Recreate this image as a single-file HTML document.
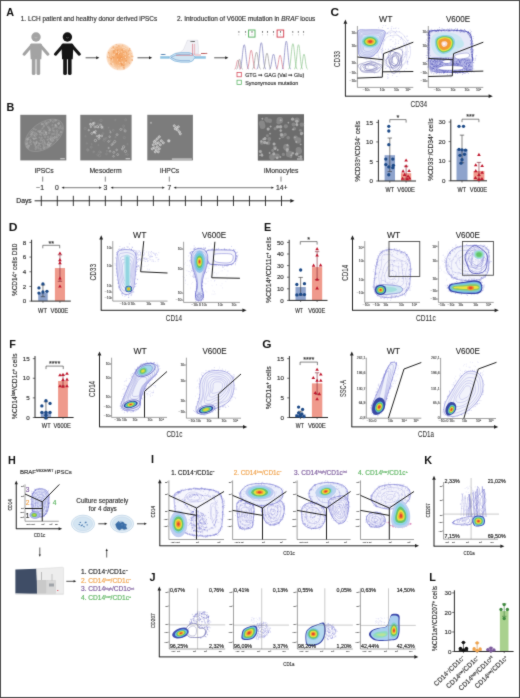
<!DOCTYPE html>
<html><head><meta charset="utf-8"><title>Figure</title>
<style>
html,body{margin:0;padding:0;background:#fff;}
body{width:520px;height:698px;overflow:hidden;font-family:"Liberation Sans", sans-serif;}
svg{display:block;}
text{font-family:"Liberation Sans", sans-serif;}
</style></head><body>
<svg width="520" height="698" viewBox="0 0 520 698">
<defs>
<radialGradient id="og" cx="0.5" cy="0.5" r="0.5"><stop offset="0" stop-color="#f4a25e"/><stop offset="0.55" stop-color="#f6b57e"/><stop offset="0.85" stop-color="#f9d0ac"/><stop offset="1" stop-color="#fdeadb"/></radialGradient>
<filter id="soft" x="0" y="0" width="520" height="698" filterUnits="userSpaceOnUse" color-interpolation-filters="sRGB"><feConvolveMatrix order="3" kernelMatrix="0.02 0.08 0.02 0.08 0.6 0.08 0.02 0.08 0.02" edgeMode="duplicate"/></filter>
</defs>
<rect x="0" y="0" width="520" height="698" fill="#fff"/>
<g filter="url(#soft)"><rect x="0" y="0" width="520" height="698" fill="#fff"/>
<rect x="0.5" y="0.5" width="519" height="697" fill="none" stroke="#4a4a4a" stroke-width="1" />
<text x="0" y="0" font-size="10.8" font-weight="bold" fill="#111" transform="translate(6.3 15.8) scale(1 1)">A</text>
<text x="0" y="0" font-size="10.8" font-weight="bold" fill="#111" transform="translate(6.5 110.6) scale(1 1)">B</text>
<text x="0" y="0" font-size="10.8" font-weight="bold" fill="#111" transform="translate(330.4 15.5) scale(1.1 1)">C</text>
<text x="0" y="0" font-size="10.8" font-weight="bold" fill="#111" transform="translate(8.8 231) scale(1.12 1)">D</text>
<text x="0" y="0" font-size="10.8" font-weight="bold" fill="#111" transform="translate(264 231.2) scale(1 1)">E</text>
<text x="0" y="0" font-size="10.8" font-weight="bold" fill="#111" transform="translate(9.2 347.8) scale(1 1)">F</text>
<text x="0" y="0" font-size="10.8" font-weight="bold" fill="#111" transform="translate(262.2 347.6) scale(1.1 1)">G</text>
<text x="0" y="0" font-size="10.8" font-weight="bold" fill="#111" transform="translate(8 463.9) scale(1 1)">H</text>
<text x="0" y="0" font-size="10.8" font-weight="bold" fill="#111" transform="translate(151 463.3) scale(1 1)">I</text>
<text x="0" y="0" font-size="10.8" font-weight="bold" fill="#111" transform="translate(149.4 581.4) scale(1 1)">J</text>
<text x="0" y="0" font-size="10.8" font-weight="bold" fill="#111" transform="translate(424.2 464) scale(1 1)">K</text>
<text x="0" y="0" font-size="10.8" font-weight="bold" fill="#111" transform="translate(429.2 580.9) scale(1 1)">L</text>
<text x="20.8" y="21.2" font-size="6.4" fill="#333" textLength="136.3" lengthAdjust="spacingAndGlyphs" stroke="#333" stroke-width="0.16">1. LCH patient and healthy donor derived iPSCs</text>
<text x="177" y="21.2" font-size="6.4" fill="#333" textLength="138.2" lengthAdjust="spacingAndGlyphs" stroke="#333" stroke-width="0.16">2. Introduction of V600E mutation in <tspan font-style="italic">BRAF</tspan> locus</text>
<g fill="#a3a3a3" stroke="none">
<circle cx="36" cy="37.0" r="4.7"/>
<path d="M31.7,43.6 h8.6 q1.6,0 1.7,1.8 l-0.7,13.8 h-10.6 l-0.7,-13.8 q0.1,-1.8 1.7,-1.8 z"/>
</g>
<g stroke="#a3a3a3" stroke-width="3.1" stroke-linecap="round" fill="none">
<path d="M31.7,45.4 L24.1,54.2"/>
<path d="M40.3,45.4 L47.9,54.2"/>
</g>
<g stroke="#a3a3a3" stroke-width="3.7" stroke-linecap="round" fill="none">
<path d="M33.65,57.5 V73.2"/>
<path d="M38.35,57.5 V73.2"/>
</g>
<path d="M34.6,37.4 q1.4,1.2 2.8,0" stroke="#fff" stroke-width="0.5" fill="none" opacity="0.5"/>
<g fill="#151515" stroke="none">
<circle cx="67.4" cy="37.0" r="4.7"/>
<path d="M63.1,43.6 h8.6 q1.6,0 1.7,1.8 l-0.7,13.8 h-10.6 l-0.7,-13.8 q0.1,-1.8 1.7,-1.8 z"/>
</g>
<g stroke="#151515" stroke-width="3.1" stroke-linecap="round" fill="none">
<path d="M63.1,45.4 L55.5,54.2"/>
<path d="M71.7,45.4 L79.3,54.2"/>
</g>
<g stroke="#151515" stroke-width="3.7" stroke-linecap="round" fill="none">
<path d="M65.05,57.5 V73.2"/>
<path d="M69.75,57.5 V73.2"/>
</g>
<path d="M66,37.4 q1.4,1.2 2.8,0" stroke="#fff" stroke-width="0.5" fill="none" opacity="0.5"/>
<line x1="85.6" y1="57.8" x2="96.7" y2="57.8" stroke="#222" stroke-width="0.75" />
<polygon points="99.4,57.8 96.2,59.3 96.2,56.3" fill="#222"/>
<line x1="137.5" y1="57.8" x2="149.5" y2="57.8" stroke="#222" stroke-width="0.75" />
<polygon points="152.2,57.8 149,59.3 149,56.3" fill="#222"/>
<line x1="214.2" y1="57.8" x2="225.7" y2="57.8" stroke="#222" stroke-width="0.75" />
<polygon points="228.4,57.8 225.2,59.3 225.2,56.3" fill="#222"/>
<circle cx="119.8" cy="56.8" r="13.6" fill="url(#og)"/>
<g fill="#e9853a" opacity="0.55"><circle cx="110.51" cy="59.67" r="0.77"/><circle cx="110.75" cy="58.78" r="0.61"/><circle cx="123.51" cy="65.33" r="0.63"/><circle cx="120.86" cy="52.96" r="0.49"/><circle cx="129.65" cy="63.11" r="0.66"/><circle cx="132.24" cy="60.15" r="0.78"/><circle cx="114.01" cy="48.4" r="0.42"/><circle cx="129.21" cy="57.69" r="0.38"/><circle cx="122.15" cy="62.75" r="0.36"/><circle cx="111.39" cy="58.74" r="0.73"/><circle cx="109.47" cy="55.55" r="0.57"/><circle cx="115.2" cy="49.31" r="0.48"/><circle cx="132.77" cy="56.61" r="0.73"/><circle cx="117.89" cy="49.76" r="0.45"/><circle cx="118.96" cy="60.14" r="0.69"/><circle cx="110.11" cy="63.81" r="0.52"/><circle cx="131.35" cy="53.68" r="0.35"/><circle cx="122.91" cy="68.81" r="0.56"/><circle cx="127.93" cy="55.79" r="0.38"/><circle cx="111.92" cy="48.47" r="0.47"/><circle cx="126.2" cy="60.7" r="0.78"/><circle cx="120.03" cy="52.34" r="0.46"/><circle cx="122.36" cy="58.69" r="0.71"/><circle cx="124.07" cy="65.54" r="0.55"/><circle cx="123.85" cy="67.16" r="0.41"/><circle cx="117.05" cy="53.32" r="0.54"/><circle cx="121.36" cy="63.37" r="0.79"/><circle cx="122.16" cy="50.03" r="0.75"/><circle cx="121.79" cy="64.72" r="0.73"/><circle cx="117.21" cy="53.6" r="0.8"/><circle cx="121.31" cy="63.23" r="0.7"/><circle cx="116.43" cy="63.02" r="0.38"/><circle cx="128.18" cy="62.12" r="0.46"/><circle cx="113.43" cy="52.09" r="0.55"/><circle cx="128.55" cy="54.5" r="0.61"/><circle cx="123.52" cy="52.67" r="0.42"/><circle cx="129.66" cy="50.4" r="0.46"/><circle cx="123.93" cy="67.19" r="0.77"/><circle cx="123.97" cy="68.76" r="0.75"/><circle cx="113.08" cy="51.69" r="0.4"/><circle cx="132.18" cy="59.87" r="0.46"/><circle cx="117.94" cy="50.48" r="0.72"/><circle cx="114.01" cy="52.79" r="0.43"/><circle cx="119.17" cy="53.45" r="0.45"/><circle cx="108.62" cy="52.43" r="0.63"/><circle cx="117.45" cy="69.03" r="0.44"/><circle cx="126.51" cy="57.5" r="0.55"/><circle cx="124.87" cy="58.82" r="0.52"/><circle cx="115.56" cy="54.73" r="0.51"/><circle cx="129.77" cy="48.65" r="0.65"/><circle cx="116.21" cy="47.53" r="0.41"/><circle cx="121.5" cy="57.18" r="0.76"/><circle cx="115.93" cy="44.64" r="0.36"/><circle cx="113.88" cy="49.98" r="0.68"/><circle cx="114.35" cy="68.6" r="0.38"/><circle cx="109.1" cy="53.61" r="0.76"/><circle cx="118.92" cy="45.93" r="0.71"/><circle cx="126.44" cy="52.87" r="0.66"/><circle cx="129.65" cy="49.72" r="0.54"/><circle cx="122.84" cy="45.11" r="0.61"/><circle cx="114.11" cy="51.12" r="0.61"/><circle cx="116.95" cy="54.47" r="0.64"/><circle cx="131.98" cy="56.29" r="0.68"/><circle cx="111.28" cy="63.99" r="0.61"/><circle cx="108.72" cy="61.15" r="0.39"/><circle cx="119.8" cy="54.56" r="0.62"/><circle cx="113.61" cy="57.54" r="0.66"/><circle cx="109.61" cy="56.98" r="0.76"/><circle cx="119.75" cy="58.18" r="0.49"/><circle cx="117.25" cy="51.54" r="0.43"/><circle cx="128.56" cy="50.9" r="0.55"/><circle cx="125.58" cy="52.12" r="0.65"/><circle cx="122.51" cy="64.89" r="0.71"/><circle cx="130.27" cy="50.54" r="0.52"/><circle cx="113.46" cy="53.15" r="0.41"/><circle cx="107.91" cy="57.06" r="0.73"/><circle cx="116.74" cy="44.5" r="0.47"/><circle cx="124.05" cy="64.42" r="0.47"/><circle cx="121.67" cy="64.95" r="0.63"/><circle cx="112.5" cy="57.08" r="0.73"/><circle cx="128.49" cy="55.82" r="0.38"/><circle cx="131.71" cy="59.19" r="0.37"/><circle cx="117.28" cy="47.31" r="0.49"/><circle cx="120.26" cy="55.06" r="0.41"/><circle cx="117.84" cy="57.37" r="0.72"/><circle cx="120.19" cy="61.66" r="0.37"/><circle cx="113.82" cy="50.5" r="0.63"/><circle cx="113.24" cy="47.14" r="0.78"/><circle cx="117.48" cy="51.48" r="0.56"/><circle cx="120.38" cy="58.02" r="0.56"/></g>
<g fill="#fde3cc" opacity="0.8"><circle cx="118.57" cy="51.44" r="0.47"/><circle cx="113.66" cy="65.75" r="0.58"/><circle cx="111.29" cy="49.35" r="0.53"/><circle cx="123.02" cy="44.85" r="0.39"/><circle cx="129.87" cy="52.26" r="0.41"/><circle cx="109.95" cy="59.76" r="0.76"/><circle cx="112.79" cy="63.65" r="0.75"/><circle cx="123.46" cy="44.71" r="0.56"/><circle cx="116.38" cy="52.01" r="0.67"/><circle cx="124.14" cy="47.33" r="0.67"/><circle cx="122.62" cy="68.81" r="0.79"/><circle cx="129.23" cy="55.45" r="0.71"/><circle cx="114.49" cy="68.01" r="0.74"/><circle cx="117.63" cy="59.85" r="0.55"/><circle cx="108.97" cy="53.26" r="0.57"/><circle cx="131.31" cy="58.88" r="0.38"/><circle cx="121.47" cy="51.66" r="0.5"/><circle cx="120.95" cy="52.06" r="0.42"/><circle cx="108.8" cy="55.65" r="0.73"/><circle cx="115.1" cy="45.06" r="0.57"/><circle cx="123.42" cy="55.6" r="0.45"/><circle cx="112.9" cy="55.63" r="0.68"/><circle cx="113.76" cy="49.6" r="0.73"/><circle cx="113.05" cy="54.13" r="0.52"/><circle cx="126.75" cy="46.61" r="0.44"/><circle cx="127.37" cy="46.49" r="0.59"/><circle cx="114.57" cy="54.22" r="0.59"/><circle cx="109.69" cy="56.6" r="0.36"/><circle cx="128.97" cy="55.02" r="0.53"/><circle cx="122.88" cy="47.54" r="0.57"/><circle cx="118.59" cy="53.69" r="0.59"/><circle cx="108.9" cy="63.36" r="0.77"/><circle cx="118.72" cy="65.68" r="0.41"/><circle cx="109.06" cy="61.55" r="0.76"/><circle cx="112.56" cy="57.88" r="0.44"/><circle cx="110.57" cy="48.36" r="0.41"/><circle cx="120.16" cy="54.87" r="0.44"/><circle cx="121.33" cy="67.47" r="0.49"/><circle cx="113.51" cy="64.87" r="0.4"/><circle cx="119.25" cy="52.28" r="0.58"/><circle cx="119.78" cy="62.58" r="0.59"/><circle cx="112.45" cy="59.88" r="0.54"/><circle cx="114.69" cy="55.85" r="0.44"/><circle cx="112.75" cy="49.17" r="0.59"/><circle cx="125.84" cy="48.62" r="0.74"/><circle cx="121.02" cy="67.92" r="0.71"/><circle cx="125.78" cy="52.61" r="0.49"/><circle cx="125.17" cy="53.97" r="0.8"/><circle cx="123.42" cy="53.71" r="0.46"/><circle cx="118.83" cy="50.25" r="0.39"/><circle cx="123.97" cy="49.46" r="0.71"/><circle cx="125.6" cy="62.67" r="0.66"/><circle cx="125.59" cy="57.45" r="0.66"/><circle cx="130.66" cy="50.04" r="0.4"/><circle cx="108.49" cy="56.4" r="0.58"/><circle cx="117.58" cy="51.6" r="0.38"/><circle cx="121.78" cy="58.36" r="0.6"/><circle cx="110.04" cy="55.89" r="0.42"/><circle cx="122.15" cy="62.18" r="0.73"/><circle cx="132.29" cy="56.04" r="0.39"/></g>
<g>
<path d="M187.4,40.2 q-1.5,4 -4,9.5 q-2,3 -8,3.5 l23,0.5 q0.5,-6 -0.7,-13.5 z" fill="#f1f1f6" stroke="#c9c9d6" stroke-width="0.4"/>
<rect x="160.2" y="56.2" width="9" height="2.5" fill="#8fc4e3" stroke="none" stroke-width="0.8" />
<rect x="194" y="56.2" width="11.8" height="2.5" fill="#8fc4e3" stroke="none" stroke-width="0.8" />
<path d="M168.6,57.4 Q174,52.6 181,52.6 L189,52.6 Q193,52.6 195,57.4 Q193,62.2 189,62.2 L181,62.2 Q174,62.2 168.6,57.4 z" fill="#cfe4f2" stroke="#6fa9d6" stroke-width="0.6"/>
<path d="M171,57.4 Q176,54.3 181,54.3 L190,54.3" stroke="#5b8fc6" stroke-width="0.5" fill="none"/>
<path d="M171,57.4 Q176,60.6 181,60.6 L190,60.6" stroke="#5b8fc6" stroke-width="0.5" fill="none"/>
<line x1="176" y1="55.3" x2="193" y2="55.3" stroke="#d05a6a" stroke-width="0.55" />
<line x1="192.6" y1="43.8" x2="192.6" y2="55" stroke="#d05a6a" stroke-width="0.6" />
<line x1="194.6" y1="43.8" x2="194.6" y2="55" stroke="#e0909a" stroke-width="0.6" />
<line x1="194.6" y1="55" x2="201" y2="55" stroke="#d05a6a" stroke-width="0.55" />
<text x="190.5" y="41.9" font-size="1.9" fill="#555" stroke="#555" stroke-width="0.16">Cas9</text>
<text x="201.2" y="54.3" font-size="1.9" fill="#a33" stroke="#a33" stroke-width="0.16">sgRNA</text>
<text x="160.8" y="55.3" font-size="1.9" fill="#3a6ea5" stroke="#3a6ea5" stroke-width="0.16">Xdna</text>
</g>
<circle cx="238.9" cy="31.9" r="0.55" fill="#222"/>
<rect x="238.65" y="34.2" width="0.5" height="1.2" fill="#999"/>
<circle cx="245.6" cy="31.9" r="0.55" fill="#222"/>
<rect x="245.35" y="34.2" width="0.5" height="1.2" fill="#999"/>
<circle cx="252" cy="31.9" r="0.55" fill="#222"/>
<rect x="251.75" y="34.2" width="0.5" height="1.2" fill="#999"/>
<circle cx="262.5" cy="31.9" r="0.55" fill="#222"/>
<rect x="262.25" y="34.2" width="0.5" height="1.2" fill="#999"/>
<circle cx="267.5" cy="31.9" r="0.55" fill="#222"/>
<rect x="267.25" y="34.2" width="0.5" height="1.2" fill="#999"/>
<circle cx="273.5" cy="31.9" r="0.55" fill="#222"/>
<rect x="273.25" y="34.2" width="0.5" height="1.2" fill="#999"/>
<circle cx="280.5" cy="31.9" r="0.55" fill="#222"/>
<rect x="280.25" y="34.2" width="0.5" height="1.2" fill="#999"/>
<circle cx="292.8" cy="31.9" r="0.55" fill="#222"/>
<rect x="292.55" y="34.2" width="0.5" height="1.2" fill="#999"/>
<circle cx="298.3" cy="31.9" r="0.55" fill="#222"/>
<rect x="298.05" y="34.2" width="0.5" height="1.2" fill="#999"/>
<circle cx="303.6" cy="31.9" r="0.55" fill="#222"/>
<rect x="303.35" y="34.2" width="0.5" height="1.2" fill="#999"/>
<rect x="248.6" y="30" width="6.4" height="7.1" fill="none" stroke="#4fae5a" stroke-width="0.9" />
<rect x="277.1" y="30" width="6.6" height="7.1" fill="none" stroke="#d1394a" stroke-width="0.9" />
<path d="M239.6,69.2 C242.13,69.2 242.59,44.7 244.2,44.7 C245.81,44.7 246.27,69.2 248.8,69.2 M256.7,69.2 C259.23,69.2 259.69,42.7 261.3,42.7 C262.91,42.7 263.37,69.2 265.9,69.2 M269.3,69.2 C271.61,69.2 272.03,54.2 273.5,54.2 C274.97,54.2 275.39,69.2 277.7,69.2 M281.9,69.2 C284.32,69.2 284.76,41.2 286.3,41.2 C287.84,41.2 288.28,69.2 290.7,69.2 " fill="none" stroke="#8484c0" stroke-width="0.75"/>
<path d="M246.9,69.2 C249.26,69.2 249.69,50.2 251.2,50.2 C252.7,50.2 253.13,69.2 255.5,69.2 M276.1,69.2 C278.3,69.2 278.7,55.2 280.1,55.2 C281.5,55.2 281.9,69.2 284.1,69.2 M234.6,69.2 C236.36,69.2 236.68,60.2 237.8,60.2 C238.92,60.2 239.24,69.2 241,69.2 " fill="none" stroke="#d9808f" stroke-width="0.75"/>
<path d="M252.3,69.2 C254.61,69.2 255.03,52.2 256.5,52.2 C257.97,52.2 258.39,69.2 260.7,69.2 M263,69.2 C265.2,69.2 265.6,53.2 267,53.2 C268.4,53.2 268.8,69.2 271,69.2 M236.5,69.2 C238.15,69.2 238.45,59.2 239.5,59.2 C240.55,59.2 240.85,69.2 242.5,69.2 " fill="none" stroke="#9e9e9e" stroke-width="0.75"/>
<path d="M288.5,69.2 C290.92,69.2 291.36,43.7 292.9,43.7 C294.44,43.7 294.88,69.2 297.3,69.2 M294.3,69.2 C296.61,69.2 297.03,44.7 298.5,44.7 C299.97,44.7 300.39,69.2 302.7,69.2 M300.4,69.2 C302.38,69.2 302.74,54.2 304,54.2 C305.26,54.2 305.62,69.2 307.6,69.2 " fill="none" stroke="#95c995" stroke-width="0.75"/>
<rect x="237" y="72.4" width="4.3" height="4.4" fill="none" stroke="#d1394a" stroke-width="0.7" />
<rect x="237" y="80.2" width="4.3" height="4.4" fill="none" stroke="#4fae5a" stroke-width="0.7" />
<text x="245.2" y="76.8" font-size="6" fill="#333" textLength="59" lengthAdjust="spacingAndGlyphs" stroke="#333" stroke-width="0.16">GTG ➞ GAG (Val ➞ Glu)</text>
<text x="245.2" y="84.6" font-size="6" fill="#333" textLength="53" lengthAdjust="spacingAndGlyphs" stroke="#333" stroke-width="0.16">Synonymous mutation</text>
<rect x="20.3" y="114.8" width="46" height="45.6" fill="#7c7c7c" stroke="none" stroke-width="0.8" />
<ellipse cx="44.22" cy="135.32" rx="21.62" ry="12.77" transform="rotate(-35 44.22 135.32)" fill="#838383" stroke="#a0a0a0" stroke-width="0.5"/>
<g fill="none" stroke="#b8b8b8" stroke-width="0.35"><circle cx="59.27" cy="134.74" r="0.81"/><circle cx="48.62" cy="142.42" r="0.68"/><circle cx="30.57" cy="134.4" r="0.54"/><circle cx="60.58" cy="126.21" r="0.67"/><circle cx="43.97" cy="134.83" r="0.68"/><circle cx="39.58" cy="131.76" r="0.88"/><circle cx="45.94" cy="132.64" r="0.51"/><circle cx="26.65" cy="144.02" r="0.65"/><circle cx="50.84" cy="139.88" r="0.51"/><circle cx="50.63" cy="140.26" r="0.7"/><circle cx="48.33" cy="139.35" r="0.59"/><circle cx="36.3" cy="142.82" r="0.51"/><circle cx="46.51" cy="124.51" r="0.76"/><circle cx="57.07" cy="139.59" r="0.84"/><circle cx="54.01" cy="134.21" r="0.79"/><circle cx="33.87" cy="128.97" r="0.67"/><circle cx="46.03" cy="123.67" r="0.62"/><circle cx="27.3" cy="140.06" r="0.84"/><circle cx="31.04" cy="144.18" r="0.51"/><circle cx="50.98" cy="143.5" r="0.67"/><circle cx="54.52" cy="137.6" r="0.78"/><circle cx="35.78" cy="133.35" r="0.68"/><circle cx="28.96" cy="145.33" r="0.71"/><circle cx="37.88" cy="146.05" r="0.51"/><circle cx="59.45" cy="127.93" r="0.89"/><circle cx="33" cy="138.16" r="0.57"/><circle cx="27.32" cy="146.95" r="0.81"/><circle cx="27.42" cy="143.77" r="0.59"/><circle cx="27.16" cy="146.04" r="0.73"/><circle cx="36.61" cy="142.56" r="0.72"/><circle cx="45.32" cy="134.26" r="0.81"/><circle cx="45.28" cy="122.27" r="0.8"/><circle cx="44.09" cy="125.7" r="0.72"/><circle cx="41.35" cy="138.87" r="0.85"/><circle cx="36.07" cy="138.27" r="0.7"/><circle cx="34.52" cy="142.93" r="0.64"/><circle cx="29.93" cy="142.59" r="0.74"/><circle cx="41.78" cy="137.66" r="0.59"/><circle cx="54.61" cy="137.97" r="0.84"/><circle cx="42.96" cy="123.87" r="0.83"/><circle cx="49.94" cy="144.59" r="0.77"/><circle cx="46.56" cy="134.62" r="0.51"/><circle cx="41.12" cy="130.26" r="0.54"/><circle cx="34.36" cy="136.23" r="0.53"/><circle cx="55.01" cy="136.63" r="0.57"/><circle cx="47.84" cy="144.86" r="0.68"/><circle cx="43.33" cy="144.9" r="0.51"/><circle cx="38.78" cy="145.27" r="0.58"/><circle cx="60.77" cy="132.4" r="0.7"/><circle cx="52.69" cy="140.28" r="0.83"/><circle cx="46.59" cy="133.92" r="0.56"/><circle cx="40.23" cy="132.43" r="0.78"/><circle cx="34.25" cy="132.69" r="0.59"/><circle cx="58.26" cy="123.51" r="0.71"/><circle cx="51.91" cy="141.43" r="0.66"/><circle cx="33.91" cy="138.77" r="0.75"/><circle cx="54.2" cy="131.19" r="0.89"/><circle cx="48.23" cy="126.87" r="0.84"/><circle cx="44.26" cy="148.32" r="0.8"/><circle cx="38.57" cy="142.93" r="0.5"/><circle cx="45.69" cy="132.34" r="0.83"/><circle cx="55.46" cy="124.88" r="0.57"/><circle cx="50.55" cy="120.34" r="0.78"/><circle cx="33.58" cy="142.28" r="0.64"/><circle cx="53.41" cy="140.31" r="0.67"/><circle cx="48.17" cy="136.95" r="0.77"/><circle cx="45.41" cy="144.3" r="0.63"/><circle cx="50.69" cy="120.88" r="0.51"/><circle cx="50.88" cy="138.55" r="0.89"/><circle cx="42.36" cy="128.37" r="0.59"/><circle cx="31.59" cy="132.38" r="0.87"/><circle cx="40.67" cy="149.1" r="0.77"/><circle cx="28.12" cy="147.99" r="0.59"/><circle cx="41.51" cy="133.06" r="0.57"/><circle cx="49.19" cy="128.3" r="0.8"/><circle cx="27.98" cy="138.88" r="0.65"/><circle cx="42.4" cy="143.18" r="0.85"/><circle cx="27.03" cy="138.76" r="0.85"/><circle cx="56.32" cy="134.92" r="0.54"/><circle cx="49.12" cy="132.84" r="0.85"/><circle cx="41.87" cy="124.17" r="0.64"/><circle cx="29" cy="137.5" r="0.65"/><circle cx="35.6" cy="138.41" r="0.53"/><circle cx="48.92" cy="145.61" r="0.73"/><circle cx="52.36" cy="125.18" r="0.61"/><circle cx="41.76" cy="124.23" r="0.5"/><circle cx="39.95" cy="134.46" r="0.55"/><circle cx="45.87" cy="132.25" r="0.6"/><circle cx="54.86" cy="127.17" r="0.55"/><circle cx="51.25" cy="136.57" r="0.8"/><circle cx="61.05" cy="131.85" r="0.65"/><circle cx="58.9" cy="122.48" r="0.62"/><circle cx="48.66" cy="142.2" r="0.54"/><circle cx="41.17" cy="135.11" r="0.5"/><circle cx="52.98" cy="128.33" r="0.74"/><circle cx="36.38" cy="143.32" r="0.53"/><circle cx="55.04" cy="120.36" r="0.89"/><circle cx="52.27" cy="134.01" r="0.75"/><circle cx="55.99" cy="125.74" r="0.78"/><circle cx="36.74" cy="134.3" r="0.72"/><circle cx="44.41" cy="141.91" r="0.53"/><circle cx="47.61" cy="147.03" r="0.68"/><circle cx="31.91" cy="134.46" r="0.88"/><circle cx="39.36" cy="143.82" r="0.63"/><circle cx="43.58" cy="147.93" r="0.86"/><circle cx="44.74" cy="142.87" r="0.72"/><circle cx="30.21" cy="139.81" r="0.6"/><circle cx="52.95" cy="130.12" r="0.53"/><circle cx="39.36" cy="137.5" r="0.53"/><circle cx="35.43" cy="135.61" r="0.82"/><circle cx="28.75" cy="146.72" r="0.56"/><circle cx="29.05" cy="145.83" r="0.53"/><circle cx="50.03" cy="129.36" r="0.81"/><circle cx="58.94" cy="123.77" r="0.63"/><circle cx="56.77" cy="132.99" r="0.87"/><circle cx="46.08" cy="147.19" r="0.56"/><circle cx="46.13" cy="132.61" r="0.63"/><circle cx="53.2" cy="121.61" r="0.86"/><circle cx="47.18" cy="122.72" r="0.78"/><circle cx="53.11" cy="137.66" r="0.56"/><circle cx="35.76" cy="129.7" r="0.6"/><circle cx="62.15" cy="128.36" r="0.82"/><circle cx="30.81" cy="141.46" r="0.84"/><circle cx="35.25" cy="144.24" r="0.64"/><circle cx="45.15" cy="136.93" r="0.76"/><circle cx="35.69" cy="146.75" r="0.52"/><circle cx="42.36" cy="140.88" r="0.55"/><circle cx="49.52" cy="144.77" r="0.66"/><circle cx="36.53" cy="147.3" r="0.59"/><circle cx="56.77" cy="127.03" r="0.7"/><circle cx="33.93" cy="134.81" r="0.77"/><circle cx="39.96" cy="131.29" r="0.7"/><circle cx="36.67" cy="141.51" r="0.66"/><circle cx="26.82" cy="142.4" r="0.87"/><circle cx="47.47" cy="144.54" r="0.52"/><circle cx="57.26" cy="130.69" r="0.85"/><circle cx="57.23" cy="136.88" r="0.85"/><circle cx="44.12" cy="146.54" r="0.84"/><circle cx="38.51" cy="148.07" r="0.79"/><circle cx="27.7" cy="139.39" r="0.86"/><circle cx="55.36" cy="124.81" r="0.57"/><circle cx="47.36" cy="139.87" r="0.73"/><circle cx="42.86" cy="132.97" r="0.77"/><circle cx="38.24" cy="131.15" r="0.71"/><circle cx="56.61" cy="137.28" r="0.52"/><circle cx="58.64" cy="123.69" r="0.75"/><circle cx="48.9" cy="145.79" r="0.88"/><circle cx="58.4" cy="135.17" r="0.84"/><circle cx="31.8" cy="133.8" r="0.68"/><circle cx="56.01" cy="120.54" r="0.65"/><circle cx="43.62" cy="126.74" r="0.57"/><circle cx="43.62" cy="140.32" r="0.86"/><circle cx="49.29" cy="130.51" r="0.74"/><circle cx="40.61" cy="140.56" r="0.62"/><circle cx="50.27" cy="143.61" r="0.5"/><circle cx="52.55" cy="138.4" r="0.51"/><circle cx="31.24" cy="136.32" r="0.83"/><circle cx="50.15" cy="138.61" r="0.72"/><circle cx="47.48" cy="144" r="0.6"/><circle cx="32.57" cy="131.71" r="0.82"/><circle cx="55.74" cy="125.49" r="0.7"/><circle cx="48.69" cy="122.2" r="0.73"/><circle cx="39.93" cy="143.49" r="0.54"/><circle cx="44.1" cy="130.76" r="0.8"/><circle cx="26.36" cy="143.84" r="0.8"/><circle cx="49.98" cy="130.4" r="0.7"/><circle cx="34.06" cy="138.88" r="0.7"/><circle cx="40.43" cy="146.22" r="0.5"/><circle cx="35.21" cy="145.07" r="0.62"/><circle cx="35.67" cy="148.87" r="0.77"/></g>
<rect x="60.3" y="158.4" width="4.5" height="0.8" fill="#eee" stroke="none" stroke-width="0.8" />
<rect x="80.3" y="114.8" width="51.3" height="45.6" fill="#7c7c7c" stroke="none" stroke-width="0.8" />
<g fill="none" stroke="#9a9a9a" stroke-width="0.4"><circle cx="125.7" cy="154.44" r="0.45"/><circle cx="87.97" cy="150.21" r="0.99"/><circle cx="113.3" cy="130.39" r="0.88"/><circle cx="110.57" cy="140.65" r="0.53"/><circle cx="102.95" cy="133.6" r="0.98"/><circle cx="127.38" cy="154.5" r="0.84"/><circle cx="103.56" cy="128.89" r="0.43"/><circle cx="85.49" cy="136.28" r="0.65"/><circle cx="100.75" cy="152.33" r="0.82"/><circle cx="108.57" cy="127.68" r="0.42"/><circle cx="98.38" cy="123.94" r="0.81"/><circle cx="127.54" cy="144.16" r="0.55"/><circle cx="122.99" cy="148.76" r="0.99"/><circle cx="123.56" cy="147.48" r="1.03"/><circle cx="99.62" cy="155.68" r="1.17"/><circle cx="91.28" cy="147.15" r="0.97"/><circle cx="104.28" cy="138.74" r="0.79"/><circle cx="124.35" cy="137.63" r="1.07"/><circle cx="99.62" cy="152" r="1.12"/><circle cx="104.26" cy="140.15" r="1.14"/><circle cx="115.64" cy="137.1" r="0.58"/><circle cx="98.36" cy="145.1" r="0.53"/><circle cx="123.61" cy="128.88" r="1.13"/><circle cx="97.7" cy="154.8" r="0.96"/><circle cx="106.13" cy="138.27" r="0.92"/><circle cx="109.76" cy="130.53" r="0.57"/><circle cx="106.46" cy="153.92" r="0.9"/><circle cx="87.56" cy="149.65" r="0.98"/><circle cx="123.6" cy="126" r="1"/><circle cx="86.84" cy="143.35" r="0.62"/><circle cx="94.11" cy="151.72" r="0.49"/><circle cx="106.92" cy="150.91" r="0.6"/><circle cx="93.41" cy="151.91" r="0.74"/><circle cx="115.34" cy="120" r="0.69"/><circle cx="91.74" cy="144.1" r="0.47"/><circle cx="125.63" cy="119.75" r="0.98"/><circle cx="85.22" cy="128.41" r="1.05"/><circle cx="91.1" cy="125.71" r="0.95"/><circle cx="101" cy="120.42" r="1.19"/><circle cx="90.86" cy="120.16" r="0.68"/></g>
<g fill="none" stroke="#dcdcdc" stroke-width="0.5"><circle cx="96.91" cy="136.16" r="0.67"/><circle cx="93.02" cy="123.35" r="0.87"/><circle cx="99.02" cy="136.12" r="1.14"/><circle cx="98.88" cy="138.32" r="1.02"/><circle cx="94.92" cy="126.86" r="1"/><circle cx="92.73" cy="124.64" r="0.87"/><circle cx="100.55" cy="125.1" r="0.95"/><circle cx="93.8" cy="132.07" r="0.69"/><circle cx="101.74" cy="127.46" r="0.96"/><circle cx="94.18" cy="123.12" r="0.93"/><circle cx="90.27" cy="123.82" r="0.62"/><circle cx="90.56" cy="124.53" r="0.98"/><circle cx="95.42" cy="140.5" r="1.16"/><circle cx="102.22" cy="126.98" r="0.87"/><circle cx="91.81" cy="133.44" r="0.97"/><circle cx="99.5" cy="135.57" r="0.75"/><circle cx="94.22" cy="132.27" r="0.6"/><circle cx="88.8" cy="130.16" r="0.67"/><circle cx="98.43" cy="127.14" r="0.66"/><circle cx="90.84" cy="126.97" r="0.73"/><circle cx="95.59" cy="131.16" r="0.79"/><circle cx="97.28" cy="126.62" r="1.14"/><circle cx="101.78" cy="135.92" r="0.86"/><circle cx="95.46" cy="133.26" r="0.63"/><circle cx="94.15" cy="132.25" r="0.71"/></g>
<g fill="none" stroke="#c8c8c8" stroke-width="0.5"><circle cx="109.99" cy="151.27" r="0.82"/><circle cx="117.65" cy="154.6" r="0.97"/><circle cx="113.51" cy="156.34" r="0.82"/><circle cx="108.64" cy="147.99" r="0.66"/><circle cx="113.81" cy="152.34" r="1"/><circle cx="108.58" cy="141.44" r="0.85"/><circle cx="117.05" cy="134.63" r="0.95"/><circle cx="109.63" cy="136.76" r="0.82"/><circle cx="125.13" cy="130.94" r="1.05"/><circle cx="111.76" cy="144.8" r="0.84"/><circle cx="116.64" cy="149.9" r="0.84"/><circle cx="110.49" cy="132.21" r="0.65"/><circle cx="123.6" cy="146.75" r="1.18"/><circle cx="120.77" cy="129.49" r="1"/><circle cx="122.29" cy="149.06" r="0.9"/><circle cx="114.74" cy="141.6" r="1.08"/><circle cx="113.14" cy="143.54" r="0.89"/><circle cx="125.48" cy="151.32" r="1.16"/></g>
<rect x="125.6" y="158.4" width="4.5" height="0.8" fill="#eee" stroke="none" stroke-width="0.8" />
<rect x="147.3" y="114.8" width="45.6" height="45.6" fill="#7c7c7c" stroke="none" stroke-width="0.8" />
<g fill="#9a9a9a" stroke="#f2f2f2" stroke-width="0.55"><circle cx="155.3" cy="140.8" r="1.05"/><circle cx="156.3" cy="143.8" r="1.05"/><circle cx="157.3" cy="146.8" r="1.05"/><circle cx="154.3" cy="147.8" r="1.05"/><circle cx="158.3" cy="142.8" r="1.05"/><circle cx="153.3" cy="144.8" r="1.05"/><circle cx="156.3" cy="149.8" r="1.05"/><circle cx="159.3" cy="148.8" r="1.05"/><circle cx="160.3" cy="144.8" r="1.05"/><circle cx="154.3" cy="141.8" r="1.05"/><circle cx="161.3" cy="140.8" r="1.05"/><circle cx="157.3" cy="138.8" r="1.05"/><circle cx="152.3" cy="148.8" r="1.05"/><circle cx="155.3" cy="151.8" r="1.05"/><circle cx="158.3" cy="151.8" r="1.05"/><circle cx="163.3" cy="142.8" r="1.05"/><circle cx="159.3" cy="136.8" r="1.05"/><circle cx="174.3" cy="125.8" r="1.05"/><circle cx="176.3" cy="127.8" r="1.05"/><circle cx="177.3" cy="129.8" r="1.05"/><circle cx="179.3" cy="131.8" r="1.05"/><circle cx="180.3" cy="133.8" r="1.05"/><circle cx="175.3" cy="128.8" r="1.05"/><circle cx="178.3" cy="126.8" r="1.05"/></g>
<circle cx="168.8" cy="140.8" r="1.6" fill="#c9c9c9"/>
<circle cx="151" cy="122.8" r="1.1" fill="#a8a8a8"/>
<rect x="171.9" y="158.6" width="20" height="0.9" fill="#f4f4f4" stroke="none" stroke-width="0.8" />
<rect x="257.9" y="114.4" width="46.1" height="46" fill="#7c7c7c" stroke="none" stroke-width="0.8" />
<rect x="257.9" y="114.4" width="46.1" height="46" fill="#6c6c6c" stroke="none" stroke-width="0.8" />
<g fill="#8e8e8e" opacity="0.85"><circle cx="269.84" cy="120.73" r="2.19"/><circle cx="266.42" cy="119.19" r="2.2"/><circle cx="298.55" cy="150.02" r="2.93"/><circle cx="269.24" cy="138.94" r="1.95"/><circle cx="267.17" cy="120.86" r="1.83"/><circle cx="298.95" cy="151.21" r="3.01"/><circle cx="293.6" cy="124.52" r="2.02"/><circle cx="286.3" cy="147.14" r="3.11"/><circle cx="296.95" cy="120.04" r="2.61"/><circle cx="288.18" cy="137.65" r="1.76"/><circle cx="279.84" cy="120.15" r="3.27"/><circle cx="296.34" cy="139.4" r="2"/><circle cx="298.16" cy="140.44" r="3.16"/><circle cx="295.6" cy="137.75" r="2.23"/><circle cx="285.11" cy="134.5" r="1.72"/><circle cx="272.75" cy="150.53" r="1.49"/><circle cx="261.85" cy="142.71" r="1.96"/><circle cx="282.41" cy="136.19" r="2.09"/><circle cx="301.89" cy="124.61" r="2.23"/><circle cx="268.43" cy="142.97" r="1.95"/><circle cx="274.88" cy="147.77" r="2.04"/><circle cx="283.41" cy="154.38" r="1.6"/><circle cx="262.49" cy="126.01" r="2.93"/><circle cx="285.81" cy="126.37" r="2.06"/><circle cx="267.37" cy="135.68" r="1.49"/><circle cx="289.26" cy="154.03" r="3.31"/><circle cx="290.84" cy="156.71" r="1.44"/><circle cx="272.07" cy="156.97" r="2.95"/><circle cx="277.18" cy="156.02" r="2.64"/><circle cx="294.33" cy="128.72" r="1.78"/><circle cx="278.6" cy="122.13" r="2.16"/><circle cx="300.39" cy="130.31" r="1.42"/><circle cx="261.79" cy="123.52" r="2.97"/><circle cx="275.17" cy="128.59" r="1.59"/></g>
<g fill="#b4b4b4" stroke="#d0d0d0" stroke-width="0.3" opacity="0.85"><circle cx="301.23" cy="134.21" r="0.79"/><circle cx="262.4" cy="118.72" r="0.75"/><circle cx="288.39" cy="122.68" r="0.64"/><circle cx="280.56" cy="126.86" r="1.5"/><circle cx="265.05" cy="138.63" r="1.3"/><circle cx="277.13" cy="157.88" r="1.03"/><circle cx="270.08" cy="133.65" r="0.63"/><circle cx="277.63" cy="126.84" r="1.4"/><circle cx="294.89" cy="137.34" r="0.63"/><circle cx="270.61" cy="126.58" r="0.79"/><circle cx="269.64" cy="152.93" r="0.73"/><circle cx="262.06" cy="155.38" r="1.11"/><circle cx="301.6" cy="133.32" r="1.41"/><circle cx="287.43" cy="149.62" r="1.27"/><circle cx="280.71" cy="120.3" r="0.79"/><circle cx="296.69" cy="154.19" r="1.43"/><circle cx="274.07" cy="143.99" r="1.32"/><circle cx="286.95" cy="150.62" r="1.08"/><circle cx="287.46" cy="145.21" r="0.84"/><circle cx="298.75" cy="156.56" r="0.67"/><circle cx="300.78" cy="156.79" r="1.2"/><circle cx="261.78" cy="154.16" r="0.71"/><circle cx="300.68" cy="144.42" r="0.65"/><circle cx="266.94" cy="143.08" r="1.11"/><circle cx="291.33" cy="155.35" r="0.8"/><circle cx="260.04" cy="155.14" r="0.61"/><circle cx="296.8" cy="121.27" r="1.33"/><circle cx="292.86" cy="153.27" r="1.1"/><circle cx="296.89" cy="124.87" r="1.2"/><circle cx="273.82" cy="153.85" r="1.3"/><circle cx="279.75" cy="138.51" r="0.62"/><circle cx="261.34" cy="141.37" r="1.04"/><circle cx="296.3" cy="141.94" r="0.72"/><circle cx="275.16" cy="148.64" r="1.07"/><circle cx="260.34" cy="151.58" r="1.34"/><circle cx="263.48" cy="139.22" r="0.94"/><circle cx="293.05" cy="129.47" r="0.81"/><circle cx="280.39" cy="156.98" r="0.69"/><circle cx="264.72" cy="142.48" r="1.4"/><circle cx="281.48" cy="134.63" r="1.37"/><circle cx="292.59" cy="119.21" r="1.39"/><circle cx="268.15" cy="129.1" r="1.35"/><circle cx="277.69" cy="149.93" r="0.75"/><circle cx="296.71" cy="123.81" r="0.73"/><circle cx="280.71" cy="130.62" r="1.09"/></g>
<rect x="297" y="158.6" width="5.5" height="0.8" fill="#eee" stroke="none" stroke-width="0.8" />
<text x="44.1" y="173.1" font-size="6.8" fill="#333" text-anchor="middle" stroke="#333" stroke-width="0.16">iPSCs</text>
<text x="105.5" y="173.1" font-size="6.8" fill="#333" text-anchor="middle" stroke="#333" stroke-width="0.16">Mesoderm</text>
<text x="169.6" y="173.1" font-size="6.8" fill="#333" text-anchor="middle" stroke="#333" stroke-width="0.16">iHPCs</text>
<text x="281.3" y="173.1" font-size="6.8" fill="#333" text-anchor="middle" stroke="#333" stroke-width="0.16">iMonocytes</text>
<line x1="42.7" y1="176.6" x2="42.7" y2="181.6" stroke="#333" stroke-width="0.6" />
<line x1="105.3" y1="176.6" x2="105.3" y2="181.6" stroke="#333" stroke-width="0.6" />
<line x1="169.3" y1="176.6" x2="169.3" y2="181.6" stroke="#333" stroke-width="0.6" />
<line x1="281" y1="176.6" x2="281" y2="181.6" stroke="#333" stroke-width="0.6" />
<text x="40.2" y="189.7" font-size="6.8" fill="#333" text-anchor="middle" stroke="#333" stroke-width="0.16">−1</text>
<text x="57" y="189.7" font-size="6.8" fill="#333" text-anchor="middle" stroke="#333" stroke-width="0.16">0</text>
<text x="105.3" y="189.7" font-size="6.8" fill="#333" text-anchor="middle" stroke="#333" stroke-width="0.16">3</text>
<text x="169.5" y="189.7" font-size="6.8" fill="#333" text-anchor="middle" stroke="#333" stroke-width="0.16">7</text>
<text x="281.8" y="189.7" font-size="6.8" fill="#333" text-anchor="middle" stroke="#333" stroke-width="0.16">14+</text>
<line x1="63.8" y1="187.7" x2="99.5" y2="187.7" stroke="#222" stroke-width="0.6" />
<polygon points="61.5,187.7 64.1,186.6 64.1,188.8" fill="#222"/>
<polygon points="101.8,187.7 99.2,186.6 99.2,188.8" fill="#222"/>
<line x1="112.9" y1="187.7" x2="162.5" y2="187.7" stroke="#222" stroke-width="0.6" />
<polygon points="110.6,187.7 113.2,186.6 113.2,188.8" fill="#222"/>
<polygon points="164.8,187.7 162.2,186.6 162.2,188.8" fill="#222"/>
<line x1="175.9" y1="187.7" x2="271.7" y2="187.7" stroke="#222" stroke-width="0.6" />
<polygon points="173.6,187.7 176.2,186.6 176.2,188.8" fill="#222"/>
<polygon points="274,187.7 271.4,186.6 271.4,188.8" fill="#222"/>
<text x="16.3" y="202.9" font-size="6.4" fill="#222" textLength="15.4" lengthAdjust="spacingAndGlyphs" stroke="#222" stroke-width="0.16">Days</text>
<line x1="34.6" y1="200.8" x2="290.8" y2="200.8" stroke="#222" stroke-width="0.95" />
<polygon points="294.5,200.8 290.3,202.7 290.3,198.9" fill="#222"/>
<line x1="41.3" y1="195.8" x2="41.3" y2="206" stroke="#222" stroke-width="0.9" />
<line x1="57.31" y1="195.8" x2="57.31" y2="206" stroke="#222" stroke-width="0.9" />
<line x1="73.33" y1="195.8" x2="73.33" y2="206" stroke="#222" stroke-width="0.9" />
<line x1="89.34" y1="195.8" x2="89.34" y2="206" stroke="#222" stroke-width="0.9" />
<line x1="105.35" y1="195.8" x2="105.35" y2="206" stroke="#222" stroke-width="0.9" />
<line x1="121.37" y1="195.8" x2="121.37" y2="206" stroke="#222" stroke-width="0.9" />
<line x1="137.38" y1="195.8" x2="137.38" y2="206" stroke="#222" stroke-width="0.9" />
<line x1="153.39" y1="195.8" x2="153.39" y2="206" stroke="#222" stroke-width="0.9" />
<line x1="169.4" y1="195.8" x2="169.4" y2="206" stroke="#222" stroke-width="0.9" />
<line x1="185.42" y1="195.8" x2="185.42" y2="206" stroke="#222" stroke-width="0.9" />
<line x1="201.43" y1="195.8" x2="201.43" y2="206" stroke="#222" stroke-width="0.9" />
<line x1="217.44" y1="195.8" x2="217.44" y2="206" stroke="#222" stroke-width="0.9" />
<line x1="233.46" y1="195.8" x2="233.46" y2="206" stroke="#222" stroke-width="0.9" />
<line x1="249.47" y1="195.8" x2="249.47" y2="206" stroke="#222" stroke-width="0.9" />
<line x1="265.48" y1="195.8" x2="265.48" y2="206" stroke="#222" stroke-width="0.9" />
<line x1="281.5" y1="195.8" x2="281.5" y2="206" stroke="#222" stroke-width="0.9" />
<text x="385.8" y="22.4" font-size="8.6" fill="#222" text-anchor="middle" stroke="#222" stroke-width="0.08">WT</text>
<text x="458.1" y="22.4" font-size="8.6" fill="#222" text-anchor="middle" textLength="24.2" lengthAdjust="spacingAndGlyphs" stroke="#222" stroke-width="0.08">V600E</text>
<line x1="345.4" y1="96.2" x2="345.4" y2="23.3" stroke="#222" stroke-width="1" />
<polygon points="345.4,19.6 347.3,23.8 343.5,23.8" fill="#222"/>
<line x1="345" y1="96.2" x2="489.1" y2="96.2" stroke="#222" stroke-width="1" />
<polygon points="492.8,96.2 488.6,98.1 488.6,94.3" fill="#222"/>
<text x="340.3" y="58.9" font-size="8.8" fill="#333" text-anchor="middle" textLength="16.0" lengthAdjust="spacingAndGlyphs" transform="rotate(-90 340.3 58.9)" stroke="#333" stroke-width="0.08">CD33</text>
<text x="418.9" y="107" font-size="8.8" fill="#333" text-anchor="middle" textLength="16.7" lengthAdjust="spacingAndGlyphs" stroke="#333" stroke-width="0.08">CD34</text>
<path transform="scale(.1)" d="M3982 713h0M3770 380h0M3925 755h0M3941 339h0M3763 516h0M4026 523h0M3826 484h0M3911 395h0M3885 575h0M4086 516h0M4013 370h0M4015 553h0M3798 521h0M4019 471h0M4002 722h0M4044 704h0M3709 578h0M3788 677h0M3898 568h0M3957 422h0M3901 399h0M4103 470h0M3886 284h0M3701 408h0M3999 650h0M3930 413h0M4080 402h0M3758 608h0M3738 570h0M4029 515h0M3952 534h0M3832 256h0M3712 525h0M3683 447h0M3913 727h0M3702 446h0M3922 621h0M3746 732h0M3774 691h0M3853 601h0M4078 618h0M3905 357h0M3800 317h0M4069 363h0M3681 668h0M4059 470h0M4005 393h0M3795 615h0M3949 444h0M4075 622h0M3905 334h0M3908 467h0M3874 665h0M3793 574h0M4006 586h0M4072 361h0M3876 333h0M3877 784h0M3678 483h0M3989 542h0M3993 315h0M4017 378h0M3716 612h0M3958 398h0M3757 490h0M3883 493h0M3787 278h0M4063 551h0M3743 324h0M3775 451h0M3685 668h0M3953 465h0M3941 566h0M4038 549h0M4022 715h0M3832 440h0M3747 483h0M3768 525h0M3932 620h0M3735 678h0M3831 502h0M3825 275h0M3912 283h0M4043 529h0M4073 612h0M3972 723h0M3876 745h0M3861 571h0M3778 617h0M3986 434h0M3702 516h0M3951 493h0M3742 406h0M3857 256h0M3806 730h0M3703 487h0M4079 615h0M4022 497h0M3781 765h0M3932 567h0M4074 628h0M3890 340h0M3856 494h0M3782 378h0M3731 502h0M3787 594h0M4031 574h0M3884 747h0M3964 311h0M3768 556h0M3754 644h0M3721 325h0M4023 616h0M3677 532h0M4044 369h0M3734 352h0M3770 302h0M3818 308h0M3887 778h0M3738 659h0M3987 284h0M3899 519h0M3829 659h0M3809 585h0M3816 495h0M3804 768h0M3872 337h0M4062 686h0M3849 403h0M3782 706h0M3829 395h0M4010 474h0M3874 768h0M3993 703h0M3937 719h0M3855 684h0M4033 453h0M3706 602h0M3861 631h0M3786 613h0M3969 765h0M4091 572h0M4065 430h0M4049 543h0M4061 571h0M3844 394h0M4057 530h0M3991 604h0M3662 593h0M3820 592h0M3936 284h0M3828 509h0M3938 678h0M3772 479h0M3951 285h0M4081 405h0M4062 543h0M4079 644h0M3876 285h0M3902 581h0M3954 327h0M3760 393h0M3923 371h0M3862 679h0M3824 724h0M3929 474h0M4036 600h0M3834 414h0M3873 585h0M4044 564h0M3798 322h0M3922 593h0M4040 437h0M3713 642h0M3856 326h0M4072 636h0M3891 573h0M3775 678h0M3811 439h0M3838 336h0M3996 732h0M3960 279h0M3832 406h0M3919 267h0M3656 467h0M4027 489h0M4097 427h0M3887 492h0M3768 690h0M3717 374h0M3822 433h0M4039 437h0M3960 437h0M4059 518h0M3913 291h0M3987 411h0M4013 605h0M3957 699h0M3937 371h0M3907 553h0" stroke="#8a8ae0" stroke-width="8" stroke-linecap="round" opacity="0.45" fill="none"/>
<path d="M410.5,50L410.5,53.9L409.5,57.5L407.7,60.5L405.6,63L403.4,65L401.2,66.7L398.9,68L396.5,68.7L394,68.5L391.6,67.8L389.4,66.8L387.1,65.9L384.7,64.8L382.3,63.1L380.1,60.7L378.6,57.5L378,53.8L378,50L378.5,46.4L379.2,42.8L380.4,39.5L382,36.6L384.2,34.4L386.7,33.1L389.2,32.5L391.6,32.2L394,31.9L396.4,31.7L398.9,32L401.3,33.1L403.5,34.9L405.3,37.4L406.9,40.1L408.4,43L409.7,46.3Z" fill="none" stroke="#5d5dc4" stroke-width="0.35" opacity="0.45" stroke-linejoin="round"/>
<path d="M407.3,50L407.2,53.1L407,56.3L406.4,59.5L405.1,62.4L403,64.4L400.6,65.3L398.3,65.6L396.1,66L394,66.7L391.7,67.5L389.2,67.5L387,66.2L385.4,63.7L384.4,60.8L383.6,58L382.8,55.4L381.7,52.9L380.9,50L380.7,46.9L381.3,43.8L382.4,41.1L383.8,38.5L385.2,36L386.8,33.4L388.9,31.4L391.4,30.6L394,31.5L396.2,33.4L397.9,35.5L399.6,37.1L401.4,38.2L403.5,39.4L405.4,41.2L406.7,43.8L407.2,46.9Z" fill="none" stroke="#5d5dc4" stroke-width="0.35" opacity="0.45" stroke-linejoin="round"/>
<path d="M406.1,50L406.1,52.8L405.5,55.6L404.3,57.9L402.8,59.9L401.3,61.6L399.7,63.2L398,64.5L396,65.4L394,65.5L392,64.9L390.2,63.8L388.5,62.7L386.8,61.4L385.1,60L383.6,58L382.6,55.5L382.2,52.8L382.3,50L382.6,47.3L383.1,44.7L383.7,42.1L384.8,39.7L386.3,37.7L388.1,36.5L390.1,35.8L392.1,35.5L394,35.3L396,35.2L398,35.5L399.9,36.4L401.5,38.1L402.8,40.2L403.8,42.4L404.7,44.8L405.5,47.3Z" fill="none" stroke="#5d5dc4" stroke-width="0.35" opacity="0.45" stroke-linejoin="round"/>
<path d="M358.3,30.6C359.6,29.2 363.2,30 366,29.9C368.8,29.8 372,29.7 375,29.8C378,29.9 382.1,29.9 383.8,30.6C385.5,31.3 385.3,32.1 385,34C384.7,35.9 383.2,39.2 382,42C380.8,44.8 379.7,48.6 378,51C376.3,53.4 374.2,55.4 372,56.5C369.8,57.6 367.1,58 365,57.8C362.9,57.6 360.4,57.1 359.3,55.5C358.2,53.9 358.4,50.9 358.2,48C358,45.1 358.1,40.9 358.1,38C358.1,35.1 357,32 358.3,30.6Z" fill="#dfe5f7" stroke="#6262c8" stroke-width="0.55" opacity="1"/>
<path d="M359.7,31.9C360.9,30.7 364,31.2 366.4,31.1C368.9,30.9 371.8,31 374.5,31.1C377.2,31.2 381,31.1 382.5,31.7C384.1,32.3 384,33 383.6,34.7C383.3,36.5 381.7,39.5 380.6,42C379.5,44.5 378.5,47.6 377.1,49.9C375.6,52.1 373.8,54.3 371.9,55.3C370,56.3 367.5,56.2 365.6,56C363.7,55.8 361.7,55.4 360.6,54C359.5,52.5 359.3,50.2 359.1,47.6C358.9,45 359.3,41 359.4,38.4C359.5,35.8 358.5,33.1 359.7,31.9Z" fill="none" stroke="#7878d4" stroke-width="0.35" opacity="0.8"/>
<path d="M360.5,32.7C361.6,31.6 364.6,32.4 366.9,32.3C369.2,32.2 371.8,32 374.1,32.2C376.5,32.3 379.6,32.5 380.9,33.1C382.3,33.6 382.4,34.1 382.2,35.5C382,37 380.9,39.7 379.9,42C379,44.3 377.9,47.2 376.5,49.2C375.1,51.2 373.5,52.8 371.7,53.8C370,54.7 367.7,55 366.1,54.8C364.4,54.6 362.7,53.8 361.8,52.5C360.8,51.2 360.7,49.2 360.5,46.9C360.3,44.6 360.5,41.1 360.5,38.8C360.5,36.4 359.5,33.8 360.5,32.7Z" fill="none" stroke="#7878d4" stroke-width="0.35" opacity="0.8"/>
<path d="M362.1,34.1C363,33.2 365.5,33.9 367.4,33.8C369.4,33.6 371.7,33.2 373.7,33.3C375.8,33.3 378.6,33.5 379.8,34C381,34.5 381,35 380.8,36.3C380.6,37.7 379.6,40 378.7,42C377.9,44 377,46.6 375.8,48.4C374.6,50.1 373.1,51.6 371.6,52.4C370.1,53.2 368.2,53.1 366.7,53C365.2,52.9 363.3,52.8 362.5,51.6C361.7,50.5 362.1,48.3 361.9,46.2C361.8,44.1 361.6,41.1 361.6,39.1C361.6,37.1 361.1,35 362.1,34.1Z" fill="none" stroke="#7878d4" stroke-width="0.35" opacity="0.8"/>
<path d="M363,35C363.8,34.2 366.2,34.9 367.9,34.9C369.6,34.9 371.4,34.8 373.1,34.8C374.9,34.9 377.3,34.9 378.3,35.3C379.4,35.6 379.6,35.9 379.4,37.1C379.3,38.2 378.1,40.3 377.4,42C376.6,43.7 376,46 375,47.4C374,48.9 372.7,49.9 371.4,50.6C370.1,51.3 368.5,51.6 367.2,51.5C365.9,51.4 364.5,51 363.8,50C363.2,49.1 363.3,47.3 363.2,45.6C363.1,43.8 363.1,41.3 363,39.6C363,37.8 362.2,35.8 363,35Z" fill="none" stroke="#7878d4" stroke-width="0.35" opacity="0.8"/>
<ellipse cx="370.2" cy="41.6" rx="10" ry="6.8" fill="#bcdcf2" stroke="none" stroke-width="0.4" opacity="1" />
<ellipse cx="370.2" cy="41.6" rx="8.2" ry="5.58" fill="#7fd0dc" stroke="none" stroke-width="0.4" opacity="1" />
<ellipse cx="370.2" cy="41.6" rx="6.6" ry="4.49" fill="#63c26a" stroke="none" stroke-width="0.4" opacity="1" />
<ellipse cx="370.2" cy="41.6" rx="5" ry="3.4" fill="#e6e23c" stroke="none" stroke-width="0.4" opacity="1" />
<ellipse cx="370.2" cy="41.6" rx="3.6" ry="2.45" fill="#f39b33" stroke="none" stroke-width="0.4" opacity="1" />
<ellipse cx="370.2" cy="41.6" rx="2" ry="1.36" fill="#e2452d" stroke="none" stroke-width="0.4" opacity="1" />
<path d="M400.8,60.4L401.1,61.9L401.7,63.9L401.9,66.1L401.3,68L400.2,69.3L398.9,70.1L397.7,70.9L396.4,72L395,73.1L393.4,73.5L391.9,72.6L390.8,70.7L390.1,68.7L389.4,67L388.4,65.8L387.2,64.5L386.2,62.6L386.1,60.4L386.9,58.4L388.3,56.9L389.5,55.9L390.2,54.7L390.6,53L391.2,50.9L392.2,49.3L393.5,48.5L395,48.5L396.4,48.7L398,48.7L399.7,48.8L401.4,49.6L402.5,51.4L402.7,54.1L402.1,56.7L401.2,58.8Z" fill="none" stroke="#50509e" stroke-width="0.45" opacity="0.9" stroke-linejoin="round"/>
<path d="M401.8,60.4L401.5,62L401.1,63.6L400.6,65L399.9,66.3L399.2,67.5L398.4,68.7L397.4,69.7L396.2,70.5L395,70.7L393.8,70.3L392.7,69.3L391.9,68L391.3,66.7L390.8,65.4L390.2,64.3L389.6,63.2L389,61.9L388.5,60.4L388.1,58.7L388.1,56.8L388.4,54.9L389.1,53.3L390.1,52.1L391.4,51.5L392.7,51.5L393.9,51.9L395,52.3L396,52.6L396.9,52.8L398,53L399.1,53.5L400.1,54.3L400.9,55.5L401.5,57L401.8,58.7Z" fill="none" stroke="#50509e" stroke-width="0.45" opacity="0.9" stroke-linejoin="round"/>
<path d="M400.4,60.4L400.1,61.7L399.8,62.9L399.4,64L398.9,65.1L398.3,66L397.6,66.7L396.7,67.2L395.9,67.5L395,67.8L394.1,68L393.1,67.9L392.1,67.6L391.2,66.8L390.6,65.7L390.1,64.4L389.8,63.1L389.6,61.8L389.5,60.4L389.6,59.1L390,57.8L390.6,56.7L391.2,55.9L391.9,55.1L392.5,54.3L393.3,53.6L394.1,53L395,52.6L396,52.7L396.9,53L397.8,53.6L398.6,54.3L399.4,55.1L400,56.2L400.5,57.6L400.6,59Z" fill="none" stroke="#50509e" stroke-width="0.45" opacity="0.9" stroke-linejoin="round"/>
<path d="M399.2,60.4L399.4,61.5L399.4,62.7L399.2,63.9L398.8,64.9L398.1,65.6L397.3,66L396.5,66.1L395.7,66.1L395,66.1L394.3,66L393.6,65.8L392.9,65.6L392.2,65.2L391.5,64.6L390.9,63.8L390.4,62.8L390.2,61.6L390.2,60.4L390.5,59.3L391,58.3L391.5,57.5L392,56.8L392.4,56L392.9,55.2L393.5,54.5L394.2,54L395,53.7L395.8,53.8L396.6,54.2L397.3,54.8L397.9,55.5L398.3,56.5L398.6,57.4L398.8,58.4L399,59.4Z" fill="none" stroke="#50509e" stroke-width="0.45" opacity="0.9" stroke-linejoin="round"/>
<path d="M398.4,60.4L398.4,61.3L398.2,62.1L397.9,62.8L397.5,63.4L397.1,64L396.7,64.5L396.2,65.1L395.6,65.6L395,66L394.3,66L393.6,65.8L393,65.3L392.5,64.7L392,64L391.7,63.1L391.5,62.2L391.5,61.3L391.7,60.4L391.9,59.6L392.1,58.9L392.3,58.2L392.5,57.4L392.8,56.6L393.2,55.9L393.7,55.4L394.3,55.1L395,54.9L395.7,54.9L396.4,55.1L397,55.5L397.5,56.1L397.9,56.9L398.1,57.8L398.3,58.7L398.4,59.6Z" fill="none" stroke="#50509e" stroke-width="0.45" opacity="0.9" stroke-linejoin="round"/>
<path d="M398,60.4L398.1,61.2L397.9,61.9L397.7,62.6L397.5,63.4L397.2,64.2L396.8,64.8L396.2,65.1L395.6,64.9L395,64.4L394.6,63.9L394.2,63.6L393.8,63.5L393.3,63.4L392.8,63.1L392.4,62.5L392.3,61.8L392.2,61.1L392.2,60.4L392.1,59.7L392,58.8L392.1,58L392.5,57.4L393,57L393.5,56.7L394,56.5L394.5,56.2L395,55.8L395.6,55.8L396.1,56.1L396.4,56.8L396.6,57.6L396.8,58.3L397,58.7L397.4,59.2L397.8,59.7Z" fill="none" stroke="#50509e" stroke-width="0.45" opacity="0.9" stroke-linejoin="round"/>
<path d="M381.9,67.2L381.1,68.1L380.4,68.9L380,69.8L379.6,70.8L378.6,71.7L376.8,72.3L374.5,72.5L372.3,72.4L370.2,72.3L368.2,72.4L366,72.4L363.8,72.2L361.9,71.6L360.8,70.7L360.4,69.8L360.1,68.9L359.5,68L358.7,67.2L358,66.2L358.2,65.2L359.4,64.4L361.2,63.8L362.9,63.3L364.5,62.8L366.1,62.1L368,61.5L370.2,61.2L372.5,61.4L374.4,62.1L375.9,62.8L377.3,63.4L379,63.9L380.7,64.5L382,65.3L382.4,66.2Z" fill="none" stroke="#50509e" stroke-width="0.45" opacity="0.9" stroke-linejoin="round"/>
<path d="M380.3,67.2L379.2,67.9L378,68.5L377.2,69L376.7,69.7L376.2,70.4L375.2,71.1L373.6,71.4L371.8,71.4L370.2,71.1L368.7,71L367,71.1L365.1,71.2L363.1,71L361.6,70.4L360.9,69.6L360.9,68.7L360.9,67.9L360.8,67.2L360.6,66.4L360.7,65.7L361.7,65L363.3,64.6L365,64.4L366.4,64.3L367.5,63.9L368.7,63.3L370.2,62.7L372.1,62.4L373.9,62.6L375.4,63.2L376.5,63.8L377.7,64.4L379,64.9L380.2,65.6L380.7,66.4Z" fill="none" stroke="#50509e" stroke-width="0.45" opacity="0.9" stroke-linejoin="round"/>
<path d="M377.2,67.2L376.7,67.7L376.4,68.2L376.3,68.8L376,69.4L375.4,70L374.3,70.4L373,70.6L371.6,70.7L370.2,70.8L368.8,70.9L367.3,70.8L365.9,70.6L364.9,70.1L364.4,69.4L364.2,68.8L364,68.2L363.6,67.7L363.1,67.2L362.8,66.6L363,66L363.6,65.5L364.5,65.1L365.5,64.7L366.4,64.2L367.4,63.8L368.7,63.4L370.2,63.3L371.6,63.5L372.9,63.9L373.9,64.3L375,64.6L376.1,65L377.1,65.4L377.7,66L377.7,66.6Z" fill="none" stroke="#50509e" stroke-width="0.45" opacity="0.9" stroke-linejoin="round"/>
<path d="M376.3,67.2L376.3,67.7L376.1,68.2L375.6,68.6L374.8,69L373.9,69.2L373.1,69.4L372.2,69.7L371.3,70L370.2,70.2L369,70.4L367.7,70.2L366.7,69.9L366.1,69.4L365.7,68.9L365.4,68.4L365.2,68L365,67.6L364.9,67.2L364.9,66.8L365,66.4L365.1,65.9L365.3,65.3L365.7,64.8L366.5,64.3L367.7,64.1L369,64.1L370.2,64.3L371.2,64.6L372.1,64.8L373,65L373.9,65.2L374.7,65.5L375.4,65.9L375.8,66.3L376.1,66.7Z" fill="none" stroke="#50509e" stroke-width="0.45" opacity="0.9" stroke-linejoin="round"/>
<path d="M375.1,67.2L375.2,67.6L375.1,68L374.8,68.4L374.2,68.7L373.5,69L372.7,69.1L371.9,69.3L371,69.3L370.2,69.4L369.4,69.3L368.6,69.2L367.9,69L367.3,68.8L366.7,68.5L366.1,68.3L365.6,68L365.1,67.6L365,67.2L365.1,66.8L365.4,66.4L365.8,66.1L366.4,65.7L367,65.5L367.7,65.2L368.5,65.1L369.3,65L370.2,65.1L371,65.1L371.8,65.2L372.5,65.4L373.3,65.6L373.9,65.8L374.4,66.1L374.7,66.5L374.9,66.8Z" fill="none" stroke="#50509e" stroke-width="0.45" opacity="0.9" stroke-linejoin="round"/>
<line x1="357.4" y1="26" x2="357.4" y2="87.4" stroke="#555" stroke-width="0.55" />
<line x1="357.4" y1="87.4" x2="413.3" y2="87.4" stroke="#555" stroke-width="0.55" />
<text x="356.4" y="33.7" font-size="3.4" fill="#555" text-anchor="end" stroke="#555" stroke-width="0.16">10³</text>
<line x1="356.7" y1="32.8" x2="357.4" y2="32.8" stroke="#777" stroke-width="0.3" />
<text x="356.4" y="46.7" font-size="3.4" fill="#555" text-anchor="end" stroke="#555" stroke-width="0.16">10²</text>
<line x1="356.7" y1="45.8" x2="357.4" y2="45.8" stroke="#777" stroke-width="0.3" />
<text x="356.4" y="64.3" font-size="3.4" fill="#555" text-anchor="end" stroke="#555" stroke-width="0.16">10¹</text>
<line x1="356.7" y1="63.4" x2="357.4" y2="63.4" stroke="#777" stroke-width="0.3" />
<text x="356.4" y="74.4" font-size="3.4" fill="#555" text-anchor="end" stroke="#555" stroke-width="0.16">−10¹</text>
<line x1="356.7" y1="73.5" x2="357.4" y2="73.5" stroke="#777" stroke-width="0.3" />
<text x="356.4" y="82" font-size="3.4" fill="#555" text-anchor="end" stroke="#555" stroke-width="0.16">−10²</text>
<line x1="356.7" y1="81.1" x2="357.4" y2="81.1" stroke="#777" stroke-width="0.3" />
<text x="366.2" y="90.8" font-size="3.4" fill="#555" text-anchor="middle" stroke="#555" stroke-width="0.16">−10¹</text>
<text x="382.3" y="90.8" font-size="3.4" fill="#555" text-anchor="middle" stroke="#555" stroke-width="0.16">10²</text>
<text x="396.4" y="90.8" font-size="3.4" fill="#555" text-anchor="middle" stroke="#555" stroke-width="0.16">10³</text>
<text x="407.9" y="90.8" font-size="3.4" fill="#555" text-anchor="middle" stroke="#555" stroke-width="0.16">10⁴</text>
<polyline points="357.4,57 383,59.7 382.3,77.2 357.4,78.1" fill="none" stroke="#222" stroke-width="1" stroke-linejoin="round"/>
<polyline points="383,59.7 383.6,53.6 413.3,42.2" fill="none" stroke="#222" stroke-width="1" stroke-linejoin="round"/>
<line x1="383" y1="71.8" x2="413.3" y2="71.5" stroke="#222" stroke-width="1" />
<path transform="scale(.1)" d="M4610 495h0M4767 558h0M4555 603h0M4435 396h0M4613 440h0M4657 483h0M4326 371h0M4425 290h0M4506 465h0M4661 385h0M4479 625h0M4632 359h0M4723 433h0M4703 473h0M4458 327h0M4507 774h0M4435 732h0M4714 461h0M4662 704h0M4467 423h0M4694 578h0M4756 570h0M4340 513h0M4349 634h0M4640 448h0M4386 661h0M4463 712h0M4361 474h0M4436 353h0M4732 656h0M4419 655h0M4323 664h0M4691 465h0M4457 567h0M4602 454h0M4379 476h0M4449 657h0M4537 567h0M4302 469h0M4452 427h0M4500 464h0M4327 646h0M4669 436h0M4621 369h0M4331 490h0M4735 508h0M4310 557h0M4428 399h0M4568 290h0M4331 361h0M4696 541h0M4423 406h0M4619 710h0M4401 574h0M4757 586h0M4469 592h0M4546 648h0M4591 438h0M4507 600h0M4408 542h0M4401 705h0M4723 412h0M4669 558h0M4546 482h0M4571 694h0M4360 672h0M4486 346h0M4521 645h0M4513 586h0M4470 431h0M4674 386h0M4685 584h0M4479 488h0M4477 524h0M4522 504h0M4352 330h0M4589 417h0M4429 499h0M4393 722h0M4530 497h0M4374 663h0M4621 728h0M4665 400h0M4371 703h0M4412 511h0M4503 622h0M4614 362h0M4446 298h0M4628 501h0M4326 656h0M4531 359h0M4458 425h0M4550 570h0M4432 607h0M4275 492h0M4627 679h0M4648 369h0M4304 481h0M4761 555h0M4433 305h0M4556 447h0M4616 565h0M4278 512h0M4655 430h0M4365 364h0M4398 743h0M4719 441h0M4702 385h0M4438 400h0M4496 645h0M4745 608h0M4508 558h0M4488 596h0M4384 571h0M4598 680h0M4392 599h0M4574 387h0M4294 458h0M4668 480h0M4756 584h0" stroke="#6a6ad8" stroke-width="5.5" stroke-linecap="round" opacity="0.4" fill="none"/>
<path d="M429.5,31.5C431.3,30.2 435.8,30.5 440,30.3C444.2,30.1 450.4,30.1 455,30.3C459.6,30.6 464.8,30.5 467.5,31.8C470.2,33.1 470.8,35 471.5,38C472.2,41 471.8,46 472,50C472.2,54 472.7,58.6 472.5,62C472.3,65.4 473.1,68.8 471,70.5C468.9,72.2 464.3,71.9 460,72.2C455.7,72.5 449.5,72.4 445,72.2C440.5,72 435.7,72.4 433,71.2C430.3,70 429.7,68.5 429,65C428.3,61.5 428.8,54.5 428.8,50C428.8,45.5 428.9,41.1 429,38C429.1,34.9 427.7,32.8 429.5,31.5Z" fill="#e6e8f8" stroke="#4040b4" stroke-width="0.7" opacity="1"/>
<path transform="scale(.1)" d="M4286 384h0M4414 717h0M4722 668h0M4713 709h0M4393 722h0M4288 576h0M4349 309h0M4321 317h0M4360 312h0M4296 593h0M4281 392h0M4722 568h0M4294 350h0M4631 709h0M4574 301h0M4284 340h0M4435 724h0M4722 493h0M4716 479h0M4728 442h0M4288 445h0M4352 720h0M4294 530h0M4665 316h0M4439 716h0M4294 308h0M4723 656h0M4394 296h0M4263 399h0M4633 727h0M4724 502h0M4308 319h0M4650 715h0M4710 409h0M4484 309h0M4479 714h0M4716 392h0M4287 458h0M4725 699h0M4719 623h0M4295 322h0M4712 650h0M4291 398h0M4714 394h0M4311 719h0M4719 640h0M4332 701h0M4708 375h0M4627 728h0M4722 545h0M4290 385h0M4295 421h0M4632 313h0M4702 669h0M4656 732h0M4616 311h0M4725 408h0M4386 305h0M4678 722h0M4722 646h0M4725 549h0M4716 519h0M4335 305h0M4469 715h0M4560 729h0M4725 498h0M4618 301h0M4439 294h0M4283 445h0M4294 375h0M4291 383h0M4290 491h0M4701 330h0M4420 284h0M4540 720h0M4494 308h0M4272 555h0M4262 637h0M4314 318h0M4704 441h0M4288 606h0M4359 309h0M4434 732h0M4659 314h0M4732 366h0M4696 351h0M4298 322h0M4699 368h0M4264 614h0M4333 695h0M4706 700h0M4684 733h0M4292 617h0M4719 548h0M4300 315h0M4620 318h0M4722 653h0M4717 434h0M4598 314h0M4345 299h0M4373 718h0M4600 718h0M4288 673h0M4337 311h0M4721 641h0M4719 614h0M4263 554h0M4291 624h0M4332 712h0M4643 705h0M4538 312h0M4291 668h0M4493 303h0M4503 713h0M4284 351h0M4716 432h0M4460 716h0M4291 646h0M4286 418h0M4503 311h0M4646 295h0M4732 384h0M4281 332h0M4378 319h0M4329 709h0M4722 715h0M4313 731h0M4306 662h0M4498 286h0M4716 719h0M4295 656h0M4336 738h0M4287 494h0M4366 313h0M4574 287h0M4516 724h0M4718 618h0M4719 460h0M4444 727h0M4287 322h0M4572 298h0M4492 312h0M4716 686h0M4303 684h0M4374 722h0M4441 306h0M4441 711h0M4299 325h0M4564 307h0M4308 682h0M4731 595h0M4729 577h0M4725 664h0M4699 329h0M4368 735h0M4289 520h0M4485 310h0M4616 712h0M4665 318h0M4644 735h0M4308 699h0M4627 725h0M4461 306h0M4295 644h0M4343 715h0M4295 320h0M4739 588h0M4277 416h0M4282 305h0M4292 627h0M4715 396h0M4365 729h0M4384 712h0M4305 663h0M4418 718h0M4299 385h0M4712 590h0M4669 708h0M4380 311h0M4706 406h0M4356 303h0M4740 721h0M4279 355h0M4280 615h0M4708 382h0M4603 325h0M4723 589h0M4565 716h0M4721 700h0M4727 572h0M4285 636h0M4531 301h0M4717 484h0M4312 693h0M4718 449h0M4295 500h0M4711 370h0M4302 557h0M4594 720h0M4299 658h0M4298 355h0M4615 300h0M4286 597h0M4297 474h0M4633 312h0M4286 430h0M4450 316h0M4378 303h0M4706 442h0M4721 657h0M4682 323h0M4380 294h0M4546 298h0M4296 329h0M4682 335h0M4688 346h0M4606 299h0M4258 424h0M4683 316h0M4372 305h0M4351 311h0M4306 660h0M4270 351h0M4297 306h0M4701 302h0M4291 374h0M4293 352h0M4273 530h0M4388 308h0M4721 560h0M4390 724h0M4682 343h0M4374 709h0M4520 748h0M4305 646h0M4611 311h0M4432 306h0M4268 343h0M4308 671h0M4708 330h0M4274 670h0M4723 679h0M4721 683h0M4534 306h0M4577 309h0M4467 300h0M4328 708h0M4477 290h0M4277 306h0M4619 307h0M4724 625h0M4705 495h0M4699 329h0M4647 322h0M4755 600h0M4645 318h0M4730 625h0M4710 344h0M4724 518h0M4293 344h0M4286 579h0M4475 746h0M4625 716h0M4725 578h0M4467 716h0M4277 348h0M4631 318h0M4317 293h0M4302 693h0M4674 328h0M4446 722h0M4709 509h0M4483 298h0M4736 529h0M4367 715h0M4416 730h0M4692 706h0M4733 588h0M4298 370h0M4514 716h0M4575 735h0M4296 587h0M4289 453h0M4296 371h0M4351 317h0M4365 709h0M4398 298h0M4295 354h0M4624 708h0M4349 730h0M4322 685h0M4275 473h0M4718 630h0M4684 322h0M4281 539h0M4329 303h0M4738 690h0M4276 404h0M4274 479h0M4436 303h0M4314 317h0M4512 306h0M4701 342h0M4295 401h0M4664 720h0M4670 711h0M4417 314h0M4318 718h0M4476 723h0M4709 495h0M4280 553h0M4367 709h0M4709 378h0M4554 733h0M4724 515h0M4278 329h0M4712 315h0M4287 438h0M4556 286h0M4273 442h0M4290 343h0M4294 356h0M4716 642h0M4710 526h0M4365 310h0M4531 721h0M4682 325h0M4562 727h0M4602 724h0M4294 353h0M4634 706h0M4303 717h0M4732 604h0M4287 433h0M4624 745h0M4392 730h0M4386 311h0M4620 313h0M4325 702h0M4325 307h0M4295 380h0M4371 304h0M4324 310h0M4736 509h0M4279 510h0M4291 650h0M4708 355h0M4294 580h0M4297 310h0M4591 309h0M4723 417h0M4703 702h0M4293 484h0M4282 429h0M4678 329h0M4518 299h0M4722 625h0M4731 455h0M4273 494h0M4719 528h0M4311 305h0M4471 711h0M4634 731h0M4285 533h0M4421 301h0M4718 478h0M4707 689h0M4673 722h0M4282 453h0M4540 718h0M4317 306h0M4285 655h0M4273 610h0M4640 711h0M4712 421h0M4308 677h0M4293 634h0M4721 437h0M4569 310h0M4344 710h0M4455 713h0M4704 345h0M4721 601h0M4651 316h0M4394 276h0M4605 313h0M4707 703h0M4594 726h0M4714 369h0M4385 306h0M4362 315h0M4290 399h0M4285 336h0M4718 677h0M4546 300h0M4564 306h0M4710 408h0M4462 718h0M4342 712h0M4650 305h0M4434 720h0M4679 326h0M4719 600h0M4271 450h0M4723 575h0M4716 543h0M4297 612h0M4688 340h0M4726 623h0M4375 722h0M4693 354h0M4418 308h0M4282 536h0M4321 713h0M4716 519h0M4602 730h0M4299 623h0M4644 296h0M4709 683h0M4624 713h0M4496 304h0M4729 670h0M4711 696h0M4285 412h0M4416 305h0M4384 707h0M4635 320h0M4719 603h0M4291 460h0M4700 364h0M4267 577h0M4628 302h0M4316 671h0M4571 300h0M4274 476h0M4278 386h0M4295 311h0M4288 303h0M4552 304h0M4703 689h0M4656 307h0M4305 658h0M4291 405h0M4574 298h0M4291 600h0M4739 629h0M4693 357h0M4295 352h0M4526 720h0M4727 682h0M4719 563h0M4277 372h0M4297 336h0M4724 660h0M4721 640h0M4285 669h0M4289 375h0M4290 637h0M4329 720h0M4580 717h0M4732 435h0M4290 381h0M4683 317h0M4378 300h0M4737 494h0M4676 712h0M4559 718h0M4523 728h0M4517 289h0M4580 732h0M4703 699h0M4298 353h0M4507 713h0M4727 605h0M4440 300h0M4275 436h0M4501 745h0M4566 305h0M4677 325h0M4717 559h0M4290 605h0M4702 373h0M4291 416h0M4717 426h0M4287 327h0M4732 625h0M4601 717h0M4724 710h0M4526 737h0M4724 591h0M4708 649h0M4714 669h0M4716 571h0M4677 713h0M4473 311h0M4600 302h0M4608 294h0M4635 712h0M4293 327h0M4316 691h0M4305 683h0M4408 724h0M4446 726h0M4403 309h0M4720 638h0M4273 521h0M4687 693h0M4683 332h0M4718 546h0M4410 304h0M4559 720h0M4727 470h0M4710 362h0M4485 716h0M4287 505h0M4290 578h0M4286 314h0M4711 686h0M4305 301h0M4299 336h0" stroke="#3c3cb0" stroke-width="6" stroke-linecap="round" opacity="0.55" fill="none"/>
<path d="M430,58.5C432.5,56.3 440,57.3 445,57.2C450,57.1 455.6,57.6 460,58C464.4,58.4 469.6,57.4 471.5,59.5C473.4,61.6 474.2,68.4 471.5,70.5C468.8,72.6 460.2,71.8 455,72C449.8,72.2 444.2,71.8 440,71.6C435.8,71.3 431.7,72.7 430,70.5C428.3,68.3 427.5,60.7 430,58.5Z" fill="#b9bbe8" stroke="none" stroke-width="0.5" opacity="1"/>
<path transform="scale(.1)" d="M4596 696h0M4381 671h0M4338 684h0M4363 677h0M4601 685h0M4483 700h0M4515 714h0M4607 638h0M4426 713h0M4335 685h0M4650 595h0M4436 617h0M4525 626h0M4671 709h0M4431 704h0M4329 586h0M4576 690h0M4657 611h0M4608 709h0M4339 645h0M4364 593h0M4499 671h0M4617 651h0M4401 665h0M4408 667h0M4569 630h0M4630 632h0M4495 695h0M4404 599h0M4538 636h0M4663 609h0M4454 581h0M4487 618h0M4486 685h0M4595 692h0M4524 657h0M4470 631h0M4392 617h0M4422 622h0M4676 690h0M4409 652h0M4587 634h0M4563 706h0M4411 629h0M4616 619h0M4599 631h0M4308 640h0M4328 688h0M4651 650h0M4673 604h0M4485 598h0M4320 694h0M4531 676h0M4321 706h0M4629 587h0M4376 593h0M4509 584h0M4631 645h0M4592 610h0M4571 639h0M4569 633h0M4711 697h0M4646 623h0M4379 595h0M4417 701h0M4396 664h0M4403 617h0M4610 662h0M4693 607h0M4412 581h0M4534 642h0M4441 684h0M4586 595h0M4319 598h0M4639 680h0M4394 607h0M4428 673h0M4611 607h0M4437 607h0M4692 654h0M4690 608h0M4563 656h0M4687 626h0M4395 693h0M4695 647h0M4438 585h0M4484 709h0M4448 638h0M4534 607h0M4345 649h0M4701 701h0M4425 688h0M4645 658h0M4449 601h0M4592 674h0M4389 593h0M4347 695h0M4667 648h0M4554 677h0M4365 649h0M4486 701h0M4368 697h0M4359 662h0M4511 644h0M4698 644h0M4677 680h0M4649 624h0M4340 666h0M4347 665h0M4374 661h0M4383 598h0M4475 716h0M4406 642h0M4458 581h0M4524 617h0M4495 681h0M4577 608h0M4569 651h0M4417 672h0M4531 647h0M4520 663h0M4605 696h0M4623 706h0M4539 597h0M4453 700h0M4620 664h0M4353 596h0M4572 634h0M4396 709h0M4558 713h0M4622 602h0M4395 700h0M4480 647h0M4610 661h0M4599 649h0M4414 679h0M4352 679h0M4630 593h0M4377 651h0M4420 592h0M4407 583h0M4651 686h0M4625 594h0M4434 586h0M4694 697h0M4554 646h0M4557 714h0M4707 634h0M4516 702h0M4417 681h0M4549 636h0M4462 595h0M4361 616h0M4710 693h0M4304 684h0M4359 657h0M4682 706h0M4405 671h0M4547 707h0M4371 703h0M4540 660h0M4350 625h0M4513 684h0M4582 667h0M4595 624h0M4439 717h0M4578 655h0M4701 700h0M4459 709h0M4539 635h0M4467 579h0M4457 712h0M4354 640h0M4712 666h0M4365 666h0M4311 679h0M4544 667h0M4580 586h0M4666 685h0M4671 606h0M4395 679h0M4683 656h0M4401 637h0M4400 643h0M4698 672h0M4384 708h0M4664 632h0M4300 671h0M4435 591h0M4677 631h0M4368 614h0M4713 624h0M4496 609h0M4334 592h0M4325 639h0M4479 676h0M4646 701h0M4358 655h0M4359 616h0M4461 630h0M4650 635h0M4366 661h0M4408 706h0M4345 595h0M4327 616h0M4625 584h0M4553 705h0M4396 682h0M4600 715h0M4654 665h0M4477 626h0M4567 614h0M4365 643h0M4360 666h0M4695 627h0M4314 597h0M4430 703h0M4692 662h0M4465 586h0M4408 680h0M4588 599h0M4711 669h0M4586 607h0M4627 659h0M4536 627h0M4560 582h0M4303 698h0M4431 626h0M4645 627h0M4344 607h0M4305 611h0M4546 717h0M4630 679h0M4361 709h0M4480 687h0M4460 615h0M4658 671h0M4466 639h0M4607 628h0M4519 646h0M4466 624h0M4407 689h0M4573 598h0M4369 630h0M4547 647h0M4568 676h0M4422 582h0M4573 652h0M4439 703h0M4360 589h0M4561 629h0M4571 585h0M4501 663h0M4480 593h0M4333 618h0M4421 703h0M4328 683h0M4696 649h0M4369 663h0M4685 633h0M4602 603h0M4408 624h0M4553 711h0M4406 668h0M4583 651h0M4600 643h0M4440 573h0M4371 610h0M4598 616h0M4372 674h0M4573 669h0M4411 706h0M4567 641h0M4680 607h0M4424 658h0M4540 654h0M4339 684h0M4706 625h0M4644 591h0M4346 660h0M4688 656h0M4396 594h0M4680 676h0M4711 611h0M4615 597h0M4352 631h0M4445 685h0M4477 619h0M4667 700h0M4486 687h0M4333 618h0M4664 646h0M4347 605h0M4669 629h0M4542 699h0M4447 689h0M4324 644h0M4307 612h0M4688 665h0M4319 696h0M4483 593h0M4620 659h0M4320 645h0M4555 686h0M4558 618h0M4348 632h0M4461 708h0M4508 694h0M4582 676h0M4650 699h0M4588 645h0M4653 609h0M4408 590h0M4379 589h0M4377 619h0M4566 677h0M4523 594h0M4602 659h0M4490 697h0M4694 597h0M4308 627h0M4539 646h0M4422 610h0M4484 585h0M4504 705h0M4665 687h0M4375 630h0M4349 601h0M4600 612h0M4580 645h0M4407 670h0M4504 601h0M4413 646h0M4399 643h0M4453 712h0M4363 689h0M4646 685h0M4466 705h0M4421 628h0M4654 691h0M4694 622h0M4605 708h0M4595 623h0M4686 692h0M4319 644h0M4702 691h0M4590 583h0M4651 611h0M4390 681h0M4318 599h0M4330 613h0M4454 575h0M4600 692h0M4457 645h0M4544 718h0M4616 601h0M4530 617h0M4675 701h0M4493 713h0M4626 694h0M4448 694h0M4367 695h0M4458 707h0M4493 613h0M4410 623h0M4664 641h0M4437 715h0M4509 711h0M4536 681h0M4614 668h0M4472 636h0M4347 710h0M4452 683h0M4454 610h0M4490 664h0M4536 647h0M4472 638h0M4569 618h0M4709 669h0M4650 668h0M4421 654h0M4688 637h0M4384 661h0M4333 664h0M4370 709h0M4312 678h0M4426 660h0M4576 646h0M4445 714h0M4485 603h0M4303 664h0M4391 652h0M4402 589h0M4500 667h0M4471 715h0M4666 669h0M4588 703h0M4479 710h0M4402 711h0M4302 661h0M4459 638h0M4323 637h0M4555 684h0M4541 676h0M4481 711h0M4397 645h0M4450 699h0M4458 589h0M4603 671h0M4421 709h0M4302 611h0M4667 698h0M4526 616h0M4322 681h0M4374 606h0M4320 628h0M4494 689h0M4371 585h0M4429 710h0M4421 626h0M4697 696h0M4479 682h0M4463 661h0M4596 613h0M4323 678h0M4594 701h0M4334 648h0M4514 607h0M4478 660h0M4511 637h0M4448 717h0M4538 636h0M4590 651h0M4587 585h0M4634 606h0M4422 663h0M4552 654h0M4381 616h0M4562 636h0M4337 614h0M4509 657h0M4707 659h0M4666 702h0M4667 634h0M4567 718h0M4305 638h0M4607 626h0M4599 612h0M4654 667h0M4339 662h0M4429 601h0M4686 594h0M4533 627h0M4533 640h0M4467 674h0M4376 657h0M4544 618h0M4335 682h0M4547 707h0M4660 596h0M4705 623h0M4507 618h0M4546 676h0M4417 609h0M4551 647h0M4538 589h0M4688 704h0M4352 615h0M4309 600h0M4546 710h0M4513 594h0M4650 592h0M4561 634h0M4487 591h0M4349 669h0M4581 639h0M4443 682h0M4482 700h0M4562 579h0M4357 621h0M4304 671h0M4663 695h0M4528 657h0M4676 623h0M4319 681h0M4640 595h0M4445 697h0M4517 661h0M4378 702h0M4687 658h0M4402 636h0M4611 690h0M4484 581h0M4352 605h0M4428 625h0M4478 633h0M4431 644h0M4305 621h0M4619 696h0M4324 650h0M4572 585h0M4474 659h0M4396 609h0M4311 644h0M4522 606h0M4537 633h0M4335 661h0M4665 669h0M4684 667h0M4357 709h0M4404 607h0M4383 656h0M4471 611h0M4346 592h0M4445 599h0M4315 635h0M4536 659h0M4673 598h0M4582 639h0M4445 589h0" stroke="#3a3aae" stroke-width="6" stroke-linecap="round" opacity="0.55" fill="none"/>
<path d="M438.5,67.5C439.8,66.9 443.2,65.9 446,65.6C448.8,65.3 452.2,65.6 455,65.8C457.8,66 461.8,66.2 463,66.8C464.2,67.4 463.8,68.8 462,69.4C460.2,70 455.2,70.1 452,70.2C448.8,70.3 445.2,70.2 443,70C440.8,69.8 439.2,69.4 438.5,69C437.8,68.6 437.2,68.1 438.5,67.5Z" fill="#fff" stroke="#4646b4" stroke-width="0.4" opacity="1" stroke-linejoin="round"/>
<path d="M442,61.5C442.1,60.9 444.6,60.1 446,59.9C447.4,59.7 449.8,59.9 450.5,60.4C451.2,60.9 450.8,62.3 450,62.8C449.2,63.3 446.8,63.5 445.5,63.3C444.2,63.1 441.9,62.1 442,61.5Z" fill="#fff" stroke="#5050b8" stroke-width="0.35" opacity="1" stroke-linejoin="round"/>
<path d="M455,55.5C455.8,54.7 458.8,54 461,53.6C463.2,53.2 467.2,52.8 468.5,53.4C469.8,54 469.9,56.1 468.8,57C467.7,57.9 464.1,58.6 462,58.8C459.9,59 457.2,58.9 456,58.4C454.8,57.9 454.2,56.3 455,55.5Z" fill="#fff" stroke="#5050b8" stroke-width="0.35" opacity="1" stroke-linejoin="round"/>
<path d="M432,36.5C433.4,34.1 436.7,33.1 440,32.5C443.3,31.9 448.5,32.2 452,33C455.5,33.8 459.2,35.7 461,37.5C462.8,39.3 463.3,42 463,44C462.7,46 461,47.6 459,49.5C457,51.4 453.6,54.2 451,55.5C448.4,56.8 446,57.7 443.5,57.5C441,57.3 438,56.2 436,54.5C434,52.8 432.2,50 431.5,47C430.8,44 430.6,38.9 432,36.5Z" fill="#cfe6f3" stroke="none" stroke-width="0.4" opacity="1"/>
<path d="M436,38C437.3,36.5 440.5,35.3 443,35C445.5,34.7 449,35 451,36C453,37 454.6,39 455,41C455.4,43 454.6,46.1 453.5,48C452.4,49.9 450.3,51.5 448.5,52.5C446.7,53.5 444.3,54.1 442.5,53.8C440.7,53.5 438.8,52.1 437.5,50.5C436.2,48.9 435.2,46.1 435,44C434.8,41.9 434.7,39.5 436,38Z" fill="#8fd0e8" stroke="none" stroke-width="0.4" opacity="1"/>
<path d="M437.1,38.8C438.3,37.6 441,36.5 443.2,36.3C445.3,36 448.3,36.3 450,37.1C451.8,38 453.1,39.7 453.5,41.4C453.8,43.1 453.1,45.8 452.2,47.4C451.3,49.1 449.5,50.5 447.9,51.3C446.3,52.1 444.3,52.7 442.7,52.4C441.2,52.1 439.5,51 438.4,49.6C437.4,48.2 436.5,45.8 436.3,44C436.1,42.2 436,40.1 437.1,38.8Z" fill="#6cc56a" stroke="none" stroke-width="0.4" opacity="1"/>
<path d="M438.1,39.6C439.1,38.5 441.5,37.6 443.3,37.3C445.2,37.1 447.8,37.3 449.2,38.1C450.7,38.8 451.9,40.3 452.2,41.8C452.5,43.3 451.9,45.5 451.1,47C450.3,48.4 448.7,49.6 447.4,50.3C446,51 444.3,51.5 442.9,51.3C441.6,51 440.2,50 439.2,48.8C438.3,47.6 437.6,45.5 437.4,44C437.2,42.5 437.1,40.7 438.1,39.6Z" fill="#e8e23c" stroke="none" stroke-width="0.4" opacity="1"/>
<path d="M439.1,40.3C439.9,39.4 441.9,38.6 443.5,38.4C445,38.2 447.2,38.4 448.4,39C449.7,39.7 450.6,40.9 450.9,42.1C451.2,43.4 450.6,45.3 450,46.5C449.3,47.7 448,48.7 446.9,49.3C445.7,49.9 444.3,50.3 443.1,50.1C442,49.9 440.8,49 440,48C439.3,47 438.7,45.3 438.5,44C438.3,42.7 438.3,41.2 439.1,40.3Z" fill="#f39b33" stroke="none" stroke-width="0.4" opacity="1"/>
<path d="M441.7,42.2C442.1,41.8 443.1,41.4 443.8,41.3C444.6,41.2 445.6,41.3 446.2,41.6C446.8,41.9 447.3,42.5 447.4,43.1C447.6,43.7 447.3,44.6 447,45.2C446.7,45.8 446,46.3 445.5,46.5C444.9,46.8 444.2,47 443.7,46.9C443.1,46.8 442.6,46.4 442.2,46C441.8,45.5 441.5,44.6 441.4,44C441.4,43.4 441.3,42.7 441.7,42.2Z" fill="#f9d9d0" stroke="none" stroke-width="0.4" opacity="1"/>
<ellipse cx="444" cy="43.8" rx="1.4" ry="1.4" fill="#fff6f2" stroke="none" stroke-width="0.4" opacity="1" />
<ellipse cx="459.5" cy="44" rx="4.6" ry="4" fill="#bfe6ef" stroke="none" stroke-width="0.4" opacity="0.8" />
<line x1="428.3" y1="26" x2="428.3" y2="87.4" stroke="#555" stroke-width="0.55" />
<line x1="428.3" y1="87.4" x2="483.3" y2="87.4" stroke="#555" stroke-width="0.55" />
<text x="427.3" y="33" font-size="3.4" fill="#555" text-anchor="end" stroke="#555" stroke-width="0.16">10³</text>
<line x1="427.6" y1="32.1" x2="428.3" y2="32.1" stroke="#777" stroke-width="0.3" />
<text x="427.3" y="47.1" font-size="3.4" fill="#555" text-anchor="end" stroke="#555" stroke-width="0.16">10²</text>
<line x1="427.6" y1="46.2" x2="428.3" y2="46.2" stroke="#777" stroke-width="0.3" />
<text x="427.3" y="64.6" font-size="3.4" fill="#555" text-anchor="end" stroke="#555" stroke-width="0.16">10¹</text>
<line x1="427.6" y1="63.7" x2="428.3" y2="63.7" stroke="#777" stroke-width="0.3" />
<text x="427.3" y="74.1" font-size="3.4" fill="#555" text-anchor="end" stroke="#555" stroke-width="0.16">−10¹</text>
<line x1="427.6" y1="73.2" x2="428.3" y2="73.2" stroke="#777" stroke-width="0.3" />
<text x="427.3" y="82.1" font-size="3.4" fill="#555" text-anchor="end" stroke="#555" stroke-width="0.16">−10²</text>
<line x1="427.6" y1="81.2" x2="428.3" y2="81.2" stroke="#777" stroke-width="0.3" />
<text x="437.2" y="90.8" font-size="3.4" fill="#555" text-anchor="middle" stroke="#555" stroke-width="0.16">−10¹</text>
<text x="453" y="90.8" font-size="3.4" fill="#555" text-anchor="middle" stroke="#555" stroke-width="0.16">10²</text>
<text x="467" y="90.8" font-size="3.4" fill="#555" text-anchor="middle" stroke="#555" stroke-width="0.16">10³</text>
<text x="478.5" y="90.8" font-size="3.4" fill="#555" text-anchor="middle" stroke="#555" stroke-width="0.16">10⁴</text>
<polyline points="428.3,58.4 453,59.7 452.3,75.9 428.3,76.5" fill="none" stroke="#222" stroke-width="1" stroke-linejoin="round"/>
<polyline points="453,59.7 453.6,53.6 483.3,42.2" fill="none" stroke="#222" stroke-width="1" stroke-linejoin="round"/>
<line x1="453" y1="71.8" x2="483.3" y2="71.1" stroke="#222" stroke-width="1" />
<rect x="384.6" y="155.22" width="10.4" height="25.78" fill="#8ea3cc" stroke="none" stroke-width="0.8" />
<rect x="401" y="173.19" width="10.2" height="7.81" fill="#ef9a8c" stroke="none" stroke-width="0.8" />
<line x1="378.4" y1="119.8" x2="378.4" y2="181" stroke="#2a2a2a" stroke-width="1" />
<line x1="377.9" y1="181" x2="416" y2="181" stroke="#2a2a2a" stroke-width="1" />
<line x1="376.2" y1="181" x2="378.4" y2="181" stroke="#333" stroke-width="0.7" />
<text x="373" y="183.2" font-size="6.2" fill="#333" text-anchor="end" stroke="#333" stroke-width="0.16">0</text>
<line x1="376.2" y1="161.47" x2="378.4" y2="161.47" stroke="#333" stroke-width="0.7" />
<text x="373" y="163.67" font-size="6.2" fill="#333" text-anchor="end" stroke="#333" stroke-width="0.16">5</text>
<line x1="376.2" y1="141.93" x2="378.4" y2="141.93" stroke="#333" stroke-width="0.7" />
<text x="373" y="144.13" font-size="6.2" fill="#333" text-anchor="end" stroke="#333" stroke-width="0.16">10</text>
<line x1="376.2" y1="122.4" x2="378.4" y2="122.4" stroke="#333" stroke-width="0.7" />
<text x="373" y="124.6" font-size="6.2" fill="#333" text-anchor="end" stroke="#333" stroke-width="0.16">15</text>
<line x1="389.8" y1="181" x2="389.8" y2="182.6" stroke="#333" stroke-width="0.7" />
<line x1="389.8" y1="171.62" x2="389.8" y2="138.03" stroke="#333" stroke-width="0.6" />
<line x1="387.6" y1="171.62" x2="392" y2="171.62" stroke="#333" stroke-width="0.6" />
<line x1="387.6" y1="138.03" x2="392" y2="138.03" stroke="#333" stroke-width="0.6" />
<circle cx="388.8" cy="126.31" r="1.65" fill="#1d4a87"/>
<circle cx="388.8" cy="130.99" r="1.65" fill="#1d4a87"/>
<circle cx="388.8" cy="144.67" r="1.65" fill="#1d4a87"/>
<circle cx="385.8" cy="159.12" r="1.65" fill="#1d4a87"/>
<circle cx="392.8" cy="159.12" r="1.65" fill="#1d4a87"/>
<circle cx="385.8" cy="164.59" r="1.65" fill="#1d4a87"/>
<circle cx="393.4" cy="165.37" r="1.65" fill="#1d4a87"/>
<circle cx="388.8" cy="166.94" r="1.65" fill="#1d4a87"/>
<circle cx="392.8" cy="167.72" r="1.65" fill="#1d4a87"/>
<circle cx="388.8" cy="174.75" r="1.65" fill="#1d4a87"/>
<line x1="406.1" y1="181" x2="406.1" y2="182.6" stroke="#333" stroke-width="0.7" />
<line x1="406.1" y1="179.05" x2="406.1" y2="166.15" stroke="#7a1a2a" stroke-width="0.6" />
<line x1="403.9" y1="179.05" x2="408.3" y2="179.05" stroke="#7a1a2a" stroke-width="0.6" />
<line x1="403.9" y1="166.15" x2="408.3" y2="166.15" stroke="#7a1a2a" stroke-width="0.6" />
<polygon points="406.1,158.39 404.3,161.49 407.9,161.49" fill="#c0162c"/>
<polygon points="406.1,164.25 404.3,167.35 407.9,167.35" fill="#c0162c"/>
<polygon points="403.1,169.33 401.3,172.43 404.9,172.43" fill="#c0162c"/>
<polygon points="409.1,168.94 407.3,172.04 410.9,172.04" fill="#c0162c"/>
<polygon points="404.6,172.85 402.8,175.95 406.4,175.95" fill="#c0162c"/>
<polygon points="408.1,174.41 406.3,177.51 409.9,177.51" fill="#c0162c"/>
<polygon points="402.6,176.76 400.8,179.86 404.4,179.86" fill="#c0162c"/>
<polygon points="407.1,177.15 405.3,180.25 408.9,180.25" fill="#c0162c"/>
<polygon points="409.6,176.37 407.8,179.47 411.4,179.47" fill="#c0162c"/>
<polyline points="389.8,122.6 389.8,119.6 406.1,119.6 406.1,122.6" fill="none" stroke="#333" stroke-width="0.6" stroke-linejoin="round"/>
<text x="397.95" y="119.8" font-size="7.2" fill="#333" text-anchor="middle" stroke="#333" stroke-width="0.16">*</text>
<text x="389.8" y="192.4" font-size="6.4" fill="#333" text-anchor="middle" textLength="8.5" lengthAdjust="spacingAndGlyphs" stroke="#333" stroke-width="0.16">WT</text>
<text x="406.1" y="192.4" font-size="6.4" fill="#333" text-anchor="middle" textLength="17.5" lengthAdjust="spacingAndGlyphs" stroke="#333" stroke-width="0.16">V600E</text>
<text x="360.5" y="151.3" font-size="7.4" fill="#333" text-anchor="middle" textLength="60.7" lengthAdjust="spacingAndGlyphs" transform="rotate(-90 360.5 151.3)" stroke="#333" stroke-width="0.16">%CD33<tspan dy="-2.4" font-size="4.6">+</tspan><tspan dy="2.4">/CD34</tspan><tspan dy="-2.4" font-size="4.6">−</tspan><tspan dy="2.4"> cells</tspan></text>
<rect x="456.5" y="149.05" width="11" height="31.75" fill="#8ea3cc" stroke="none" stroke-width="0.8" />
<rect x="473.5" y="171" width="10.9" height="9.8" fill="#ef9a8c" stroke="none" stroke-width="0.8" />
<line x1="450.8" y1="119.4" x2="450.8" y2="180.8" stroke="#2a2a2a" stroke-width="1" />
<line x1="450.3" y1="180.8" x2="487" y2="180.8" stroke="#2a2a2a" stroke-width="1" />
<line x1="448.6" y1="180.8" x2="450.8" y2="180.8" stroke="#333" stroke-width="0.7" />
<text x="445.4" y="183" font-size="6.2" fill="#333" text-anchor="end" stroke="#333" stroke-width="0.16">0</text>
<line x1="448.6" y1="161.2" x2="450.8" y2="161.2" stroke="#333" stroke-width="0.7" />
<text x="445.4" y="163.4" font-size="6.2" fill="#333" text-anchor="end" stroke="#333" stroke-width="0.16">10</text>
<line x1="448.6" y1="141.6" x2="450.8" y2="141.6" stroke="#333" stroke-width="0.7" />
<text x="445.4" y="143.8" font-size="6.2" fill="#333" text-anchor="end" stroke="#333" stroke-width="0.16">20</text>
<line x1="448.6" y1="122" x2="450.8" y2="122" stroke="#333" stroke-width="0.7" />
<text x="445.4" y="124.2" font-size="6.2" fill="#333" text-anchor="end" stroke="#333" stroke-width="0.16">30</text>
<line x1="462" y1="180.8" x2="462" y2="182.4" stroke="#333" stroke-width="0.7" />
<line x1="462" y1="162.77" x2="462" y2="135.13" stroke="#333" stroke-width="0.6" />
<line x1="459.8" y1="162.77" x2="464.2" y2="162.77" stroke="#333" stroke-width="0.6" />
<line x1="459.8" y1="135.13" x2="464.2" y2="135.13" stroke="#333" stroke-width="0.6" />
<circle cx="459" cy="126.31" r="1.65" fill="#1d4a87"/>
<circle cx="463.5" cy="126.31" r="1.65" fill="#1d4a87"/>
<circle cx="459" cy="149.44" r="1.65" fill="#1d4a87"/>
<circle cx="462" cy="149.83" r="1.65" fill="#1d4a87"/>
<circle cx="465.5" cy="150.22" r="1.65" fill="#1d4a87"/>
<circle cx="460" cy="155.32" r="1.65" fill="#1d4a87"/>
<circle cx="464.5" cy="154.34" r="1.65" fill="#1d4a87"/>
<circle cx="462" cy="159.63" r="1.65" fill="#1d4a87"/>
<circle cx="461" cy="163.16" r="1.65" fill="#1d4a87"/>
<line x1="478.95" y1="180.8" x2="478.95" y2="182.4" stroke="#333" stroke-width="0.7" />
<line x1="478.95" y1="179.23" x2="478.95" y2="162.38" stroke="#7a1a2a" stroke-width="0.6" />
<line x1="476.75" y1="179.23" x2="481.15" y2="179.23" stroke="#7a1a2a" stroke-width="0.6" />
<line x1="476.75" y1="162.38" x2="481.15" y2="162.38" stroke="#7a1a2a" stroke-width="0.6" />
<polygon points="478.95,152.83 477.15,155.93 480.75,155.93" fill="#c0162c"/>
<polygon points="475.75,163.22 473.95,166.32 477.55,166.32" fill="#c0162c"/>
<polygon points="482.15,164 480.35,167.1 483.95,167.1" fill="#c0162c"/>
<polygon points="475.75,169.1 473.95,172.2 477.55,172.2" fill="#c0162c"/>
<polygon points="482.15,170.67 480.35,173.77 483.95,173.77" fill="#c0162c"/>
<polygon points="478.95,173.02 477.15,176.12 480.75,176.12" fill="#c0162c"/>
<polygon points="475.45,175.96 473.65,179.06 477.25,179.06" fill="#c0162c"/>
<polygon points="481.95,176.94 480.15,180.04 483.75,180.04" fill="#c0162c"/>
<polygon points="478.95,177.72 477.15,180.82 480.75,180.82" fill="#c0162c"/>
<polyline points="462,122.2 462,119.2 478.9,119.2 478.9,122.2" fill="none" stroke="#333" stroke-width="0.6" stroke-linejoin="round"/>
<text x="470.45" y="119.4" font-size="7.2" fill="#333" text-anchor="middle" stroke="#333" stroke-width="0.16">***</text>
<text x="461.8" y="192.4" font-size="6.4" fill="#333" text-anchor="middle" textLength="8.5" lengthAdjust="spacingAndGlyphs" stroke="#333" stroke-width="0.16">WT</text>
<text x="478.5" y="192.4" font-size="6.4" fill="#333" text-anchor="middle" textLength="17.5" lengthAdjust="spacingAndGlyphs" stroke="#333" stroke-width="0.16">V600E</text>
<text x="433.1" y="149.7" font-size="7.4" fill="#333" text-anchor="middle" textLength="62.8" lengthAdjust="spacingAndGlyphs" transform="rotate(-90 433.1 149.7)" stroke="#333" stroke-width="0.16">%CD33<tspan dy="-2.4" font-size="4.6">−</tspan><tspan dy="2.4">/CD34</tspan><tspan dy="-2.4" font-size="4.6">+</tspan><tspan dy="2.4"> cells</tspan></text>
<rect x="38.2" y="292.66" width="9.5" height="8.44" fill="#8ea3cc" stroke="none" stroke-width="0.8" />
<rect x="54.9" y="268.08" width="10.1" height="33.02" fill="#ef9a8c" stroke="none" stroke-width="0.8" />
<line x1="31.6" y1="239.8" x2="31.6" y2="301.1" stroke="#2a2a2a" stroke-width="1" />
<line x1="31.1" y1="301.1" x2="70.8" y2="301.1" stroke="#2a2a2a" stroke-width="1" />
<line x1="29.4" y1="301.1" x2="31.6" y2="301.1" stroke="#333" stroke-width="0.7" />
<text x="26.2" y="303.3" font-size="6.2" fill="#333" text-anchor="end" stroke="#333" stroke-width="0.16">0</text>
<line x1="29.4" y1="286.43" x2="31.6" y2="286.43" stroke="#333" stroke-width="0.7" />
<text x="26.2" y="288.62" font-size="6.2" fill="#333" text-anchor="end" stroke="#333" stroke-width="0.16">2</text>
<line x1="29.4" y1="271.75" x2="31.6" y2="271.75" stroke="#333" stroke-width="0.7" />
<text x="26.2" y="273.95" font-size="6.2" fill="#333" text-anchor="end" stroke="#333" stroke-width="0.16">4</text>
<line x1="29.4" y1="257.07" x2="31.6" y2="257.07" stroke="#333" stroke-width="0.7" />
<text x="26.2" y="259.27" font-size="6.2" fill="#333" text-anchor="end" stroke="#333" stroke-width="0.16">6</text>
<line x1="29.4" y1="242.4" x2="31.6" y2="242.4" stroke="#333" stroke-width="0.7" />
<text x="26.2" y="244.6" font-size="6.2" fill="#333" text-anchor="end" stroke="#333" stroke-width="0.16">8</text>
<line x1="42.95" y1="301.1" x2="42.95" y2="302.7" stroke="#333" stroke-width="0.7" />
<line x1="42.95" y1="296.7" x2="42.95" y2="284.96" stroke="#333" stroke-width="0.6" />
<line x1="40.75" y1="296.7" x2="45.15" y2="296.7" stroke="#333" stroke-width="0.6" />
<line x1="40.75" y1="284.96" x2="45.15" y2="284.96" stroke="#333" stroke-width="0.6" />
<circle cx="42.95" cy="283.93" r="1.65" fill="#1d4a87"/>
<circle cx="38.95" cy="287.89" r="1.65" fill="#1d4a87"/>
<circle cx="38.95" cy="293.03" r="1.65" fill="#1d4a87"/>
<circle cx="42.95" cy="292" r="1.65" fill="#1d4a87"/>
<circle cx="46.95" cy="291.34" r="1.65" fill="#1d4a87"/>
<line x1="59.95" y1="301.1" x2="59.95" y2="302.7" stroke="#333" stroke-width="0.7" />
<line x1="59.95" y1="281.29" x2="59.95" y2="254.87" stroke="#7a1a2a" stroke-width="0.6" />
<line x1="57.75" y1="281.29" x2="62.15" y2="281.29" stroke="#7a1a2a" stroke-width="0.6" />
<line x1="57.75" y1="254.87" x2="62.15" y2="254.87" stroke="#7a1a2a" stroke-width="0.6" />
<polygon points="59.95,251.51 58.15,254.61 61.75,254.61" fill="#c0162c"/>
<polygon points="59.95,258.11 58.15,261.21 61.75,261.21" fill="#c0162c"/>
<polygon points="59.95,261.05 58.15,264.14 61.75,264.14" fill="#c0162c"/>
<polygon points="59.95,276.45 58.15,279.55 61.75,279.55" fill="#c0162c"/>
<polygon points="59.95,284.53 58.15,287.62 61.75,287.62" fill="#c0162c"/>
<polyline points="42.8,248.3 42.8,245.3 59.7,245.3 59.7,248.3" fill="none" stroke="#333" stroke-width="0.6" stroke-linejoin="round"/>
<text x="51.25" y="245.5" font-size="7.2" fill="#333" text-anchor="middle" stroke="#333" stroke-width="0.16">**</text>
<text x="42.5" y="313.2" font-size="6.4" fill="#333" text-anchor="middle" textLength="8.8" lengthAdjust="spacingAndGlyphs" stroke="#333" stroke-width="0.16">WT</text>
<text x="59.4" y="313.2" font-size="6.4" fill="#333" text-anchor="middle" textLength="17.8" lengthAdjust="spacingAndGlyphs" stroke="#333" stroke-width="0.16">V600E</text>
<text x="17" y="269.8" font-size="7.4" fill="#333" text-anchor="middle" textLength="52.5" lengthAdjust="spacingAndGlyphs" transform="rotate(-90 17 269.8)" stroke="#333" stroke-width="0.16">%CD14<tspan dy="-2.4" font-size="4.6">+</tspan><tspan dy="2.4"> cells D10</tspan></text>
<line x1="101.2" y1="310.3" x2="101.2" y2="238.9" stroke="#222" stroke-width="1" />
<polygon points="101.2,235.2 103.1,239.4 99.3,239.4" fill="#222"/>
<line x1="100.8" y1="310.3" x2="242.9" y2="310.3" stroke="#222" stroke-width="1" />
<polygon points="246.6,310.3 242.4,312.2 242.4,308.4" fill="#222"/>
<text x="96.0" y="272.2" font-size="8.8" fill="#333" text-anchor="middle" textLength="16.4" lengthAdjust="spacingAndGlyphs" transform="rotate(-90 96.0 272.2)" stroke="#333" stroke-width="0.08">CD33</text>
<text x="174" y="320.6" font-size="8.8" fill="#333" text-anchor="middle" textLength="16.4" lengthAdjust="spacingAndGlyphs" stroke="#333" stroke-width="0.08">CD14</text>
<text x="139.8" y="237.6" font-size="8.6" fill="#222" text-anchor="middle" stroke="#222" stroke-width="0.08">WT</text>
<text x="214" y="237.5" font-size="8.6" fill="#222" text-anchor="middle" textLength="24.2" lengthAdjust="spacingAndGlyphs" stroke="#222" stroke-width="0.08">V600E</text>
<path transform="scale(.1)" d="M1363 2517h0M1450 2580h0M1392 2517h0M1413 2588h0M1394 2586h0M1512 2520h0M1483 2554h0M1455 2615h0M1381 2507h0M1576 2549h0M1406 2541h0M1444 2610h0M1408 2529h0M1495 2565h0M1579 2597h0M1442 2527h0M1552 2614h0M1367 2586h0M1560 2577h0M1410 2593h0M1528 2526h0M1507 2529h0M1370 2542h0M1437 2549h0M1509 2597h0M1581 2612h0M1589 2592h0M1430 2524h0M1503 2565h0M1515 2515h0M1404 2606h0M1498 2581h0M1382 2549h0M1569 2576h0M1588 2527h0M1465 2593h0M1462 2592h0M1489 2518h0M1383 2613h0M1387 2526h0M1437 2583h0M1556 2557h0M1475 2592h0M1424 2546h0M1501 2575h0M1369 2517h0M1392 2585h0M1519 2612h0M1537 2533h0M1536 2613h0M1440 2506h0M1446 2536h0M1401 2510h0M1389 2600h0M1371 2573h0M1407 2526h0M1549 2538h0M1402 2555h0M1520 2563h0M1558 2549h0M1481 2584h0M1466 2584h0M1467 2520h0M1388 2591h0M1531 2609h0M1519 2569h0M1398 2599h0M1387 2552h0M1392 2547h0M1431 2552h0M1524 2565h0M1416 2591h0M1529 2596h0M1368 2573h0M1566 2533h0M1406 2595h0M1444 2549h0M1548 2547h0M1406 2529h0M1439 2582h0M1445 2590h0M1375 2532h0M1504 2558h0M1475 2608h0M1424 2525h0M1368 2558h0M1428 2557h0M1361 2505h0M1447 2588h0M1429 2605h0M1493 2549h0M1539 2531h0M1499 2598h0M1484 2540h0M1382 2568h0M1403 2546h0M1485 2609h0M1515 2562h0M1557 2539h0M1449 2579h0M1487 2529h0M1454 2596h0M1416 2583h0M1371 2610h0M1517 2541h0M1586 2593h0M1374 2532h0M1473 2615h0M1392 2510h0M1432 2510h0" stroke="#8a8ae0" stroke-width="6" stroke-linecap="round" opacity="0.55" fill="none"/>
<path transform="scale(.1)" d="M1413 2699h0M1495 2693h0M1473 2689h0M1370 2668h0M1402 2677h0M1426 2663h0M1441 2664h0M1478 2698h0M1415 2684h0M1486 2648h0M1386 2657h0M1469 2660h0M1394 2675h0M1412 2690h0M1392 2665h0M1420 2699h0M1388 2690h0M1424 2647h0M1397 2657h0M1491 2700h0" stroke="#8a8ae0" stroke-width="5" stroke-linecap="round" opacity="0.4" fill="none"/>
<path transform="scale(.1)" d="M1214 2937h0M1191 2829h0M1334 2918h0M1184 2809h0M1222 2932h0M1204 2850h0M1325 2474h0M1241 2501h0M1316 2904h0M1152 2651h0M1356 2685h0M1305 2924h0M1319 2939h0M1172 2583h0M1186 2867h0M1311 2500h0M1207 2497h0M1200 2872h0M1345 2504h0M1354 2567h0M1339 2516h0M1191 2491h0M1246 2475h0M1242 2498h0M1293 2439h0M1248 2486h0M1222 2920h0M1357 2838h0M1297 2501h0M1198 2897h0M1264 2942h0M1355 2546h0M1169 2715h0M1356 2632h0M1269 2468h0M1193 2873h0M1255 2934h0M1167 2546h0M1170 2637h0M1174 2691h0M1221 2515h0M1355 2594h0M1358 2863h0M1355 2717h0M1171 2658h0M1364 2666h0M1266 2505h0M1302 2507h0M1254 2939h0M1351 2843h0M1210 2509h0M1287 2956h0M1181 2832h0M1174 2514h0M1280 2468h0M1316 2507h0M1250 2939h0M1216 2490h0M1367 2671h0M1177 2556h0M1178 2765h0M1355 2560h0M1338 2532h0M1332 2881h0M1310 2509h0M1298 2927h0M1359 2529h0M1347 2863h0M1179 2807h0M1208 2890h0M1193 2866h0M1317 2495h0M1184 2547h0M1223 2506h0M1204 2883h0M1359 2599h0M1359 2583h0M1367 2553h0M1192 2879h0M1228 2915h0M1312 2949h0M1265 2951h0M1379 2659h0M1324 2901h0M1347 2726h0M1226 2924h0M1359 2545h0M1348 2539h0M1207 2901h0M1239 2503h0M1203 2896h0M1162 2687h0M1179 2534h0M1356 2561h0M1199 2491h0M1339 2750h0M1220 2920h0M1239 2924h0M1309 2509h0M1170 2582h0M1184 2879h0M1171 2595h0M1234 2923h0M1178 2546h0M1188 2828h0M1171 2608h0M1377 2792h0M1175 2722h0M1159 2753h0M1182 2503h0M1203 2881h0M1331 2537h0M1232 2481h0M1270 2497h0M1292 2508h0M1313 2503h0M1188 2861h0M1256 2951h0M1172 2607h0M1330 2507h0M1199 2465h0M1376 2693h0M1259 2495h0M1371 2646h0M1339 2920h0M1284 2975h0M1224 2500h0M1172 2692h0M1297 2933h0M1355 2592h0M1228 2901h0M1383 2660h0M1193 2836h0M1348 2821h0M1347 2839h0M1336 2838h0M1357 2553h0M1265 2942h0M1180 2751h0M1165 2525h0M1358 2788h0M1364 2528h0M1173 2527h0M1223 2913h0M1316 2920h0M1319 2500h0M1165 2689h0M1370 2671h0M1363 2699h0M1221 2510h0M1311 2493h0M1340 2873h0M1301 2506h0M1346 2795h0M1214 2905h0M1372 2626h0M1353 2752h0M1166 2538h0M1183 2725h0M1321 2471h0M1202 2879h0M1357 2595h0M1332 2870h0M1287 2934h0M1362 2715h0M1289 2971h0M1363 2538h0M1245 2500h0M1331 2517h0M1181 2714h0M1259 2503h0M1351 2843h0M1206 2514h0M1341 2824h0M1249 2963h0M1355 2688h0M1382 2597h0M1172 2620h0M1300 2927h0M1292 2938h0M1333 2519h0M1224 2917h0M1338 2808h0M1358 2663h0M1339 2791h0M1177 2543h0M1188 2496h0M1178 2726h0M1179 2832h0M1253 2942h0M1374 2595h0M1231 2492h0M1352 2545h0M1294 2484h0M1341 2834h0M1150 2637h0M1322 2892h0M1238 2523h0M1312 2919h0M1311 2956h0M1230 2918h0M1355 2524h0M1290 2506h0M1176 2575h0M1354 2511h0M1212 2523h0M1337 2501h0M1334 2845h0M1294 2936h0M1367 2632h0M1195 2852h0M1342 2868h0M1208 2899h0M1279 2475h0M1377 2796h0M1382 2660h0M1216 2496h0M1315 2491h0M1285 2939h0M1368 2626h0M1170 2651h0M1353 2715h0M1180 2515h0M1311 2939h0M1325 2925h0M1362 2571h0M1355 2589h0M1225 2930h0M1155 2579h0M1291 2500h0M1232 2913h0M1166 2728h0M1369 2579h0M1357 2668h0M1171 2797h0M1345 2534h0M1216 2502h0M1188 2833h0M1355 2651h0M1368 2615h0M1315 2898h0M1188 2798h0M1352 2558h0M1370 2663h0M1336 2818h0M1366 2835h0M1371 2544h0M1354 2536h0M1334 2800h0M1312 2921h0M1221 2942h0M1361 2747h0M1353 2559h0M1224 2956h0M1356 2565h0M1225 2483h0M1231 2937h0M1366 2633h0M1249 2932h0M1176 2592h0" stroke="#6b6bd0" stroke-width="6" stroke-linecap="round" opacity="0.6" fill="none"/>
<path d="M118,252C118.9,250 120.5,250.4 122,250C123.5,249.6 125.3,249.5 127,249.6C128.7,249.7 130.6,249.6 132,250.3C133.4,251 134.8,252.1 135.5,254C136.2,255.9 136.2,259 136.2,262C136.2,265 135.9,268.7 135.6,272C135.3,275.3 134.9,279 134.5,282C134.1,285 133.9,288 133,290C132.1,292 130.5,293.3 129,294C127.5,294.7 125.4,294.7 124,294C122.6,293.3 121.4,292 120.5,290C119.6,288 119.1,285 118.5,282C117.9,279 117.3,275.3 117,272C116.7,268.7 116.6,265.3 116.8,262C117,258.7 117.1,254 118,252Z" fill="#eef0fb" stroke="#6464cc" stroke-width="0.5" opacity="1"/>
<path d="M119.2,254.7C120,253 121.4,253.5 122.7,253.1C124,252.8 125.6,252.4 127,252.5C128.4,252.6 130,253.1 131.2,253.7C132.4,254.4 133.8,254.7 134.4,256.4C135,258 134.9,260.8 134.9,263.5C134.9,266.1 134.7,269.2 134.4,272C134.2,274.8 133.7,277.9 133.3,280.5C133,283 132.9,285.7 132.1,287.4C131.3,289.1 130,290.1 128.7,290.7C127.4,291.3 125.7,291.3 124.4,290.8C123.2,290.3 122.1,289.4 121.3,287.7C120.6,286 120.2,283.2 119.7,280.6C119.2,278 118.5,274.9 118.2,272C117.9,269.1 118,266.3 118.2,263.4C118.4,260.5 118.5,256.4 119.2,254.7Z" fill="none" stroke="#7777d2" stroke-width="0.35" opacity="0.85"/>
<path d="M120.6,257.8C121.2,256.4 122.3,256.4 123.4,256.1C124.4,255.7 125.8,255.8 127,255.8C128.2,255.9 129.5,256.1 130.5,256.7C131.6,257.2 132.6,257.6 133.1,259C133.6,260.4 133.5,262.8 133.5,265C133.5,267.1 133.3,269.6 133.2,272C133,274.4 132.7,277 132.4,279.2C132.1,281.4 132,283.6 131.4,285.1C130.7,286.6 129.6,287.7 128.5,288.2C127.4,288.7 125.8,288.5 124.8,287.9C123.8,287.3 123.1,286.1 122.4,284.7C121.8,283.2 121.3,281.3 120.9,279.2C120.5,277.1 120.1,274.4 119.9,272C119.7,269.6 119.4,267.1 119.6,264.7C119.7,262.3 120,259.2 120.6,257.8Z" fill="none" stroke="#7777d2" stroke-width="0.35" opacity="0.85"/>
<path d="M121.7,260.2C122.2,259.1 123.3,259.7 124.2,259.5C125,259.3 126,258.8 127,258.8C128,258.8 129.1,259.1 129.9,259.5C130.7,260 131.4,260.6 131.9,261.7C132.3,262.8 132.3,264.5 132.3,266.2C132.3,267.9 132.1,270.1 132,272C131.8,273.9 131.6,276 131.3,277.7C131,279.5 131,281.2 130.4,282.3C129.9,283.5 129,284.3 128.2,284.7C127.3,285.1 126.1,285.3 125.2,284.9C124.4,284.5 123.8,283.5 123.3,282.3C122.8,281.1 122.4,279.5 122.1,277.8C121.8,276.1 121.5,273.9 121.3,272C121.1,270.1 120.9,268.1 121,266.1C121.1,264.2 121.2,261.3 121.7,260.2Z" fill="none" stroke="#7777d2" stroke-width="0.35" opacity="0.85"/>
<path d="M123.1,263.3C123.5,262.4 124.1,262.4 124.8,262.2C125.4,262 126.3,262.4 127,262.4C127.7,262.4 128.6,262 129.2,262.3C129.9,262.6 130.4,263.2 130.7,264.1C131,265 131.1,266.2 131.1,267.5C131.2,268.8 131,270.5 130.8,272C130.7,273.5 130.6,275.2 130.4,276.5C130.1,277.8 130,278.8 129.6,279.7C129.2,280.6 128.5,281.5 127.9,281.8C127.2,282.1 126.3,282 125.7,281.7C125,281.4 124.5,281 124.1,280.1C123.7,279.2 123.5,277.8 123.2,276.4C123,275.1 122.8,273.5 122.6,272C122.5,270.5 122.3,269 122.4,267.5C122.5,266.1 122.7,264.2 123.1,263.3Z" fill="none" stroke="#7777d2" stroke-width="0.35" opacity="0.85"/>
<path d="M124.3,257 C124.3,253.5 130,253.5 130,257 L130.3,286 C130.3,290 124.6,290 124.6,286 Z" fill="#b4e1ec" stroke="none" stroke-width="0.4" opacity="0.95" stroke-linejoin="round"/>
<path d="M125.8,258 C125.8,256 128.8,256 128.8,258 L129,284 C129,287 126,287 126,284 Z" fill="#8ed4df" stroke="none" stroke-width="0.4" opacity="0.95" stroke-linejoin="round"/>
<ellipse cx="128.7" cy="289" rx="3.5" ry="3.3" fill="#2e3f9e" stroke="none" stroke-width="0.4" opacity="1" />
<ellipse cx="128.7" cy="289" rx="2.8" ry="2.64" fill="#5fb3d6" stroke="none" stroke-width="0.4" opacity="1" />
<ellipse cx="128.7" cy="289" rx="2.17" ry="2.05" fill="#6ac06a" stroke="none" stroke-width="0.4" opacity="1" />
<ellipse cx="128.7" cy="289" rx="1.57" ry="1.48" fill="#e6e23c" stroke="none" stroke-width="0.4" opacity="1" />
<ellipse cx="128.7" cy="289" rx="0.98" ry="0.92" fill="#f3a033" stroke="none" stroke-width="0.4" opacity="1" />
<line x1="112.75" y1="241.1" x2="112.75" y2="301.1" stroke="#555" stroke-width="0.55" />
<line x1="112.75" y1="301.1" x2="167.5" y2="301.1" stroke="#555" stroke-width="0.55" />
<text x="111.75" y="248.6" font-size="3.4" fill="#555" text-anchor="end" stroke="#555" stroke-width="0.16">10³</text>
<line x1="112.05" y1="247.7" x2="112.75" y2="247.7" stroke="#777" stroke-width="0.3" />
<text x="111.75" y="266.7" font-size="3.4" fill="#555" text-anchor="end" stroke="#555" stroke-width="0.16">10²</text>
<line x1="112.05" y1="265.8" x2="112.75" y2="265.8" stroke="#777" stroke-width="0.3" />
<text x="111.75" y="286.6" font-size="3.4" fill="#555" text-anchor="end" stroke="#555" stroke-width="0.16">10¹</text>
<line x1="112.05" y1="285.7" x2="112.75" y2="285.7" stroke="#777" stroke-width="0.3" />
<text x="111.75" y="293.2" font-size="3.4" fill="#555" text-anchor="end" stroke="#555" stroke-width="0.16">−10¹</text>
<line x1="112.05" y1="292.3" x2="112.75" y2="292.3" stroke="#777" stroke-width="0.3" />
<text x="111.75" y="298.8" font-size="3.4" fill="#555" text-anchor="end" stroke="#555" stroke-width="0.16">−10²</text>
<line x1="112.05" y1="297.9" x2="112.75" y2="297.9" stroke="#777" stroke-width="0.3" />
<text x="127.6" y="304.5" font-size="3.4" fill="#555" text-anchor="middle" stroke="#555" stroke-width="0.16">−10¹ 0 10¹</text>
<text x="148.8" y="304.5" font-size="3.4" fill="#555" text-anchor="middle" stroke="#555" stroke-width="0.16">10²</text>
<text x="162.7" y="304.5" font-size="3.4" fill="#555" text-anchor="middle" stroke="#555" stroke-width="0.16">10³</text>
<polyline points="143.75,241.1 140.6,271.75 167.5,273" fill="none" stroke="#222" stroke-width="1" stroke-linejoin="round"/>
<path transform="scale(.1)" d="M1877 2608h0M2102 2570h0M1919 2492h0M2137 2637h0M1941 2527h0M1814 2694h0M1892 2668h0M2229 2625h0M2008 2842h0M1995 2702h0M1889 2555h0M1853 2811h0M2211 2612h0M2016 2616h0M2273 2792h0M2026 2822h0M2216 2559h0M2147 2807h0M2056 2841h0M2224 2708h0M2000 2860h0M2081 2782h0M2269 2752h0M2047 2498h0M2116 2773h0M2149 2804h0M2168 2750h0M2081 2813h0M1958 2550h0M1908 2727h0M1844 2642h0M2027 2767h0M1903 2720h0M2065 2612h0M2070 2676h0M1896 2653h0M1960 2933h0M2021 2596h0M1862 2707h0M2119 2717h0M1885 2562h0M1898 2741h0M1928 2694h0M2218 2515h0M2016 2704h0M1878 2846h0M2015 2778h0M2130 2909h0M1958 2600h0M1901 2535h0M2264 2648h0M1852 2798h0M2250 2586h0M2051 2493h0M1829 2682h0M1906 2538h0M2060 2781h0M2027 2905h0M1954 2647h0M2138 2944h0M2258 2813h0M2075 2497h0M2248 2694h0M2282 2711h0M1853 2834h0M2085 2608h0M2084 2710h0M2091 2464h0M2061 2790h0M1907 2880h0M2037 2449h0M2254 2653h0M2066 2670h0M2273 2710h0M1949 2595h0M2146 2812h0M1960 2861h0M1947 2738h0M2144 2760h0M2103 2762h0M1976 2750h0M2105 2510h0M1864 2754h0M2053 2741h0M2173 2774h0M1972 2804h0M1974 2931h0M2211 2710h0M1955 2796h0M2032 2574h0M2142 2728h0M2190 2678h0M2225 2879h0M1906 2491h0M1944 2912h0M2163 2734h0M2098 2514h0M2087 2537h0M2098 2647h0M1976 2618h0M2120 2941h0M1854 2804h0M2007 2925h0M2209 2583h0M2069 2920h0M2255 2627h0M1908 2759h0M2221 2837h0M2111 2806h0M2145 2723h0M1927 2824h0M2121 2857h0M2054 2616h0M2164 2847h0M2239 2553h0M1984 2666h0M2218 2508h0M2191 2584h0M1914 2839h0M2110 2439h0M1879 2708h0M1985 2884h0M1927 2661h0M1828 2767h0M2061 2836h0M1975 2936h0M1978 2932h0M2253 2591h0M2085 2588h0M1843 2775h0M2055 2909h0M2210 2511h0M2001 2775h0M2182 2729h0M1928 2658h0M2137 2505h0M1892 2531h0M1958 2892h0M1974 2817h0M2210 2858h0M2084 2672h0M2037 2634h0M1933 2775h0M2179 2598h0M1907 2689h0M2047 2833h0M2077 2712h0M1854 2628h0M1991 2579h0M2117 2694h0M1924 2765h0M2151 2939h0M2031 2604h0M2146 2918h0M1958 2806h0M2010 2847h0M1936 2620h0M1999 2663h0M1871 2655h0M1955 2928h0" stroke="#8a8ae0" stroke-width="5.5" stroke-linecap="round" opacity="0.35" fill="none"/>
<path transform="scale(.1)" d="M2345 2509h0M2089 2630h0M2351 2572h0M2104 2518h0M2188 2491h0M2249 2493h0M2120 2636h0M2316 2641h0M2339 2615h0M2341 2536h0M2078 2575h0M2326 2630h0M2353 2557h0M2330 2639h0M2355 2586h0M2195 2505h0M2167 2640h0M2127 2505h0M2324 2632h0M2277 2642h0M2108 2641h0M2352 2517h0M2360 2528h0M2154 2643h0M2232 2672h0M2346 2582h0M2376 2522h0M2088 2613h0M2285 2502h0M2347 2521h0M2350 2496h0M2243 2485h0M2133 2635h0M2293 2491h0M2362 2564h0M2349 2538h0M2239 2498h0M2251 2656h0M2297 2509h0M2353 2607h0M2227 2671h0M2235 2645h0M2349 2590h0M2078 2625h0M2365 2530h0M2139 2636h0M2091 2507h0M2041 2575h0M2154 2508h0M2354 2584h0M2074 2525h0M2161 2495h0M2336 2625h0M2366 2585h0M2114 2647h0M2370 2602h0M2111 2639h0M2328 2634h0M2149 2507h0M2237 2644h0M2286 2508h0M2339 2605h0M2222 2644h0M2205 2629h0M2125 2489h0M2221 2639h0M2353 2648h0M2202 2645h0M2081 2515h0M2336 2611h0M2213 2501h0M2151 2659h0M2344 2601h0M2248 2506h0M2299 2501h0M2159 2653h0M2303 2504h0M2241 2650h0M2357 2615h0M2241 2502h0M2268 2661h0M2360 2527h0M2305 2636h0M2090 2593h0M2171 2495h0M2299 2501h0M2135 2503h0M2145 2635h0M2145 2495h0M2185 2654h0M2336 2496h0M2118 2502h0M2314 2643h0M2355 2538h0M2063 2505h0M2343 2612h0M2054 2509h0M2116 2502h0M2123 2637h0M2123 2497h0M2348 2570h0M2064 2601h0M2373 2565h0M2365 2554h0M2087 2581h0M2321 2632h0M2144 2640h0M2330 2515h0M2154 2508h0M2086 2598h0M2354 2636h0M2371 2570h0M2335 2504h0M2226 2502h0M2217 2504h0M2359 2565h0M2208 2653h0M2142 2657h0M2336 2497h0M2346 2583h0M2366 2597h0M2308 2647h0M2123 2640h0M2346 2606h0M2369 2586h0M2075 2511h0M2343 2520h0M2371 2570h0M2335 2514h0M2095 2648h0M2163 2503h0M2202 2630h0M2267 2501h0M2062 2569h0M2095 2516h0M2161 2637h0M2346 2614h0M2119 2492h0M2134 2507h0M2343 2576h0M2194 2647h0M2333 2625h0M2326 2638h0M2285 2650h0M2125 2633h0M2305 2508h0M2355 2589h0M2266 2501h0M2345 2512h0M2168 2658h0M2245 2660h0M2236 2641h0M2247 2505h0M2295 2641h0M2331 2620h0M2324 2516h0M2262 2653h0M2318 2638h0M2340 2517h0M2185 2483h0M2156 2637h0M2304 2637h0M2321 2633h0M2214 2506h0M2161 2644h0M2356 2602h0M2282 2651h0M2085 2611h0M2337 2517h0M2225 2658h0M2095 2629h0M2110 2633h0M2380 2552h0M2262 2501h0M2315 2651h0M2315 2464h0M2168 2488h0M2075 2553h0M2359 2591h0M2082 2509h0M2269 2655h0M2322 2636h0M2157 2643h0M2072 2544h0M2088 2500h0M2082 2635h0M2255 2500h0M2300 2633h0M2350 2604h0M2253 2511h0M2173 2507h0M2081 2512h0M2142 2644h0M2245 2646h0M2342 2610h0M2078 2514h0M2297 2640h0M2073 2515h0M2276 2659h0M2150 2645h0M2361 2556h0M2251 2644h0M2046 2550h0M2217 2500h0M2359 2619h0M2223 2646h0M2316 2634h0M2349 2568h0M2151 2641h0M2332 2617h0M2277 2643h0M2208 2502h0M2338 2513h0M2279 2651h0M2199 2506h0M2246 2494h0M2173 2502h0M2338 2613h0M2263 2504h0M2115 2639h0M2350 2524h0M2119 2634h0M2350 2594h0M2141 2644h0M2370 2556h0M2343 2510h0M2085 2503h0M2189 2642h0M2367 2577h0M2260 2646h0" stroke="#6b6bd0" stroke-width="6" stroke-linecap="round" opacity="0.6" fill="none"/>
<path transform="scale(.1)" d="M1953 2743h0M2018 2885h0M1956 2957h0M1923 2572h0M2056 2717h0M2057 2484h0M1972 3006h0M1916 2576h0M1901 2534h0M1958 2998h0M1970 2999h0M1985 3008h0M1994 3036h0M2023 2901h0M1923 2632h0M1947 2506h0M1930 2762h0M1939 2776h0M1906 2622h0M1957 2772h0M1939 2492h0M2069 2541h0M1958 2934h0M1971 2862h0M2015 2498h0M2031 2944h0M2018 2886h0M2081 2553h0M1972 2995h0M2074 2529h0M2028 2921h0M1999 2975h0M2029 2921h0M2067 2547h0M2023 2829h0M1968 2889h0M1969 2853h0M1922 2617h0M1935 2690h0M1920 2565h0M1994 2493h0M2070 2635h0M1916 2587h0M2008 2491h0M2076 2638h0M2041 2478h0M1958 2930h0M1918 2710h0M2021 2817h0M1937 2712h0M2011 2988h0M1962 2913h0M1931 2719h0M2021 2891h0M1955 2951h0M2066 2515h0M2033 2946h0M1936 2512h0M2083 2636h0M1955 2969h0M2064 2689h0M1948 2484h0M2074 2569h0M2075 2573h0M2006 2492h0M2032 2957h0M2091 2556h0M1938 2762h0M1954 2726h0M1988 2998h0M1924 2690h0M1934 2738h0M1966 2812h0M1916 2551h0M2071 2572h0M2030 2943h0M2020 2861h0M2008 3017h0M2003 2500h0M1956 2939h0M1963 2840h0M1983 2490h0M1957 2935h0M2031 2967h0M1954 2954h0M1954 2992h0M2050 2679h0M1966 2986h0M1957 2935h0M2035 2987h0M2021 2895h0M2022 2978h0M2026 2887h0M1921 2516h0M1989 3010h0M1960 2496h0M2029 2927h0M2020 2854h0M2022 2859h0M2078 2545h0M1963 2498h0M2015 3003h0M2066 2642h0M1964 2914h0M2002 2479h0M2031 2962h0M1933 2492h0M1922 2672h0M1958 2932h0M2039 2730h0M2020 2812h0M1957 2947h0M1934 2528h0M2052 2507h0M1983 3013h0M2070 2576h0M1942 2507h0M2022 2981h0M2065 2608h0M1929 2526h0M2019 2886h0M1911 2573h0M1920 2702h0M1941 2460h0M1951 2764h0M1973 2490h0M2034 2479h0M1957 2932h0M1964 2840h0M1957 2945h0M2009 2506h0M2029 2974h0M2086 2619h0M2029 2779h0M2035 2750h0M2024 2995h0M1919 2637h0M1920 2524h0M1965 2818h0M1905 2542h0M2031 2950h0M2017 2848h0M2029 2941h0M2020 2893h0M2034 2748h0M2044 2728h0M2025 2989h0M1952 2989h0M1966 2849h0M2055 2524h0M1957 2948h0M1972 2877h0M2031 2759h0M2040 2489h0M1971 2889h0M1949 2501h0M1905 2523h0M2019 2848h0M2049 2688h0M1986 2494h0M1952 2741h0M2086 2622h0M1972 2874h0M1960 2505h0M2090 2684h0M2075 2580h0M1958 2936h0M1910 2530h0M1928 2515h0M2029 2929h0M1994 2988h0M2013 3004h0M2075 2637h0M1915 2576h0M1966 2896h0M2070 2547h0M1952 2759h0M1957 2965h0M1890 2715h0M2048 2707h0M2053 2657h0M2021 2983h0M1915 2554h0M1977 2483h0M1970 2868h0M2063 2547h0M1956 2945h0M1967 2995h0M1990 2481h0M1960 2932h0M2047 2721h0M1936 2660h0M2059 2530h0M2031 2948h0M1901 2524h0M1970 2886h0M2063 2529h0M1923 2601h0M2065 2626h0M1971 2867h0M2066 2724h0M1966 2818h0M2073 2537h0M1970 2879h0M1986 2498h0M2060 2726h0M1964 2803h0M2067 2604h0M1897 2608h0M2071 2620h0M1942 2675h0M2080 2536h0M2009 2501h0M1956 2942h0M2031 2959h0M2055 2477h0M2032 2948h0M2017 2984h0M1960 2916h0M2032 2754h0M2050 2514h0M2012 2498h0M1958 2941h0M2016 2867h0M1984 2979h0M1959 2498h0M1972 3002h0M1914 2515h0M1930 2671h0M1984 2985h0M2069 2591h0M2021 2853h0M1959 2930h0M2031 2956h0M2078 2662h0M1948 2748h0M1948 2486h0M1907 2528h0M1970 2882h0M1953 2476h0M1978 2996h0M1958 2738h0M1932 2750h0M2014 2994h0M2059 2532h0M1944 2771h0M2078 2607h0M1963 2917h0M2045 2683h0M1970 2864h0M1971 2872h0M1970 3029h0M2011 2499h0M1953 2964h0M1961 2496h0M1941 2482h0M1905 2607h0M2009 3012h0M2020 2856h0M2052 2703h0M2036 2998h0M2016 2480h0M2034 2955h0M2023 2913h0M1990 2994h0M2008 2493h0M1949 2500h0M2029 2829h0M2053 2712h0M1968 2793h0M2034 2968h0M1943 2497h0M2029 2969h0M1965 2506h0M2072 2582h0M2079 2553h0M2024 2903h0M2028 2919h0M1940 2715h0M1966 3003h0M1953 2978h0M1963 2982h0M2017 2984h0M2046 2731h0M1984 2482h0M2017 2987h0M1957 3015h0M2026 2973h0M2019 2497h0M2028 2810h0M2025 2765h0M1970 2859h0M1969 2997h0M1955 2969h0M1956 2960h0M2019 2894h0M2018 3007h0M2048 2492h0M2050 2485h0M2010 2998h0M1947 2513h0M1925 2519h0M2077 2523h0M2026 2816h0M1960 2915h0M1957 2976h0M1969 2882h0M1922 2706h0M2031 2957h0M1956 2955h0M1923 2603h0M1924 2658h0M2071 2634h0M1917 2559h0M1954 2950h0M2035 2975h0M1958 2504h0M1969 2495h0M1972 2863h0M2025 2779h0M1965 2902h0M1978 2996h0M1912 2595h0M2087 2544h0M2067 2542h0M2019 2824h0M2034 2972h0M1921 2565h0M1922 2685h0M2034 2967h0" stroke="#6b6bd0" stroke-width="6" stroke-linecap="round" opacity="0.6" fill="none"/>
<path d="M206.5,251.5C207.5,249.3 211.8,250.2 215,250C218.2,249.8 223,249.9 226,250C229,250.1 231.4,249.9 233,250.5C234.6,251.1 235.1,252.1 235.5,253.5C235.9,254.9 235.9,257.3 235.5,259C235.1,260.7 234.6,262.5 233,263.5C231.4,264.5 228.8,264.8 226,265C223.2,265.2 218.8,264.8 216,264.5C213.2,264.2 210.6,265.2 209,263C207.4,260.8 205.5,253.7 206.5,251.5Z" fill="#f3f3fc" stroke="#5e5ec8" stroke-width="0.6" opacity="1"/>
<path d="M214.5,254.3C216.2,253.6 221.1,253.6 224,253.6C226.9,253.6 230.5,253.6 232,254.5C233.5,255.4 233.3,257.7 233,259C232.7,260.3 231.8,261.9 230,262.5C228.2,263.1 224.5,263 222,262.8C219.5,262.6 216.4,262.3 215,261.5C213.6,260.7 213.6,259.2 213.5,258C213.4,256.8 212.8,255 214.5,254.3Z" fill="#fff" stroke="#6a6ad0" stroke-width="0.45" opacity="1" stroke-linejoin="round"/>
<path d="M199.5,248.6C201.2,248.6 203.2,248.9 204.5,250C205.8,251.1 207,252.8 207.5,255C208,257.2 207.7,260.3 207.3,263C206.9,265.7 205.8,268.2 205,271C204.2,273.8 203.1,277.2 202.5,280C201.9,282.8 201.5,285.9 201.6,288C201.7,290.1 202.7,291 203,292.5C203.3,294 203.5,295.8 203.2,297C202.9,298.2 201.9,299.5 201,300C200.1,300.5 198.4,300.5 197.5,300C196.6,299.5 195.8,298.2 195.5,297C195.2,295.8 195.5,294 195.8,292.5C196.1,291 197.1,290.1 197.2,288C197.3,285.9 196.9,282.8 196.3,280C195.7,277.2 194.6,273.8 193.8,271C193,268.2 192,265.7 191.6,263C191.2,260.3 191,257.2 191.5,255C192,252.8 193.2,251.1 194.5,250C195.8,248.9 197.8,248.6 199.5,248.6Z" fill="#dfe5f7" stroke="#5a5ac8" stroke-width="0.55" opacity="1"/>
<path d="M199.5,251C201,251.1 202.7,251.4 203.8,252.3C205,253.3 206,254.8 206.4,256.7C206.9,258.6 206.8,261.2 206.5,263.5C206.1,265.8 205.1,268.1 204.3,270.6C203.6,273.2 202.6,276.1 202.1,278.6C201.6,281.1 201.3,283.8 201.3,285.6C201.4,287.4 202.3,288.1 202.6,289.5C202.8,290.8 203.1,292.6 202.8,293.8C202.5,294.9 201.7,295.8 200.8,296.2C200,296.7 198.5,296.9 197.7,296.5C196.9,296 196.2,294.8 195.9,293.7C195.7,292.6 195.9,291.2 196.2,289.9C196.4,288.5 197.4,287.5 197.5,285.6C197.6,283.7 197.2,280.9 196.7,278.4C196.2,275.9 195.2,273.1 194.5,270.6C193.8,268.1 192.8,265.9 192.5,263.6C192.1,261.2 192.1,258.6 192.5,256.7C193,254.8 193.9,253 195.1,252.1C196.2,251.1 198,251 199.5,251Z" fill="none" stroke="#7070d0" stroke-width="0.35" opacity="0.8"/>
<path d="M199.5,253.2C200.7,253.2 202.2,253.8 203.2,254.6C204.2,255.4 205.3,256.4 205.6,258C206,259.6 205.6,262.2 205.3,264.3C205,266.3 204.3,268.2 203.7,270.3C203.1,272.5 202.2,275.1 201.8,277.2C201.3,279.4 201,281.4 201.1,283C201.1,284.6 202,285.6 202.2,286.8C202.4,288 202.6,289.4 202.3,290.2C202.1,291.1 201.3,291.6 200.6,292C199.9,292.3 198.6,292.9 197.9,292.5C197.3,292.1 196.7,290.6 196.5,289.7C196.3,288.8 196.4,288 196.6,286.9C196.8,285.9 197.7,284.9 197.7,283.3C197.8,281.7 197.4,279.5 197,277.3C196.6,275.1 195.8,272.4 195.2,270.2C194.6,268.1 193.8,266.3 193.5,264.2C193.2,262.2 193,259.7 193.4,258.1C193.7,256.4 194.6,255.1 195.7,254.3C196.7,253.4 198.2,253.1 199.5,253.2Z" fill="none" stroke="#7070d0" stroke-width="0.35" opacity="0.8"/>
<path d="M202.4,296.3L202.2,296.7L202.1,297.2L201.9,297.6L201.7,298L201.3,298.3L201,298.7L200.6,299.1L200,299.5L199.4,299.7L198.7,299.7L198.1,299.4L197.6,299L197.3,298.6L196.9,298.1L196.5,297.8L196.1,297.3L195.8,296.9L195.8,296.3L195.9,295.8L196.2,295.3L196.6,294.9L197,294.5L197.4,294.2L197.9,294L198.4,293.8L198.9,293.7L199.4,293.6L200,293.5L200.6,293.3L201.4,293.3L202.1,293.5L202.7,293.9L202.9,294.5L202.9,295.2L202.7,295.8Z" fill="none" stroke="#5050c0" stroke-width="0.35" opacity="0.85" stroke-linejoin="round"/>
<path d="M201.9,296.3L201.8,296.7L201.6,297L201.3,297.3L201.1,297.6L200.9,297.8L200.6,298.1L200.2,298.3L199.8,298.5L199.4,298.5L199,298.5L198.6,298.3L198.2,298.2L197.9,297.9L197.6,297.6L197.4,297.3L197.3,297L197.2,296.6L197.1,296.3L197.1,295.9L197.1,295.5L197.2,295.2L197.4,294.8L197.8,294.6L198.2,294.4L198.6,294.3L199,294.3L199.4,294.3L199.8,294.3L200.2,294.4L200.6,294.5L200.9,294.7L201.2,294.9L201.5,295.2L201.8,295.5L201.9,295.9Z" fill="none" stroke="#5050c0" stroke-width="0.35" opacity="0.85" stroke-linejoin="round"/>
<path d="M201.2,296.3L201.1,296.6L201,296.8L200.9,297.1L200.7,297.2L200.4,297.4L200.2,297.5L199.9,297.6L199.7,297.6L199.4,297.7L199.1,297.6L198.9,297.6L198.6,297.5L198.3,297.4L198.1,297.3L197.9,297.1L197.7,296.8L197.6,296.6L197.6,296.3L197.6,296L197.7,295.8L197.9,295.5L198.1,295.4L198.4,295.2L198.6,295.1L198.9,295L199.1,295L199.4,295L199.7,295L199.9,295L200.2,295.1L200.5,295.2L200.7,295.3L200.9,295.5L201.1,295.8L201.2,296Z" fill="none" stroke="#5050c0" stroke-width="0.35" opacity="0.85" stroke-linejoin="round"/>
<ellipse cx="199.5" cy="261.8" rx="5.8" ry="11.2" fill="#93c3ea" stroke="none" stroke-width="0.4" opacity="1" />
<ellipse cx="199.5" cy="261.8" rx="4.52" ry="8.74" fill="#6bc6d8" stroke="none" stroke-width="0.4" opacity="1" />
<ellipse cx="199.5" cy="261.8" rx="3.25" ry="6.27" fill="#67c46a" stroke="none" stroke-width="0.4" opacity="1" />
<ellipse cx="199.5" cy="261.8" rx="2.2" ry="4.26" fill="#e6e23c" stroke="none" stroke-width="0.4" opacity="1" />
<ellipse cx="199.5" cy="261.8" rx="1.45" ry="2.8" fill="#f39b33" stroke="none" stroke-width="0.4" opacity="1" />
<ellipse cx="199.5" cy="261.8" rx="0.75" ry="1.46" fill="#e2452d" stroke="none" stroke-width="0.4" opacity="1" />
<line x1="183.6" y1="241.75" x2="183.6" y2="302.4" stroke="#555" stroke-width="0.55" />
<line x1="183.6" y1="302.4" x2="239.9" y2="302.4" stroke="#555" stroke-width="0.55" />
<text x="182.6" y="250.3" font-size="3.4" fill="#555" text-anchor="end" stroke="#555" stroke-width="0.16">10³</text>
<line x1="182.9" y1="249.4" x2="183.6" y2="249.4" stroke="#777" stroke-width="0.3" />
<text x="182.6" y="270.2" font-size="3.4" fill="#555" text-anchor="end" stroke="#555" stroke-width="0.16">10²</text>
<line x1="182.9" y1="269.3" x2="183.6" y2="269.3" stroke="#777" stroke-width="0.3" />
<text x="182.6" y="294.4" font-size="3.4" fill="#555" text-anchor="end" stroke="#555" stroke-width="0.16">10¹</text>
<line x1="182.9" y1="293.5" x2="183.6" y2="293.5" stroke="#777" stroke-width="0.3" />
<text x="182.6" y="301.3" font-size="3.4" fill="#555" text-anchor="end" stroke="#555" stroke-width="0.16">−10¹</text>
<line x1="182.9" y1="300.4" x2="183.6" y2="300.4" stroke="#777" stroke-width="0.3" />
<text x="199" y="305.8" font-size="3.4" fill="#555" text-anchor="middle" stroke="#555" stroke-width="0.16">−10¹ 0 10¹</text>
<text x="220.3" y="305.8" font-size="3.4" fill="#555" text-anchor="middle" stroke="#555" stroke-width="0.16">10²</text>
<text x="234" y="305.8" font-size="3.4" fill="#555" text-anchor="middle" stroke="#555" stroke-width="0.16">10³</text>
<polyline points="214.9,241.75 211.75,277.75 239.9,278.25" fill="none" stroke="#222" stroke-width="1" stroke-linejoin="round"/>
<rect x="295.5" y="287.06" width="10.3" height="13.34" fill="#8ea3cc" stroke="none" stroke-width="0.8" />
<rect x="312" y="267.11" width="10.2" height="33.29" fill="#ef9a8c" stroke="none" stroke-width="0.8" />
<line x1="289.2" y1="239.8" x2="289.2" y2="300.4" stroke="#2a2a2a" stroke-width="1" />
<line x1="288.7" y1="300.4" x2="327.5" y2="300.4" stroke="#2a2a2a" stroke-width="1" />
<line x1="287" y1="300.4" x2="289.2" y2="300.4" stroke="#333" stroke-width="0.7" />
<text x="283.8" y="302.6" font-size="6.2" fill="#333" text-anchor="end" stroke="#333" stroke-width="0.16">0</text>
<line x1="287" y1="288.8" x2="289.2" y2="288.8" stroke="#333" stroke-width="0.7" />
<text x="283.8" y="291" font-size="6.2" fill="#333" text-anchor="end" stroke="#333" stroke-width="0.16">10</text>
<line x1="287" y1="277.2" x2="289.2" y2="277.2" stroke="#333" stroke-width="0.7" />
<text x="283.8" y="279.4" font-size="6.2" fill="#333" text-anchor="end" stroke="#333" stroke-width="0.16">20</text>
<line x1="287" y1="265.6" x2="289.2" y2="265.6" stroke="#333" stroke-width="0.7" />
<text x="283.8" y="267.8" font-size="6.2" fill="#333" text-anchor="end" stroke="#333" stroke-width="0.16">30</text>
<line x1="287" y1="254" x2="289.2" y2="254" stroke="#333" stroke-width="0.7" />
<text x="283.8" y="256.2" font-size="6.2" fill="#333" text-anchor="end" stroke="#333" stroke-width="0.16">40</text>
<line x1="287" y1="242.4" x2="289.2" y2="242.4" stroke="#333" stroke-width="0.7" />
<text x="283.8" y="244.6" font-size="6.2" fill="#333" text-anchor="end" stroke="#333" stroke-width="0.16">50</text>
<line x1="300.65" y1="300.4" x2="300.65" y2="302" stroke="#333" stroke-width="0.7" />
<line x1="300.65" y1="295.18" x2="300.65" y2="277.43" stroke="#333" stroke-width="0.6" />
<line x1="298.45" y1="295.18" x2="302.85" y2="295.18" stroke="#333" stroke-width="0.6" />
<line x1="298.45" y1="277.43" x2="302.85" y2="277.43" stroke="#333" stroke-width="0.6" />
<circle cx="300.65" cy="270.01" r="1.65" fill="#1d4a87"/>
<circle cx="296.85" cy="284.51" r="1.65" fill="#1d4a87"/>
<circle cx="304.45" cy="283.7" r="1.65" fill="#1d4a87"/>
<circle cx="296.85" cy="294.95" r="1.65" fill="#1d4a87"/>
<circle cx="300.65" cy="294.37" r="1.65" fill="#1d4a87"/>
<circle cx="304.45" cy="294.6" r="1.65" fill="#1d4a87"/>
<line x1="317.1" y1="300.4" x2="317.1" y2="302" stroke="#333" stroke-width="0.7" />
<line x1="317.1" y1="279.52" x2="317.1" y2="251.68" stroke="#7a1a2a" stroke-width="0.6" />
<line x1="314.9" y1="279.52" x2="319.3" y2="279.52" stroke="#7a1a2a" stroke-width="0.6" />
<line x1="314.9" y1="251.68" x2="319.3" y2="251.68" stroke="#7a1a2a" stroke-width="0.6" />
<polygon points="317.1,247.11 315.3,250.21 318.9,250.21" fill="#c0162c"/>
<polygon points="317.1,253.49 315.3,256.59 318.9,256.59" fill="#c0162c"/>
<polygon points="313.6,263.58 311.8,266.68 315.4,266.68" fill="#c0162c"/>
<polygon points="320.6,263.35 318.8,266.45 322.4,266.45" fill="#c0162c"/>
<polygon points="317.1,277.74 315.3,280.84 318.9,280.84" fill="#c0162c"/>
<polygon points="317.1,286.32 315.3,289.42 318.9,289.42" fill="#c0162c"/>
<polyline points="300.3,244.6 300.3,241.6 317.1,241.6 317.1,244.6" fill="none" stroke="#333" stroke-width="0.6" stroke-linejoin="round"/>
<text x="308.7" y="241.8" font-size="7.2" fill="#333" text-anchor="middle" stroke="#333" stroke-width="0.16">*</text>
<text x="299" y="313.2" font-size="6.4" fill="#333" text-anchor="middle" textLength="7.6" lengthAdjust="spacingAndGlyphs" stroke="#333" stroke-width="0.16">WT</text>
<text x="316.8" y="313.2" font-size="6.4" fill="#333" text-anchor="middle" textLength="17" lengthAdjust="spacingAndGlyphs" stroke="#333" stroke-width="0.16">V600E</text>
<text x="271" y="270" font-size="7.4" fill="#333" text-anchor="middle" textLength="66" lengthAdjust="spacingAndGlyphs" transform="rotate(-90 271 270)" stroke="#333" stroke-width="0.16">%CD14<tspan dy="-2.4" font-size="4.6">+</tspan><tspan dy="2.4">/CD11c</tspan><tspan dy="-2.4" font-size="4.6">+</tspan><tspan dy="2.4"> cells</tspan></text>
<line x1="352.5" y1="310.3" x2="352.5" y2="238.9" stroke="#222" stroke-width="1" />
<polygon points="352.5,235.2 354.4,239.4 350.6,239.4" fill="#222"/>
<line x1="352.1" y1="310.3" x2="495.1" y2="310.3" stroke="#222" stroke-width="1" />
<polygon points="498.8,310.3 494.6,312.2 494.6,308.4" fill="#222"/>
<text x="347.7" y="272.8" font-size="8.8" fill="#333" text-anchor="middle" textLength="15.8" lengthAdjust="spacingAndGlyphs" transform="rotate(-90 347.7 272.8)" stroke="#333" stroke-width="0.08">CD14</text>
<text x="425.9" y="320.6" font-size="8.8" fill="#333" text-anchor="middle" textLength="19.6" lengthAdjust="spacingAndGlyphs" stroke="#333" stroke-width="0.08">CD11c</text>
<text x="393.7" y="237.6" font-size="8.6" fill="#222" text-anchor="middle" stroke="#222" stroke-width="0.08">WT</text>
<text x="467.8" y="237.6" font-size="8.6" fill="#222" text-anchor="middle" textLength="24.2" lengthAdjust="spacingAndGlyphs" stroke="#222" stroke-width="0.08">V600E</text>
<path transform="scale(.1)" d="M3857 2798h0M4007 2918h0M3788 2626h0M3815 2671h0M3904 2539h0M3949 2529h0M3983 2585h0M3959 2797h0M3908 2623h0M3840 2564h0M4068 2798h0M4084 2766h0M3965 2626h0M3897 2517h0M4024 2859h0M4043 2881h0M3853 2500h0M4016 2765h0M3818 2592h0M3990 2926h0M3976 2612h0M4009 2876h0M3798 2828h0M3807 2726h0M3986 2732h0M3772 2773h0M3781 2813h0M3756 2664h0M3863 2607h0M3950 2767h0M4082 2775h0M4030 2573h0M4033 2844h0M4038 2883h0M3833 2548h0M3830 2622h0M4022 2528h0M3926 2879h0M3905 2523h0M3818 2806h0M4013 2695h0M3956 2913h0M3891 2944h0M3841 2925h0M3797 2875h0M3921 2515h0M3936 2815h0M3995 2740h0M3897 2667h0M3931 2900h0M3978 2834h0M3940 2916h0M4052 2882h0M3796 2602h0M3800 2665h0M4087 2678h0M3934 2683h0M3772 2596h0M3837 2589h0M3875 2638h0M3898 2510h0M4036 2795h0M3832 2640h0M3848 2510h0M4003 2646h0M4016 2901h0M3795 2579h0M3985 2627h0M3835 2651h0M3964 2529h0M3929 2889h0M3848 2655h0M3971 2871h0M4034 2794h0M4072 2640h0M4074 2793h0M3888 2523h0M4075 2755h0M3974 2923h0M3872 2851h0M3999 2917h0M3950 2941h0M3851 2712h0M3846 2575h0M4081 2757h0M3916 2757h0M3936 2516h0M3861 2788h0M3784 2689h0M3873 2564h0M3781 2636h0M3948 2815h0M3764 2740h0M3974 2510h0M3779 2796h0M4008 2813h0M4070 2809h0M4067 2720h0M3922 2574h0M3935 2653h0M3847 2823h0M3969 2645h0M3949 2780h0M3976 2608h0M4003 2643h0M3961 2629h0M4065 2584h0M4028 2582h0M4057 2581h0M4012 2692h0M4013 2548h0M3878 2801h0M4020 2623h0M3754 2678h0M3830 2732h0M3869 2559h0M3899 2918h0M3994 2653h0M3980 2528h0M3842 2705h0" stroke="#8a8ae0" stroke-width="5.5" stroke-linecap="round" opacity="0.4" fill="none"/>
<path d="M374,288C373.7,284.7 374.5,279.3 375,275C375.5,270.7 376,265.8 377,262C378,258.2 379,254.6 381,252.5C383,250.4 386.2,249.8 389,249.5C391.8,249.2 395.2,249.8 398,250.5C400.8,251.2 404,252.1 406,254C408,255.9 409.2,258.5 410,262C410.8,265.5 410.7,270.8 410.5,275C410.3,279.2 410.1,283.8 409,287C407.9,290.2 406.3,292.3 404,294C401.7,295.7 398.2,296.4 395,297C391.8,297.6 388,297.8 385,297.5C382,297.2 378.8,296.6 377,295C375.2,293.4 374.3,291.3 374,288Z" fill="#f5f5fc" stroke="#7070cc" stroke-width="0.5" opacity="1"/>
<path transform="scale(.1)" d="M4093 2786h0M3777 2949h0M3868 2507h0M3778 2956h0M3756 2684h0M4111 2863h0M3781 2564h0M3789 2571h0M3801 2516h0M4039 2524h0M3768 2641h0M4056 2948h0M4026 2942h0M4089 2606h0M3747 2895h0M3943 2489h0M4068 2908h0M3808 2522h0M4100 2690h0M3845 2987h0M4014 2519h0M4044 2934h0M4002 2948h0M3819 2970h0M4100 2694h0M4073 2874h0M3764 2593h0M3793 2954h0M4073 2595h0M4065 2897h0M3979 2975h0M3894 2494h0M3751 2747h0M4006 2527h0M3755 2661h0M3749 2888h0M3765 2627h0M3780 2600h0M3839 2987h0M3930 2965h0M3840 2520h0M3734 2849h0M3737 2785h0M4061 2550h0M3888 2509h0M3758 2663h0M3748 2724h0M4090 2881h0M3830 2515h0M3954 2975h0M3851 2960h0M4088 2610h0M3750 2784h0M3755 2734h0M3760 2738h0M4118 2690h0M4015 2527h0M4095 2746h0M3774 2621h0M3901 2494h0M3732 2862h0M4061 2544h0M4101 2840h0M3751 2902h0M4103 2768h0M3848 2970h0M4100 2746h0M3755 2743h0M3739 2872h0M3755 2745h0M4116 2711h0M3745 2652h0M3767 2667h0M3969 2505h0M4031 2535h0M3807 2539h0M3917 2965h0M3916 2981h0M3815 2982h0M3806 2555h0M4108 2761h0M4103 2901h0M3959 2962h0M3733 2714h0M3942 2490h0M3862 2970h0M4093 2846h0M4068 2545h0M4053 2959h0M3914 2981h0M4075 2544h0M3753 2880h0M3983 2966h0M3753 2879h0M3944 2970h0M3855 2975h0M4011 2524h0M3917 2498h0M3781 2592h0M4096 2632h0M3747 2802h0M4023 2524h0M4047 2942h0M4086 2601h0M3997 2498h0M4060 2921h0M4062 2550h0M3826 2969h0M3813 2525h0M3804 2974h0M3877 2982h0M3772 2633h0M3793 2536h0M3752 2932h0M4095 2900h0M4099 2658h0M3762 2775h0M4093 2840h0M4058 2529h0M4064 2899h0M3753 2731h0M3826 2964h0M4092 2627h0M4026 2952h0M4047 2951h0M4115 2695h0M4065 2938h0M3828 2505h0M3889 2515h0M3811 2532h0M3736 2879h0M3769 2641h0M3809 2955h0M3884 2483h0M3726 2869h0M3955 2963h0M4070 2547h0M3772 2615h0M4073 2883h0M3738 2820h0M3818 2520h0M3966 2956h0M4097 2693h0M4088 2835h0M4020 2942h0M4059 2926h0M4077 2872h0M4098 2697h0M4069 2889h0M4096 2764h0M3957 2504h0M4064 2575h0M3977 2521h0M3780 2555h0M4071 2582h0M3890 2509h0M3909 2499h0M3873 2992h0M3947 2499h0M3956 2961h0M3788 2950h0M4094 2667h0M3738 2696h0M4074 2593h0M3821 2511h0M4082 2616h0M4088 2843h0M4018 2533h0M3747 2893h0M3770 2599h0M3842 2974h0M4083 2597h0M3870 2479h0M4106 2762h0M3974 2502h0M3886 2975h0M4103 2716h0M3971 2516h0M4100 2722h0M4042 2942h0M3771 2961h0M3965 2488h0M4066 2895h0M3741 2830h0M3969 2957h0M4110 2684h0M4061 2901h0M3846 2517h0M3751 2738h0M3750 2875h0M4019 2944h0M3826 2533h0M4094 2589h0M4094 2783h0M4067 2904h0M3825 2523h0M4044 2518h0M3756 2719h0M4051 2911h0M4061 2557h0M3777 2644h0M4054 2914h0M3747 2857h0M3915 2497h0M4100 2881h0M4095 2705h0M3813 2542h0M3776 2578h0M3861 2510h0M4027 2931h0M3742 2868h0M3775 2626h0M3872 2502h0M3788 2950h0M3807 2981h0M3764 2916h0M3820 2527h0M4102 2637h0M4113 2768h0M3903 2983h0M3896 2490h0M4093 2877h0M4107 2746h0M4089 2571h0M3899 2481h0M3928 2958h0M4063 2563h0M3839 2968h0M4082 2888h0M3867 2501h0M4078 2902h0M4000 2953h0M3750 2911h0M3949 2486h0M3741 2806h0M3993 2497h0M3907 3003h0M3817 2950h0M4051 2521h0M3887 2492h0" stroke="#6a6ad0" stroke-width="5.5" stroke-linecap="round" opacity="0.5" fill="none"/>
<path transform="scale(.1)" d="M3868 2701h0M3906 2660h0M3927 2683h0M3836 2958h0M3916 2757h0M3947 2605h0M3931 2667h0M3877 2825h0M3959 2763h0M4018 2610h0M3872 2679h0M3937 2616h0M3977 2918h0M3820 2852h0M4022 2785h0M3986 2632h0M4022 2610h0M3943 2621h0M3934 2514h0M3854 2869h0M3835 2846h0M4032 2786h0M3969 2594h0M3917 2957h0M4100 2763h0M3902 2966h0M3940 2881h0M3770 2623h0M4037 2757h0M4026 2704h0M3837 2804h0M3929 2819h0M3912 2835h0M4031 2646h0M3866 2972h0M4090 2827h0M3804 2937h0M4027 2660h0M3883 2623h0M3927 2731h0M4026 2885h0M3933 2766h0M3863 2911h0M4060 2608h0M3940 2610h0M4067 2752h0M3941 2861h0M3769 2731h0M3943 2953h0M3891 2665h0M3851 2900h0M3919 2562h0M3908 2873h0M4041 2704h0M3946 2861h0M3764 2874h0M4026 2730h0M3782 2613h0M4031 2575h0M3908 2716h0M3841 2757h0M3994 2936h0M3988 2515h0M3836 2727h0M3765 2872h0M4061 2835h0M3959 2753h0M4029 2773h0M3890 2823h0M4068 2847h0M3773 2946h0M3927 2641h0M4088 2754h0M3871 2547h0M4012 2668h0M3868 2910h0M4078 2799h0M3838 2596h0M3816 2904h0M3903 2867h0M3856 2819h0M3797 2725h0M3930 2790h0M4054 2636h0M3851 2943h0M3894 2734h0M4089 2737h0M3927 2645h0M3748 2787h0M4059 2906h0M4074 2778h0M3957 2795h0M3909 2763h0M3989 2676h0M3756 2789h0M3890 2603h0M3804 2782h0M3767 2682h0M3880 2851h0M3970 2846h0M3927 2544h0M4028 2693h0M3965 2929h0M3922 2706h0M4042 2685h0M3925 2703h0M4073 2647h0M4049 2559h0M4000 2729h0M3977 2545h0M3917 2963h0M3870 2509h0M3968 2534h0M3822 2804h0M3925 2837h0M4019 2642h0M3961 2933h0M3763 2840h0M3918 2611h0M4059 2787h0M3968 2761h0M4032 2546h0M3763 2778h0M3827 2910h0M3769 2742h0M4002 2532h0M3786 2684h0M3867 2957h0M3848 2802h0M3988 2662h0M3773 2646h0M3753 2884h0M3789 2653h0M4021 2813h0M4085 2701h0M3939 2856h0M3988 2664h0M3930 2699h0M3900 2820h0M3900 2775h0M3775 2656h0M4010 2523h0M4074 2816h0M3911 2934h0M3929 2828h0M3784 2938h0M3920 2937h0M3987 2867h0M3766 2853h0M4070 2638h0M3974 2904h0M3810 2598h0M4069 2559h0M4092 2791h0M4031 2886h0M3850 2816h0M3894 2698h0M3893 2858h0M3946 2826h0M3919 2625h0M3810 2695h0M3930 2661h0M3901 2896h0M3913 2526h0M3799 2604h0M3894 2876h0M3848 2550h0M3935 2751h0M3912 2957h0M3861 2932h0" stroke="#6a6ad0" stroke-width="5.5" stroke-linecap="round" opacity="0.5" fill="none"/>
<path d="M379.5,284C379.3,281.3 378.4,278 378.8,275C379.1,272 380.8,269 381.4,265.8C382,262.6 381.2,257.5 382.5,255.6C383.9,253.8 387.3,254.1 389.6,254.5C391.9,254.9 394.1,257.1 396.2,258C398.2,259 399.8,259.5 401.7,260.5C403.5,261.5 406.8,261.4 407.4,263.9C408,266.3 405.4,271.4 405.3,275C405.1,278.6 407.1,282.6 406.6,285.3C406,287.9 404,289.6 402,290.8C400,292 397.1,291.9 394.4,292.6C391.7,293.3 388.3,295.1 385.8,294.9C383.3,294.7 380.7,293.3 379.6,291.5C378.6,289.7 379.6,286.8 379.5,284Z" fill="none" stroke="#7272d0" stroke-width="0.35" opacity="0.6"/>
<path d="M381,283C381,280.7 381.7,277.5 382.1,275C382.6,272.5 383,269.8 383.7,267.8C384.3,265.8 385,264.3 386.1,263C387.2,261.7 388.7,260.4 390.2,260.1C391.8,259.7 393.7,260.6 395.5,260.8C397.3,261.1 400,260.2 401.1,261.4C402.2,262.5 401.8,265.5 402,267.7C402.3,270 402.5,272.4 402.8,275C403,277.6 404.1,281.2 403.6,283.2C403,285.1 401.1,285.9 399.5,286.8C397.8,287.8 395.9,288.4 393.9,288.8C391.9,289.2 389.6,289.3 387.6,289.3C385.6,289.2 383,289.5 381.9,288.5C380.8,287.4 380.9,285.2 381,283Z" fill="none" stroke="#7272d0" stroke-width="0.35" opacity="0.6"/>
<path d="M385.4,279.7C385.2,278.5 384.4,276.5 384.6,275C384.9,273.5 386.2,271.9 386.8,270.5C387.3,269.1 387.3,267.7 387.9,266.7C388.6,265.7 389.7,264.7 390.8,264.5C391.8,264.4 393.1,265.4 394.3,265.7C395.4,266.1 396.9,265.9 397.6,266.6C398.3,267.4 398.4,268.8 398.6,270.2C398.8,271.6 398.8,273.4 398.9,275C398.9,276.6 399,278.4 398.7,279.7C398.4,281 397.9,282.1 397,282.9C396.1,283.6 394.6,284.1 393.3,284.3C392,284.5 390.4,284.3 389.2,284C388,283.7 386.8,283.4 386.2,282.7C385.6,282 385.7,281 385.4,279.7Z" fill="none" stroke="#7272d0" stroke-width="0.35" opacity="0.6"/>
<path d="M387.9,278C387.8,277.3 388.1,275.9 388.3,275C388.5,274.1 388.7,273.1 389,272.4C389.2,271.6 389.4,270.8 389.8,270.4C390.2,270.1 390.9,270.4 391.5,270.4C392,270.5 392.6,270.4 393.1,270.5C393.6,270.7 394,271.1 394.5,271.3C394.9,271.6 395.8,271.4 396.1,272.1C396.3,272.7 396.3,274.2 396.1,275C395.9,275.8 395.2,276.4 395,277.1C394.7,277.8 394.9,278.7 394.5,279C394.1,279.4 393.2,279.1 392.6,279.2C391.9,279.4 391.1,279.8 390.5,279.7C389.9,279.7 389.5,279.2 389.1,278.9C388.6,278.6 388,278.6 387.9,278Z" fill="none" stroke="#7272d0" stroke-width="0.35" opacity="0.6"/>
<path d="M376,286.5C377,285.1 379.3,284.8 382,284.6C384.7,284.4 389,284.9 392,285.2C395,285.5 398.2,285.8 400,286.5C401.8,287.2 402.5,288.5 402.5,289.5C402.5,290.5 401.9,291.9 400,292.6C398.1,293.4 394,293.7 391,294C388,294.3 384.5,294.8 382,294.6C379.5,294.4 377,294.4 376,293C375,291.6 375,287.9 376,286.5Z" fill="#c6e4f0" stroke="#5a5ac4" stroke-width="0.5" opacity="0.95" stroke-linejoin="round"/>
<path d="M378,287.5C379.3,286.6 383.3,286.8 386,286.8C388.7,286.8 392.2,287.1 394,287.6C395.8,288.1 397.2,289.1 397,289.8C396.8,290.5 395,291.3 393,291.8C391,292.3 387.5,292.6 385,292.6C382.5,292.6 379.2,292.9 378,292C376.8,291.1 376.7,288.4 378,287.5Z" fill="#9fdcd9" stroke="none" stroke-width="0.4" opacity="0.9" stroke-linejoin="round"/>
<ellipse cx="380.6" cy="289.9" rx="5.6" ry="5" fill="#2f3f9e" stroke="none" stroke-width="0.4" opacity="1" />
<ellipse cx="380.6" cy="289.9" rx="4.37" ry="3.9" fill="#5cc0d2" stroke="none" stroke-width="0.4" opacity="1" />
<ellipse cx="380.6" cy="289.9" rx="3.36" ry="3" fill="#66c36a" stroke="none" stroke-width="0.4" opacity="1" />
<ellipse cx="380.6" cy="289.9" rx="2.46" ry="2.2" fill="#e6e23c" stroke="none" stroke-width="0.4" opacity="1" />
<ellipse cx="380.6" cy="289.9" rx="1.68" ry="1.5" fill="#f39b33" stroke="none" stroke-width="0.4" opacity="1" />
<ellipse cx="380.6" cy="289.9" rx="0.9" ry="0.8" fill="#e2452d" stroke="none" stroke-width="0.4" opacity="1" />
<line x1="364.75" y1="241.1" x2="364.75" y2="302.4" stroke="#555" stroke-width="0.55" />
<line x1="364.75" y1="302.4" x2="420" y2="302.4" stroke="#555" stroke-width="0.55" />
<text x="363.75" y="248.6" font-size="3.4" fill="#555" text-anchor="end" stroke="#555" stroke-width="0.16">10⁴</text>
<line x1="364.05" y1="247.7" x2="364.75" y2="247.7" stroke="#777" stroke-width="0.3" />
<text x="363.75" y="262.4" font-size="3.4" fill="#555" text-anchor="end" stroke="#555" stroke-width="0.16">10³</text>
<line x1="364.05" y1="261.5" x2="364.75" y2="261.5" stroke="#777" stroke-width="0.3" />
<text x="363.75" y="280.6" font-size="3.4" fill="#555" text-anchor="end" stroke="#555" stroke-width="0.16">10²</text>
<line x1="364.05" y1="279.7" x2="364.75" y2="279.7" stroke="#777" stroke-width="0.3" />
<text x="363.75" y="293.6" font-size="3.4" fill="#555" text-anchor="end" stroke="#555" stroke-width="0.16">−10²</text>
<line x1="364.05" y1="292.7" x2="364.75" y2="292.7" stroke="#777" stroke-width="0.3" />
<text x="366.2" y="305.8" font-size="3.4" fill="#555" text-anchor="middle" stroke="#555" stroke-width="0.16">−10³</text>
<text x="376.3" y="305.8" font-size="3.4" fill="#555" text-anchor="middle" stroke="#555" stroke-width="0.16">−10²</text>
<text x="385.8" y="305.8" font-size="3.4" fill="#555" text-anchor="middle" stroke="#555" stroke-width="0.16">10²</text>
<text x="401.4" y="305.8" font-size="3.4" fill="#555" text-anchor="middle" stroke="#555" stroke-width="0.16">10³</text>
<text x="414.4" y="305.8" font-size="3.4" fill="#555" text-anchor="middle" stroke="#555" stroke-width="0.16">10⁴</text>
<rect x="389" y="241.5" width="30.75" height="35" fill="none" stroke="#4a4a4a" stroke-width="0.9" />
<path transform="scale(.1)" d="M4824 2732h0M4731 2819h0M4529 2476h0M4468 2733h0M4787 2701h0M4476 2853h0M4430 2614h0M4538 2724h0M4759 2490h0M4577 2737h0M4461 2666h0M4656 2481h0M4448 2672h0M4592 2720h0M4846 2775h0M4699 2560h0M4763 2559h0M4807 2825h0M4430 2553h0M4598 2608h0M4477 2519h0M4741 2591h0M4432 2641h0M4740 2888h0M4640 2623h0M4508 2594h0M4703 2866h0M4805 2643h0M4758 2799h0M4673 2430h0M4619 2628h0M4812 2638h0M4704 2727h0M4798 2789h0M4752 2872h0M4766 2800h0M4586 2698h0M4858 2684h0M4714 2667h0M4607 2423h0M4816 2541h0M4524 2868h0M4398 2683h0M4566 2452h0M4723 2554h0M4613 2603h0M4693 2922h0M4466 2801h0M4521 2619h0M4434 2552h0M4564 2815h0M4670 2781h0M4724 2487h0M4822 2634h0M4739 2649h0M4673 2792h0M4452 2853h0M4656 2854h0M4667 2696h0M4450 2622h0M4401 2663h0M4780 2486h0M4522 2616h0M4774 2846h0M4641 2697h0M4603 2593h0M4553 2599h0M4604 2694h0M4532 2785h0M4624 2775h0M4452 2581h0M4646 2732h0M4607 2896h0M4602 2887h0M4810 2777h0M4701 2776h0M4609 2502h0M4548 2573h0M4566 2556h0M4471 2701h0M4807 2562h0M4420 2608h0M4473 2539h0M4449 2658h0M4682 2924h0M4491 2499h0M4600 2655h0M4805 2833h0M4559 2445h0M4721 2602h0M4817 2661h0M4608 2495h0M4623 2861h0M4503 2713h0M4543 2825h0M4621 2777h0M4678 2533h0M4490 2853h0M4579 2515h0M4552 2896h0M4644 2856h0M4461 2864h0M4642 2880h0M4578 2670h0M4724 2902h0M4657 2563h0M4731 2907h0M4458 2564h0M4732 2607h0M4401 2680h0M4677 2801h0M4792 2519h0M4543 2671h0M4697 2555h0M4636 2549h0M4743 2858h0M4515 2779h0M4479 2746h0M4440 2718h0M4785 2813h0M4414 2700h0M4585 2887h0M4685 2889h0M4555 2506h0M4398 2713h0M4587 2738h0M4606 2727h0M4800 2530h0M4705 2869h0M4692 2911h0M4580 2712h0M4584 2624h0M4812 2526h0M4540 2596h0M4637 2629h0M4731 2772h0M4832 2787h0M4524 2476h0M4567 2577h0M4597 2880h0M4679 2481h0M4537 2890h0M4469 2790h0M4745 2508h0M4451 2730h0M4675 2845h0M4713 2523h0M4845 2705h0M4654 2719h0M4445 2572h0M4752 2792h0M4548 2702h0M4547 2585h0M4569 2508h0M4516 2661h0M4632 2653h0M4600 2757h0M4651 2694h0M4566 2670h0M4749 2792h0" stroke="#8a8ae0" stroke-width="5.5" stroke-linecap="round" opacity="0.4" fill="none"/>
<path d="M446,262C446.3,258.5 448,254.5 450,252C452,249.5 454.7,248.1 458,247C461.3,245.9 466,245.7 470,245.5C474,245.3 479,245.2 482,246C485,246.8 486.8,247.3 488,250C489.2,252.7 489.2,258 489,262C488.8,266 488.5,271.1 487,274C485.5,276.9 483.2,278.4 480,279.5C476.8,280.6 472,280.6 468,280.5C464,280.4 459.3,280.2 456,279C452.7,277.8 449.7,275.8 448,273C446.3,270.2 445.7,265.5 446,262Z" fill="#f4f5fc" stroke="#7070cc" stroke-width="0.5" opacity="1"/>
<path transform="scale(.1)" d="M4520 2497h0M4738 2798h0M4487 2552h0M4815 2777h0M4513 2760h0M4874 2468h0M4889 2624h0M4475 2688h0M4872 2537h0M4673 2821h0M4883 2705h0M4547 2493h0M4728 2798h0M4743 2445h0M4630 2792h0M4813 2777h0M4880 2497h0M4690 2797h0M4443 2598h0M4834 2452h0M4467 2653h0M4886 2601h0M4850 2746h0M4608 2458h0M4899 2616h0M4829 2781h0M4514 2752h0M4880 2660h0M4577 2790h0M4553 2493h0M4485 2714h0M4883 2629h0M4882 2615h0M4491 2709h0M4558 2773h0M4665 2798h0M4520 2777h0M4888 2571h0M4915 2616h0M4522 2756h0M4713 2803h0M4888 2505h0M4858 2759h0M4507 2529h0M4478 2652h0M4854 2751h0M4498 2533h0M4885 2640h0M4653 2806h0M4886 2496h0M4704 2464h0M4569 2468h0M4751 2805h0M4844 2455h0M4823 2773h0M4454 2587h0M4534 2790h0M4897 2521h0M4453 2610h0M4566 2790h0M4529 2789h0M4891 2562h0M4574 2465h0M4792 2803h0M4708 2451h0M4729 2454h0M4835 2764h0M4797 2801h0M4852 2758h0M4854 2755h0M4503 2747h0M4498 2552h0M4563 2780h0M4462 2628h0M4890 2635h0M4888 2522h0M4488 2585h0M4835 2467h0M4517 2777h0M4570 2795h0M4857 2748h0M4809 2803h0M4470 2601h0M4496 2520h0M4598 2469h0M4592 2475h0M4906 2612h0M4616 2803h0M4804 2786h0M4684 2806h0M4855 2773h0M4833 2768h0M4761 2806h0M4727 2458h0M4525 2508h0M4654 2794h0M4479 2671h0M4509 2749h0M4884 2522h0M4464 2700h0M4529 2503h0M4813 2774h0M4645 2472h0M4832 2469h0M4766 2456h0M4770 2800h0M4870 2491h0M4621 2474h0M4883 2525h0M4860 2493h0M4767 2796h0M4469 2640h0M4445 2624h0M4544 2775h0M4480 2692h0M4470 2664h0M4869 2492h0M4772 2466h0M4896 2502h0M4877 2555h0M4780 2794h0M4525 2765h0M4887 2616h0M4859 2742h0M4713 2798h0M4500 2744h0M4468 2624h0M4690 2798h0M4816 2791h0M4891 2752h0M4754 2451h0M4737 2458h0M4560 2477h0M4882 2698h0M4449 2607h0M4529 2772h0M4677 2459h0M4891 2555h0M4808 2448h0M4689 2808h0M4667 2446h0M4503 2528h0M4605 2468h0M4896 2623h0M4554 2779h0M4526 2510h0M4668 2824h0M4749 2805h0M4830 2463h0M4888 2754h0M4608 2802h0M4556 2459h0M4886 2660h0M4870 2540h0M4498 2536h0M4517 2755h0M4879 2718h0M4892 2689h0M4862 2476h0M4461 2660h0M4567 2481h0M4494 2530h0M4860 2482h0M4855 2481h0M4517 2508h0M4507 2513h0M4502 2549h0M4889 2567h0M4872 2725h0M4849 2453h0M4597 2791h0M4515 2772h0M4473 2682h0M4549 2773h0M4885 2703h0M4570 2477h0M4468 2622h0M4509 2757h0M4848 2763h0M4736 2459h0M4899 2628h0M4821 2456h0M4794 2467h0M4667 2445h0M4617 2791h0M4802 2803h0M4548 2780h0M4892 2679h0M4479 2696h0M4820 2778h0M4496 2734h0M4584 2477h0M4740 2806h0M4573 2782h0M4854 2768h0M4469 2648h0M4888 2651h0M4482 2559h0M4542 2775h0M4762 2447h0" stroke="#6a6ad0" stroke-width="5.5" stroke-linecap="round" opacity="0.5" fill="none"/>
<path transform="scale(.1)" d="M4696 2501h0M4766 2561h0M4863 2522h0M4788 2513h0M4506 2682h0M4554 2634h0M4826 2509h0M4487 2630h0M4760 2557h0M4606 2573h0M4822 2550h0M4739 2783h0M4706 2554h0M4519 2683h0M4536 2596h0M4811 2729h0M4579 2583h0M4584 2557h0M4674 2496h0M4602 2642h0M4597 2606h0M4793 2729h0M4642 2765h0M4754 2597h0M4644 2546h0M4789 2522h0M4703 2705h0M4816 2780h0M4531 2509h0M4579 2744h0M4710 2712h0M4647 2640h0M4881 2592h0M4645 2684h0M4688 2469h0M4618 2487h0M4807 2665h0M4679 2749h0M4502 2613h0M4711 2624h0M4553 2727h0M4720 2524h0M4883 2604h0M4746 2485h0M4559 2784h0M4597 2724h0M4740 2479h0M4835 2749h0M4859 2492h0M4562 2568h0M4813 2653h0M4491 2662h0M4497 2742h0M4725 2746h0M4513 2744h0M4501 2588h0M4792 2614h0M4751 2619h0M4744 2732h0M4666 2521h0M4466 2615h0M4555 2564h0M4545 2520h0M4882 2573h0M4690 2766h0M4725 2530h0M4747 2647h0M4686 2650h0M4754 2731h0M4726 2586h0M4505 2534h0M4488 2726h0M4555 2489h0M4653 2706h0M4532 2748h0M4876 2691h0M4493 2722h0M4833 2602h0M4838 2576h0M4571 2765h0M4767 2600h0M4715 2644h0M4604 2734h0M4818 2528h0M4725 2724h0M4675 2734h0M4866 2717h0M4843 2563h0M4811 2482h0M4798 2652h0M4841 2605h0M4764 2738h0M4805 2545h0M4495 2597h0M4769 2737h0M4536 2745h0M4847 2755h0M4752 2684h0M4799 2763h0M4824 2480h0M4486 2646h0M4813 2600h0M4679 2537h0M4592 2600h0M4583 2724h0M4595 2621h0M4647 2664h0M4692 2458h0M4853 2645h0M4718 2788h0M4725 2700h0M4775 2585h0M4692 2615h0M4813 2690h0M4841 2488h0M4661 2501h0M4804 2533h0M4638 2737h0M4718 2704h0M4834 2585h0M4785 2490h0M4715 2742h0M4506 2536h0M4663 2479h0M4801 2633h0M4856 2638h0M4838 2598h0M4722 2792h0M4522 2716h0M4526 2729h0M4651 2718h0M4740 2795h0M4736 2616h0M4495 2666h0M4662 2763h0M4564 2550h0M4693 2800h0M4516 2609h0M4826 2737h0M4728 2612h0M4682 2528h0M4853 2709h0M4645 2755h0M4855 2716h0M4481 2658h0M4842 2710h0M4553 2624h0M4642 2502h0M4803 2608h0M4785 2583h0M4763 2713h0M4873 2589h0M4764 2673h0M4700 2779h0M4711 2662h0M4879 2682h0M4751 2498h0M4591 2690h0M4834 2541h0M4591 2578h0" stroke="#6a6ad0" stroke-width="5.5" stroke-linecap="round" opacity="0.5" fill="none"/>
<path d="M451.9,262C452.4,259.4 454.1,257 455.6,255.1C457,253.2 458.1,251.4 460.4,250.6C462.7,249.9 466.4,250.7 469.4,250.7C472.3,250.6 475.7,250.1 478.2,250.3C480.7,250.6 483.8,250.2 484.4,252.2C485,254.1 482.3,259 481.8,262C481.3,265 482.1,268.2 481.3,270.4C480.5,272.6 479.4,274.8 477.2,275.4C475,276 470.9,274.5 468,274.2C465.1,273.8 462.6,274 460,273.4C457.3,272.8 453.5,272.6 452.1,270.7C450.8,268.8 451.3,264.6 451.9,262Z" fill="none" stroke="#7272d0" stroke-width="0.35" opacity="0.6"/>
<path d="M456.5,262C456.8,260.3 458.8,258.6 460,257.5C461.2,256.5 462.2,256.2 463.7,255.5C465.2,254.9 467.3,253.5 469,253.4C470.8,253.3 472.8,254.4 474.3,254.9C475.7,255.3 476.9,255.1 477.6,256.3C478.2,257.4 478.1,260.1 478.1,262C478,263.9 477.8,266.3 477.2,267.8C476.5,269.3 475.7,270.4 474.2,271C472.7,271.7 470,271.7 468,271.6C466,271.5 463.8,271 462.1,270.3C460.4,269.6 458.8,268.9 457.9,267.6C457,266.2 456.2,263.7 456.5,262Z" fill="none" stroke="#7272d0" stroke-width="0.35" opacity="0.6"/>
<path d="M463.3,262C463.3,261.3 463.8,260.4 464.3,259.9C464.7,259.4 465.4,259.2 466,259.1C466.7,258.9 467.6,258.9 468.4,258.9C469.1,258.9 470,258.9 470.6,259C471.3,259.1 472.1,258.8 472.4,259.3C472.7,259.8 472.6,261.2 472.4,262C472.2,262.8 471.7,263.5 471.4,264.2C471.1,264.8 471.2,265.6 470.6,265.9C470.1,266.1 468.9,265.5 468,265.5C467.1,265.4 466.1,265.8 465.5,265.6C464.8,265.3 464.4,264.8 464,264.2C463.7,263.6 463.2,262.7 463.3,262Z" fill="none" stroke="#7272d0" stroke-width="0.35" opacity="0.6"/>
<path d="M487.4,260L487.1,262.1L486.9,264.3L486.6,266.7L485.8,269L484.5,271L482.7,272.3L480.6,273L478.6,273.4L476.5,273.5L474.4,273.5L472.4,273L470.6,271.8L469.2,269.9L468.4,267.8L467.7,265.8L467,264L466.2,262.1L465.4,260L465,257.7L465.3,255.3L466.2,253.2L467.4,251.3L468.8,249.5L470.4,247.9L472.2,246.5L474.3,245.8L476.5,245.9L478.5,246.8L480.3,248.1L481.8,249.4L483.4,250.6L484.9,251.9L486.3,253.5L487.2,255.5L487.5,257.8Z" fill="none" stroke="#3d3db0" stroke-width="0.8" opacity="0.9" stroke-linejoin="round"/>
<path d="M487,259.5L486.7,261.6L486.2,263.7L485.3,265.6L484.3,267.3L483.1,268.9L481.7,270.2L480.1,271.2L478.3,271.9L476.5,272.2L474.6,272L472.9,271.4L471.2,270.3L469.8,269L468.5,267.5L467.5,265.7L466.6,263.8L466,261.7L465.8,259.5L466,257.3L466.5,255.2L467.3,253.2L468.4,251.5L469.8,250L471.4,248.9L473,248.1L474.7,247.6L476.5,247.4L478.3,247.5L480.1,247.8L481.8,248.5L483.5,249.6L484.9,251.1L486,253L486.7,255.1L487,257.3Z" fill="none" stroke="#5050c0" stroke-width="0.35" opacity="0.8" stroke-linejoin="round"/>
<path d="M486,259.5L486.4,261.6L485.9,263.6L484.8,265.2L483.5,266.5L482.1,267.5L480.8,268.4L479.4,269.1L477.9,269.2L476.5,268.8L475.2,268.1L474,267.6L472.7,267.4L471,267.3L469.3,266.7L467.9,265.4L467.3,263.5L467.5,261.4L468.1,259.5L468.7,257.9L468.9,256.2L469.2,254.5L469.7,252.7L470.7,251.3L472.1,250.4L473.5,249.8L475,249.4L476.5,249L478.1,248.8L479.6,249.3L480.8,250.6L481.6,252.3L482,254L482.6,255.3L483.5,256.4L484.8,257.8Z" fill="none" stroke="#5050c0" stroke-width="0.35" opacity="0.8" stroke-linejoin="round"/>
<path d="M483.2,259.5L483,260.9L483,262.3L482.8,263.9L482.2,265.2L481.1,266.1L479.9,266.4L478.7,266.6L477.6,266.9L476.5,267.5L475.2,268.1L473.9,268.1L472.7,267.4L471.9,266.1L471.3,264.7L470.7,263.5L470,262.3L469.2,261L468.8,259.5L468.9,257.9L469.7,256.6L470.7,255.5L471.6,254.6L472.3,253.6L473,252.3L474,251.3L475.2,250.8L476.5,251.1L477.7,251.7L478.7,252.3L479.8,252.7L481.1,253L482.4,253.6L483.4,254.8L483.7,256.4L483.5,258Z" fill="none" stroke="#5050c0" stroke-width="0.35" opacity="0.8" stroke-linejoin="round"/>
<path d="M482.6,259.5L482.7,260.8L482.5,262.1L481.8,263.2L481,264L480.1,264.6L479.2,265L478.3,265.4L477.4,265.7L476.5,266L475.5,266.1L474.5,266.1L473.4,265.8L472.4,265.3L471.6,264.4L471.1,263.2L470.8,262L470.9,260.7L471.1,259.5L471.4,258.4L471.7,257.4L471.9,256.3L472.2,255.2L472.7,254.1L473.4,253.1L474.3,252.5L475.4,252.1L476.5,252.1L477.5,252.5L478.5,253L479.3,253.8L479.9,254.6L480.5,255.5L481.1,256.3L481.7,257.2L482.3,258.3Z" fill="none" stroke="#5050c0" stroke-width="0.35" opacity="0.8" stroke-linejoin="round"/>
<path d="M481.2,259.5L481.5,260.5L481.3,261.6L480.8,262.4L480,263L479.3,263.5L478.7,264.1L478.1,264.8L477.4,265.4L476.5,265.5L475.6,265.2L474.9,264.7L474.3,264.1L473.5,263.7L472.7,263.3L471.9,262.7L471.4,261.7L471.5,260.6L471.9,259.5L472.4,258.6L472.7,257.9L472.8,257L473,256L473.3,255L474,254.4L474.9,254.1L475.7,254L476.5,253.9L477.4,253.7L478.3,253.6L479.2,253.9L479.8,254.8L480.1,255.9L480.2,257L480.3,257.8L480.7,258.6Z" fill="none" stroke="#5050c0" stroke-width="0.35" opacity="0.8" stroke-linejoin="round"/>
<ellipse cx="479" cy="254.5" rx="5.4" ry="4.6" fill="#a9d8ee" stroke="none" stroke-width="0.4" opacity="1" />
<ellipse cx="479" cy="254.5" rx="4.05" ry="3.45" fill="#8fdcb0" stroke="none" stroke-width="0.4" opacity="1" />
<ellipse cx="479" cy="254.5" rx="2.7" ry="2.3" fill="#62c46a" stroke="none" stroke-width="0.4" opacity="1" />
<path transform="scale(.1)" d="M4761 2810h0M4475 2874h0M4476 2872h0M4504 2888h0M4655 2936h0M4566 2817h0M4498 2897h0M4505 2846h0M4600 2829h0M4813 2814h0M4511 2844h0M4469 2881h0M4501 2893h0M4589 2930h0M4557 2924h0M4814 2857h0M4804 2822h0M4495 2890h0M4745 2811h0M4614 2939h0M4530 2832h0M4492 2855h0M4695 2934h0M4745 2808h0M4472 2853h0M4497 2841h0M4600 2929h0M4678 2818h0M4702 2818h0M4812 2912h0M4497 2856h0M4609 2815h0M4558 2829h0M4818 2902h0M4579 2830h0M4765 2930h0M4815 2894h0M4839 2868h0M4671 2951h0M4489 2898h0M4812 2830h0M4812 2907h0M4690 2935h0M4521 2914h0M4781 2928h0M4640 2935h0M4649 2802h0M4593 2938h0M4827 2857h0M4807 2890h0M4476 2885h0M4817 2889h0M4818 2873h0M4496 2904h0M4749 2938h0M4817 2848h0M4572 2925h0M4612 2929h0M4563 2833h0M4733 2807h0M4498 2914h0M4507 2917h0M4520 2925h0M4499 2900h0M4591 2931h0M4658 2809h0M4754 2933h0M4730 2939h0M4770 2936h0M4786 2817h0M4824 2909h0M4717 2800h0M4629 2828h0M4771 2940h0M4569 2833h0M4730 2807h0M4824 2853h0M4555 2834h0M4718 2947h0M4684 2798h0M4777 2811h0M4701 2810h0M4497 2889h0M4600 2826h0M4812 2848h0M4615 2824h0M4505 2867h0M4663 2943h0M4646 2933h0M4518 2841h0M4629 2816h0M4488 2876h0M4765 2798h0M4831 2880h0M4648 2824h0M4611 2936h0M4494 2886h0M4748 2801h0M4519 2838h0M4499 2847h0M4621 2823h0M4483 2873h0M4504 2913h0M4832 2869h0M4712 2937h0M4555 2933h0M4718 2819h0M4677 2954h0M4517 2924h0M4801 2833h0M4800 2826h0M4790 2812h0M4622 2822h0M4615 2831h0M4529 2916h0M4821 2854h0M4506 2841h0M4826 2824h0M4807 2921h0M4612 2943h0M4729 2808h0M4765 2821h0M4811 2854h0M4487 2870h0M4784 2923h0M4837 2852h0M4793 2808h0M4493 2887h0M4812 2921h0M4592 2830h0M4552 2930h0M4577 2821h0M4768 2815h0M4821 2876h0M4621 2936h0M4748 2790h0M4766 2931h0M4504 2847h0M4677 2817h0M4680 2924h0M4539 2921h0M4805 2836h0M4845 2851h0M4495 2862h0M4810 2866h0M4488 2882h0M4672 2819h0M4774 2930h0M4768 2813h0M4663 2820h0M4508 2914h0M4525 2841h0M4793 2820h0M4581 2829h0M4495 2896h0M4702 2934h0M4646 2809h0M4659 2824h0M4509 2845h0M4830 2902h0M4752 2934h0M4492 2884h0M4572 2833h0M4721 2931h0M4814 2890h0M4559 2934h0M4614 2823h0M4708 2937h0M4577 2933h0M4741 2947h0M4681 2932h0M4474 2853h0M4494 2861h0M4522 2839h0M4817 2827h0M4784 2817h0M4841 2870h0M4776 2937h0M4496 2845h0M4498 2856h0M4570 2831h0M4778 2925h0M4484 2871h0M4832 2897h0M4556 2830h0M4812 2828h0M4515 2840h0M4776 2926h0M4482 2910h0M4649 2826h0M4673 2935h0M4830 2886h0M4509 2913h0M4626 2811h0M4783 2936h0M4653 2825h0M4718 2938h0M4807 2806h0M4543 2831h0M4823 2905h0" stroke="#6b6bd0" stroke-width="6" stroke-linecap="round" opacity="0.55" fill="none"/>
<path d="M448.3,287.6C448.3,286.4 449.1,285.1 450.5,284.3C451.9,283.5 454.6,283.4 457,283C459.4,282.6 462.2,282.2 465,281.8C467.8,281.4 471,280.6 473.5,280.6C476,280.6 478.4,280.7 479.8,281.6C481.2,282.5 481.9,284.4 482.2,286C482.5,287.6 482.3,289.9 481.4,291.2C480.4,292.5 479.1,293.4 476.5,293.8C473.9,294.2 469.2,294 466,293.8C462.8,293.6 459.6,293.3 457,292.9C454.4,292.5 451.9,292.2 450.5,291.3C449.1,290.4 448.3,288.8 448.3,287.6Z" fill="#3543a8" stroke="none" stroke-width="0.4" opacity="1"/>
<path d="M449.7,287.6C449.7,286.6 450.4,285.5 451.8,284.9C453.1,284.2 455.6,284.2 457.8,283.8C460.1,283.5 462.7,283.2 465.2,282.8C467.8,282.5 470.9,281.9 473.1,281.8C475.4,281.8 477.7,281.9 479,282.7C480.4,283.4 481,285 481.2,286.3C481.5,287.6 481.4,289.5 480.5,290.5C479.6,291.6 478.3,292.3 475.9,292.7C473.6,293 469.2,292.8 466.2,292.7C463.2,292.5 460.2,292.3 457.8,291.9C455.4,291.6 453.1,291.3 451.8,290.6C450.4,289.9 449.7,288.5 449.7,287.6Z" fill="#78b9e6" stroke="none" stroke-width="0.4" opacity="1"/>
<path d="M451.1,287.6C451.1,286.8 451.8,285.9 453,285.5C454.3,285 456.5,284.9 458.6,284.6C460.7,284.4 463.1,284.1 465.5,283.9C467.9,283.6 470.7,283.1 472.8,283.1C474.9,283.1 477,283.1 478.2,283.7C479.5,284.3 480.1,285.5 480.3,286.5C480.5,287.6 480.4,289 479.6,289.9C478.8,290.7 477.6,291.3 475.4,291.5C473.2,291.8 469.1,291.6 466.4,291.5C463.6,291.4 460.8,291.2 458.6,291C456.4,290.7 454.3,290.5 453,289.9C451.8,289.4 451.1,288.3 451.1,287.6Z" fill="#7fd0c6" stroke="none" stroke-width="0.4" opacity="1"/>
<path d="M452.3,287.5C452.3,287 452.9,286.4 454.1,286C455.3,285.7 457.4,285.6 459.3,285.4C461.2,285.2 463.5,285.1 465.7,284.9C467.9,284.7 470.5,284.3 472.5,284.3C474.5,284.3 476.4,284.4 477.5,284.8C478.7,285.2 479.2,286.1 479.5,286.8C479.7,287.5 479.6,288.6 478.8,289.2C478.1,289.8 477,290.2 474.9,290.4C472.8,290.6 469.1,290.5 466.5,290.4C463.9,290.3 461.4,290.2 459.3,290C457.2,289.8 455.3,289.7 454.1,289.2C452.9,288.8 452.3,288.1 452.3,287.5Z" fill="#8cc86a" stroke="none" stroke-width="0.4" opacity="1"/>
<path d="M453.6,287.5C453.6,287.3 454.1,287 455.2,286.8C456.3,286.6 458.2,286.6 460,286.5C461.8,286.4 463.9,286.3 465.9,286.2C467.9,286.2 470.4,286 472.2,286C474,286 475.8,286 476.9,286.2C477.9,286.4 478.4,286.8 478.6,287.2C478.8,287.5 478.7,288 478,288.3C477.3,288.6 476.3,288.8 474.4,288.9C472.5,289 469.1,288.9 466.6,288.9C464.2,288.9 461.9,288.8 460,288.7C458.1,288.6 456.3,288.5 455.2,288.3C454.1,288.1 453.6,287.8 453.6,287.5Z" fill="#ece33e" stroke="none" stroke-width="0.4" opacity="1"/>
<ellipse cx="470.6" cy="288" rx="3.6" ry="2.3" fill="#f3a030" stroke="none" stroke-width="0.4" opacity="1" />
<ellipse cx="470.6" cy="288" rx="2.23" ry="1.43" fill="#ea5a2d" stroke="none" stroke-width="0.4" opacity="1" />
<ellipse cx="470.6" cy="288" rx="1.08" ry="0.69" fill="#e2452d" stroke="none" stroke-width="0.4" opacity="1" />
<line x1="438.4" y1="241.1" x2="438.4" y2="302.4" stroke="#555" stroke-width="0.55" />
<line x1="438.4" y1="302.4" x2="493.75" y2="302.4" stroke="#555" stroke-width="0.55" />
<text x="437.4" y="248.2" font-size="3.4" fill="#555" text-anchor="end" stroke="#555" stroke-width="0.16">10⁴</text>
<line x1="437.7" y1="247.3" x2="438.4" y2="247.3" stroke="#777" stroke-width="0.3" />
<text x="437.4" y="261.9" font-size="3.4" fill="#555" text-anchor="end" stroke="#555" stroke-width="0.16">10³</text>
<line x1="437.7" y1="261" x2="438.4" y2="261" stroke="#777" stroke-width="0.3" />
<text x="437.4" y="280.1" font-size="3.4" fill="#555" text-anchor="end" stroke="#555" stroke-width="0.16">10²</text>
<line x1="437.7" y1="279.2" x2="438.4" y2="279.2" stroke="#777" stroke-width="0.3" />
<text x="437.4" y="291.5" font-size="3.4" fill="#555" text-anchor="end" stroke="#555" stroke-width="0.16">−10²</text>
<line x1="437.7" y1="290.6" x2="438.4" y2="290.6" stroke="#777" stroke-width="0.3" />
<text x="437.4" y="299.9" font-size="3.4" fill="#555" text-anchor="end" stroke="#555" stroke-width="0.16">−10³</text>
<line x1="437.7" y1="299" x2="438.4" y2="299" stroke="#777" stroke-width="0.3" />
<text x="441.6" y="305.8" font-size="3.4" fill="#555" text-anchor="middle" stroke="#555" stroke-width="0.16">−10³</text>
<text x="451" y="305.8" font-size="3.4" fill="#555" text-anchor="middle" stroke="#555" stroke-width="0.16">−10²</text>
<text x="460.6" y="305.8" font-size="3.4" fill="#555" text-anchor="middle" stroke="#555" stroke-width="0.16">10²</text>
<text x="475.8" y="305.8" font-size="3.4" fill="#555" text-anchor="middle" stroke="#555" stroke-width="0.16">10³</text>
<text x="488.6" y="305.8" font-size="3.4" fill="#555" text-anchor="middle" stroke="#555" stroke-width="0.16">10⁴</text>
<rect x="462.5" y="241.5" width="30.9" height="33.75" fill="none" stroke="#4a4a4a" stroke-width="0.9" />
<rect x="40.8" y="411.62" width="10.3" height="5.88" fill="#8ea3cc" stroke="none" stroke-width="0.8" />
<rect x="58.1" y="381.01" width="9.8" height="36.49" fill="#ef9a8c" stroke="none" stroke-width="0.8" />
<line x1="35" y1="356.05" x2="35" y2="417.5" stroke="#2a2a2a" stroke-width="1" />
<line x1="34.5" y1="417.5" x2="73.6" y2="417.5" stroke="#2a2a2a" stroke-width="1" />
<line x1="32.8" y1="417.5" x2="35" y2="417.5" stroke="#333" stroke-width="0.7" />
<text x="29.6" y="419.7" font-size="6.2" fill="#333" text-anchor="end" stroke="#333" stroke-width="0.16">0</text>
<line x1="32.8" y1="397.88" x2="35" y2="397.88" stroke="#333" stroke-width="0.7" />
<text x="29.6" y="400.08" font-size="6.2" fill="#333" text-anchor="end" stroke="#333" stroke-width="0.16">5</text>
<line x1="32.8" y1="378.27" x2="35" y2="378.27" stroke="#333" stroke-width="0.7" />
<text x="29.6" y="380.47" font-size="6.2" fill="#333" text-anchor="end" stroke="#333" stroke-width="0.16">10</text>
<line x1="32.8" y1="358.65" x2="35" y2="358.65" stroke="#333" stroke-width="0.7" />
<text x="29.6" y="360.85" font-size="6.2" fill="#333" text-anchor="end" stroke="#333" stroke-width="0.16">15</text>
<line x1="45.95" y1="417.5" x2="45.95" y2="419.1" stroke="#333" stroke-width="0.7" />
<line x1="45.95" y1="418.68" x2="45.95" y2="401.81" stroke="#333" stroke-width="0.6" />
<line x1="43.75" y1="418.68" x2="48.15" y2="418.68" stroke="#333" stroke-width="0.6" />
<line x1="43.75" y1="401.81" x2="48.15" y2="401.81" stroke="#333" stroke-width="0.6" />
<circle cx="45.95" cy="400.63" r="1.65" fill="#1d4a87"/>
<circle cx="41.85" cy="405.93" r="1.65" fill="#1d4a87"/>
<circle cx="50.05" cy="403.38" r="1.65" fill="#1d4a87"/>
<circle cx="41.85" cy="412.4" r="1.65" fill="#1d4a87"/>
<circle cx="45.95" cy="412.4" r="1.65" fill="#1d4a87"/>
<circle cx="50.05" cy="412.4" r="1.65" fill="#1d4a87"/>
<circle cx="45.95" cy="415.15" r="1.65" fill="#1d4a87"/>
<circle cx="45.95" cy="417.89" r="1.65" fill="#1d4a87"/>
<line x1="63" y1="417.5" x2="63" y2="419.1" stroke="#333" stroke-width="0.7" />
<line x1="63" y1="386.11" x2="63" y2="375.13" stroke="#7a1a2a" stroke-width="0.6" />
<line x1="60.8" y1="386.11" x2="65.2" y2="386.11" stroke="#7a1a2a" stroke-width="0.6" />
<line x1="60.8" y1="375.13" x2="65.2" y2="375.13" stroke="#7a1a2a" stroke-width="0.6" />
<polygon points="60,373.23 58.2,376.33 61.8,376.33" fill="#c0162c"/>
<polygon points="67,371.66 65.2,374.76 68.8,374.76" fill="#c0162c"/>
<polygon points="63,377.94 61.2,381.04 64.8,381.04" fill="#c0162c"/>
<polygon points="60,384.21 58.2,387.31 61.8,387.31" fill="#c0162c"/>
<polygon points="67,384.21 65.2,387.31 68.8,387.31" fill="#c0162c"/>
<polygon points="63,384.61 61.2,387.71 64.8,387.71" fill="#c0162c"/>
<polygon points="67,377.54 65.2,380.64 68.8,380.64" fill="#c0162c"/>
<polygon points="63,372.84 61.2,375.94 64.8,375.94" fill="#c0162c"/>
<polyline points="46,369.1 46,366.1 63.25,366.1 63.25,369.1" fill="none" stroke="#333" stroke-width="0.6" stroke-linejoin="round"/>
<text x="54.62" y="366.3" font-size="7.2" fill="#333" text-anchor="middle" stroke="#333" stroke-width="0.16">****</text>
<text x="46.2" y="427.8" font-size="6.4" fill="#333" text-anchor="middle" textLength="8.7" lengthAdjust="spacingAndGlyphs" stroke="#333" stroke-width="0.16">WT</text>
<text x="62.1" y="427.8" font-size="6.4" fill="#333" text-anchor="middle" textLength="17.3" lengthAdjust="spacingAndGlyphs" stroke="#333" stroke-width="0.16">V600E</text>
<text x="17" y="386.4" font-size="7.4" fill="#333" text-anchor="middle" textLength="65.8" lengthAdjust="spacingAndGlyphs" transform="rotate(-90 17 386.4)" stroke="#333" stroke-width="0.16">%CD14<tspan dy="-2.4" font-size="4.6">low</tspan><tspan dy="2.4">/CD1c</tspan><tspan dy="-2.4" font-size="4.6">+</tspan><tspan dy="2.4"> cells</tspan></text>
<line x1="99.5" y1="426.9" x2="99.5" y2="355.1" stroke="#222" stroke-width="1" />
<polygon points="99.5,351.4 101.4,355.6 97.6,355.6" fill="#222"/>
<line x1="99.1" y1="426.9" x2="243.5" y2="426.9" stroke="#222" stroke-width="1" />
<polygon points="247.2,426.9 243,428.8 243,425" fill="#222"/>
<text x="94.9" y="388.9" font-size="8.8" fill="#333" text-anchor="middle" textLength="16.0" lengthAdjust="spacingAndGlyphs" transform="rotate(-90 94.9 388.9)" stroke="#333" stroke-width="0.08">CD14</text>
<text x="174.4" y="436.9" font-size="8.8" fill="#333" text-anchor="middle" textLength="15.8" lengthAdjust="spacingAndGlyphs" stroke="#333" stroke-width="0.08">CD1c</text>
<text x="140.1" y="354" font-size="8.6" fill="#222" text-anchor="middle" stroke="#222" stroke-width="0.08">WT</text>
<text x="214.5" y="354" font-size="8.6" fill="#222" text-anchor="middle" textLength="24.2" lengthAdjust="spacingAndGlyphs" stroke="#222" stroke-width="0.08">V600E</text>
<path transform="scale(.1)" d="M1306 4002h0M1356 4055h0M1310 4013h0M1513 3856h0M1533 3903h0M1333 3744h0M1375 3752h0M1485 3916h0M1533 3926h0M1453 3924h0M1266 3803h0M1348 4030h0M1232 3934h0M1556 3855h0M1327 4049h0M1241 3850h0M1253 3809h0M1529 3928h0M1565 3740h0M1386 3783h0M1497 3911h0M1477 3933h0M1318 3869h0M1454 3874h0M1538 3833h0M1360 3990h0M1343 3851h0M1519 3708h0M1533 3923h0M1563 3689h0M1542 3862h0M1332 3761h0M1571 3720h0M1568 3743h0M1468 3940h0M1431 3998h0M1364 3729h0M1490 3815h0M1491 3701h0M1297 4070h0M1453 3963h0M1325 3757h0M1508 3911h0M1503 3828h0M1344 3834h0M1414 3724h0M1455 3802h0M1245 3815h0M1498 3946h0M1456 3675h0M1348 3750h0M1486 3881h0M1477 3684h0M1482 3717h0M1502 3959h0M1259 4016h0M1525 3927h0M1228 3895h0M1293 3894h0M1353 3724h0M1456 3699h0M1241 3885h0M1258 3964h0M1446 3896h0M1488 3821h0M1358 3866h0M1486 3753h0M1444 3937h0M1554 3860h0M1525 3953h0M1440 3977h0M1313 3743h0M1378 4051h0M1266 4015h0M1537 3856h0M1506 3937h0M1251 3854h0M1453 3804h0M1350 3728h0M1540 3856h0M1393 3686h0M1358 4059h0M1362 3720h0M1371 4015h0M1316 3873h0M1558 3874h0M1356 3849h0M1450 3884h0M1306 3785h0M1553 3780h0M1385 3722h0M1534 3918h0M1231 3947h0M1518 3876h0M1411 3906h0M1471 3883h0M1476 3792h0M1354 3944h0M1454 3817h0M1262 3810h0M1390 3848h0M1506 3962h0M1351 3906h0M1305 3752h0M1337 3917h0M1348 4009h0M1446 3809h0M1521 3703h0M1354 3764h0M1472 3952h0M1248 3881h0M1428 3925h0M1480 3940h0M1452 3975h0M1300 3855h0M1323 4068h0M1353 3839h0M1355 3709h0M1267 3787h0M1554 3762h0M1468 3938h0M1350 3817h0M1293 3785h0M1522 3690h0M1474 3752h0M1392 3720h0M1450 3793h0M1346 4044h0M1455 3760h0M1534 3697h0M1421 3716h0M1436 3934h0M1545 3680h0M1390 3901h0M1217 3963h0M1297 4064h0M1549 3702h0M1514 3926h0M1342 4002h0M1247 3897h0M1238 3946h0M1449 3920h0M1353 3947h0M1528 3676h0M1422 3989h0M1462 3911h0M1377 4036h0M1570 3749h0M1300 3975h0M1301 4028h0" stroke="#8a8ae0" stroke-width="5.5" stroke-linecap="round" opacity="0.4" fill="none"/>
<path transform="scale(.1)" d="M1509 3647h0M1254 3953h0M1401 4023h0M1243 4127h0M1377 4082h0M1533 3643h0M1303 3836h0M1247 3964h0M1381 3675h0M1473 3626h0M1582 3696h0M1319 4102h0M1405 3657h0M1555 3749h0M1341 3730h0M1439 3883h0M1380 3672h0M1596 3661h0M1271 3863h0M1505 3799h0M1287 4102h0M1285 3867h0M1577 3650h0M1278 3868h0M1265 3926h0M1543 3757h0M1487 3867h0M1316 3773h0M1374 3694h0M1417 3944h0M1234 4096h0M1546 3659h0M1238 3968h0M1371 4084h0M1238 4095h0M1398 4029h0M1401 4039h0M1458 3851h0M1570 3631h0M1349 3691h0M1399 4076h0M1343 3732h0M1562 3684h0M1399 4035h0M1234 3969h0M1336 4110h0M1272 4107h0M1237 4080h0M1336 3742h0M1326 3762h0M1366 4102h0M1542 3625h0M1488 3815h0M1491 3835h0M1434 3950h0M1459 3886h0M1541 3632h0M1367 3696h0M1280 4110h0M1317 4096h0M1220 4035h0M1321 3802h0M1376 3690h0M1445 3871h0M1295 4101h0M1540 3759h0M1354 3697h0M1551 3754h0M1588 3693h0M1464 3612h0M1304 4120h0M1276 4122h0M1230 4090h0M1268 3862h0M1239 4088h0M1407 4001h0M1228 3993h0M1244 4094h0M1548 3766h0M1433 3640h0M1503 3799h0M1413 3981h0M1249 4100h0M1416 3640h0M1219 4023h0M1424 3923h0M1432 3936h0M1572 3660h0M1432 3646h0M1404 4047h0M1411 3976h0M1418 3983h0M1246 3957h0M1230 3998h0M1275 3884h0M1231 4053h0M1506 3624h0M1266 4105h0M1272 4114h0M1548 3649h0M1398 4070h0M1551 3752h0M1377 3671h0M1297 4100h0M1289 3854h0M1260 3910h0M1588 3711h0M1585 3664h0M1554 3744h0M1269 4116h0M1366 4079h0M1390 3682h0M1221 4065h0M1249 4106h0M1512 3631h0M1582 3655h0M1570 3656h0M1239 4090h0M1330 4118h0M1241 4086h0M1582 3702h0M1386 3681h0M1213 4059h0M1331 4117h0M1542 3626h0M1351 4114h0M1208 4036h0M1445 3886h0M1405 4003h0M1330 4108h0M1416 3957h0M1351 4098h0M1484 3821h0M1459 3885h0M1378 4078h0M1245 4098h0M1222 4023h0M1510 3802h0M1258 3943h0M1569 3724h0M1481 3827h0M1347 3739h0M1252 4096h0M1409 3973h0M1230 4081h0M1400 4031h0M1466 3646h0M1401 4055h0M1326 3735h0M1371 4099h0M1375 3693h0M1283 4101h0M1516 3785h0M1445 3858h0M1531 3647h0M1339 4100h0M1451 3898h0M1229 3985h0M1530 3636h0M1399 4028h0M1354 4090h0M1469 3641h0M1209 4085h0M1578 3645h0M1440 3908h0M1382 3682h0M1450 3853h0M1456 3641h0M1448 3894h0M1295 4098h0M1566 3690h0M1406 3661h0M1457 3889h0M1227 4079h0M1413 3965h0M1384 4082h0M1224 4028h0M1519 3786h0M1234 3993h0M1460 3909h0M1386 3673h0M1326 3768h0M1298 4100h0M1404 3999h0M1203 4061h0M1284 3873h0M1351 3729h0M1220 4022h0M1371 4074h0M1514 3629h0M1564 3745h0M1317 4121h0M1227 4015h0M1532 3772h0M1398 4044h0M1231 4082h0M1338 4097h0M1569 3716h0M1336 3793h0M1414 3955h0M1399 4037h0M1321 3779h0M1460 3637h0M1387 4094h0M1338 3763h0M1397 4052h0M1552 3746h0M1221 4106h0M1290 3842h0M1532 3645h0M1314 3793h0M1262 3919h0M1565 3730h0M1571 3676h0M1526 3777h0M1460 3872h0M1265 4098h0M1517 3633h0M1409 3982h0M1447 3652h0M1512 3639h0M1393 3673h0M1260 4092h0M1486 3638h0M1467 3896h0M1498 3844h0M1422 3951h0M1314 3811h0M1532 3637h0M1233 4069h0M1418 3989h0M1421 3892h0M1248 4097h0M1236 3998h0M1571 3695h0M1233 4004h0M1341 4091h0M1415 3655h0M1218 4036h0M1402 4045h0M1402 4030h0M1362 3703h0M1214 4018h0M1577 3714h0M1284 4099h0M1343 4081h0M1317 3763h0M1522 3796h0M1571 3671h0M1572 3724h0M1247 3931h0M1290 3866h0M1599 3687h0M1230 4076h0M1224 4090h0M1223 4069h0M1532 3629h0M1215 4061h0M1404 3643h0M1425 3943h0M1404 4017h0M1536 3771h0M1472 3634h0M1201 4061h0M1375 3688h0M1532 3652h0M1479 3649h0M1283 4106h0M1343 3754h0M1514 3640h0M1538 3764h0M1576 3711h0M1253 4095h0M1261 4093h0M1345 3751h0M1419 3941h0M1454 3633h0M1513 3644h0M1465 3860h0M1331 4114h0" stroke="#6b6bd0" stroke-width="6" stroke-linecap="round" opacity="0.55" fill="none"/>
<path d="M121,405.5C120.9,403.5 122.4,400.9 123.5,398C124.6,395.1 126,391.3 127.5,388C129,384.7 131,381.1 132.5,378C134,374.9 134.9,371.8 136.5,369.5C138.1,367.2 139.8,365.6 142,364.5C144.2,363.4 147.5,363 150,363.2C152.5,363.4 155.7,364.1 157,365.5C158.3,366.9 158.5,369.5 157.8,371.5C157.1,373.5 154.8,375.4 153,377.5C151.2,379.6 148.7,381.6 147,384C145.3,386.4 144.1,389.3 143,392C141.9,394.7 141.1,397.4 140.5,400C139.9,402.6 140.8,405.8 139.5,407.5C138.2,409.2 135.6,410.1 133,410.5C130.4,410.9 126,410.8 124,410C122,409.2 121.1,407.5 121,405.5Z" fill="#eff1fb" stroke="#6464cc" stroke-width="0.5" opacity="1"/>
<path d="M123.2,403.3C123.1,401.5 123.8,399.8 124.6,397.2C125.5,394.7 126.8,390.9 128.3,387.9C129.8,384.9 132,382.1 133.4,379.2C134.8,376.4 135.3,372.9 136.7,370.8C138.1,368.7 139.7,367.3 141.8,366.4C143.8,365.5 146.9,364.9 149.1,365.3C151.2,365.6 153.4,367.2 154.6,368.4C155.9,369.6 156.9,371 156.4,372.7C155.9,374.4 153.2,376.6 151.5,378.5C149.9,380.5 147.9,382.1 146.4,384.2C144.9,386.4 143.7,389.1 142.7,391.5C141.7,394 140.9,396.6 140.4,398.9C139.9,401.3 140.6,404.3 139.5,405.8C138.4,407.3 136.1,407.5 133.7,407.9C131.4,408.2 127.1,408.7 125.4,408C123.6,407.2 123.3,405.1 123.2,403.3Z" fill="none" stroke="#7272d0" stroke-width="0.35" opacity="0.85"/>
<path d="M124.1,402.4C124,400.8 125.4,398.5 126.3,396.1C127.2,393.7 128.3,390.5 129.6,387.8C130.9,385.2 132.8,382.5 134.1,380C135.3,377.5 135.8,374.8 137.1,372.8C138.3,370.9 139.8,369.3 141.6,368.5C143.3,367.7 145.9,367.9 147.8,368.3C149.7,368.6 151.9,369.4 153,370.4C154.1,371.4 154.9,372.9 154.4,374.4C154,375.8 151.8,377.7 150.4,379.4C148.9,381.1 147.1,382.6 145.7,384.5C144.4,386.4 143.2,388.8 142.2,390.9C141.3,393 140.7,395 140.3,397.1C139.8,399.2 140.5,402 139.5,403.5C138.5,405 136.2,406 134.2,406.3C132.1,406.7 128.6,406.3 127,405.6C125.3,405 124.3,403.9 124.1,402.4Z" fill="none" stroke="#7272d0" stroke-width="0.35" opacity="0.85"/>
<path d="M127,399.5C126.9,398.1 127.7,396.6 128.4,394.6C129.2,392.6 130.3,390 131.4,387.7C132.4,385.4 133.6,382.9 134.6,380.7C135.6,378.5 136.3,376.1 137.4,374.5C138.5,372.9 139.7,372 141.2,371.3C142.8,370.6 145.2,370.1 146.9,370.3C148.6,370.5 150.6,371.3 151.5,372.3C152.4,373.3 152.7,374.8 152.3,376.1C152,377.4 150.6,378.6 149.3,380.1C148.1,381.6 145.9,383.2 144.7,384.9C143.5,386.6 142.7,388.6 141.9,390.4C141.2,392.3 140.6,394.3 140.2,396.2C139.8,398.1 140.3,400.7 139.5,401.8C138.7,402.9 136.9,402.6 135.1,402.9C133.3,403.1 129.9,403.8 128.5,403.3C127.2,402.7 127,401 127,399.5Z" fill="none" stroke="#7272d0" stroke-width="0.35" opacity="0.85"/>
<path d="M128.3,398.2C128.3,397 129.2,395.4 129.8,393.7C130.5,391.9 131.4,389.6 132.3,387.6C133.2,385.6 134.3,383.4 135.2,381.5C136.1,379.6 136.7,377.5 137.6,376.2C138.6,374.9 139.6,374.3 141,373.8C142.3,373.3 144.2,373 145.6,373.1C147.1,373.2 148.9,373.7 149.7,374.5C150.5,375.2 150.9,376.5 150.5,377.7C150.1,378.8 148.5,380.2 147.4,381.4C146.3,382.7 145,383.8 144,385.2C143,386.6 142.3,388.4 141.6,390C141,391.6 140.4,393.2 140.1,394.8C139.7,396.3 140.3,398.4 139.5,399.4C138.7,400.5 137.1,400.9 135.6,401.1C134,401.4 131.4,401.3 130.2,400.8C129,400.3 128.4,399.4 128.3,398.2Z" fill="none" stroke="#7272d0" stroke-width="0.35" opacity="0.85"/>
<path d="M130,396.5C130.1,395.4 131,393.9 131.6,392.4C132.2,390.9 133,389.2 133.7,387.5C134.4,385.8 135.2,383.9 135.9,382.4C136.6,380.8 137.2,379.4 138,378.3C138.8,377.3 139.6,376.3 140.7,375.8C141.8,375.4 143.3,375.4 144.6,375.5C145.9,375.5 147.6,375.6 148.3,376.2C149,376.8 149.3,378 148.9,379.1C148.5,380.1 147,381.3 146,382.4C145.1,383.5 144.1,384.3 143.3,385.5C142.5,386.7 141.7,388.1 141.2,389.4C140.6,390.7 140.3,392.2 140,393.5C139.7,394.7 140.1,396 139.5,397C138.9,397.9 137.5,398.6 136.2,399C134.9,399.3 132.5,399.3 131.5,398.9C130.5,398.5 130,397.5 130,396.5Z" fill="none" stroke="#7272d0" stroke-width="0.35" opacity="0.85"/>
<path d="M132.1,394.4C132.1,393.6 132.8,392.5 133.2,391.4C133.6,390.2 134,388.7 134.6,387.4C135.2,386.1 136,384.5 136.6,383.3C137.3,382.1 137.7,381.1 138.3,380.2C139,379.4 139.6,378.5 140.5,378C141.4,377.5 142.7,377.3 143.8,377.3C144.8,377.3 146.3,377.5 146.7,378.1C147.2,378.7 146.9,380.1 146.6,381C146.3,381.8 145.8,382.3 145.1,383.1C144.4,383.9 143.1,384.8 142.4,385.8C141.7,386.8 141.3,387.9 140.9,389C140.5,390.1 140.1,391.3 139.9,392.3C139.7,393.4 140,394.8 139.5,395.4C139,396.1 138,396.1 136.9,396.3C135.9,396.4 134,396.7 133.2,396.4C132.4,396 132.1,395.3 132.1,394.4Z" fill="none" stroke="#7272d0" stroke-width="0.35" opacity="0.85"/>
<ellipse cx="145.5" cy="370" rx="10.5" ry="5.6" transform="rotate(-25 145.5 370)" fill="#c9d9f2" stroke="#4a4ab8" stroke-width="0.55" opacity="1" />
<ellipse cx="145" cy="370.3" rx="8" ry="4.4" transform="rotate(-25 145 370.3)" fill="#a5d7ea" stroke="#5a5ac4" stroke-width="0.35" opacity="1" />
<ellipse cx="143" cy="371" rx="4.6" ry="3.4" transform="rotate(-25 143 371)" fill="#7fcfc8" stroke="none" stroke-width="0.4" opacity="1" />
<ellipse cx="143" cy="371" rx="3.31" ry="2.45" transform="rotate(-25 143 371)" fill="#6cc36a" stroke="none" stroke-width="0.4" opacity="1" />
<ellipse cx="143" cy="371" rx="2.21" ry="1.63" transform="rotate(-25 143 371)" fill="#b8d848" stroke="none" stroke-width="0.4" opacity="1" />
<ellipse cx="143" cy="371" rx="1.29" ry="0.95" transform="rotate(-25 143 371)" fill="#e6e23c" stroke="none" stroke-width="0.4" opacity="1" />
<ellipse cx="131" cy="404.6" rx="9" ry="4.4" transform="rotate(-14 131 404.6)" fill="#d5def5" stroke="#4a4ab8" stroke-width="0.5" opacity="1" />
<ellipse cx="130.7" cy="404.5" rx="7.2" ry="3.3" transform="rotate(-14 130.7 404.5)" fill="#2f3f9e" stroke="none" stroke-width="0.4" opacity="1" />
<ellipse cx="130.7" cy="404.5" rx="5.76" ry="2.64" transform="rotate(-14 130.7 404.5)" fill="#5cc0d2" stroke="none" stroke-width="0.4" opacity="1" />
<ellipse cx="130.7" cy="404.5" rx="4.32" ry="1.98" transform="rotate(-14 130.7 404.5)" fill="#66c36a" stroke="none" stroke-width="0.4" opacity="1" />
<ellipse cx="130.7" cy="404.5" rx="3.17" ry="1.45" transform="rotate(-14 130.7 404.5)" fill="#e6e23c" stroke="none" stroke-width="0.4" opacity="1" />
<ellipse cx="130.7" cy="404.5" rx="2.16" ry="0.99" transform="rotate(-14 130.7 404.5)" fill="#f39b33" stroke="none" stroke-width="0.4" opacity="1" />
<ellipse cx="130.7" cy="404.5" rx="1.15" ry="0.53" transform="rotate(-14 130.7 404.5)" fill="#e2452d" stroke="none" stroke-width="0.4" opacity="1" />
<line x1="111.6" y1="357.7" x2="111.6" y2="417.4" stroke="#555" stroke-width="0.55" />
<line x1="111.6" y1="417.4" x2="167" y2="417.4" stroke="#555" stroke-width="0.55" />
<text x="110.6" y="364.6" font-size="3.4" fill="#555" text-anchor="end" stroke="#555" stroke-width="0.16">10³</text>
<line x1="110.9" y1="363.7" x2="111.6" y2="363.7" stroke="#777" stroke-width="0.3" />
<text x="110.6" y="379.3" font-size="3.4" fill="#555" text-anchor="end" stroke="#555" stroke-width="0.16">10²</text>
<line x1="110.9" y1="378.4" x2="111.6" y2="378.4" stroke="#777" stroke-width="0.3" />
<text x="110.6" y="397.5" font-size="3.4" fill="#555" text-anchor="end" stroke="#555" stroke-width="0.16">10¹</text>
<line x1="110.9" y1="396.6" x2="111.6" y2="396.6" stroke="#777" stroke-width="0.3" />
<text x="110.6" y="408.4" font-size="3.4" fill="#555" text-anchor="end" stroke="#555" stroke-width="0.16">−10¹</text>
<line x1="110.9" y1="407.5" x2="111.6" y2="407.5" stroke="#777" stroke-width="0.3" />
<text x="110.6" y="416.5" font-size="3.4" fill="#555" text-anchor="end" stroke="#555" stroke-width="0.16">−10²</text>
<line x1="110.9" y1="415.6" x2="111.6" y2="415.6" stroke="#777" stroke-width="0.3" />
<text x="117.8" y="420.8" font-size="3.4" fill="#555" text-anchor="middle" stroke="#555" stroke-width="0.16">−10¹</text>
<text x="124.5" y="420.8" font-size="3.4" fill="#555" text-anchor="middle" stroke="#555" stroke-width="0.16">10¹</text>
<text x="135" y="420.8" font-size="3.4" fill="#555" text-anchor="middle" stroke="#555" stroke-width="0.16">10²</text>
<text x="150" y="420.8" font-size="3.4" fill="#555" text-anchor="middle" stroke="#555" stroke-width="0.16">10³</text>
<text x="161.3" y="420.8" font-size="3.4" fill="#555" text-anchor="middle" stroke="#555" stroke-width="0.16">10⁴</text>
<polyline points="144.5,417.4 144.5,391.4 167,371.5" fill="none" stroke="#222" stroke-width="1" stroke-linejoin="round"/>
<path transform="scale(.1)" d="M2261 4074h0M2188 4091h0M2298 3768h0M2068 4014h0M2197 3670h0M2129 3732h0M2025 3960h0M2179 3746h0M2018 3809h0M2137 3857h0M2101 4095h0M2027 3755h0M2223 3966h0M1988 3838h0M2138 4106h0M2038 3935h0M2203 3846h0M2264 3884h0M2067 3957h0M1966 3880h0M2115 4074h0M2037 3910h0M2207 4077h0M2010 3938h0M2117 3838h0M2294 3733h0M2071 4102h0M2160 3771h0M2120 3962h0M2013 3938h0M2015 3866h0M2095 3853h0M2112 4075h0M2067 3888h0M2039 4109h0M2265 3734h0M2033 3988h0M2170 3723h0M2139 3859h0M2166 3795h0M2033 4022h0M2280 3896h0M2128 3799h0M2252 3890h0M2017 3798h0M2163 3743h0M2145 3878h0M2296 3935h0M2095 3807h0M1992 3868h0M2079 3921h0M2136 4120h0M2130 4069h0M2166 3789h0M2249 3771h0M2243 3896h0M2027 3925h0M2079 4039h0M2021 3924h0M2257 3832h0M2278 4023h0M2118 3904h0M2225 3710h0M2116 3696h0M2054 4097h0M1978 4016h0M2290 3949h0M1975 3940h0M2182 3733h0M2224 4001h0M2149 3872h0M1956 3962h0M2170 3780h0M2197 4062h0M2104 3793h0M1972 3810h0M2118 3736h0M2248 4003h0M2321 3998h0M2012 3829h0M2149 3853h0M2280 3755h0M2277 4053h0M2335 3778h0M2257 4073h0M2208 3795h0M2253 4038h0M2255 4011h0M2239 3781h0M2044 4005h0M2172 3950h0M2023 3763h0M2212 3918h0M2024 4072h0M2038 4075h0M2340 3883h0M2085 3723h0M2218 3850h0M2006 4035h0M1977 3868h0M2319 3927h0M2052 3748h0M2214 3888h0M2288 4017h0M2295 3787h0M2045 3898h0M2314 3938h0M2308 3939h0M2236 3834h0M2165 3827h0M2043 4012h0M1977 3800h0M2127 3831h0M2267 3730h0M2307 3741h0M2234 3751h0M2144 3846h0M2028 3972h0M2166 3843h0M2137 4016h0M2136 4062h0M2259 3934h0M2168 3921h0M2198 3757h0M2247 3925h0M2261 3917h0M2341 3935h0M2090 3923h0M2089 3743h0M2127 3819h0M2249 3809h0M2108 3949h0M2267 3966h0M2186 4018h0M2208 3700h0M2053 3905h0M2105 3770h0M2321 3941h0M2245 3831h0M2216 3759h0M2120 3976h0M2004 3831h0M2123 3969h0M2065 3772h0M2195 3682h0M2173 4126h0M2041 4074h0M2095 4101h0M2021 4002h0M2319 3809h0" stroke="#8a8ae0" stroke-width="5.5" stroke-linecap="round" opacity="0.35" fill="none"/>
<path transform="scale(.1)" d="M2199 4074h0M1991 3882h0M2049 4154h0M2143 3700h0M2340 3770h0M2007 3804h0M2315 3786h0M2285 3753h0M2061 3724h0M2023 3758h0M2319 3954h0M2337 3943h0M2230 4063h0M2361 3896h0M2216 3707h0M2156 3713h0M2173 3709h0M2336 3839h0M2098 4101h0M1958 4120h0M2323 3799h0M2129 3696h0M1980 4129h0M2255 3701h0M2326 3969h0M1992 3839h0M1973 4015h0M2327 3921h0M2321 3804h0M2315 3979h0M1999 3790h0M2319 3929h0M2252 4027h0M2198 4095h0M2328 3847h0M2020 3729h0M1968 4113h0M2347 3891h0M2231 3715h0M1994 3946h0M2230 3709h0M2354 3981h0M1982 4036h0M2205 4063h0M2023 4139h0M1979 4121h0M2051 3738h0M2184 4070h0M2172 3713h0M2294 3989h0M2329 3809h0M2134 4079h0M2337 3818h0M1997 3977h0M2222 3718h0M2134 3713h0M1982 4017h0M2245 4036h0M2221 3714h0M2301 3970h0M2324 3906h0M2096 3715h0M2003 3857h0M2282 3745h0M2090 3710h0M2314 3803h0M2332 3888h0M2229 4062h0M2233 3736h0M2005 3884h0M1999 4127h0M2045 3757h0M1955 4069h0M2137 4092h0M1980 4125h0M2014 3923h0M2341 3972h0M2333 3895h0M2238 4043h0M2108 3719h0M2116 4097h0M2141 4089h0M2230 3726h0M2331 3867h0M1988 3994h0M2317 3790h0M2289 4015h0M1969 4065h0M2140 3717h0M2051 4142h0M2014 3854h0M2079 4123h0M1995 3812h0M2083 4124h0M2034 3778h0M2096 3710h0M2013 3747h0M2091 4123h0M2010 3908h0M2342 3760h0M2286 3740h0M2293 3743h0M2022 3794h0M2042 4123h0M1976 4024h0M2336 3781h0M2313 3957h0M2090 4123h0M2156 4103h0M2015 3895h0M2081 3731h0M2033 3791h0M2290 3999h0M2329 3920h0M2320 3777h0M1968 4129h0M2123 4092h0M2329 3797h0M2223 4059h0M2156 4097h0M2204 3719h0M2019 4127h0M1980 4134h0M2271 4015h0M1944 4115h0M2006 4136h0M2330 3858h0M2339 3783h0M2193 3720h0M2279 4002h0M2014 4141h0M1996 4123h0M2166 4083h0M2073 4128h0M2004 3929h0M2057 3744h0M2141 3714h0M2177 4075h0M2311 3962h0M2055 3735h0M2105 3722h0M2145 3712h0M2330 3827h0M1964 4077h0M2314 3755h0M2089 4105h0M2360 3880h0M2230 4073h0M1971 4037h0M2026 3768h0M2284 4065h0M2026 4118h0M2022 3941h0M2137 3724h0M2017 3784h0M2333 3850h0M2145 4091h0M1976 4112h0M2324 3930h0M1971 4128h0M1970 4084h0M2026 3783h0M2241 4045h0M2002 3822h0M2008 3891h0M2032 4118h0M2007 3868h0M2223 3691h0M2072 4113h0M1993 3782h0M2307 3960h0M1998 4132h0M2001 3954h0M2247 3717h0M2083 3712h0M2271 3737h0M1997 3978h0M1935 4106h0M2168 4076h0M2278 4019h0M2200 4053h0M2247 3719h0M2321 3964h0M1996 3798h0M2182 3697h0M2294 3979h0M2331 3919h0M2307 4008h0M2324 3806h0M2321 3782h0M2000 3861h0M1962 4127h0M2327 3765h0M2123 4121h0M2009 3825h0M2328 3759h0M2035 4148h0M2045 3759h0M2003 3906h0M2017 3787h0M2230 4060h0M1973 4138h0M2328 3898h0M2038 3731h0M2184 4068h0M2010 3886h0M2012 4136h0M2240 4031h0M1982 4124h0M2336 3885h0M2276 3725h0M2150 4083h0M2166 3711h0M1983 3986h0M2060 3706h0M2023 3789h0M2274 3715h0M2253 4071h0M2119 3712h0M2016 4133h0M2027 4113h0M2061 3746h0M2069 4119h0M2056 4127h0M2240 4060h0M2288 4000h0M2009 3829h0M2312 3791h0M2192 4095h0M1998 3945h0M1990 3984h0M1996 3841h0M2199 4089h0M2337 3869h0M2249 4056h0M2143 3676h0M2308 3783h0M2335 3872h0M2288 3714h0M2005 4138h0M2147 4080h0M2141 3716h0M2006 3850h0M2214 3719h0M2072 4132h0M1984 4117h0M2000 3866h0M2085 4113h0M2339 3745h0M2066 4139h0M1962 4084h0M2069 3737h0M2162 3706h0M2082 4124h0M2347 3853h0M2024 3791h0M2149 4082h0M2086 4115h0M2138 4079h0M2335 3773h0" stroke="#6b6bd0" stroke-width="6" stroke-linecap="round" opacity="0.5" fill="none"/>
<path d="M200,384C200.5,381.3 201.5,378.1 203,376C204.5,373.9 206.7,372.4 209,371.5C211.3,370.6 214.2,370.4 217,370.5C219.8,370.6 223.5,370.9 226,372C228.5,373.1 230.7,374.8 232,377C233.3,379.2 233.8,382.3 234,385C234.2,387.7 233.8,390.3 233,393C232.2,395.7 230.8,398.8 229,401C227.2,403.2 224.5,404.7 222,406C219.5,407.3 216.7,407.9 214,409C211.3,410.1 208.7,411.8 206,412.5C203.3,413.2 199.7,413.6 198,413C196.3,412.4 195.8,411.2 196,409C196.2,406.8 198.3,402.8 199,400C199.7,397.2 199.8,394.7 200,392C200.2,389.3 199.5,386.7 200,384Z" fill="#f1f2fb" stroke="#6464cc" stroke-width="0.45" opacity="1"/>
<path d="M202.3,384.3C202.7,382 203.8,379.3 205.1,377.4C206.3,375.5 207.8,373.6 209.8,372.8C211.8,372 214.6,372.3 217.1,372.4C219.7,372.6 222.9,372.7 225.1,373.6C227.3,374.6 229.3,376.1 230.4,378C231.5,380 231.7,382.8 231.9,385.1C232,387.5 232,389.8 231.4,392.2C230.8,394.7 229.7,398 228.1,399.7C226.4,401.5 223.6,401.7 221.4,402.8C219.1,404 216.7,405.4 214.5,406.4C212.2,407.4 210.1,408.1 207.7,408.8C205.3,409.4 201.7,410.5 200.1,410.1C198.6,409.7 198.1,408.6 198.4,406.5C198.7,404.4 201.3,400.3 202,397.8C202.8,395.2 202.7,393.3 202.8,391.1C202.8,388.8 201.9,386.5 202.3,384.3Z" fill="none" stroke="#7474d2" stroke-width="0.35" opacity="0.8"/>
<path d="M204.3,384.5C204.7,382.4 205.1,379.8 206.2,378.1C207.3,376.5 209.1,375.4 211,374.7C212.8,373.9 215.1,373.7 217.2,373.8C219.4,374 222,374.8 223.9,375.7C225.7,376.7 227.4,377.7 228.5,379.3C229.5,380.8 230.1,383.2 230.3,385.2C230.4,387.2 229.9,389.3 229.2,391.2C228.6,393.2 227.5,395.3 226.1,397.1C224.8,398.9 223,400.7 221.2,401.8C219.3,402.9 217,403 214.9,403.7C212.9,404.4 211,405.5 209,405.9C207,406.4 204.2,406.8 202.8,406.5C201.5,406.1 200.9,405.4 200.9,403.8C201,402.2 202.7,399.1 203.2,396.9C203.7,394.7 203.8,392.8 203.9,390.7C204.1,388.6 203.9,386.6 204.3,384.5Z" fill="none" stroke="#7474d2" stroke-width="0.35" opacity="0.8"/>
<path d="M206.7,384.7C206.9,383 207,380.7 208,379.3C208.9,377.9 210.5,377 212.1,376.5C213.7,376 215.6,376.2 217.4,376.3C219.2,376.5 221.4,376.7 223,377.3C224.5,378 226.1,378.9 226.9,380.3C227.7,381.6 227.8,383.6 228,385.4C228.2,387.1 228.5,389 228,390.6C227.4,392.3 225.9,393.7 224.7,395.1C223.5,396.6 222.2,398.4 220.6,399.2C219.1,400.1 217.3,399.5 215.5,400.2C213.8,400.9 211.8,403 210.1,403.5C208.4,404 206.2,403.7 205.3,403.2C204.3,402.6 204.4,401.5 204.4,400.2C204.4,398.9 204.9,397.1 205.2,395.4C205.6,393.7 206.3,391.6 206.6,389.8C206.8,388 206.4,386.5 206.7,384.7Z" fill="none" stroke="#7474d2" stroke-width="0.35" opacity="0.8"/>
<path d="M208.2,384.9C208.4,383.6 209.5,381.9 210.3,380.9C211.2,379.9 212.3,379.2 213.4,378.7C214.6,378.2 216,377.8 217.5,377.9C218.9,377.9 220.7,378.4 222,378.9C223.3,379.5 224.6,380.2 225.3,381.3C226.1,382.4 226.4,384.1 226.5,385.5C226.6,386.9 226.4,388.4 225.9,389.7C225.4,391 224.4,392.3 223.4,393.4C222.5,394.6 221.4,395.9 220.1,396.6C218.9,397.3 217.4,397.2 216,397.7C214.6,398.2 213.2,399.2 211.8,399.7C210.3,400.2 208.2,400.8 207.2,400.5C206.3,400.3 205.9,399.7 206.1,398.4C206.3,397.1 208,394.6 208.5,393C209,391.4 209.1,390.3 209,389C209,387.6 208,386.3 208.2,384.9Z" fill="none" stroke="#7474d2" stroke-width="0.35" opacity="0.8"/>
<path d="M210.6,385.2C210.8,384.1 211.4,382.9 212,382C212.7,381.2 213.4,380.5 214.3,380.1C215.3,379.7 216.4,379.7 217.6,379.7C218.8,379.7 220.3,379.7 221.4,380.1C222.4,380.6 223.2,381.4 223.8,382.3C224.4,383.2 224.6,384.5 224.7,385.6C224.8,386.7 224.6,387.8 224.2,388.9C223.9,390 223.2,391.2 222.4,392C221.7,392.9 220.6,393.5 219.6,393.9C218.6,394.4 217.5,394.4 216.5,394.9C215.4,395.4 214.1,396.6 213,397C212,397.3 210.6,397.1 210,396.8C209.4,396.5 209.1,396.1 209.2,395.2C209.3,394.3 210.3,392.6 210.6,391.5C210.8,390.3 210.9,389.4 210.9,388.4C210.9,387.3 210.4,386.2 210.6,385.2Z" fill="none" stroke="#7474d2" stroke-width="0.35" opacity="0.8"/>
<path d="M213,385.4C213.1,384.7 213.3,383.7 213.7,383.2C214.2,382.6 214.9,382.2 215.5,382C216.2,381.8 216.9,381.8 217.7,381.8C218.5,381.8 219.5,381.8 220.3,382C221,382.3 221.7,382.8 222.1,383.4C222.5,384 222.5,384.9 222.5,385.7C222.6,386.5 222.7,387.3 222.4,388.1C222.1,388.8 221.5,389.4 221,390.1C220.4,390.7 219.8,391.4 219.2,391.8C218.5,392.2 217.6,392.2 216.9,392.5C216.1,392.7 215.5,392.9 214.8,393.1C214.1,393.2 213.1,393.4 212.6,393.3C212.1,393.2 211.7,393.1 211.7,392.6C211.7,392 212.3,390.9 212.5,390C212.8,389.2 213.1,388.4 213.1,387.6C213.2,386.9 212.9,386.2 213,385.4Z" fill="none" stroke="#7474d2" stroke-width="0.35" opacity="0.8"/>
<ellipse cx="206" cy="409.6" rx="9.2" ry="4.2" transform="rotate(-15 206 409.6)" fill="#d5def5" stroke="#4a4ab8" stroke-width="0.5" opacity="1" />
<ellipse cx="206" cy="409.6" rx="7.6" ry="3.2" transform="rotate(-15 206 409.6)" fill="#2f3f9e" stroke="none" stroke-width="0.4" opacity="1" />
<ellipse cx="206" cy="409.6" rx="5.93" ry="2.5" transform="rotate(-15 206 409.6)" fill="#5cc0d2" stroke="none" stroke-width="0.4" opacity="1" />
<ellipse cx="206" cy="409.6" rx="4.41" ry="1.86" transform="rotate(-15 206 409.6)" fill="#66c36a" stroke="none" stroke-width="0.4" opacity="1" />
<ellipse cx="206" cy="409.6" rx="3.19" ry="1.34" transform="rotate(-15 206 409.6)" fill="#c9d83a" stroke="none" stroke-width="0.4" opacity="1" />
<ellipse cx="206" cy="409.6" rx="2.13" ry="0.9" transform="rotate(-15 206 409.6)" fill="#e6d43a" stroke="none" stroke-width="0.4" opacity="1" />
<line x1="186.4" y1="357.7" x2="186.4" y2="418.2" stroke="#555" stroke-width="0.55" />
<line x1="186.4" y1="418.2" x2="241" y2="418.2" stroke="#555" stroke-width="0.55" />
<text x="185.4" y="365.5" font-size="3.4" fill="#555" text-anchor="end" stroke="#555" stroke-width="0.16">10³</text>
<line x1="185.7" y1="364.6" x2="186.4" y2="364.6" stroke="#777" stroke-width="0.3" />
<text x="185.4" y="381.9" font-size="3.4" fill="#555" text-anchor="end" stroke="#555" stroke-width="0.16">10²</text>
<line x1="185.7" y1="381" x2="186.4" y2="381" stroke="#777" stroke-width="0.3" />
<text x="185.4" y="401.5" font-size="3.4" fill="#555" text-anchor="end" stroke="#555" stroke-width="0.16">10¹</text>
<line x1="185.7" y1="400.6" x2="186.4" y2="400.6" stroke="#777" stroke-width="0.3" />
<text x="185.4" y="413.1" font-size="3.4" fill="#555" text-anchor="end" stroke="#555" stroke-width="0.16">−10¹</text>
<line x1="185.7" y1="412.2" x2="186.4" y2="412.2" stroke="#777" stroke-width="0.3" />
<text x="192" y="421.6" font-size="3.4" fill="#555" text-anchor="middle" stroke="#555" stroke-width="0.16">−10¹</text>
<text x="198.5" y="421.6" font-size="3.4" fill="#555" text-anchor="middle" stroke="#555" stroke-width="0.16">10¹</text>
<text x="209" y="421.6" font-size="3.4" fill="#555" text-anchor="middle" stroke="#555" stroke-width="0.16">10²</text>
<text x="224" y="421.6" font-size="3.4" fill="#555" text-anchor="middle" stroke="#555" stroke-width="0.16">10³</text>
<text x="235.5" y="421.6" font-size="3.4" fill="#555" text-anchor="middle" stroke="#555" stroke-width="0.16">10⁴</text>
<polyline points="218.4,418.2 218.4,394 241,374" fill="none" stroke="#222" stroke-width="1" stroke-linejoin="round"/>
<rect x="295.2" y="414.36" width="10.4" height="3.14" fill="#8ea3cc" stroke="none" stroke-width="0.8" />
<rect x="311.9" y="383.37" width="10.4" height="34.13" fill="#ef9a8c" stroke="none" stroke-width="0.8" />
<line x1="289.4" y1="356.05" x2="289.4" y2="417.5" stroke="#2a2a2a" stroke-width="1" />
<line x1="288.9" y1="417.5" x2="328" y2="417.5" stroke="#2a2a2a" stroke-width="1" />
<line x1="287.2" y1="417.5" x2="289.4" y2="417.5" stroke="#333" stroke-width="0.7" />
<text x="284" y="419.7" font-size="6.2" fill="#333" text-anchor="end" stroke="#333" stroke-width="0.16">0</text>
<line x1="287.2" y1="397.88" x2="289.4" y2="397.88" stroke="#333" stroke-width="0.7" />
<text x="284" y="400.08" font-size="6.2" fill="#333" text-anchor="end" stroke="#333" stroke-width="0.16">5</text>
<line x1="287.2" y1="378.27" x2="289.4" y2="378.27" stroke="#333" stroke-width="0.7" />
<text x="284" y="380.47" font-size="6.2" fill="#333" text-anchor="end" stroke="#333" stroke-width="0.16">10</text>
<line x1="287.2" y1="358.65" x2="289.4" y2="358.65" stroke="#333" stroke-width="0.7" />
<text x="284" y="360.85" font-size="6.2" fill="#333" text-anchor="end" stroke="#333" stroke-width="0.16">15</text>
<line x1="300.4" y1="417.5" x2="300.4" y2="419.1" stroke="#333" stroke-width="0.7" />
<line x1="300.4" y1="417.11" x2="300.4" y2="411.22" stroke="#333" stroke-width="0.6" />
<line x1="298.2" y1="417.11" x2="302.6" y2="417.11" stroke="#333" stroke-width="0.6" />
<line x1="298.2" y1="411.22" x2="302.6" y2="411.22" stroke="#333" stroke-width="0.6" />
<circle cx="298.6" cy="407.1" r="1.65" fill="#1d4a87"/>
<circle cx="302.6" cy="409.46" r="1.65" fill="#1d4a87"/>
<circle cx="298.6" cy="412.79" r="1.65" fill="#1d4a87"/>
<circle cx="300.4" cy="415.15" r="1.65" fill="#1d4a87"/>
<circle cx="303.9" cy="416.72" r="1.65" fill="#1d4a87"/>
<circle cx="296.9" cy="415.93" r="1.65" fill="#1d4a87"/>
<circle cx="301.9" cy="413.97" r="1.65" fill="#1d4a87"/>
<circle cx="299.9" cy="416.32" r="1.65" fill="#1d4a87"/>
<line x1="317.1" y1="417.5" x2="317.1" y2="419.1" stroke="#333" stroke-width="0.7" />
<line x1="317.1" y1="394.35" x2="317.1" y2="372.77" stroke="#7a1a2a" stroke-width="0.6" />
<line x1="314.9" y1="394.35" x2="319.3" y2="394.35" stroke="#7a1a2a" stroke-width="0.6" />
<line x1="314.9" y1="372.77" x2="319.3" y2="372.77" stroke="#7a1a2a" stroke-width="0.6" />
<polygon points="317.1,367.74 315.3,370.84 318.9,370.84" fill="#c0162c"/>
<polygon points="320.8,372.44 319,375.54 322.6,375.54" fill="#c0162c"/>
<polygon points="313.3,375.97 311.5,379.07 315.1,379.07" fill="#c0162c"/>
<polygon points="317.1,378.72 315.3,381.82 318.9,381.82" fill="#c0162c"/>
<polygon points="320.8,378.72 319,381.82 322.6,381.82" fill="#c0162c"/>
<polygon points="315.3,390.88 313.5,393.98 317.1,393.98" fill="#c0162c"/>
<polygon points="319.3,392.06 317.5,395.16 321.1,395.16" fill="#c0162c"/>
<polygon points="317.1,397.16 315.3,400.26 318.9,400.26" fill="#c0162c"/>
<polyline points="300.1,365.1 300.1,362.1 317.4,362.1 317.4,365.1" fill="none" stroke="#333" stroke-width="0.6" stroke-linejoin="round"/>
<text x="308.75" y="362.3" font-size="7.2" fill="#333" text-anchor="middle" stroke="#333" stroke-width="0.16">****</text>
<text x="299.8" y="427.8" font-size="6.4" fill="#333" text-anchor="middle" textLength="8" lengthAdjust="spacingAndGlyphs" stroke="#333" stroke-width="0.16">WT</text>
<text x="316.8" y="427.8" font-size="6.4" fill="#333" text-anchor="middle" textLength="17.8" lengthAdjust="spacingAndGlyphs" stroke="#333" stroke-width="0.16">V600E</text>
<text x="271.2" y="387.7" font-size="7.4" fill="#333" text-anchor="middle" textLength="43" lengthAdjust="spacingAndGlyphs" transform="rotate(-90 271.2 387.7)" stroke="#333" stroke-width="0.16">%CD1a<tspan dy="-2.4" font-size="4.6">+</tspan><tspan dy="2.4"> cells</tspan></text>
<line x1="351.8" y1="426.9" x2="351.8" y2="355.1" stroke="#222" stroke-width="1" />
<polygon points="351.8,351.4 353.7,355.6 349.9,355.6" fill="#222"/>
<line x1="351.4" y1="426.9" x2="494.5" y2="426.9" stroke="#222" stroke-width="1" />
<polygon points="498.2,426.9 494,428.8 494,425" fill="#222"/>
<text x="346.3" y="388.5" font-size="8.8" fill="#333" text-anchor="middle" textLength="16.9" lengthAdjust="spacingAndGlyphs" transform="rotate(-90 346.3 388.5)" stroke="#333" stroke-width="0.08">SSC-A</text>
<text x="425.9" y="437.2" font-size="8.8" fill="#333" text-anchor="middle" textLength="15.9" lengthAdjust="spacingAndGlyphs" stroke="#333" stroke-width="0.08">CD1a</text>
<text x="393.4" y="354" font-size="8.6" fill="#222" text-anchor="middle" stroke="#222" stroke-width="0.08">WT</text>
<text x="467.8" y="354" font-size="8.6" fill="#222" text-anchor="middle" textLength="24.2" lengthAdjust="spacingAndGlyphs" stroke="#222" stroke-width="0.08">V600E</text>
<path transform="scale(.1)" d="M3802 3854h0M3929 3744h0M3757 4047h0M3810 3865h0M3792 3936h0M3819 4055h0M3960 3761h0M3875 3750h0M3819 3898h0M3909 3733h0M3744 4102h0M3736 4063h0M3872 3703h0M3869 3785h0M3901 3743h0M3818 3910h0M3880 3941h0M3900 3902h0M3985 3685h0M3823 3900h0M3828 3918h0M3794 4068h0M3862 3836h0M3807 3863h0M3816 3916h0M3821 3912h0M3912 3675h0M3874 3741h0M3920 3847h0M3814 4022h0M3906 3828h0M3964 3631h0M3946 3745h0M3765 3915h0M3932 3645h0M3814 4056h0M3907 3747h0M3789 4099h0M3844 3786h0M3818 3866h0M3827 3952h0M3814 3916h0M3978 3746h0M3858 3822h0M3859 3803h0M3815 3927h0M3839 3863h0M3805 3986h0M3769 3893h0M3845 3742h0M3924 3686h0M3866 3902h0M3841 4019h0M3739 4059h0M3834 3960h0M3884 3704h0M3882 3935h0M3765 3922h0M3966 3645h0M3812 3788h0M3811 3879h0M3832 4063h0M3890 3697h0M3929 3866h0M3759 4055h0M3907 3834h0M3928 3832h0M3853 4003h0M3940 3702h0M3764 4085h0M3859 4012h0M3762 4004h0M3823 3848h0M3791 4095h0M3808 3890h0M3854 3728h0M3866 3977h0M3825 4064h0M3899 3960h0M3837 3784h0M3834 3824h0M3818 3889h0M3763 4007h0M3865 3765h0M3871 3702h0M3866 3856h0M3830 3857h0M3954 3706h0M3778 3918h0M3829 3849h0M3887 3846h0M3887 3916h0M3840 4001h0M3867 3752h0M3913 3860h0M3965 3806h0M3824 3777h0M3879 4007h0M3799 3906h0M3932 3812h0M3862 3896h0M3910 3773h0M3868 3809h0M3980 3655h0M3749 4017h0M3918 3809h0M3770 3881h0M3936 3836h0M3854 3855h0M3981 3671h0M3846 3809h0M3844 4029h0M3914 3680h0M3884 3833h0M3882 3883h0M3833 3919h0M3816 3985h0M3949 3711h0M3808 4046h0M3818 4093h0M3864 3948h0M3839 3741h0M3876 3787h0M3866 3714h0M3947 3810h0M3768 4098h0M3929 3637h0M3792 4097h0M3819 3871h0M3828 3949h0M3905 3822h0M3873 3767h0M3800 4019h0M3892 3821h0M3790 3948h0M3794 3864h0M3960 3736h0M3978 3699h0M3879 3835h0M3881 3961h0M3817 4018h0M3821 3815h0M3955 3654h0M3796 4060h0M3800 3879h0M3935 3657h0M3908 3716h0M3870 3986h0M3803 4009h0M3860 3917h0M3758 3927h0M3865 3776h0M3905 3849h0M3875 3807h0M3954 3833h0M3937 3748h0M3789 3902h0M3946 3801h0M3765 4109h0M3763 3948h0M3952 3817h0M3843 4049h0M3759 3917h0M3808 3935h0M3847 4061h0M3847 3879h0M3788 3838h0M3783 4111h0M3894 3881h0M3830 3965h0" stroke="#8a8ae0" stroke-width="5.5" stroke-linecap="round" opacity="0.45" fill="none"/>
<path transform="scale(.1)" d="M3717 4051h0M3840 3770h0M3777 4158h0M3795 4142h0M3963 3627h0M3861 3984h0M3769 3942h0M3727 4083h0M3804 4125h0M3720 4081h0M3859 3990h0M3911 3813h0M3838 3750h0M3911 3623h0M3752 4143h0M3733 4027h0M3725 4081h0M3714 4094h0M3939 3731h0M3887 3670h0M3905 3628h0M3803 3875h0M3756 4138h0M3960 3655h0M3904 3838h0M3909 3872h0M3843 3753h0M3841 4068h0M3707 4077h0M3941 3725h0M3851 4038h0M3913 3632h0M3733 4031h0M3739 4143h0M3747 3985h0M3891 3872h0M3946 3707h0M3848 3741h0M3787 3850h0M3757 3949h0M3899 3879h0M3738 4003h0M3820 4103h0M3817 4132h0M3930 3769h0M3935 3742h0M3928 3624h0M3712 4056h0M3858 3721h0M3730 4030h0M3952 3651h0M3914 3861h0M3790 3863h0M3950 3690h0M3827 4096h0M3916 3636h0M3849 4053h0M3860 3710h0M3844 4043h0M3948 3697h0M3879 3931h0M3833 3787h0M3945 3613h0M3891 3659h0M3776 4130h0M3958 3684h0M3781 4149h0M3736 4017h0M3763 4132h0M3906 3841h0M3722 4083h0M3880 3678h0M3810 4123h0M3838 4086h0M3780 4151h0M3842 3763h0M3716 4133h0M3901 3640h0M3956 3642h0M3810 4110h0M3907 3823h0M3954 3680h0M3789 4139h0M3780 4146h0M3744 4144h0M3851 4022h0M3874 3916h0M3857 4011h0M3721 4059h0M3796 4116h0M3751 3977h0M3782 3851h0M3888 3669h0M3740 4008h0M3894 3853h0M3959 3672h0M3885 3904h0M3758 4148h0M3954 3680h0M3851 3743h0M3805 3885h0M3904 3862h0M3887 3673h0M3945 3705h0M3914 3633h0M3905 3887h0M3737 4009h0M3867 3987h0M3861 3708h0M3926 3774h0M3732 4015h0M3921 3633h0M3830 4099h0M3770 3929h0M3710 4081h0M3826 4103h0M3894 3655h0M3930 3634h0M3808 3858h0M3829 3782h0M3816 3817h0M3907 3629h0M3925 3792h0M3855 4040h0M3885 3668h0M3966 3636h0M3949 3637h0M3779 3906h0M3902 3836h0M3938 3728h0M3755 3956h0M3854 3717h0M3899 3858h0M3899 3871h0M3843 3760h0M3934 3628h0M3963 3629h0M3924 3627h0M3725 4071h0M3770 4138h0M3868 3695h0M3761 4134h0M3755 4130h0M3723 4052h0M3967 3649h0M3903 3879h0M3833 3796h0M3856 3709h0M3898 3885h0M3800 3875h0M3891 3660h0M3952 3625h0M3722 4063h0M3888 3879h0M3828 3810h0M3780 3915h0M3812 3834h0M3879 3922h0M3728 4098h0M3794 4133h0M3918 3803h0M3770 3948h0M3929 3776h0M3878 3913h0M3777 3889h0M3731 4119h0M3726 4048h0M3894 3896h0M3944 3623h0M3850 4047h0M3911 3623h0M3961 3646h0M3735 4127h0M3942 3730h0M3881 3925h0M3741 4145h0M3921 3791h0M3879 3926h0M3826 4108h0M3752 4132h0M3748 3997h0M3861 3998h0M3888 3664h0M3837 3760h0M3865 3964h0M3865 3992h0M3894 3882h0M3848 4045h0M3920 3805h0M3765 3949h0M3890 3661h0M3962 3641h0M3873 3959h0M3939 3728h0M3876 3932h0M3766 4133h0M3941 3722h0M3923 3781h0M3877 3680h0M3936 3627h0M3775 3933h0M3875 3984h0M3908 3859h0M3741 4128h0M3964 3638h0M3887 3901h0M3724 4088h0M3966 3627h0M3843 4054h0M3921 3796h0M3835 3771h0M3823 3808h0M3935 3630h0M3829 4089h0M3829 4092h0M3832 3778h0M3718 4054h0M3920 3637h0M3921 3625h0M3742 4007h0M3886 3664h0M3733 4148h0M3919 3789h0M3856 4022h0M3901 3837h0M3958 3666h0M3902 3638h0M3950 3642h0M3891 3921h0M3863 3980h0" stroke="#6b6bd0" stroke-width="6" stroke-linecap="round" opacity="0.55" fill="none"/>
<path d="M372.5,412.5C371.7,411.1 371.6,408.4 372,406C372.4,403.6 373.8,400.8 375,398C376.2,395.2 377.7,392.2 379,389C380.3,385.8 381.7,382.3 383,379C384.3,375.7 385.7,371.7 387,369C388.3,366.3 389.7,364.1 391,363C392.3,361.9 394.2,362 395,362.5C395.8,363 396.3,363.8 396,366C395.7,368.2 394,372.7 393,376C392,379.3 391,382.7 390,386C389,389.3 387.8,393 387,396C386.2,399 385.8,401.5 385,404C384.2,406.5 383.8,409.2 382.5,411C381.2,412.8 378.7,414.2 377,414.5C375.3,414.8 373.3,413.9 372.5,412.5Z" fill="#eef0fb" stroke="#6262ca" stroke-width="0.5" opacity="1"/>
<path d="M374.9,409.8C374.2,408.7 373.8,406.9 374,404.9C374.3,402.8 375.4,400.2 376.4,397.6C377.3,395 378.7,392.3 379.8,389.3C380.9,386.4 381.9,382.9 383,379.9C384.1,376.9 385.1,373.8 386.2,371.4C387.3,369 388.3,366.8 389.5,365.6C390.6,364.5 392.3,364 392.9,364.6C393.5,365.1 393.5,366.9 393.2,369.2C392.8,371.4 391.5,375.2 390.7,378.1C389.9,381.1 389.2,383.9 388.5,386.7C387.7,389.6 386.7,392.8 386.1,395.5C385.4,398.1 385.2,400.6 384.6,402.7C384,404.9 383.7,407.1 382.6,408.6C381.6,410.1 379.6,411.4 378.4,411.6C377.1,411.8 375.6,410.9 374.9,409.8Z" fill="none" stroke="#7070d0" stroke-width="0.35" opacity="0.8"/>
<path d="M376.6,408.1C376.1,407 376,405 376.2,403.1C376.5,401.2 377.2,399.2 377.9,396.9C378.6,394.7 379.8,392.3 380.6,389.7C381.5,387.1 382.2,384.3 383,381.5C383.8,378.7 384.7,375.2 385.6,373C386.4,370.8 387.3,369 388.1,368.4C388.8,367.7 389.8,368.5 390.2,369C390.7,369.6 391,370.1 390.8,371.8C390.7,373.5 389.7,376.7 389.1,379.3C388.5,381.9 387.8,384.7 387.2,387.4C386.6,390.1 386.1,392.9 385.6,395.3C385.1,397.7 384.7,399.8 384.3,401.8C383.8,403.8 383.5,406.2 382.7,407.6C381.8,409 380.3,410.1 379.2,410.2C378.2,410.3 377.1,409.3 376.6,408.1Z" fill="none" stroke="#7070d0" stroke-width="0.35" opacity="0.8"/>
<path d="M378.1,406.9C377.7,405.9 377.9,403.5 378.1,401.7C378.3,399.9 379,398 379.5,396C380.1,394.1 380.6,392.1 381.2,389.9C381.8,387.7 382.4,385.4 383,382.9C383.6,380.5 384.3,377.2 384.8,375.5C385.4,373.8 385.8,373.3 386.5,372.5C387.1,371.7 388.2,370.5 388.6,370.8C388.9,371 389,372.3 388.8,374C388.6,375.8 387.8,378.9 387.3,381.2C386.9,383.5 386.6,385.5 386.2,387.8C385.8,390 385.2,392.8 384.9,394.9C384.5,397 384.3,398.7 383.9,400.5C383.6,402.3 383.4,404.4 382.8,405.6C382.2,406.8 381.1,407.4 380.3,407.7C379.5,407.9 378.5,407.9 378.1,406.9Z" fill="none" stroke="#7070d0" stroke-width="0.35" opacity="0.8"/>
<path d="M372.6,413 C370.6,406 374.6,398.5 379,397.5 C383.5,397 386.5,402 384.7,408 C383.6,412 378.5,415 375,414.8 Z" fill="#2f3f9e" stroke="none" stroke-width="0.4" opacity="0.95" stroke-linejoin="round"/>
<ellipse cx="379.2" cy="407" rx="3.96" ry="5.58" transform="rotate(22 379.2 407)" fill="#5cc0d2" stroke="none" stroke-width="0.4" opacity="1" />
<ellipse cx="379.2" cy="407" rx="3.17" ry="4.46" transform="rotate(22 379.2 407)" fill="#66c36a" stroke="none" stroke-width="0.4" opacity="1" />
<ellipse cx="379.2" cy="407" rx="2.42" ry="3.41" transform="rotate(22 379.2 407)" fill="#e6e23c" stroke="none" stroke-width="0.4" opacity="1" />
<ellipse cx="379.2" cy="407" rx="1.76" ry="2.48" transform="rotate(22 379.2 407)" fill="#f39b33" stroke="none" stroke-width="0.4" opacity="1" />
<ellipse cx="379.2" cy="407" rx="1.14" ry="1.61" transform="rotate(22 379.2 407)" fill="#e2452d" stroke="none" stroke-width="0.4" opacity="1" />
<line x1="366.3" y1="357.7" x2="366.3" y2="418.2" stroke="#555" stroke-width="0.55" />
<line x1="366.3" y1="418.2" x2="421.3" y2="418.2" stroke="#555" stroke-width="0.55" />
<text x="365.3" y="359.4" font-size="3.4" fill="#555" text-anchor="end" stroke="#555" stroke-width="0.16">262,1</text>
<line x1="365.6" y1="358.5" x2="366.3" y2="358.5" stroke="#777" stroke-width="0.3" />
<text x="365.3" y="374.2" font-size="3.4" fill="#555" text-anchor="end" stroke="#555" stroke-width="0.16">196,6</text>
<line x1="365.6" y1="373.3" x2="366.3" y2="373.3" stroke="#777" stroke-width="0.3" />
<text x="365.3" y="389.7" font-size="3.4" fill="#555" text-anchor="end" stroke="#555" stroke-width="0.16">130,7</text>
<line x1="365.6" y1="388.8" x2="366.3" y2="388.8" stroke="#777" stroke-width="0.3" />
<text x="365.3" y="404.4" font-size="3.4" fill="#555" text-anchor="end" stroke="#555" stroke-width="0.16">64,9</text>
<line x1="365.6" y1="403.5" x2="366.3" y2="403.5" stroke="#777" stroke-width="0.3" />
<text x="365.3" y="419.1" font-size="3.4" fill="#555" text-anchor="end" stroke="#555" stroke-width="0.16">-0,8</text>
<line x1="365.6" y1="418.2" x2="366.3" y2="418.2" stroke="#777" stroke-width="0.3" />
<text x="371.5" y="421.6" font-size="3.4" fill="#555" text-anchor="middle" stroke="#555" stroke-width="0.16">−10³ 0</text>
<text x="390.5" y="421.6" font-size="3.4" fill="#555" text-anchor="middle" stroke="#555" stroke-width="0.16">10³</text>
<text x="404" y="421.6" font-size="3.4" fill="#555" text-anchor="middle" stroke="#555" stroke-width="0.16">10⁴</text>
<text x="416" y="421.6" font-size="3.4" fill="#555" text-anchor="middle" stroke="#555" stroke-width="0.16">10⁵</text>
<polyline points="388.4,418.2 404,369 421.3,362.5" fill="none" stroke="#222" stroke-width="1" stroke-linejoin="round"/>
<path transform="scale(.1)" d="M4575 3870h0M4798 3808h0M4726 4020h0M4705 3937h0M4732 3995h0M4807 3729h0M4590 4092h0M4775 3786h0M4560 4050h0M4825 3884h0M4825 3756h0M4597 4057h0M4526 3897h0M4600 3838h0M4705 3843h0M4570 3957h0M4727 3865h0M4598 3690h0M4634 3658h0M4548 3925h0M4559 3940h0M4622 3904h0M4803 3898h0M4699 3678h0M4640 3980h0M4820 3875h0M4523 3862h0M4705 3860h0M4555 3947h0M4542 3984h0M4618 3935h0M4789 3773h0M4726 3784h0M4559 4004h0M4744 3938h0M4645 4017h0M4539 4052h0M4600 3820h0M4627 3731h0M4593 4083h0M4662 3840h0M4600 3780h0M4734 4042h0M4643 3644h0M4564 3840h0M4658 4057h0M4604 3842h0M4804 3729h0M4735 4042h0M4495 3919h0M4628 3877h0M4604 3771h0M4769 3700h0M4553 3945h0M4536 3826h0M4767 3728h0M4670 3887h0M4646 3764h0M4786 3758h0M4717 3860h0M4729 3800h0M4600 4018h0M4576 4012h0M4559 3801h0M4764 3948h0M4525 3952h0M4531 4051h0M4647 3934h0M4741 3659h0M4643 4007h0M4588 3890h0M4608 3763h0M4606 3706h0M4646 3990h0M4689 3671h0M4714 3727h0M4652 3915h0M4590 3963h0M4732 3715h0M4718 3783h0M4575 4005h0M4603 4033h0M4780 3876h0M4620 4055h0M4557 3763h0M4731 4012h0M4642 3753h0M4614 3901h0M4769 3833h0M4524 3906h0M4754 3667h0M4523 3922h0M4602 3796h0M4735 3790h0M4651 4028h0M4620 3842h0M4775 3619h0M4606 3735h0M4621 3937h0M4523 4005h0M4780 3772h0M4569 3958h0M4614 3792h0M4546 3783h0M4651 4060h0M4606 3961h0M4526 3904h0M4556 3899h0M4656 3703h0M4836 3677h0M4818 3811h0M4661 4018h0M4562 4019h0M4714 4056h0M4610 3985h0M4789 3788h0M4709 3901h0M4668 3841h0M4697 3776h0M4721 3987h0M4666 3886h0M4630 3802h0M4494 3906h0M4837 3711h0M4548 3822h0M4512 3911h0M4712 3866h0M4764 3913h0M4621 3712h0M4644 3960h0M4505 3930h0M4509 3930h0M4521 3846h0M4696 4031h0M4593 4011h0M4744 3990h0M4540 3838h0M4618 3872h0M4676 3832h0M4636 4024h0M4765 3700h0M4663 3641h0M4744 3788h0M4607 3905h0M4798 3732h0M4644 3797h0M4569 3903h0M4760 3880h0M4755 3849h0M4706 3723h0M4602 3988h0M4806 3850h0M4598 4005h0M4644 3717h0M4664 3812h0M4584 3926h0M4724 3625h0M4724 3954h0M4811 3916h0M4744 3952h0M4660 3711h0M4700 3672h0M4562 3883h0M4705 4061h0M4601 3946h0M4692 3773h0M4663 3662h0M4605 4084h0M4795 3794h0M4506 3976h0M4703 3621h0M4493 3937h0M4508 3932h0M4607 3966h0M4654 4093h0M4782 3625h0M4658 3827h0M4601 3747h0M4528 4008h0M4789 3885h0" stroke="#8a8ae0" stroke-width="5.5" stroke-linecap="round" opacity="0.38" fill="none"/>
<path transform="scale(.1)" d="M4662 4109h0M4818 3847h0M4797 3952h0M4750 4046h0M4816 3871h0M4609 4139h0M4832 3901h0M4473 3980h0M4496 3940h0M4775 3717h0M4769 3737h0M4458 4078h0M4757 4028h0M4521 4160h0M4808 3784h0M4577 3825h0M4769 3722h0M4533 3896h0M4440 4147h0M4536 3884h0M4488 3972h0M4542 4170h0M4770 4006h0M4811 3789h0M4812 3885h0M4661 3723h0M4445 4081h0M4587 3816h0M4648 3713h0M4824 3821h0M4773 4035h0M4792 4006h0M4503 4154h0M4807 3734h0M4592 4142h0M4754 4062h0M4478 3964h0M4769 3711h0M4769 4047h0M4633 4120h0M4703 3707h0M4575 4162h0M4560 3853h0M4690 4092h0M4431 4102h0M4657 4110h0M4604 3781h0M4687 4137h0M4585 4154h0M4640 3743h0M4741 3712h0M4770 4014h0M4655 3735h0M4803 3751h0M4808 3779h0M4772 4017h0M4648 4137h0M4550 3867h0M4745 4046h0M4447 4052h0M4684 3710h0M4624 3767h0M4807 3911h0M4591 3814h0M4443 4125h0M4616 4145h0M4678 4102h0M4455 4146h0M4823 3863h0M4475 4147h0M4809 3763h0M4629 3765h0M4510 4189h0M4450 4156h0M4724 3703h0M4497 3917h0M4553 3851h0M4625 4125h0M4693 4103h0M4645 4111h0M4518 4163h0M4642 3751h0M4485 4169h0M4441 4118h0M4517 4161h0M4647 3740h0M4579 3812h0M4732 4071h0M4529 3892h0M4767 4018h0M4804 3921h0M4440 4032h0M4473 4005h0M4616 3755h0M4742 3715h0M4718 4057h0M4771 4046h0M4830 3746h0M4481 3965h0M4826 3920h0M4833 3909h0M4450 4051h0M4811 3897h0M4615 4147h0M4491 4155h0M4605 4135h0M4805 3959h0M4826 3878h0M4605 4145h0M4701 4101h0M4544 3856h0M4492 3953h0M4815 3858h0M4809 4006h0M4572 3830h0M4793 3776h0M4832 3832h0M4526 4176h0M4457 4090h0M4536 3848h0M4522 3907h0M4475 4167h0M4547 3861h0M4473 4146h0M4823 3819h0M4801 3965h0M4644 3742h0M4759 4040h0M4816 3831h0M4489 3957h0M4823 3947h0M4622 3755h0M4691 4087h0M4646 4125h0M4476 3991h0M4498 3920h0M4730 4045h0M4770 4014h0M4621 3770h0M4699 4078h0M4456 4040h0M4670 3714h0M4475 3966h0M4536 4171h0M4452 4134h0M4453 4015h0M4757 3728h0M4803 3958h0M4649 3732h0M4493 4158h0M4780 4035h0M4458 4041h0M4831 3944h0M4660 4104h0M4531 3890h0M4822 3729h0M4432 4116h0M4617 3763h0M4764 4028h0M4798 3950h0M4766 3726h0M4616 4148h0M4761 3723h0M4844 3848h0M4822 3872h0M4634 3765h0M4481 3952h0M4822 3884h0M4503 4185h0M4456 4025h0M4573 3834h0M4681 4108h0M4667 4125h0M4434 4093h0M4452 4069h0M4455 4119h0M4649 4129h0M4796 4033h0M4626 4151h0M4560 4161h0M4805 3947h0M4448 4114h0M4501 4153h0M4785 3748h0M4759 3736h0M4629 3768h0M4551 4153h0M4600 4141h0M4601 3796h0M4489 3958h0M4758 4009h0M4672 4132h0M4780 3963h0M4823 3889h0M4448 4120h0M4494 3947h0M4830 3928h0M4558 3810h0M4831 3861h0M4473 3980h0M4835 3809h0M4748 4064h0M4622 3765h0M4817 3917h0M4671 3718h0M4738 4026h0M4598 3759h0M4716 4104h0M4786 4001h0M4496 4148h0M4440 4078h0M4727 3704h0M4606 3777h0M4670 3725h0M4432 4138h0M4692 4099h0M4463 4143h0M4495 4145h0M4800 3935h0M4696 4082h0M4519 3897h0M4526 3921h0M4726 4062h0M4833 3918h0M4813 3792h0M4448 4098h0M4799 3751h0M4746 3701h0M4428 4123h0M4461 4052h0M4772 3997h0M4626 3765h0M4570 3851h0M4454 4035h0M4821 3896h0M4445 4019h0M4747 4033h0M4781 3733h0M4434 4098h0M4449 4043h0" stroke="#6b6bd0" stroke-width="6" stroke-linecap="round" opacity="0.45" fill="none"/>
<path d="M445,414C443.6,412.1 443.8,408 444.5,405C445.2,402 447.2,399.2 449,396C450.8,392.8 453,389.2 455,386C457,382.8 459,379.3 461,377C463,374.7 464.8,372.9 467,372C469.2,371.1 471.8,371 474,371.5C476.2,372 478.5,373.1 480,375C481.5,376.9 482.7,380 483,383C483.3,386 483,389.8 482,393C481,396.2 479,399.3 477,402C475,404.7 472.5,407 470,409C467.5,411 464.8,412.8 462,414C459.2,415.2 455.8,416.5 453,416.5C450.2,416.5 446.4,415.9 445,414Z" fill="#f2f3fb" stroke="#6a6acc" stroke-width="0.45" opacity="1"/>
<path d="M447.5,411.3C446.5,409.6 447.7,405.3 448.4,402.6C449.1,400 450.6,397.9 452,395.3C453.3,392.7 454.8,389.4 456.4,386.8C458.1,384.1 460,381.5 461.8,379.4C463.5,377.2 465,374.9 466.9,373.9C468.8,373 471.2,373.3 473.1,373.8C475.1,374.2 477.3,375 478.6,376.7C479.8,378.5 480.2,381.6 480.5,384.3C480.8,387 481.1,390.2 480.3,392.9C479.5,395.6 477.3,398.3 475.5,400.7C473.7,403.1 471.7,405.6 469.6,407.2C467.4,408.8 465.1,409.5 462.6,410.5C460.2,411.5 457.3,413.1 454.8,413.2C452.2,413.3 448.6,413.1 447.5,411.3Z" fill="none" stroke="#7878d4" stroke-width="0.35" opacity="0.75"/>
<path d="M451,407.7C450,406.4 450.2,403.4 450.7,401.3C451.2,399.1 452.7,397.1 453.9,394.8C455.2,392.6 456.7,389.9 458.2,387.7C459.6,385.5 461.1,383.2 462.6,381.7C464,380.1 465.2,378.9 466.7,378.2C468.2,377.5 470,377.4 471.6,377.6C473.2,377.8 475.2,378.2 476.3,379.5C477.5,380.8 478.2,383.2 478.5,385.4C478.7,387.6 478.6,390.4 477.9,392.7C477.1,395.1 475.6,397.4 474.1,399.4C472.7,401.4 470.8,403.4 469,404.7C467.2,406 465.3,406.3 463.3,407.1C461.2,407.9 458.8,409.3 456.8,409.4C454.7,409.5 452,409.1 451,407.7Z" fill="none" stroke="#7878d4" stroke-width="0.35" opacity="0.75"/>
<path d="M453.6,404.9C453,403.7 453.8,400.9 454.2,399.1C454.5,397.4 454.8,396.2 455.7,394.4C456.6,392.6 458.2,390.3 459.4,388.4C460.7,386.6 462,384.7 463.1,383.4C464.3,382.2 465.3,381.5 466.5,381C467.8,380.6 469.2,380.4 470.4,380.7C471.6,381 472.8,381.7 473.7,382.7C474.5,383.7 475.3,385.3 475.6,386.9C475.8,388.6 475.6,390.8 475,392.6C474.4,394.3 473.2,396 472.1,397.6C471,399.1 469.7,400.6 468.3,401.8C466.9,403.1 465.3,404.4 463.6,405.2C461.9,406 459.9,406.6 458.3,406.6C456.6,406.5 454.3,406.2 453.6,404.9Z" fill="none" stroke="#7878d4" stroke-width="0.35" opacity="0.75"/>
<path d="M456.6,401.8C455.9,401.1 455.7,399.4 456.1,398C456.4,396.7 457.6,395.2 458.5,393.8C459.4,392.3 460.5,390.8 461.4,389.5C462.3,388.2 463.1,386.7 463.9,385.7C464.7,384.7 465.5,384 466.4,383.6C467.3,383.2 468.5,383 469.5,383.1C470.5,383.2 471.5,383.6 472.3,384.4C473,385.2 473.8,386.5 473.9,387.8C473.9,389.2 473.3,391 472.7,392.4C472.2,393.8 471.7,395.2 470.8,396.4C470,397.6 468.9,398.7 467.8,399.6C466.7,400.5 465.5,401.2 464.2,401.6C463,402.1 461.7,402.5 460.4,402.5C459.2,402.5 457.3,402.6 456.6,401.8Z" fill="none" stroke="#7878d4" stroke-width="0.35" opacity="0.75"/>
<path d="M459.9,398.4C459.5,397.8 459.2,396.9 459.3,396C459.4,395.2 460.1,394.2 460.7,393.3C461.2,392.3 462.2,391.2 462.8,390.3C463.5,389.3 464,388.3 464.5,387.6C465.1,386.9 465.7,386.3 466.3,386C466.9,385.7 467.7,385.8 468.4,385.9C469,386 469.9,386.2 470.3,386.8C470.7,387.4 470.8,388.5 470.8,389.4C470.9,390.4 471,391.4 470.7,392.3C470.5,393.2 470,394.3 469.4,395.1C468.8,395.9 468,396.6 467.2,397.1C466.5,397.7 465.7,397.8 464.9,398.2C464,398.7 462.8,399.6 462,399.6C461.1,399.6 460.4,398.9 459.9,398.4Z" fill="none" stroke="#7878d4" stroke-width="0.35" opacity="0.75"/>
<path d="M446,414 C444,409 447,403 451,402 C455,401.5 457,405 456,409.5 C455,413.5 450,416 447.5,415.5 Z" fill="#2f3f9e" stroke="none" stroke-width="0.4" opacity="0.95" stroke-linejoin="round"/>
<ellipse cx="451.5" cy="409.5" rx="3.13" ry="4.78" transform="rotate(25 451.5 409.5)" fill="#5cc0d2" stroke="none" stroke-width="0.4" opacity="1" />
<ellipse cx="451.5" cy="409.5" rx="2.45" ry="3.74" transform="rotate(25 451.5 409.5)" fill="#66c36a" stroke="none" stroke-width="0.4" opacity="1" />
<ellipse cx="451.5" cy="409.5" rx="1.84" ry="2.81" transform="rotate(25 451.5 409.5)" fill="#e6e23c" stroke="none" stroke-width="0.4" opacity="1" />
<ellipse cx="451.5" cy="409.5" rx="1.29" ry="1.98" transform="rotate(25 451.5 409.5)" fill="#f39b33" stroke="none" stroke-width="0.4" opacity="1" />
<ellipse cx="451.5" cy="409.5" rx="0.82" ry="1.25" transform="rotate(25 451.5 409.5)" fill="#e2452d" stroke="none" stroke-width="0.4" opacity="1" />
<line x1="440.6" y1="357.9" x2="440.6" y2="418.5" stroke="#555" stroke-width="0.55" />
<line x1="440.6" y1="418.5" x2="496" y2="418.5" stroke="#555" stroke-width="0.55" />
<text x="439.6" y="359.4" font-size="3.4" fill="#555" text-anchor="end" stroke="#555" stroke-width="0.16">262,1</text>
<line x1="439.9" y1="358.5" x2="440.6" y2="358.5" stroke="#777" stroke-width="0.3" />
<text x="439.6" y="374.2" font-size="3.4" fill="#555" text-anchor="end" stroke="#555" stroke-width="0.16">196,6</text>
<line x1="439.9" y1="373.3" x2="440.6" y2="373.3" stroke="#777" stroke-width="0.3" />
<text x="439.6" y="389.7" font-size="3.4" fill="#555" text-anchor="end" stroke="#555" stroke-width="0.16">131,1</text>
<line x1="439.9" y1="388.8" x2="440.6" y2="388.8" stroke="#777" stroke-width="0.3" />
<text x="439.6" y="404.4" font-size="3.4" fill="#555" text-anchor="end" stroke="#555" stroke-width="0.16">65,5</text>
<line x1="439.9" y1="403.5" x2="440.6" y2="403.5" stroke="#777" stroke-width="0.3" />
<text x="439.6" y="419.1" font-size="3.4" fill="#555" text-anchor="end" stroke="#555" stroke-width="0.16">0</text>
<line x1="439.9" y1="418.2" x2="440.6" y2="418.2" stroke="#777" stroke-width="0.3" />
<text x="446.5" y="421.9" font-size="3.4" fill="#555" text-anchor="middle" stroke="#555" stroke-width="0.16">−10³ 0 10³</text>
<text x="464.5" y="421.9" font-size="3.4" fill="#555" text-anchor="middle" stroke="#555" stroke-width="0.16">10³</text>
<text x="478.5" y="421.9" font-size="3.4" fill="#555" text-anchor="middle" stroke="#555" stroke-width="0.16">10⁴</text>
<text x="491" y="421.9" font-size="3.4" fill="#555" text-anchor="middle" stroke="#555" stroke-width="0.16">10⁵</text>
<polyline points="463.8,418.5 478.3,369 496.5,362.3" fill="none" stroke="#222" stroke-width="1" stroke-linejoin="round"/>
<text x="20.0" y="473.9" font-size="6.0" fill="#333" stroke="#333" stroke-width="0.16">BRAF<tspan dy="-2.1" font-size="3.6">V600E/WT</tspan><tspan dy="2.1"> iPSCs</tspan></text>
<line x1="16.25" y1="528.75" x2="16.25" y2="483.7" stroke="#222" stroke-width="1" />
<polygon points="16.25,480.6 17.85,484.2 14.65,484.2" fill="#222"/>
<line x1="15.9" y1="528.75" x2="59.1" y2="528.75" stroke="#222" stroke-width="1" />
<polygon points="62.2,528.75 58.6,530.35 58.6,527.15" fill="#222"/>
<text x="11.6" y="504.9" font-size="6.2" fill="#333" text-anchor="middle" textLength="11.4" lengthAdjust="spacingAndGlyphs" transform="rotate(-90 11.6 504.9)" stroke="#333" stroke-width="0.16">CD14</text>
<text x="39.5" y="536.9" font-size="6.2" fill="#333" text-anchor="middle" textLength="11.4" lengthAdjust="spacingAndGlyphs" stroke="#333" stroke-width="0.16">CD1c</text>
<path d="M32.5,494C33.2,492.2 34.4,490.4 36,489.5C37.6,488.6 40.2,488.6 42,488.8C43.8,489.1 45.8,489.5 47,491C48.2,492.5 48.8,495.3 49,498C49.2,500.7 49,504.3 48.5,507C48,509.7 47.2,512.3 46,514C44.8,515.7 42.8,516.8 41,517C39.2,517.2 36.5,517 35,515.5C33.5,514 32.5,510.6 32,508C31.5,505.4 31.7,502.3 31.8,500C31.9,497.7 31.8,495.8 32.5,494Z" fill="#dfe3f6" stroke="#6464c8" stroke-width="0.5" opacity="1"/>
<path transform="scale(.1)" d="M487 4992h0M488 5033h0M386 5160h0M334 4929h0M342 4925h0M450 5144h0M359 4900h0M388 4893h0M466 5137h0M487 4971h0M483 5063h0M474 4952h0M309 5047h0M321 4937h0M446 4906h0M359 5163h0M341 5140h0M454 5141h0M444 5163h0M381 4888h0M437 4898h0M409 4889h0M318 5088h0M455 5139h0M345 4892h0M498 5028h0M322 5079h0M471 4920h0M487 4999h0M456 5135h0M323 5013h0M313 4988h0M477 4970h0M326 4943h0M451 5139h0M396 4882h0M487 5031h0M388 5171h0M357 5154h0M392 5166h0M326 5112h0M365 4891h0M333 5121h0M350 5144h0M469 5138h0M386 5160h0M327 4938h0M341 4928h0M489 5023h0M344 4920h0M464 5120h0M337 4923h0M325 5103h0M312 4967h0M320 4964h0M351 4901h0M468 5110h0M401 4891h0M390 4895h0M493 4966h0M316 4990h0M483 4912h0M342 4916h0M496 4952h0M384 5163h0M306 4995h0M483 4906h0M490 4956h0M378 4895h0M317 5040h0M481 5076h0M444 5152h0M414 5167h0M470 4938h0M335 4936h0M438 5157h0M328 4934h0M351 4893h0M337 4925h0M489 5031h0M480 5015h0M472 5116h0M487 5034h0M483 5075h0M489 5058h0M357 4901h0M412 5178h0M483 5037h0M341 5131h0M313 4911h0M327 5112h0M439 5152h0M421 4891h0M309 5041h0M447 5148h0M332 5095h0M321 5048h0M346 5149h0M315 4931h0M479 4966h0M350 5159h0M426 5159h0M494 4973h0M327 5099h0M318 5092h0M481 5102h0M415 5166h0M431 5160h0M473 5097h0M352 5168h0M323 5031h0M321 4915h0M475 5078h0M470 5110h0M321 5043h0M427 4891h0M352 4903h0M405 5165h0M318 5106h0M321 5106h0M451 4902h0M335 5107h0M481 5044h0M381 4897h0M425 5160h0M325 4953h0M338 5154h0M356 5155h0M483 4974h0M495 5037h0M327 5047h0M491 4972h0M438 5161h0M411 4892h0M357 4906h0M323 4956h0M326 5108h0M346 5134h0M330 5136h0M482 5068h0M453 5144h0M319 4968h0M437 5159h0M482 5064h0M357 5167h0M353 4905h0M314 4950h0M329 4936h0M491 5030h0M379 5168h0" stroke="#6a6ad0" stroke-width="5.5" stroke-linecap="round" opacity="0.5" fill="none"/>
<path transform="scale(.1)" d="M331 5056h0M488 4985h0M412 4994h0M445 5081h0M421 5163h0M439 4985h0M383 5067h0M437 4951h0M457 5014h0M451 4914h0M390 4960h0M378 4950h0M464 5067h0M378 5028h0M350 5154h0M474 5049h0M355 4903h0M390 4994h0M464 4929h0M328 5013h0M325 5075h0M402 5135h0M479 4954h0M453 5029h0M397 5164h0M328 4974h0M371 4990h0M460 4963h0M468 4929h0M320 5069h0M353 5051h0M373 5064h0M435 5099h0M339 5122h0M359 5055h0M457 5106h0M409 5028h0M345 5136h0M420 5106h0M370 5024h0M348 4966h0M465 5076h0M347 5035h0M388 5118h0M461 4988h0M332 4941h0M415 4991h0M424 4980h0M323 4988h0M419 4906h0M323 5061h0M441 5068h0M373 4988h0M409 4942h0M338 4966h0M384 5085h0M359 4931h0M425 4930h0M444 5043h0M413 4928h0M360 5085h0M337 5121h0M410 5046h0M419 5036h0M432 5062h0M368 5133h0M340 5098h0M391 4917h0M366 5027h0M341 5065h0M413 5055h0M402 5104h0M438 5032h0M447 5070h0M385 4977h0M437 5021h0M435 5090h0M482 5039h0M375 5099h0M360 5001h0M428 5146h0M405 5098h0M447 5032h0M446 4996h0M395 4978h0M410 5032h0M439 4967h0M335 5065h0M361 4939h0M404 4998h0M477 5026h0M432 5050h0M344 5132h0M344 5117h0M467 5109h0M402 5107h0M440 5069h0M401 5064h0M450 4920h0M429 5147h0M470 5016h0M418 5006h0M360 4981h0M398 4966h0M427 5154h0M425 4949h0M486 5002h0M371 4933h0M355 5136h0M458 4944h0M336 5051h0M373 4944h0M356 5031h0M422 4988h0M354 5038h0M421 5002h0M404 5056h0M465 5115h0M388 5067h0M471 5108h0M452 4912h0M358 4931h0M388 5090h0M462 4966h0M473 4984h0M466 4929h0M469 4997h0M432 5115h0M457 4917h0M485 5006h0M356 4964h0M424 5142h0M411 5038h0M327 5098h0M418 5040h0M438 4916h0M419 4935h0M363 5156h0M456 5070h0M402 4896h0M423 4958h0M457 4931h0M417 5023h0M461 4996h0M395 4930h0M373 5036h0M431 4965h0M467 5101h0M352 5028h0M447 5019h0" stroke="#6a6ad0" stroke-width="5.5" stroke-linecap="round" opacity="0.5" fill="none"/>
<path d="M33.9,495.5C34.5,494.2 35.6,492.8 36.9,492.2C38.2,491.6 40.2,491.8 41.7,492.1C43.1,492.3 44.6,492.6 45.5,493.8C46.4,494.9 46.9,497 47.2,499.1C47.4,501.2 47.5,504.1 47.1,506.3C46.8,508.5 46.1,510.9 45.1,512.2C44,513.5 42.4,513.9 40.9,514C39.4,514.2 37.3,514.1 36.1,512.9C34.9,511.8 34.2,509.1 33.7,507C33.2,504.9 33.2,502.4 33.2,500.5C33.3,498.6 33.3,496.9 33.9,495.5Z" fill="none" stroke="#7272d0" stroke-width="0.35" opacity="0.8"/>
<path d="M35.7,497.6C36.1,496.6 36.9,495.6 37.9,495.1C38.8,494.5 40.3,494.3 41.4,494.5C42.5,494.7 43.5,495.2 44.2,496.2C44.9,497.1 45.5,498.5 45.6,500C45.8,501.5 45.4,503.7 45.1,505.3C44.8,506.9 44.6,508.8 43.9,509.8C43.2,510.8 41.9,511.2 40.8,511.3C39.7,511.5 37.9,511.7 37.1,510.8C36.2,509.9 35.7,507.6 35.4,506C35.2,504.4 35.4,502.6 35.4,501.2C35.4,499.9 35.3,498.7 35.7,497.6Z" fill="none" stroke="#7272d0" stroke-width="0.35" opacity="0.8"/>
<path d="M37.1,499.2C37.4,498.5 38,497.7 38.6,497.4C39.3,497.1 40.3,497.5 41.1,497.6C41.8,497.7 42.7,497.4 43.2,498C43.7,498.5 43.9,499.8 44,500.9C44.1,502 44.1,503.6 43.8,504.7C43.6,505.8 43.2,506.8 42.7,507.4C42.2,508.1 41.4,508.6 40.7,508.7C40,508.8 38.8,508.7 38.3,508.1C37.7,507.5 37.3,506 37.2,505C37,503.9 37.2,502.8 37.2,501.9C37.2,500.9 36.9,500 37.1,499.2Z" fill="none" stroke="#7272d0" stroke-width="0.35" opacity="0.8"/>
<path d="M38.9,501.2C39,500.8 39.2,500.3 39.6,500.2C39.9,500 40.4,500.2 40.8,500.3C41.2,500.3 41.6,500.3 41.8,500.6C42.1,500.8 42.2,501.5 42.2,502C42.2,502.5 42.2,503.3 42.1,503.8C42,504.3 41.9,504.9 41.6,505.2C41.4,505.6 41,505.8 40.6,505.8C40.2,505.9 39.7,505.9 39.4,505.6C39.1,505.3 38.9,504.5 38.8,504C38.7,503.5 38.8,502.9 38.8,502.4C38.8,501.9 38.7,501.5 38.9,501.2Z" fill="none" stroke="#7272d0" stroke-width="0.35" opacity="0.8"/>
<ellipse cx="35" cy="515" rx="5.2" ry="3.6" fill="#a7b4e6" stroke="#5a5ac8" stroke-width="0.4" opacity="0.9" />
<ellipse cx="34.2" cy="515" rx="2.8" ry="2" fill="#6dc26a" stroke="none" stroke-width="0.4" opacity="1" />
<ellipse cx="34.2" cy="515" rx="1.82" ry="1.3" fill="#9ccc3e" stroke="none" stroke-width="0.4" opacity="1" />
<ellipse cx="34.2" cy="515" rx="0.98" ry="0.7" fill="#c8d83a" stroke="none" stroke-width="0.4" opacity="1" />
<line x1="25" y1="484.4" x2="25" y2="521.25" stroke="#555" stroke-width="0.55" />
<line x1="25" y1="521.25" x2="58.75" y2="521.25" stroke="#555" stroke-width="0.55" />
<text x="24" y="487.4" font-size="2" fill="#555" text-anchor="end" stroke="#555" stroke-width="0.16">10³</text>
<line x1="24.3" y1="486.5" x2="25" y2="486.5" stroke="#777" stroke-width="0.3" />
<text x="24" y="496.9" font-size="2" fill="#555" text-anchor="end" stroke="#555" stroke-width="0.16">10²</text>
<line x1="24.3" y1="496" x2="25" y2="496" stroke="#777" stroke-width="0.3" />
<text x="24" y="508.9" font-size="2" fill="#555" text-anchor="end" stroke="#555" stroke-width="0.16">10¹</text>
<line x1="24.3" y1="508" x2="25" y2="508" stroke="#777" stroke-width="0.3" />
<text x="24" y="513.4" font-size="2" fill="#555" text-anchor="end" stroke="#555" stroke-width="0.16">−10¹</text>
<line x1="24.3" y1="512.5" x2="25" y2="512.5" stroke="#777" stroke-width="0.3" />
<text x="24" y="518.4" font-size="2" fill="#555" text-anchor="end" stroke="#555" stroke-width="0.16">−10²</text>
<line x1="24.3" y1="517.5" x2="25" y2="517.5" stroke="#777" stroke-width="0.3" />
<text x="30.5" y="524.65" font-size="2" fill="#555" text-anchor="middle" stroke="#555" stroke-width="0.16">−10¹ 0 10¹</text>
<text x="43" y="524.65" font-size="2" fill="#555" text-anchor="middle" stroke="#555" stroke-width="0.16">10²</text>
<text x="51" y="524.65" font-size="2" fill="#555" text-anchor="middle" stroke="#555" stroke-width="0.16">10³</text>
<text x="56.5" y="524.65" font-size="2" fill="#555" text-anchor="middle" stroke="#555" stroke-width="0.16">10⁴</text>
<polyline points="25,494 42.25,501.9 59.4,484.4" fill="none" stroke="#222" stroke-width="1" stroke-linejoin="round"/>
<line x1="42.25" y1="501.9" x2="42.25" y2="521.25" stroke="#222" stroke-width="1" />
<line x1="25" y1="508.5" x2="42.25" y2="508.5" stroke="#222" stroke-width="1" />
<text x="27.6" y="491.9" font-size="6.6" fill="#7c5a9c" text-anchor="middle" stroke="#7c5a9c" stroke-width="0.16">3</text>
<text x="27.6" y="505" font-size="6.6" fill="#f0a24a" text-anchor="middle" stroke="#f0a24a" stroke-width="0.16">2</text>
<text x="27.6" y="517.6" font-size="6.6" fill="#222" text-anchor="middle" stroke="#222" stroke-width="0.16">1</text>
<text x="54.7" y="504.6" font-size="6.6" fill="#5cb460" text-anchor="middle" stroke="#5cb460" stroke-width="0.16">4</text>
<text x="102.3" y="503" font-size="6.6" fill="#333" text-anchor="middle" textLength="52" lengthAdjust="spacingAndGlyphs" stroke="#333" stroke-width="0.16">Culture separately</text>
<text x="102.8" y="510.8" font-size="6.6" fill="#333" text-anchor="middle" textLength="28" lengthAdjust="spacingAndGlyphs" stroke="#333" stroke-width="0.16">for 4 days</text>
<ellipse cx="83" cy="523.8" rx="11.6" ry="8.7" fill="#e6f0f8" stroke="#a9c4dc" stroke-width="0.5" opacity="1" />
<ellipse cx="83" cy="523.8" rx="9.6" ry="6.9" fill="#d4e5f2" stroke="#b9d0e4" stroke-width="0.4" opacity="1" />
<rect x="79.5" y="522.3" width="1.4" height="0.9" fill="#3b6ea8" transform="rotate(-23 79.5 522.3)"/>
<rect x="82" y="524.3" width="1.4" height="0.9" fill="#3b6ea8" transform="rotate(32 82 524.3)"/>
<rect x="84.5" y="522.8" width="1.4" height="0.9" fill="#3b6ea8" transform="rotate(-32 84.5 522.8)"/>
<rect x="86.5" y="524.6" width="1.4" height="0.9" fill="#3b6ea8" transform="rotate(-8 86.5 524.6)"/>
<rect x="80.5" y="525.6" width="1.4" height="0.9" fill="#3b6ea8" transform="rotate(-25 80.5 525.6)"/>
<rect x="83.5" y="526" width="1.4" height="0.9" fill="#3b6ea8" transform="rotate(23 83.5 526)"/>
<rect x="85.5" y="521.5" width="1.4" height="0.9" fill="#3b6ea8" transform="rotate(17 85.5 521.5)"/>
<rect x="78.8" y="524" width="1.4" height="0.9" fill="#3b6ea8" transform="rotate(20 78.8 524)"/>
<ellipse cx="122" cy="523.8" rx="11.6" ry="8.7" fill="#e6f0f8" stroke="#a9c4dc" stroke-width="0.5" opacity="1" />
<ellipse cx="122" cy="523.8" rx="9.6" ry="6.9" fill="#d4e5f2" stroke="#b9d0e4" stroke-width="0.4" opacity="1" />
<path d="M115.5,524.3 l3,-3 l2,1.5 l2.5,-1 l1.5,2 l2,0.5 l-0.5,2.5 l1,2 l-3,0.8 l-2,-1 l-2.5,1.5 l-2,-1.2 l-1.2,-2 z" fill="#3b6ea8" stroke="#2c5a92" stroke-width="0.3" opacity="1" stroke-linejoin="round"/>
<circle cx="119" cy="522.8" r="0.6" fill="#6d98c8"/>
<circle cx="122" cy="524.8" r="0.6" fill="#6d98c8"/>
<circle cx="124.5" cy="523.3" r="0.6" fill="#6d98c8"/>
<circle cx="121" cy="521.3" r="0.6" fill="#6d98c8"/>
<circle cx="125" cy="525.8" r="0.6" fill="#6d98c8"/>
<line x1="98.3" y1="523.8" x2="105.2" y2="523.8" stroke="#222" stroke-width="0.8" />
<polygon points="107.3,523.8 104.7,525 104.7,522.6" fill="#222"/>
<line x1="137" y1="523.8" x2="144.7" y2="523.8" stroke="#222" stroke-width="0.8" />
<polygon points="146.8,523.8 144.2,525 144.2,522.6" fill="#222"/>
<line x1="106.7" y1="557.5" x2="106.7" y2="550.4" stroke="#222" stroke-width="0.7" />
<polygon points="106.7,548.5 107.8,550.9 105.6,550.9" fill="#222"/>
<line x1="39.8" y1="547.5" x2="39.8" y2="554.9" stroke="#222" stroke-width="0.7" />
<polygon points="39.8,556.8 38.7,554.4 40.9,554.4" fill="#222"/>
<path d="M15.4,569.5 L36.5,568.8 L37.5,594.2 L15.4,593.6 Z" fill="#3f4d66" stroke="none" stroke-width="0.4" opacity="1" stroke-linejoin="round"/>
<path d="M36.5,568.8 L62.5,567.2 Q63.6,567.2 63.6,568.2 L63.6,594.0 L37.5,594.6 Z" fill="#ededed" stroke="#cfcfcf" stroke-width="0.4" opacity="1" stroke-linejoin="round"/>
<rect x="37.2" y="580" width="9.5" height="14" fill="#c9c9c9" stroke="none" stroke-width="0.8" />
<rect x="47.5" y="580.5" width="8" height="13.5" fill="#d8d8d8" stroke="#bdbdbd" stroke-width="0.3" />
<rect x="49" y="583.5" width="5" height="3" fill="#9fa3a8" stroke="none" stroke-width="0.8" />
<line x1="41.5" y1="572" x2="41.5" y2="580" stroke="#888" stroke-width="0.5" />
<line x1="52" y1="574" x2="52" y2="580.5" stroke="#999" stroke-width="0.5" />
<circle cx="57.8" cy="590.5" r="0.6" fill="#d23"/>
<rect x="15.4" y="593.6" width="48.2" height="1.2" fill="#e4e4e4" stroke="none" stroke-width="0.8" />
<line x1="66.3" y1="581.3" x2="74.1" y2="581.3" stroke="#222" stroke-width="0.8" />
<polygon points="76.2,581.3 73.6,582.5 73.6,580.1" fill="#222"/>
<text x="81.0" y="573.8" font-size="6.6" fill="#222" stroke="#222" stroke-width="0.16">1. CD14<tspan dy="-1.9" font-size="3.6">−</tspan><tspan dy="1.9">/CD1c</tspan><tspan dy="-1.9" font-size="3.6">−</tspan></text>
<text x="81.0" y="582.6" font-size="6.6" fill="#f0a24a" stroke="#f0a24a" stroke-width="0.16">2. CD14<tspan dy="-1.9" font-size="3.6">low</tspan><tspan dy="1.9">/CD1c</tspan><tspan dy="-1.9" font-size="3.6">−</tspan></text>
<text x="81.0" y="591.4" font-size="6.6" fill="#7c5a9c" stroke="#7c5a9c" stroke-width="0.16">3. CD14<tspan dy="-1.9" font-size="3.6">high</tspan><tspan dy="1.9">/CD1c</tspan><tspan dy="-1.9" font-size="3.6">int</tspan></text>
<text x="81.0" y="600.0" font-size="6.6" fill="#5cb460" stroke="#5cb460" stroke-width="0.16">4. CD14<tspan dy="-1.9" font-size="3.6">low</tspan><tspan dy="1.9">/CD1c</tspan><tspan dy="-1.9" font-size="3.6">+</tspan></text>
<line x1="159.8" y1="545.8" x2="159.8" y2="482.7" stroke="#222" stroke-width="1" />
<polygon points="159.8,479.2 161.6,483.2 158,483.2" fill="#222"/>
<line x1="159.4" y1="545.8" x2="415.5" y2="545.8" stroke="#222" stroke-width="1" />
<polygon points="419,545.8 415,547.6 415,544" fill="#222"/>
<text x="154.8" y="511.7" font-size="6.2" fill="#333" text-anchor="middle" textLength="11.4" lengthAdjust="spacingAndGlyphs" transform="rotate(-90 154.8 511.7)" stroke="#333" stroke-width="0.16">CD14</text>
<text x="289" y="554.6" font-size="6.2" fill="#333" text-anchor="middle" textLength="11.4" lengthAdjust="spacingAndGlyphs" stroke="#333" stroke-width="0.16">CD1c</text>
<text x="171.3" y="474.7" font-size="6.4" fill="#222" textLength="43.3" lengthAdjust="spacingAndGlyphs" stroke="#222" stroke-width="0.16">1. CD14<tspan dy="-1.9" font-size="3.6">−</tspan><tspan dy="1.9">/CD1c</tspan><tspan dy="-1.9" font-size="3.6">−</tspan><tspan dy="1.9"></tspan></text>
<text x="233.7" y="474.7" font-size="6.4" fill="#f0a24a" textLength="48" lengthAdjust="spacingAndGlyphs" stroke="#f0a24a" stroke-width="0.16">2. CD14<tspan dy="-1.9" font-size="3.6">low</tspan><tspan dy="1.9">/CD1c</tspan><tspan dy="-1.9" font-size="3.6">−</tspan><tspan dy="1.9"></tspan></text>
<text x="294" y="474.7" font-size="6.4" fill="#7c5a9c" textLength="52.7" lengthAdjust="spacingAndGlyphs" stroke="#7c5a9c" stroke-width="0.16">3. CD14<tspan dy="-1.9" font-size="3.6">high</tspan><tspan dy="1.9">/CD1c</tspan><tspan dy="-1.9" font-size="3.6">int</tspan><tspan dy="1.9"></tspan></text>
<text x="358.1" y="474.7" font-size="6.4" fill="#5cb460" textLength="49.7" lengthAdjust="spacingAndGlyphs" stroke="#5cb460" stroke-width="0.16">4. CD14<tspan dy="-1.9" font-size="3.6">low</tspan><tspan dy="1.9">/CD1c</tspan><tspan dy="-1.9" font-size="3.6">+</tspan><tspan dy="1.9"></tspan></text>
<path d="M174,497C174.3,491.4 177.3,492.8 180,491.5C182.7,490.2 186.2,489.4 190,489C193.8,488.6 199,488.6 203,488.8C207,489.1 211.1,489.6 214,490.5C216.9,491.4 219,492.4 220.5,494.5C222,496.6 222.6,499.6 223,503C223.4,506.4 223.1,511 222.8,515C222.6,519 222.5,523.8 221.5,527C220.5,530.2 219.4,532.5 217,534C214.6,535.5 210.7,535.8 207,536C203.3,536.2 198.5,536 195,535.5C191.5,535 188.8,534.8 186,533C183.2,531.2 180,531 178,525C176,519 173.7,502.6 174,497Z" fill="#f6f6fd" stroke="#7a7ad4" stroke-width="0.5" opacity="1"/>
<path transform="scale(.1)" d="M1816 4902h0M1980 4894h0M2206 5281h0M2020 5363h0M1982 5370h0M2221 5126h0M1752 4931h0M2215 4984h0M2048 4884h0M2243 5019h0M2018 5351h0M1841 4904h0M2014 4893h0M2080 5360h0M1764 4931h0M1929 5342h0M2177 5355h0M1783 5289h0M1747 4955h0M2108 5351h0M1879 4892h0M2102 4893h0M1783 4922h0M2022 5354h0M1885 4892h0M1833 5294h0M2178 4929h0M2239 5075h0M1863 5325h0M2110 4896h0M1985 4891h0M1966 5359h0M1752 4971h0M2222 5194h0M2195 4941h0M2093 4900h0M2161 4906h0M1897 4896h0M2166 4922h0M2220 5012h0M1749 4941h0M2086 4900h0M1726 4955h0M2208 4959h0M2191 5318h0M2190 4939h0M1936 5364h0M2227 5128h0M2147 4904h0M2221 5291h0M1819 5294h0M2164 5346h0M1933 4884h0M1900 5336h0M1808 5272h0M1940 5349h0M2214 4976h0M2190 4913h0M1777 4932h0M2098 5353h0M1756 4956h0M2186 5308h0M1919 5348h0M1767 5133h0M2189 5346h0M2143 5351h0M2221 5196h0M1976 5354h0M2243 5149h0M2214 4965h0M2233 5058h0M1942 5360h0M1854 4888h0M1758 5069h0M1813 4903h0M1971 4883h0M2165 5339h0M2107 5354h0M2237 5014h0M1993 5355h0M1884 4900h0M1829 4893h0M1734 4952h0M2063 5366h0M1927 5346h0M2201 5297h0M1783 5247h0M1993 4896h0M2227 5126h0M2187 5300h0M2225 5065h0M2225 5166h0M2232 5139h0M2065 5363h0M1755 4994h0M1756 5057h0M2104 4896h0M1902 4888h0M2106 5359h0M1778 5205h0M2140 5348h0M1810 5279h0M1791 4920h0M2227 5117h0M2235 4988h0M1777 4921h0M1802 4928h0M2221 5005h0M2023 4882h0M1815 4905h0M1809 4913h0M2219 5199h0M2140 4905h0M1873 5332h0M2187 5330h0M1822 4897h0M1913 4891h0M1777 4938h0M2223 5271h0M2212 4964h0M2021 5355h0M1877 5342h0M1947 5352h0M2225 5150h0M1758 5253h0M2215 5231h0M2081 4893h0M1804 5264h0M1809 5289h0M2118 4903h0M2081 5355h0M1793 4922h0M1980 4890h0M1734 4965h0M2020 5355h0M1744 4991h0M2035 4888h0M1897 5340h0M2218 5189h0M1796 4923h0M1930 5355h0M2212 5250h0M2016 4881h0M2219 4989h0M2225 5116h0M2021 4884h0M1796 4915h0M2228 5089h0M1750 5104h0M2047 4894h0M2153 4919h0M1769 5142h0M2214 4967h0M2026 5365h0M1885 4896h0M1768 5156h0M2202 5302h0M1807 4900h0M2014 4881h0M2241 5165h0M2001 5356h0M1748 5011h0M1999 4892h0M2226 5115h0M2242 5001h0M2228 5046h0M2223 5176h0M1787 4914h0M2218 5027h0M2208 5283h0M2224 5017h0M2228 5145h0M2143 5356h0M2219 5207h0M2075 5362h0M2187 4920h0M2156 5342h0M2054 4890h0M2071 4894h0M2034 5365h0M2228 5064h0M2198 4931h0M2182 5317h0M2197 4935h0M1957 5371h0M1967 4883h0M2038 4892h0M2222 5073h0M2005 5353h0M2209 4941h0M1781 5254h0M2244 5055h0M2134 4894h0M1910 4898h0M1772 5147h0M2004 4886h0M2232 5086h0M2059 5362h0M1962 4889h0M2195 5293h0M1807 5299h0M2119 4893h0M1941 5348h0M2185 4923h0M2204 5278h0M2119 5358h0M1958 4880h0M2211 5239h0M1961 4892h0M1940 4879h0M1769 5136h0M2121 4897h0M2202 5309h0M1805 4911h0M1775 4922h0M2094 5355h0M2183 5324h0M2052 5375h0M2185 4918h0M2141 5346h0M2011 4880h0M2079 4893h0M2211 4949h0M1897 4889h0M1970 5356h0M1959 4894h0M2058 4892h0M1789 4923h0M2009 4890h0M1784 4933h0M1788 4921h0M1759 4947h0M1790 4925h0M2143 4908h0M2227 5077h0M2096 4905h0M2127 5342h0M1752 4950h0M1775 5196h0M1789 4936h0M1753 5103h0M2197 4949h0M2244 5021h0M2051 4887h0M2077 5352h0M2073 5357h0M2013 4879h0M1946 5356h0M2229 5121h0M2103 5360h0M1860 5335h0M1950 4899h0M2075 5371h0M2054 5373h0M1787 5251h0M2202 5299h0M2184 4933h0M2134 4900h0M1781 5235h0M2060 4892h0M1903 5350h0M2109 4900h0M1765 4931h0M2247 5036h0M2133 5347h0M1933 4886h0M2215 4984h0M2230 5182h0M1782 4931h0M1781 4940h0M2157 5346h0M1851 4904h0M2170 5347h0M2206 5282h0M2037 5372h0M2227 5140h0M1981 5367h0M2021 4892h0M1975 5345h0M2203 4948h0M2070 4892h0M1919 5337h0M2217 4989h0M1763 4947h0M1796 5263h0M2217 4975h0M2147 4906h0M1947 5373h0M1930 5351h0M1783 4918h0M2089 4897h0M2241 5008h0M1754 5090h0M2156 4919h0M1899 5350h0M2220 5213h0M2203 4934h0M2169 4912h0M2226 5158h0M1899 4891h0M2207 4971h0M2232 5142h0M1778 4918h0M2220 5265h0M1835 5303h0M2224 5028h0M1941 4876h0M1739 4972h0M1789 5264h0M1992 4895h0M2108 4895h0M2048 5365h0M2209 4965h0M1805 5261h0M1851 5324h0M1979 4889h0M2160 5345h0M2045 4896h0M2024 4884h0M1976 4891h0M1869 5337h0M2248 5054h0M2158 5339h0M2044 4894h0M1745 4960h0M1854 5334h0M2063 5371h0M2229 5152h0M1756 5065h0M1781 4925h0M1898 4891h0M2139 5351h0M2162 5336h0M1745 4983h0M2217 5192h0M1876 5343h0M2218 4993h0M2104 4902h0M2042 4893h0M1955 4884h0M2153 4918h0M2231 5036h0M2147 5343h0M1814 4917h0M1950 4883h0M2243 5072h0M2177 4919h0M1786 5254h0M2224 5009h0M2223 5267h0M2215 5265h0M1836 4908h0M1847 5322h0M2229 4997h0M1996 5353h0M1778 4916h0M1915 4897h0M1836 5309h0M1801 4928h0M1921 5355h0M2167 4920h0M1794 4912h0M2227 5102h0M2201 4957h0M2236 5062h0M1772 5235h0M2095 4892h0M2094 4900h0M1752 5028h0M2192 4938h0M1752 4945h0M2052 5358h0M1895 5338h0M1768 4946h0M1739 5072h0M2223 5028h0M2155 5341h0M2135 4908h0M2188 4935h0M2215 4957h0" stroke="#6a6ad0" stroke-width="5.5" stroke-linecap="round" opacity="0.5" fill="none"/>
<path transform="scale(.1)" d="M1992 4977h0M2207 5188h0M2029 5332h0M1849 5007h0M1897 5237h0M2201 5221h0M1895 4949h0M1880 4991h0M1986 5128h0M1797 4987h0M2171 5219h0M1960 5069h0M2135 5213h0M1954 5069h0M2007 5282h0M2087 4929h0M1755 5057h0M1882 5255h0M2038 4954h0M1946 5160h0M1975 5010h0M2078 5021h0M2227 5067h0M1986 5267h0M1912 5313h0M2011 5144h0M1856 5044h0M1998 5275h0M2056 5000h0M1861 5084h0M2085 5175h0M1969 4939h0M2150 4959h0M1918 4993h0M2146 4986h0M2138 5148h0M2039 5240h0M1910 4974h0M2103 5186h0M1945 4975h0M1819 5099h0M2072 5030h0M1854 5241h0M2085 5125h0M1779 5208h0M1968 5248h0M2129 4955h0M1883 5152h0M1790 4967h0M2092 4913h0M1861 4951h0M2183 5224h0M2111 5275h0M1849 5274h0M1915 5072h0M1779 5020h0M1926 5272h0M1983 5018h0M2037 5030h0M2139 5045h0M1845 5071h0M2026 5192h0M1875 5145h0M2060 4992h0M1892 5091h0M2130 4951h0M1871 5314h0M1997 4890h0M2006 5348h0M1991 5260h0M2143 4954h0M1782 5212h0M1935 5247h0M1949 5152h0M2006 5229h0M2033 4914h0M1878 5226h0M1758 5085h0M2071 4991h0M2008 4909h0M1802 4924h0M1987 5074h0M2124 5224h0M1976 5356h0M2002 5179h0M2131 4966h0M2224 5061h0M1808 5257h0M1894 5245h0M1984 5216h0" stroke="#6a6ad0" stroke-width="5.5" stroke-linecap="round" opacity="0.5" fill="none"/>
<path transform="scale(.1)" d="M1944 4946h0M2100 4969h0M1993 5277h0M1866 5060h0M1838 5029h0M2082 5292h0M1858 4972h0M2155 5220h0M2145 4981h0M2151 5276h0M1876 5064h0M1973 4952h0M2123 4976h0M1903 5109h0M1872 4972h0M2166 5106h0M1876 4979h0M2052 4936h0M2132 5286h0M2024 4954h0M2069 4961h0M1903 4969h0M2157 5213h0M2148 5251h0M1935 5154h0M2176 5136h0M2113 5285h0M2030 5295h0M2166 5025h0M1927 4948h0M1844 5010h0M2044 5300h0M2169 5163h0M2155 5020h0M2181 5077h0M2044 4955h0M2171 5104h0M2144 5246h0M1851 4981h0M2152 5016h0M1819 4997h0M2165 5194h0M1973 5240h0M2168 5154h0M1923 4958h0M2051 5297h0M2068 4955h0M2160 5036h0M1948 5186h0M2176 5197h0M2087 4964h0M2099 4974h0M2062 5310h0M1989 5277h0M2120 5280h0M1826 4999h0M1912 5129h0M1853 4996h0M1977 5239h0M1993 5260h0M2093 5296h0M1943 5169h0M2043 5299h0M1846 5030h0M2075 5317h0M2165 5204h0M2124 5281h0M1970 4947h0M1961 5192h0M1872 5073h0M1941 4946h0M2099 4959h0M1959 5195h0M1921 5136h0M2151 5266h0M1856 5043h0M2026 4956h0M1964 4940h0M1829 4993h0M1889 5092h0M2177 5119h0M2160 5207h0M1895 4969h0M2088 4954h0M1896 4973h0M2118 5276h0M1996 5291h0M2076 5300h0M1954 4951h0M1861 5051h0M1835 5016h0M2015 4953h0M1842 5007h0M1981 4956h0M2087 4965h0M1871 4965h0M1849 5045h0M1954 4959h0M2044 5297h0M1892 4962h0M1917 4968h0M2148 5241h0M2133 4969h0M1943 4949h0M1932 4955h0M2040 5297h0M2173 5050h0M2102 5288h0M2074 4949h0M2059 4953h0M1881 5083h0M2003 5291h0M1850 4994h0M1874 5065h0M2147 5259h0M1921 4963h0M2171 5007h0M2074 5303h0M1859 5054h0M2010 4945h0M1918 5128h0M1854 5045h0M2155 5230h0M2103 4964h0M2171 5122h0M1872 5063h0M1994 5278h0M2148 4962h0M1909 4967h0M2098 5288h0M1851 5047h0M2026 4955h0M1999 5297h0M1834 5010h0M2138 4991h0M1974 4954h0M2191 5160h0M2166 5047h0M1843 5012h0M1961 5207h0M2156 5224h0M2142 4978h0M2031 5309h0M2163 5174h0M2162 5031h0M1978 5238h0M2108 4970h0M2080 4949h0M1938 4948h0M2175 5020h0M2062 5301h0M2057 4957h0M1941 4955h0M2127 4979h0M2159 5261h0M2130 5273h0M2054 5300h0M1905 4954h0M2136 5255h0M1993 5279h0M2144 5254h0M2073 5303h0M1931 5171h0M2036 5297h0M1899 5103h0M2183 5127h0M1952 5186h0M2144 4990h0M2149 5002h0M1872 5070h0" stroke="#6b6bd0" stroke-width="5.5" stroke-linecap="round" opacity="0.5" fill="none"/>
<path transform="scale(.1)" d="M1926 5115h0M1934 5117h0M1986 5321h0M1961 5314h0M2029 5136h0M1937 5306h0M1958 5315h0M2035 5142h0M1930 5119h0M1906 5137h0M2044 5295h0M2008 5317h0M1919 5260h0M1912 5179h0M1919 5294h0M2058 5181h0M2024 5134h0M1971 5312h0M2011 5132h0M1917 5110h0M2017 5135h0M2075 5236h0M1942 5091h0M2062 5243h0M2033 5148h0M1906 5234h0M2058 5157h0M2013 5320h0M1941 5307h0M1975 5111h0M1959 5112h0M1936 5314h0M1991 5311h0M1981 5318h0M1943 5095h0M1938 5304h0M2043 5159h0M1955 5106h0M1916 5278h0M2025 5320h0M1929 5281h0M2008 5125h0M1925 5280h0M1933 5119h0M1906 5204h0M1949 5310h0M2050 5151h0M2067 5276h0M2005 5324h0M1991 5316h0M1966 5101h0M2063 5262h0M1922 5118h0M2004 5319h0M2066 5195h0M1912 5183h0M1913 5255h0M1892 5197h0M2069 5273h0M1964 5109h0" stroke="#5a5ac8" stroke-width="5.5" stroke-linecap="round" opacity="0.6" fill="none"/>
<path transform="scale(.1)" d="M1987 5233h0M1953 5305h0M2022 5269h0M1978 5285h0M2022 5232h0M1922 5202h0M2060 5225h0M1966 5240h0M1928 5176h0M2030 5206h0M1988 5202h0M1918 5233h0M1984 5166h0M2054 5239h0M1991 5290h0M2015 5187h0M1978 5313h0M2041 5194h0M1953 5209h0M1938 5248h0M2004 5204h0M1982 5177h0M2016 5284h0M1913 5241h0M2007 5287h0M2023 5159h0M2020 5238h0M1990 5156h0M2056 5279h0M2031 5157h0M1932 5145h0M1966 5178h0M2024 5191h0M1968 5293h0M1985 5249h0M2041 5242h0M1932 5116h0M1988 5129h0M1986 5181h0M1931 5251h0M2014 5236h0M1989 5248h0M2047 5221h0M1977 5167h0M1941 5285h0M1934 5165h0M2035 5280h0M2052 5236h0M1988 5210h0M1994 5263h0M1952 5300h0M1980 5113h0M1921 5248h0M1909 5177h0M2031 5147h0M1969 5163h0M1961 5240h0M2018 5247h0M2050 5232h0M2007 5258h0M1980 5154h0M1962 5226h0M1931 5122h0M2027 5180h0M2017 5152h0M1925 5201h0M2009 5131h0M2017 5262h0M2015 5197h0M1949 5159h0M1996 5169h0M2006 5166h0M2004 5223h0M2019 5308h0M1993 5174h0M1983 5237h0M1939 5168h0M1934 5271h0M2055 5236h0M1954 5126h0M1984 5250h0M1956 5170h0M2015 5290h0M2040 5213h0M1915 5207h0M1925 5278h0M1918 5186h0M2001 5229h0M1962 5108h0M1966 5247h0M1974 5308h0M2006 5200h0M1910 5130h0M1949 5296h0M2052 5204h0M1945 5151h0M1992 5233h0M1949 5267h0M1973 5151h0M1926 5253h0M2022 5308h0M1963 5167h0M2044 5167h0M1966 5254h0M1926 5179h0M2001 5287h0M1948 5253h0M1995 5216h0M2010 5153h0M2006 5235h0M1916 5170h0M1954 5169h0M1980 5242h0M2063 5201h0M1921 5238h0M1982 5112h0M1914 5193h0M1921 5130h0M1941 5253h0M2020 5151h0M1940 5304h0M1911 5236h0M2025 5171h0M2052 5275h0M1951 5204h0M2021 5295h0M1910 5225h0M2043 5240h0M1957 5209h0M1918 5200h0M1920 5119h0M1914 5189h0M2042 5226h0M1983 5163h0M1973 5144h0M1945 5270h0M1937 5114h0M1980 5155h0M1922 5137h0M1923 5168h0M2016 5229h0M1918 5205h0M2059 5277h0M1911 5220h0M2062 5214h0M2004 5193h0M1941 5144h0M2038 5189h0M2046 5278h0M1991 5282h0M1976 5129h0M2029 5156h0M2035 5267h0M1935 5259h0M2052 5216h0M1971 5177h0M1963 5107h0M1969 5249h0M2039 5184h0M2042 5219h0M1953 5255h0M1982 5112h0M1971 5156h0M1962 5248h0M2019 5227h0M1935 5129h0M1977 5164h0M1990 5150h0M1989 5289h0M2005 5226h0" stroke="#5a5ac8" stroke-width="5.5" stroke-linecap="round" opacity="0.6" fill="none"/>
<path d="M193.6,515.4C194.2,514 196.2,514.5 197.4,514.7C198.6,514.9 199.9,515.7 200.9,516.6C201.9,517.6 203,519 203.3,520.4C203.6,521.8 203.3,523.9 202.8,525.2C202.2,526.4 201,527.5 199.9,527.8C198.7,528 196.7,527.6 195.7,526.7C194.7,525.9 194,524.6 193.7,522.7C193.3,520.8 193,516.7 193.6,515.4Z" fill="none" stroke="#7272d0" stroke-width="0.35" opacity="0.8"/>
<path d="M196.5,519.1C196.7,518.7 197.4,518.8 197.8,518.8C198.2,518.9 198.6,519.2 199,519.6C199.3,519.9 199.6,520.3 199.7,520.8C199.8,521.3 199.8,522 199.6,522.4C199.4,522.8 199,523.1 198.6,523.1C198.2,523.2 197.6,523.2 197.2,522.9C196.9,522.7 196.6,522.2 196.5,521.6C196.4,521 196.3,519.6 196.5,519.1Z" fill="none" stroke="#7272d0" stroke-width="0.35" opacity="0.8"/>
<path d="M204.6,497.5L204.8,498.5L204.5,499.4L203.5,500.3L202.1,500.9L200.5,501.4L198.8,501.6L197.1,501.8L195.5,501.9L194,502L192.4,502.1L190.6,502.2L188.8,502L187,501.7L185.6,501L184.6,500.2L184.2,499.3L184.2,498.4L184.5,497.5L185,496.7L185.5,495.9L186,495.2L186.6,494.4L187.5,493.6L188.7,492.9L190.2,492.3L192.1,492L194,492L195.8,492.3L197.4,492.9L198.6,493.5L199.7,494.1L200.7,494.7L201.8,495.3L202.9,495.9L203.9,496.6Z" fill="none" stroke="#7070d0" stroke-width="0.35" opacity="0.6" stroke-linejoin="round"/>
<path d="M201.5,497.5L201.4,498.2L201.1,498.8L200.5,499.4L199.6,499.8L198.5,500.2L197.4,500.5L196.4,500.8L195.3,501.1L194,501.4L192.6,501.5L191.2,501.3L190.1,500.9L189.1,500.4L188.4,499.9L187.6,499.3L187,498.8L186.6,498.2L186.6,497.5L186.8,496.9L187.3,496.3L187.8,495.7L188.3,495.1L189,494.5L190,494.1L191.3,493.8L192.7,493.8L194,493.9L195.2,494L196.4,494.2L197.7,494.3L199,494.5L200.1,495L200.8,495.5L201.2,496.2L201.4,496.8Z" fill="none" stroke="#7070d0" stroke-width="0.35" opacity="0.6" stroke-linejoin="round"/>
<path d="M199.7,497.5L199.8,498L199.6,498.5L199.2,499L198.6,499.4L197.8,499.7L196.8,499.9L195.8,500L194.9,500.1L194,500.1L193.1,500.1L192.2,500L191.2,499.9L190.2,499.7L189.4,499.4L188.8,499L188.4,498.5L188.3,498L188.3,497.5L188.6,497L189,496.6L189.4,496.2L189.9,495.8L190.5,495.4L191.2,495.1L192,494.8L193,494.6L194,494.5L195,494.6L196,494.8L196.8,495.1L197.4,495.4L198,495.8L198.6,496.2L199,496.6L199.4,497Z" fill="none" stroke="#7070d0" stroke-width="0.35" opacity="0.6" stroke-linejoin="round"/>
<path d="M216.8,513L216.8,514.9L216.6,516.7L216.2,518.2L215.9,519.6L215.6,521.3L215.3,523.1L214.8,524.6L214.2,525.1L213.5,524.5L213,523.2L212.5,521.8L212.1,520.8L211.7,520L211.3,519.2L210.9,518L210.7,516.4L210.6,514.7L210.6,513L210.4,511.2L210.3,509.2L210.3,506.9L210.6,504.9L211.1,503.7L211.8,503.2L212.4,503.3L213,503.3L213.5,503L214.1,502.7L214.6,502.9L215.1,503.8L215.5,505.3L215.7,507L215.9,508.4L216.2,509.8L216.6,511.2Z" fill="none" stroke="#7070d0" stroke-width="0.35" opacity="0.6" stroke-linejoin="round"/>
<path d="M215.8,513L215.9,514.4L215.8,515.8L215.7,517.1L215.3,518.1L215,518.8L214.6,519.5L214.3,520L213.9,520.5L213.5,520.6L213.1,520.2L212.8,519.5L212.5,518.7L212.2,517.9L212,517.3L211.6,516.5L211.4,515.5L211.2,514.3L211.2,513L211.3,511.7L211.4,510.4L211.5,509.2L211.6,507.9L211.9,506.7L212.3,505.9L212.7,505.7L213.1,505.8L213.5,506.1L213.9,506.3L214.2,506.6L214.6,506.9L214.9,507.6L215.1,508.5L215.3,509.6L215.4,510.7L215.6,511.8Z" fill="none" stroke="#7070d0" stroke-width="0.35" opacity="0.6" stroke-linejoin="round"/>
<ellipse cx="178.4" cy="524" rx="9" ry="13.2" fill="#bfcdf1" stroke="none" stroke-width="0.4" opacity="1" />
<ellipse cx="178.4" cy="524" rx="6.48" ry="9.5" fill="#8fcfe6" stroke="none" stroke-width="0.4" opacity="1" />
<ellipse cx="178.4" cy="524" rx="5.04" ry="7.39" fill="#66c36a" stroke="none" stroke-width="0.4" opacity="1" />
<ellipse cx="178.4" cy="524" rx="3.6" ry="5.28" fill="#e6e23c" stroke="none" stroke-width="0.4" opacity="1" />
<ellipse cx="178.4" cy="524" rx="2.34" ry="3.43" fill="#f39b33" stroke="none" stroke-width="0.4" opacity="1" />
<ellipse cx="178.4" cy="524" rx="1.26" ry="1.85" fill="#e2452d" stroke="none" stroke-width="0.4" opacity="1" />
<line x1="168.9" y1="480.4" x2="168.9" y2="539.5" stroke="#555" stroke-width="0.55" />
<line x1="168.9" y1="539.5" x2="224" y2="539.5" stroke="#555" stroke-width="0.55" />
<text x="167.9" y="483.4" font-size="2" fill="#555" text-anchor="end" stroke="#555" stroke-width="0.16">10³</text>
<line x1="168.2" y1="482.5" x2="168.9" y2="482.5" stroke="#777" stroke-width="0.3" />
<text x="167.9" y="495.4" font-size="2" fill="#555" text-anchor="end" stroke="#555" stroke-width="0.16">10²</text>
<line x1="168.2" y1="494.5" x2="168.9" y2="494.5" stroke="#777" stroke-width="0.3" />
<text x="167.9" y="511.9" font-size="2" fill="#555" text-anchor="end" stroke="#555" stroke-width="0.16">10¹</text>
<line x1="168.2" y1="511" x2="168.9" y2="511" stroke="#777" stroke-width="0.3" />
<text x="167.9" y="520.4" font-size="2" fill="#555" text-anchor="end" stroke="#555" stroke-width="0.16">−10¹</text>
<line x1="168.2" y1="519.5" x2="168.9" y2="519.5" stroke="#777" stroke-width="0.3" />
<text x="167.9" y="527.4" font-size="2" fill="#555" text-anchor="end" stroke="#555" stroke-width="0.16">−10²</text>
<line x1="168.2" y1="526.5" x2="168.9" y2="526.5" stroke="#777" stroke-width="0.3" />
<text x="175.4" y="542.9" font-size="2" fill="#555" text-anchor="middle" stroke="#555" stroke-width="0.16">−10¹ 0 10¹</text>
<text x="197.5" y="542.9" font-size="2" fill="#555" text-anchor="middle" stroke="#555" stroke-width="0.16">10²</text>
<text x="219" y="542.9" font-size="2" fill="#555" text-anchor="middle" stroke="#555" stroke-width="0.16">10³</text>
<polyline points="168.9,495.4 196.5,508 224,491.5" fill="none" stroke="#222" stroke-width="1" stroke-linejoin="round"/>
<line x1="196.5" y1="508" x2="196.5" y2="539.5" stroke="#222" stroke-width="1" />
<line x1="168.9" y1="510.4" x2="196.5" y2="515.4" stroke="#222" stroke-width="1" />
<path d="M237,503C237.9,500.5 240.7,500.3 243,500C245.3,499.7 249.2,499.7 251,501C252.8,502.3 253.6,505.2 254,508C254.4,510.8 253.8,514.8 253.5,518C253.2,521.2 253.4,525.2 252,527C250.6,528.8 247.2,529 245,529C242.8,529 240.2,529.3 239,527C237.8,524.7 237.8,519 237.5,515C237.2,511 236.1,505.5 237,503Z" fill="#f3f3fc" stroke="#6262ca" stroke-width="0.5" opacity="1"/>
<path transform="scale(.1)" d="M2407 5019h0M2373 5166h0M2548 5091h0M2492 4997h0M2524 5224h0M2447 5303h0M2404 5268h0M2417 5005h0M2454 4997h0M2425 5295h0M2446 5290h0M2404 5017h0M2535 5049h0M2424 4990h0M2470 5285h0M2488 5276h0M2407 5275h0M2383 5002h0M2400 5016h0M2531 5073h0M2399 5007h0M2525 5256h0M2378 5142h0M2490 5279h0M2542 5149h0M2403 5270h0M2535 5172h0M2482 5280h0M2468 5277h0M2399 5271h0M2500 5006h0M2376 5104h0M2469 5281h0M2397 5285h0M2455 5008h0M2434 5004h0M2526 5013h0M2506 5290h0M2417 5002h0M2535 5132h0M2461 5005h0M2533 5123h0M2379 5029h0M2413 5009h0M2530 5118h0M2525 5054h0M2391 5024h0M2515 5019h0M2437 5279h0M2529 5198h0M2478 5280h0M2489 4994h0M2448 5297h0M2533 5051h0M2544 5038h0M2510 5010h0M2507 5022h0M2520 5032h0M2381 5171h0M2390 5251h0M2422 5277h0M2436 5287h0M2517 5277h0M2394 5279h0M2538 5166h0M2414 5018h0M2524 5230h0M2402 5006h0M2542 5113h0M2537 5054h0M2526 5212h0M2509 5026h0M2427 4985h0M2525 5244h0M2370 5065h0M2541 5155h0M2363 5098h0M2542 5206h0M2487 5008h0M2530 5057h0M2403 5007h0M2393 5165h0M2356 5155h0M2369 5085h0M2386 5179h0M2526 5054h0M2526 5049h0M2513 5040h0M2457 5008h0M2489 5276h0M2369 5072h0M2543 5131h0M2425 5275h0M2526 5213h0M2390 5267h0M2506 5010h0M2533 5068h0M2535 5247h0M2426 5007h0M2522 5273h0M2408 5268h0M2473 5008h0M2430 5281h0M2477 5008h0M2463 5290h0M2537 5085h0M2499 5012h0M2413 5289h0M2370 5102h0M2561 5156h0M2416 5015h0M2533 5180h0M2523 5232h0M2404 5279h0M2483 5011h0M2370 5033h0M2523 5269h0M2528 5228h0M2391 5292h0M2525 5225h0M2417 5284h0M2488 5278h0M2384 5025h0M2420 5006h0M2484 5276h0M2364 5134h0M2499 5005h0M2388 5245h0M2519 5000h0M2414 5281h0M2380 5197h0M2380 5028h0M2527 5255h0M2527 5269h0M2526 5050h0M2382 5022h0M2382 5170h0M2545 5112h0M2477 5277h0M2397 5269h0" stroke="#6a6ad0" stroke-width="5.5" stroke-linecap="round" opacity="0.5" fill="none"/>
<path transform="scale(.1)" d="M2523 5065h0M2507 5087h0M2495 5102h0M2473 5178h0M2396 5146h0M2511 5184h0M2498 5085h0M2453 5054h0M2453 5042h0M2527 5081h0M2473 5155h0M2443 5259h0M2479 5223h0M2400 5047h0M2471 5025h0M2449 5151h0M2452 5181h0M2535 5108h0M2479 5222h0M2512 5124h0M2462 5213h0M2481 5223h0M2466 5068h0M2473 5148h0M2488 5133h0M2467 5216h0M2421 5107h0M2387 5123h0M2402 5178h0M2400 5100h0M2442 5272h0M2420 5148h0M2471 5198h0M2529 5170h0M2374 5069h0M2400 5214h0M2533 5135h0M2467 5078h0M2487 5073h0M2482 5093h0M2472 5264h0M2406 5167h0M2447 5153h0M2411 5152h0M2536 5139h0M2448 5048h0M2382 5175h0M2409 5221h0M2504 5134h0M2397 5258h0M2453 5153h0M2430 5122h0M2459 5225h0M2440 5162h0M2426 5056h0M2446 5060h0M2469 5219h0M2459 5133h0M2378 5135h0M2386 5089h0M2538 5115h0M2451 5254h0M2440 5062h0M2454 5135h0M2531 5121h0M2381 5093h0M2498 5225h0M2456 5066h0M2476 5035h0M2423 5238h0M2511 5030h0M2516 5167h0M2441 5192h0M2406 5053h0M2485 5276h0M2408 5162h0M2452 5009h0M2506 5044h0M2497 5064h0M2410 5213h0M2403 5062h0M2424 5274h0M2458 5141h0M2506 5204h0M2469 5181h0M2454 5200h0M2429 5134h0M2468 5026h0M2502 5045h0M2506 5095h0M2431 5198h0M2428 5237h0M2486 5251h0M2510 5101h0M2436 5034h0M2498 5222h0M2414 5056h0M2422 5144h0M2510 5121h0M2476 5135h0M2495 5070h0M2373 5037h0M2387 5218h0M2387 5132h0M2465 5202h0M2508 5107h0M2385 5232h0M2479 5129h0M2482 5108h0M2495 5213h0M2473 5083h0M2400 5273h0M2387 5175h0M2489 5203h0M2498 5206h0M2386 5105h0M2500 5236h0M2386 5025h0M2529 5125h0M2408 5264h0M2395 5136h0M2419 5164h0M2528 5074h0M2507 5125h0M2444 5175h0M2517 5172h0M2515 5205h0M2460 5263h0M2466 5160h0M2402 5251h0M2515 5080h0M2450 5035h0M2505 5157h0M2501 5266h0M2380 5137h0M2478 5178h0M2452 5047h0M2502 5258h0M2429 5165h0M2462 5101h0" stroke="#6a6ad0" stroke-width="5.5" stroke-linecap="round" opacity="0.5" fill="none"/>
<path d="M239.6,506.3C240.2,504.4 242,503.9 243.6,503.6C245.3,503.3 248.3,503.4 249.6,504.4C250.9,505.4 251.2,507.7 251.5,509.8C251.7,511.8 251.3,514.4 251.1,516.8C250.9,519.2 251.5,522.6 250.5,524C249.5,525.3 246.7,525 245.1,524.9C243.5,524.8 241.8,525 240.8,523.3C239.9,521.6 239.7,517.6 239.5,514.7C239.3,511.9 238.9,508.2 239.6,506.3Z" fill="none" stroke="#7272d0" stroke-width="0.35" opacity="0.8"/>
<path d="M241.4,508.6C241.8,507.5 243.2,507.8 244.4,507.6C245.5,507.4 247.3,507 248.2,507.7C249,508.3 249.2,509.9 249.4,511.3C249.6,512.6 249.5,514.5 249.4,516C249.3,517.4 249.3,519.4 248.6,520.2C247.9,521 246.3,520.7 245.3,520.7C244.2,520.8 242.9,521.4 242.3,520.3C241.8,519.3 242.1,516.4 241.9,514.4C241.8,512.5 241,509.8 241.4,508.6Z" fill="none" stroke="#7272d0" stroke-width="0.35" opacity="0.8"/>
<path d="M243.9,511.9C244,511.4 244.5,511.3 245,511.2C245.5,511.1 246.3,511 246.7,511.3C247,511.6 247,512.3 247.1,512.9C247.2,513.5 247.2,514.2 247.2,514.8C247.1,515.5 247.1,516.3 246.8,516.7C246.5,517 245.8,517.1 245.4,517.1C245,517 244.5,517 244.2,516.6C244,516.1 244,515 243.9,514.2C243.9,513.4 243.7,512.4 243.9,511.9Z" fill="none" stroke="#7272d0" stroke-width="0.35" opacity="0.8"/>
<path d="M262,502C263.3,499.8 267.2,499.4 270,499C272.8,498.6 276.7,498.5 279,499.5C281.3,500.5 283.2,502.4 284,505C284.8,507.6 284.3,512 283.5,515C282.7,518 281.1,521.3 279,523C276.9,524.7 273.3,525.3 271,525C268.7,524.7 266.5,523.2 265,521C263.5,518.8 262.5,515.2 262,512C261.5,508.8 260.7,504.2 262,502Z" fill="#f3f3fc" stroke="#6262ca" stroke-width="0.5" opacity="1"/>
<path transform="scale(.1)" d="M2695 5000h0M2626 5022h0M2836 5091h0M2829 5189h0M2636 4999h0M2784 4996h0M2701 5257h0M2792 5237h0M2826 5036h0M2671 5218h0M2746 4993h0M2749 5245h0M2804 5209h0M2696 5250h0M2686 4995h0M2854 5142h0M2624 5209h0M2826 5040h0M2623 5134h0M2846 5090h0M2702 5249h0M2660 5201h0M2646 5201h0M2837 5172h0M2782 4984h0M2846 5033h0M2790 5224h0M2794 5233h0M2678 5225h0M2660 5004h0M2844 5070h0M2721 5246h0M2617 5116h0M2830 5151h0M2605 5022h0M2654 5216h0M2659 5008h0M2832 5176h0M2629 5166h0M2837 5079h0M2681 5000h0M2746 5241h0M2802 5207h0M2844 5088h0M2633 5174h0M2672 5009h0M2659 5230h0M2707 5246h0M2722 4978h0M2760 5234h0M2674 5009h0M2613 5036h0M2818 5196h0M2832 5158h0M2632 5145h0M2779 5232h0M2787 5225h0M2633 5169h0M2624 5126h0M2796 4994h0M2616 5080h0M2627 5071h0M2644 5191h0M2613 5147h0M2747 4993h0M2634 5146h0M2750 5248h0M2736 5250h0M2802 5192h0M2630 5010h0M2756 4994h0M2790 5250h0M2760 5236h0M2763 5220h0M2802 5012h0M2827 5045h0M2803 5194h0M2840 5072h0M2731 4992h0M2731 4982h0M2641 5185h0M2745 5255h0M2622 5047h0M2631 5150h0M2839 5060h0M2799 5015h0M2703 5251h0M2745 5236h0M2716 4992h0M2735 4997h0M2830 5076h0M2840 5062h0M2656 5005h0M2816 5020h0M2839 5135h0M2719 4999h0M2820 5030h0M2752 4986h0M2728 5002h0M2757 5241h0M2709 4993h0M2681 5226h0M2679 4974h0M2618 5149h0M2626 5023h0M2618 5112h0M2827 5163h0M2693 5228h0M2822 5016h0M2602 5075h0M2727 5240h0M2793 5211h0M2841 5103h0M2821 5198h0M2844 5132h0M2638 5015h0M2833 5158h0M2732 5003h0M2666 5234h0M2615 5117h0M2648 5184h0M2772 5226h0M2679 5224h0M2836 5142h0M2768 5226h0M2640 5161h0M2634 5146h0M2625 5020h0M2610 5027h0M2827 5161h0M2627 5104h0M2741 4982h0M2635 5008h0M2663 5210h0M2833 5157h0M2705 5242h0M2628 5061h0M2834 5066h0M2660 5221h0M2607 5102h0M2785 5231h0M2610 5072h0M2685 5232h0M2807 5202h0M2629 5167h0M2620 5090h0M2826 5192h0M2837 5092h0M2736 5248h0M2660 5225h0" stroke="#6a6ad0" stroke-width="5.5" stroke-linecap="round" opacity="0.5" fill="none"/>
<path transform="scale(.1)" d="M2746 5140h0M2720 5158h0M2724 5113h0M2655 5025h0M2758 5013h0M2769 5130h0M2699 5189h0M2705 5098h0M2796 5115h0M2758 5068h0M2659 5154h0M2708 5054h0M2713 5055h0M2710 5183h0M2764 5156h0M2654 5156h0M2701 5230h0M2640 5119h0M2746 5240h0M2719 5096h0M2735 5195h0M2777 5083h0M2776 5117h0M2778 5117h0M2655 5038h0M2750 5191h0M2707 5199h0M2734 5237h0M2809 5016h0M2781 5074h0M2774 5209h0M2770 5207h0M2712 5088h0M2814 5175h0M2751 5211h0M2674 5080h0M2769 5182h0M2738 5180h0M2713 5138h0M2661 5125h0M2746 5179h0M2694 5150h0M2643 5178h0M2838 5057h0M2774 5146h0M2690 5072h0M2795 5216h0M2656 5041h0M2666 5006h0M2805 5110h0M2754 5232h0M2711 5177h0M2646 5131h0M2778 5054h0M2756 5020h0M2671 5140h0M2624 5069h0M2801 5028h0M2761 5051h0M2636 5060h0M2672 5144h0M2684 5146h0M2634 5079h0M2715 5224h0M2781 5099h0M2762 5183h0M2651 5160h0M2692 5120h0M2637 5106h0M2658 5110h0M2733 5053h0M2690 5158h0M2799 5152h0M2718 5211h0M2649 5097h0M2648 5148h0M2783 5051h0M2692 5176h0M2734 5047h0M2807 5191h0M2634 5144h0M2703 5098h0M2695 5038h0M2688 5164h0M2776 5067h0M2779 5058h0M2788 5196h0M2805 5173h0M2738 5113h0M2783 5232h0M2707 5025h0M2780 5225h0M2682 5176h0M2776 5116h0M2622 5036h0M2759 5204h0M2719 5038h0M2736 5115h0M2683 5042h0M2697 5036h0M2630 5133h0M2791 5064h0M2748 5078h0M2748 5106h0M2693 5162h0M2735 4997h0M2721 5046h0M2672 5139h0M2717 5144h0M2774 5059h0M2703 5167h0M2775 5111h0M2681 5123h0M2701 5134h0M2725 5150h0M2829 5053h0M2838 5088h0M2720 5044h0M2712 5172h0M2739 5094h0M2758 5058h0M2704 5016h0M2648 5201h0M2800 5065h0M2766 4999h0M2694 5135h0M2704 5181h0M2706 5049h0M2831 5046h0M2643 5179h0M2738 5162h0M2715 5082h0M2651 5149h0M2758 5151h0M2735 5103h0M2778 5075h0M2633 5129h0M2712 5147h0M2635 5153h0M2809 5075h0" stroke="#6a6ad0" stroke-width="5.5" stroke-linecap="round" opacity="0.5" fill="none"/>
<path d="M264.6,504.3C265.6,502.8 268.7,503 270.9,502.7C273,502.5 275.8,502.1 277.4,502.8C279.1,503.5 280.3,505.2 280.8,507.1C281.3,508.9 280.9,512 280.3,514.1C279.7,516.2 278.7,518.5 277.2,519.8C275.8,521 273.2,521.9 271.5,521.7C269.9,521.4 268.4,520 267.3,518.4C266.2,516.8 265.2,514.3 264.8,512C264.3,509.7 263.6,505.9 264.6,504.3Z" fill="none" stroke="#7272d0" stroke-width="0.35" opacity="0.8"/>
<path d="M267.8,507.2C268.4,506.2 270.3,506 271.6,505.9C272.9,505.8 274.6,505.9 275.7,506.4C276.7,506.9 277.6,507.7 277.9,508.9C278.3,510 278.2,512 277.8,513.4C277.4,514.7 276.7,516.2 275.8,517.1C274.8,517.9 273.1,518.4 272,518.3C270.9,518.2 269.9,517.3 269.2,516.3C268.5,515.2 268.1,513.5 267.9,512C267.7,510.5 267.1,508.3 267.8,507.2Z" fill="none" stroke="#7272d0" stroke-width="0.35" opacity="0.8"/>
<path d="M270.9,510.1C271.2,509.6 271.8,509.5 272.4,509.4C273,509.3 273.8,509.2 274.3,509.4C274.7,509.6 275.1,510 275.3,510.6C275.4,511.1 275.2,512 275.1,512.6C274.9,513.2 274.6,513.8 274.2,514.2C273.8,514.5 273.1,514.6 272.6,514.6C272.1,514.5 271.7,514.3 271.4,513.8C271.1,513.4 270.8,512.6 270.7,512C270.6,511.4 270.6,510.5 270.9,510.1Z" fill="none" stroke="#7272d0" stroke-width="0.35" opacity="0.8"/>
<path d="M240,493C240.8,490.8 243.8,487.1 247,485.5C250.2,483.9 254.8,483.7 259,483.5C263.2,483.3 268.2,483.6 272,484.5C275.8,485.4 279.8,486.9 281.5,489C283.2,491.1 283.4,494.7 282.5,497C281.6,499.3 279.2,501.6 276,503C272.8,504.4 267.3,505.3 263,505.5C258.7,505.7 253.5,505.1 250,504C246.5,502.9 243.7,500.8 242,499C240.3,497.2 239.2,495.2 240,493Z" fill="#eceffb" stroke="#6262ca" stroke-width="0.5" opacity="1"/>
<path transform="scale(.1)" d="M2755 4865h0M2633 4830h0M2483 5025h0M2482 5021h0M2473 4854h0M2514 5040h0M2690 5040h0M2587 5059h0M2797 4994h0M2396 4940h0M2669 4830h0M2825 4925h0M2470 5021h0M2816 4971h0M2662 5044h0M2475 5028h0M2787 4997h0M2458 5025h0M2758 4865h0M2581 4842h0M2815 4894h0M2703 4841h0M2411 4938h0M2495 5036h0M2493 5037h0M2725 5049h0M2571 4837h0M2490 5024h0M2592 4843h0M2454 5015h0M2393 4965h0M2412 4927h0M2617 5047h0M2640 4841h0M2561 4830h0M2570 5043h0M2551 4835h0M2804 4979h0M2476 5031h0M2795 4999h0M2760 4867h0M2410 4912h0M2784 5007h0M2425 4892h0M2796 5020h0M2795 4877h0M2458 5020h0M2718 5042h0M2430 4900h0M2421 4981h0M2403 4922h0M2589 4816h0M2827 4968h0M2494 5033h0M2651 4842h0M2779 5021h0M2820 4931h0M2800 5006h0M2446 4883h0M2554 4835h0M2697 4839h0M2781 4877h0M2408 4945h0M2752 4869h0M2411 4962h0M2401 4931h0M2493 5034h0M2612 5061h0M2635 5054h0M2807 4981h0M2823 4967h0M2402 4936h0M2811 4944h0M2422 4986h0M2768 4866h0M2574 5059h0M2490 5028h0M2614 4840h0M2727 4851h0M2816 4908h0M2560 4836h0M2785 4877h0M2429 5002h0M2507 5040h0M2708 4844h0M2666 5040h0M2399 4971h0M2646 5050h0M2779 5009h0M2519 4841h0M2533 5053h0M2461 5015h0M2773 4869h0M2458 5007h0M2461 5019h0M2404 4952h0M2384 4928h0M2545 5043h0M2403 4922h0M2460 5014h0M2777 5011h0M2606 5059h0M2404 4975h0M2722 5032h0M2622 4824h0M2763 5024h0M2448 4860h0M2515 5041h0M2711 5045h0M2689 4845h0M2462 5028h0M2429 4889h0M2506 5035h0M2816 4924h0M2420 5004h0M2729 5038h0M2821 4935h0M2616 4843h0M2821 4883h0M2537 5035h0M2560 5060h0M2748 4855h0M2811 4943h0M2828 4912h0M2835 4898h0M2406 4933h0M2519 4848h0M2717 4846h0M2777 5024h0M2473 4852h0M2527 5040h0M2626 4823h0M2452 5010h0M2610 4840h0M2616 4828h0M2811 4888h0M2411 5002h0M2415 4962h0M2427 4986h0M2577 5045h0M2434 5001h0M2659 5054h0M2740 5033h0M2815 4983h0M2723 5040h0M2501 5043h0M2822 4997h0M2559 5050h0M2831 4957h0M2816 4888h0M2702 5035h0M2587 4837h0M2673 5043h0M2767 5021h0M2673 5042h0M2779 4875h0M2731 4847h0M2758 4866h0M2432 5002h0M2449 5031h0" stroke="#6a6ad0" stroke-width="5.5" stroke-linecap="round" opacity="0.45" fill="none"/>
<path transform="scale(.1)" d="M2419 4972h0M2640 4857h0M2573 4901h0M2684 5041h0M2700 4862h0M2438 4965h0M2702 4917h0M2560 4897h0M2615 4891h0M2441 4916h0M2425 4993h0M2487 4897h0M2583 4994h0M2755 5017h0M2507 5015h0M2793 4961h0M2799 4977h0M2503 4884h0M2740 4878h0M2717 4867h0M2494 4899h0M2642 4984h0M2579 4930h0M2645 4957h0M2662 4918h0M2501 4956h0M2520 4878h0M2763 4967h0M2459 4989h0M2562 4902h0M2521 4914h0M2637 4936h0M2502 4890h0M2539 5026h0M2624 4982h0M2541 5045h0M2638 4882h0M2784 4959h0M2761 4918h0M2498 4893h0M2596 5008h0M2598 5043h0M2761 4931h0M2710 4977h0M2535 4878h0M2707 4894h0M2484 4883h0M2458 4935h0M2559 4930h0M2486 4934h0M2647 4857h0M2489 4877h0M2677 4916h0M2605 4973h0M2758 5007h0M2521 5041h0M2547 4926h0M2438 4944h0M2745 4987h0M2458 4916h0" stroke="#6a6ad0" stroke-width="5.5" stroke-linecap="round" opacity="0.45" fill="none"/>
<path d="M248.3,493.4C248.7,492 250.4,489.7 252.4,488.8C254.3,487.8 257.2,488 259.8,487.8C262.4,487.7 265.5,487.6 267.9,488.1C270.2,488.6 272.7,489.6 273.8,490.9C274.9,492.2 275.1,494.5 274.5,495.9C273.9,497.3 272.2,498.7 270.1,499.5C268.1,500.3 264.8,500.7 262.2,500.8C259.5,500.9 256.2,500.8 254.2,500.2C252.2,499.5 251,498 250,496.9C249.1,495.8 247.9,494.7 248.3,493.4Z" fill="none" stroke="#7272d0" stroke-width="0.35" opacity="0.8"/>
<path d="M256.8,493.8C256.9,493.4 257.7,492.7 258.3,492.4C258.9,492 259.8,491.9 260.6,491.8C261.4,491.8 262.4,491.9 263.2,492.1C264,492.3 264.9,492.6 265.2,493C265.5,493.4 265.3,494.1 265.1,494.6C265,495.1 264.7,495.5 264.1,495.8C263.4,496.1 262.3,496.4 261.4,496.4C260.5,496.4 259.6,496.2 258.9,495.9C258.2,495.7 257.7,495.3 257.4,495C257,494.6 256.6,494.2 256.8,493.8Z" fill="none" stroke="#7272d0" stroke-width="0.35" opacity="0.8"/>
<ellipse cx="259.6" cy="492.3" rx="14" ry="7.2" fill="#b9c8ef" stroke="none" stroke-width="0.4" opacity="1" />
<ellipse cx="259.6" cy="492.3" rx="11.48" ry="5.9" fill="#8fd2e6" stroke="none" stroke-width="0.4" opacity="1" />
<ellipse cx="259.6" cy="492.3" rx="8.4" ry="4.32" fill="#66c36a" stroke="none" stroke-width="0.4" opacity="1" />
<ellipse cx="259.6" cy="492.3" rx="5.88" ry="3.02" fill="#e6e23c" stroke="none" stroke-width="0.4" opacity="1" />
<ellipse cx="259.6" cy="492.3" rx="3.78" ry="1.94" fill="#f39b33" stroke="none" stroke-width="0.4" opacity="1" />
<ellipse cx="259.6" cy="492.3" rx="2.1" ry="1.08" fill="#e2452d" stroke="none" stroke-width="0.4" opacity="1" />
<line x1="232.6" y1="480.4" x2="232.6" y2="539.5" stroke="#555" stroke-width="0.55" />
<line x1="232.6" y1="539.5" x2="286.4" y2="539.5" stroke="#555" stroke-width="0.55" />
<text x="231.6" y="483.4" font-size="2" fill="#555" text-anchor="end" stroke="#555" stroke-width="0.16">10³</text>
<line x1="231.9" y1="482.5" x2="232.6" y2="482.5" stroke="#777" stroke-width="0.3" />
<text x="231.6" y="495.4" font-size="2" fill="#555" text-anchor="end" stroke="#555" stroke-width="0.16">10²</text>
<line x1="231.9" y1="494.5" x2="232.6" y2="494.5" stroke="#777" stroke-width="0.3" />
<text x="231.6" y="511.9" font-size="2" fill="#555" text-anchor="end" stroke="#555" stroke-width="0.16">10¹</text>
<line x1="231.9" y1="511" x2="232.6" y2="511" stroke="#777" stroke-width="0.3" />
<text x="231.6" y="520.4" font-size="2" fill="#555" text-anchor="end" stroke="#555" stroke-width="0.16">−10¹</text>
<line x1="231.9" y1="519.5" x2="232.6" y2="519.5" stroke="#777" stroke-width="0.3" />
<text x="231.6" y="527.4" font-size="2" fill="#555" text-anchor="end" stroke="#555" stroke-width="0.16">−10²</text>
<line x1="231.9" y1="526.5" x2="232.6" y2="526.5" stroke="#777" stroke-width="0.3" />
<text x="239.1" y="542.9" font-size="2" fill="#555" text-anchor="middle" stroke="#555" stroke-width="0.16">−10¹ 0 10¹</text>
<text x="263.5" y="542.9" font-size="2" fill="#555" text-anchor="middle" stroke="#555" stroke-width="0.16">10²</text>
<text x="281.4" y="542.9" font-size="2" fill="#555" text-anchor="middle" stroke="#555" stroke-width="0.16">10³</text>
<polyline points="232.6,495.4 262.5,508 286.4,491.5" fill="none" stroke="#222" stroke-width="1" stroke-linejoin="round"/>
<line x1="262.5" y1="508" x2="262.5" y2="539.5" stroke="#222" stroke-width="1" />
<line x1="232.6" y1="510.4" x2="262.5" y2="515.4" stroke="#222" stroke-width="1" />
<path d="M309,492C309.7,489.5 312.2,486.6 315,485C317.8,483.4 322.2,482.8 326,482.5C329.8,482.2 334.7,482.6 338,483.5C341.3,484.4 344.3,485.8 346,488C347.7,490.2 348.5,494.2 348,497C347.5,499.8 345.7,503.2 343,505C340.3,506.8 336.2,507.8 332,508C327.8,508.2 321.5,507.3 318,506C314.5,504.7 312.5,502.3 311,500C309.5,497.7 308.3,494.5 309,492Z" fill="#eceffb" stroke="#6262ca" stroke-width="0.5" opacity="1"/>
<path transform="scale(.1)" d="M3094 4931h0M3360 5069h0M3438 5040h0M3276 4811h0M3472 4931h0M3097 4937h0M3375 4835h0M3257 4808h0M3417 5045h0M3414 4860h0M3108 4903h0M3476 5015h0M3079 4936h0M3283 4829h0M3323 4822h0M3084 4975h0M3095 4972h0M3470 4982h0M3155 5060h0M3375 4841h0M3286 4820h0M3175 5054h0M3102 4967h0M3112 4895h0M3262 4826h0M3464 4914h0M3471 4916h0M3110 4981h0M3415 4859h0M3169 5046h0M3197 5078h0M3461 4891h0M3364 5079h0M3213 4826h0M3094 4931h0M3223 4819h0M3153 5034h0M3161 5035h0M3107 4979h0M3476 4964h0M3126 4998h0M3243 5066h0M3434 5031h0M3111 4896h0M3144 4846h0M3314 5076h0M3206 5073h0M3429 5048h0M3114 4898h0M3125 4879h0M3147 4857h0M3140 5036h0M3155 4845h0M3412 5070h0M3371 4838h0M3384 5056h0M3425 4844h0M3470 4998h0M3108 4985h0M3337 5069h0M3147 4845h0M3469 4928h0M3147 4856h0M3387 4843h0M3461 4907h0M3480 4955h0M3474 4929h0M3339 4840h0M3144 5039h0M3144 5024h0M3438 4870h0M3093 4935h0M3119 4887h0M3173 5063h0M3466 4990h0M3260 5072h0M3140 5028h0M3247 5081h0M3400 5061h0M3447 5013h0M3190 4830h0M3155 4847h0M3219 4836h0M3115 4896h0M3382 5067h0M3103 4896h0M3462 5003h0M3439 5022h0M3333 4833h0M3483 4984h0M3348 4834h0M3229 5070h0M3440 5019h0M3145 5026h0M3210 4832h0M3184 5057h0M3191 5057h0M3393 4851h0M3140 4852h0M3149 4845h0M3332 4825h0M3473 4912h0M3200 4840h0M3118 4896h0M3400 4851h0M3122 4889h0M3096 4903h0M3452 5047h0M3470 4973h0M3129 4872h0M3434 4860h0M3111 4996h0M3281 5069h0M3084 4963h0M3156 4853h0M3459 4880h0M3111 4989h0M3148 5041h0M3327 4829h0M3109 4986h0M3449 5016h0M3307 5066h0M3373 4831h0M3107 4900h0M3413 4850h0M3101 4961h0M3475 4958h0M3276 4818h0M3290 5082h0M3246 4820h0M3306 4826h0M3259 4810h0M3442 4872h0M3472 4945h0M3111 5015h0M3437 5035h0M3242 5068h0M3450 5024h0M3406 4853h0M3101 4965h0M3268 5068h0M3126 5013h0M3477 4919h0M3169 5055h0M3326 5069h0M3455 4881h0M3207 4842h0M3385 5065h0M3361 4839h0M3168 5046h0M3123 5015h0M3312 4826h0M3200 5058h0M3433 5043h0M3266 5069h0M3354 4833h0M3098 4909h0M3203 5061h0M3476 4962h0M3137 4861h0M3429 5062h0M3135 5021h0M3427 4864h0M3246 4829h0M3472 4944h0M3162 5067h0M3218 5060h0M3289 4831h0M3452 4858h0M3347 5067h0M3339 4833h0M3240 5067h0M3382 4834h0M3239 5065h0M3100 4903h0M3475 4895h0M3433 5056h0M3477 4984h0M3460 5000h0M3122 5008h0" stroke="#6a6ad0" stroke-width="5.5" stroke-linecap="round" opacity="0.45" fill="none"/>
<path transform="scale(.1)" d="M3457 4885h0M3289 4859h0M3339 4889h0M3351 5007h0M3306 4842h0M3134 4899h0M3235 5057h0M3370 4937h0M3155 4927h0M3217 4907h0M3226 4998h0M3419 4875h0M3309 4842h0M3314 4893h0M3388 4921h0M3377 4970h0M3223 5029h0M3247 4861h0M3197 4906h0M3405 5021h0M3455 4930h0M3410 4933h0M3353 4951h0M3392 5058h0M3191 4992h0M3448 4964h0M3163 5027h0M3327 4991h0M3150 4854h0M3117 4966h0M3438 5017h0M3202 4914h0M3434 4977h0M3174 4870h0M3344 5052h0M3343 4961h0M3323 5059h0M3369 4891h0M3127 4966h0M3324 5048h0M3398 4925h0M3431 5007h0M3276 5004h0M3363 5030h0M3431 5000h0M3161 4962h0M3320 4841h0M3463 4913h0M3388 4886h0M3366 4865h0M3158 4883h0M3227 4882h0M3276 4917h0M3154 4867h0M3177 5016h0M3352 5041h0M3304 4956h0M3197 5000h0M3227 5010h0M3247 4998h0" stroke="#6a6ad0" stroke-width="5.5" stroke-linecap="round" opacity="0.45" fill="none"/>
<path d="M316.6,493.2C317,491.7 318.7,490.1 320.4,489.1C322.1,488.2 324.5,487.5 326.8,487.3C329.1,487.1 332.1,487.3 334.2,487.9C336.2,488.5 338.1,489.4 339,490.7C339.8,492.1 339.8,494.5 339.4,496.1C339.1,497.8 338.3,499.8 336.8,500.8C335.3,501.9 332.9,502.5 330.4,502.7C327.9,502.9 323.8,502.7 321.7,501.9C319.6,501.1 318.5,499.5 317.6,498C316.8,496.6 316.1,494.7 316.6,493.2Z" fill="none" stroke="#7272d0" stroke-width="0.35" opacity="0.8"/>
<path d="M324.2,494.4C324.3,493.9 324.8,493.3 325.4,493C325.9,492.7 326.8,492.6 327.6,492.6C328.4,492.5 329.4,492.5 330,492.7C330.7,492.8 331.3,493.1 331.7,493.6C332,494 332,494.8 331.9,495.4C331.8,496 331.5,496.6 331,497C330.4,497.3 329.6,497.5 328.8,497.6C328,497.6 326.6,497.6 325.9,497.3C325.2,497 324.9,496.5 324.6,496C324.4,495.5 324.1,494.9 324.2,494.4Z" fill="none" stroke="#7272d0" stroke-width="0.35" opacity="0.8"/>
<path d="M329,500C330.2,498 333.5,497.7 336,497C338.5,496.3 341.9,495.2 344,496C346.1,496.8 347.8,499.3 348.5,502C349.2,504.7 348.6,508.8 348,512C347.4,515.2 346.5,519.1 345,521C343.5,522.9 341,524 339,523.5C337,523 334.7,520.4 333,518C331.3,515.6 329.7,512 329,509C328.3,506 327.8,502 329,500Z" fill="#f3f3fc" stroke="#6262ca" stroke-width="0.5" opacity="1"/>
<path transform="scale(.1)" d="M3287 5051h0M3311 5119h0M3317 4992h0M3410 5225h0M3291 5011h0M3475 5101h0M3314 4980h0M3336 4982h0M3300 5102h0M3385 5244h0M3331 4989h0M3480 5016h0M3466 5000h0M3491 4993h0M3315 5143h0M3333 5205h0M3404 5226h0M3442 5213h0M3355 5210h0M3332 5179h0M3350 5205h0M3461 4992h0M3291 5017h0M3297 5024h0M3478 5123h0M3370 5220h0M3310 5129h0M3316 4990h0M3472 5134h0M3484 5059h0M3463 4970h0M3405 4970h0M3483 5019h0M3489 5109h0M3286 5084h0M3479 5169h0M3313 5155h0M3305 4995h0M3339 4967h0M3291 5097h0M3487 5092h0M3477 5045h0M3477 5087h0M3485 5081h0M3345 4973h0M3472 5216h0M3473 5130h0M3338 5191h0M3303 5111h0M3279 4989h0M3453 4985h0M3388 4965h0M3447 4971h0M3479 5042h0M3456 5206h0M3346 4960h0M3311 4991h0M3325 5146h0M3295 5032h0M3289 5055h0M3310 4997h0M3316 5187h0M3475 5006h0M3481 5051h0M3324 5159h0M3327 5166h0M3461 4971h0M3482 5048h0M3317 5132h0M3320 4981h0M3431 5227h0M3390 5231h0M3480 5108h0M3481 5013h0M3479 4994h0M3433 4962h0M3485 5094h0M3481 5046h0M3292 5113h0M3301 4984h0M3446 4975h0M3293 5055h0M3292 5066h0M3482 5140h0M3476 5011h0M3491 5064h0M3487 5080h0M3291 5030h0M3489 5025h0M3298 5041h0M3355 5202h0M3320 5168h0M3288 5074h0M3326 5154h0M3493 5023h0M3293 5062h0M3380 4968h0M3439 5220h0M3296 5094h0M3404 4958h0M3461 4994h0M3340 5185h0M3393 5244h0M3392 4970h0M3388 4961h0M3445 5213h0M3309 5139h0M3291 5013h0M3394 4965h0M3477 5001h0M3428 5222h0M3499 5069h0M3447 5212h0M3403 5229h0M3297 5080h0M3485 5037h0M3486 5022h0M3485 5116h0M3479 5077h0M3318 5145h0M3384 5231h0M3484 5028h0M3481 5018h0M3484 5033h0M3460 4993h0M3302 5102h0M3325 4995h0M3323 5171h0M3341 4972h0M3458 5174h0M3358 5208h0M3445 4956h0M3455 4969h0M3403 4959h0M3430 5214h0M3455 5192h0M3361 5205h0M3356 4981h0M3303 5125h0M3449 4983h0" stroke="#6a6ad0" stroke-width="5.5" stroke-linecap="round" opacity="0.5" fill="none"/>
<path transform="scale(.1)" d="M3404 5175h0M3413 5051h0M3450 4991h0M3397 4998h0M3444 5116h0M3442 4998h0M3432 5179h0M3305 5032h0M3432 4986h0M3472 5076h0M3337 5008h0M3309 5093h0M3354 5000h0M3384 5130h0M3455 4988h0M3388 5000h0M3468 5004h0M3377 5134h0M3435 5054h0M3464 5061h0M3468 5050h0M3359 5143h0M3392 5066h0M3422 5167h0M3292 5003h0M3396 4983h0M3412 5004h0M3361 5009h0M3319 5100h0M3400 5063h0M3341 5066h0M3457 5045h0M3335 5017h0M3294 5063h0M3404 5149h0M3327 5083h0M3470 5090h0M3331 4992h0M3451 5141h0M3313 5141h0M3312 5081h0M3400 5082h0M3400 4980h0M3313 5028h0M3427 5075h0M3425 5132h0M3430 5209h0M3397 5058h0M3339 5140h0M3472 5142h0M3477 5107h0M3399 5048h0M3477 5072h0M3332 5055h0M3311 4998h0M3297 5091h0M3366 5121h0M3404 5147h0M3469 5050h0M3358 5112h0M3347 4986h0M3468 5045h0M3443 5071h0M3399 5222h0M3418 5176h0M3454 5062h0M3328 5054h0M3354 5127h0M3410 5010h0M3397 5075h0M3406 4965h0M3470 5026h0M3299 5070h0M3313 5042h0M3451 5165h0M3341 5139h0M3446 5152h0M3475 5074h0M3460 5084h0M3445 5115h0M3327 5069h0M3475 5119h0M3449 5151h0M3383 5037h0M3328 5103h0M3300 5030h0M3382 4969h0M3382 5124h0M3397 5023h0M3386 5085h0M3462 5041h0M3446 5073h0M3400 4991h0M3351 4976h0M3346 5119h0M3360 5073h0M3447 5124h0M3434 5047h0M3352 5161h0M3380 5004h0" stroke="#6a6ad0" stroke-width="5.5" stroke-linecap="round" opacity="0.5" fill="none"/>
<path d="M330.8,501.6C331.7,499.9 334.4,499.2 336.4,498.6C338.5,498.1 341.3,497.8 343,498.5C344.8,499.3 346.2,501.1 346.8,503.2C347.4,505.4 346.9,508.8 346.5,511.5C346,514.2 345.5,517.9 344.2,519.5C343,521.1 340.7,521.5 339,521C337.3,520.5 335.3,518.6 333.9,516.6C332.6,514.6 331.5,511.5 330.9,509C330.4,506.5 329.8,503.3 330.8,501.6Z" fill="none" stroke="#7272d0" stroke-width="0.35" opacity="0.85"/>
<path d="M332.4,503.1C333.2,501.7 335.3,501.2 336.9,500.7C338.6,500.2 341,499.5 342.4,500.1C343.9,500.7 345.2,502.3 345.6,504.1C346,506 345.5,508.9 345.1,511C344.7,513.2 344.1,515.9 343.1,517.2C342.1,518.4 340.3,518.9 339,518.6C337.7,518.2 336.1,516.5 335,515C334,513.4 332.9,511 332.5,509C332.1,507 331.7,504.5 332.4,503.1Z" fill="none" stroke="#7272d0" stroke-width="0.35" opacity="0.85"/>
<path d="M334,504.5C334.6,503.4 336.2,503.2 337.4,502.8C338.7,502.4 340.5,501.8 341.6,502.2C342.7,502.6 343.7,503.9 344.1,505.3C344.4,506.7 344.1,508.9 343.7,510.6C343.4,512.3 343,514.4 342.2,515.4C341.4,516.5 340,517.1 339,516.7C338,516.4 336.9,514.7 336,513.5C335.1,512.2 333.9,510.5 333.6,509C333.3,507.5 333.3,505.5 334,504.5Z" fill="none" stroke="#7272d0" stroke-width="0.35" opacity="0.85"/>
<path d="M335.4,505.8C335.8,505 337,504.9 337.9,504.7C338.8,504.5 340,504.2 340.7,504.5C341.5,504.8 342.1,505.6 342.3,506.6C342.5,507.5 342.3,508.9 342.1,510C341.9,511.1 341.6,512.4 341.1,513.1C340.6,513.9 339.7,514.5 339,514.4C338.3,514.2 337.5,513.1 336.9,512.2C336.3,511.3 335.5,510.1 335.3,509C335.1,507.9 335,506.5 335.4,505.8Z" fill="none" stroke="#7272d0" stroke-width="0.35" opacity="0.85"/>
<path d="M336.9,507.1C337.1,506.7 337.9,506.7 338.4,506.6C338.9,506.5 339.6,506.3 340,506.5C340.4,506.7 340.7,507.1 340.8,507.6C341,508.2 341,509 340.9,509.6C340.8,510.3 340.5,511 340.2,511.4C339.9,511.8 339.4,511.9 339,511.9C338.6,511.8 338.1,511.4 337.7,510.9C337.4,510.4 337.2,509.6 337.1,509C336.9,508.4 336.7,507.5 336.9,507.1Z" fill="none" stroke="#7272d0" stroke-width="0.35" opacity="0.85"/>
<path d="M302,508C303,504.7 306.3,503.8 309,503C311.7,502.2 315.4,502.3 318,503.5C320.6,504.7 323.3,507.2 324.5,510C325.7,512.8 325.8,517.1 325,520C324.2,522.9 322.5,526.2 320,527.5C317.5,528.8 312.8,528.8 310,528C307.2,527.2 304.3,526.3 303,523C301.7,519.7 301,511.3 302,508Z" fill="#f3f3fc" stroke="#6262ca" stroke-width="0.5" opacity="1"/>
<path transform="scale(.1)" d="M3162 5272h0M3048 5061h0M3121 5034h0M3194 5051h0M3020 5083h0M3077 5054h0M3021 5121h0M3045 5237h0M3088 5022h0M3057 5245h0M3240 5080h0M3196 5293h0M3081 5283h0M3002 5102h0M3083 5023h0M3005 5070h0M3208 5048h0M3248 5180h0M3165 5033h0M3238 5095h0M3075 5257h0M3135 5280h0M3220 5269h0M3036 5060h0M3109 5034h0M3244 5212h0M3024 5235h0M3049 5045h0M3228 5233h0M3249 5119h0M3110 5285h0M3022 5184h0M3229 5087h0M3258 5169h0M3217 5075h0M3151 5044h0M3218 5065h0M3208 5069h0M3238 5162h0M3125 5032h0M3257 5196h0M3187 5042h0M3255 5214h0M3091 5033h0M3203 5062h0M3192 5274h0M3080 5276h0M3096 5268h0M3037 5240h0M3129 5280h0M3242 5227h0M3255 5167h0M3164 5027h0M3224 5074h0M3057 5051h0M3235 5123h0M3121 5033h0M3133 5034h0M3203 5270h0M3019 5203h0M3190 5057h0M3155 5269h0M3145 5039h0M3007 5120h0M3244 5179h0M3240 5137h0M3251 5196h0M3052 5234h0M3087 5274h0M3130 5030h0M3232 5232h0M3227 5076h0M3223 5214h0M3127 5280h0M3160 5042h0M3212 5271h0M3047 5051h0M3249 5153h0M3123 5036h0M3098 5284h0M3212 5069h0M3020 5177h0M3139 5283h0M3025 5087h0M3183 5268h0M3047 5061h0M3220 5075h0M3221 5259h0M3060 5038h0M3222 5092h0M3150 5269h0M3082 5049h0M3156 5271h0M3118 5291h0M3111 5021h0M3135 5287h0M3065 5035h0M3248 5153h0M3126 5031h0M3018 5091h0M3106 5020h0M3230 5218h0M3051 5056h0M3115 5293h0M3157 5288h0M3109 5032h0M3144 5037h0M3131 5024h0M3203 5260h0M3050 5243h0M3199 5267h0M3057 5250h0M3248 5128h0M3056 5055h0M3227 5074h0M3051 5237h0M3203 5282h0M3076 5256h0M3168 5038h0M3044 5234h0" stroke="#6a6ad0" stroke-width="5.5" stroke-linecap="round" opacity="0.5" fill="none"/>
<path transform="scale(.1)" d="M3140 5098h0M3190 5229h0M3169 5035h0M3075 5115h0M3245 5195h0M3142 5198h0M3044 5201h0M3170 5082h0M3103 5134h0M3240 5123h0M3219 5115h0M3187 5275h0M3111 5196h0M3146 5167h0M3144 5241h0M3050 5244h0M3047 5069h0M3121 5056h0M3120 5252h0M3115 5050h0M3194 5161h0M3062 5115h0M3079 5170h0M3121 5097h0M3165 5252h0M3070 5065h0M3099 5167h0M3123 5183h0M3073 5161h0M3053 5176h0M3089 5232h0M3135 5043h0M3163 5110h0M3127 5053h0M3173 5098h0M3032 5144h0M3058 5148h0M3061 5085h0M3051 5075h0M3104 5174h0M3059 5073h0M3083 5251h0M3221 5192h0M3036 5082h0M3186 5101h0M3046 5110h0M3167 5219h0M3026 5142h0M3154 5081h0M3108 5099h0M3165 5083h0M3191 5198h0M3122 5123h0M3212 5082h0M3145 5044h0M3030 5150h0M3073 5098h0M3085 5063h0M3123 5104h0M3129 5065h0M3239 5113h0M3105 5034h0M3190 5119h0M3148 5052h0M3065 5103h0M3135 5134h0M3179 5247h0M3226 5106h0M3192 5246h0M3125 5175h0M3177 5153h0M3144 5275h0M3109 5041h0M3099 5069h0M3177 5146h0M3143 5223h0M3193 5077h0M3065 5059h0M3068 5188h0M3108 5264h0M3134 5101h0M3061 5169h0M3046 5169h0M3082 5205h0M3133 5140h0M3183 5043h0M3119 5121h0M3221 5156h0M3103 5179h0M3072 5215h0M3237 5167h0M3212 5238h0M3101 5261h0M3153 5215h0M3215 5083h0M3075 5240h0M3130 5079h0M3212 5124h0M3080 5190h0M3061 5178h0M3145 5166h0M3137 5168h0M3093 5077h0M3090 5075h0M3052 5141h0M3026 5165h0M3126 5211h0M3160 5268h0M3051 5167h0M3032 5212h0M3164 5217h0M3074 5065h0M3140 5134h0M3191 5124h0M3135 5033h0M3100 5227h0M3059 5170h0M3122 5096h0M3119 5150h0M3065 5091h0M3152 5124h0M3246 5169h0M3223 5235h0M3185 5102h0M3181 5185h0M3068 5149h0M3078 5253h0M3148 5054h0M3203 5157h0M3159 5123h0M3119 5078h0M3158 5113h0M3042 5076h0M3049 5191h0M3113 5057h0M3094 5212h0M3109 5053h0M3184 5147h0M3197 5248h0M3145 5038h0" stroke="#6a6ad0" stroke-width="5.5" stroke-linecap="round" opacity="0.5" fill="none"/>
<path d="M306.5,510.8C307.1,508.8 309,508.4 310.6,507.9C312.2,507.4 314.5,507.2 316.1,507.8C317.7,508.5 319.5,510.2 320.2,511.9C320.8,513.6 320.5,516.1 320.1,517.9C319.6,519.8 318.8,521.9 317.3,522.8C315.9,523.6 312.9,523.6 311.1,523.2C309.4,522.7 307.6,522 306.8,520C306,517.9 305.8,512.9 306.5,510.8Z" fill="none" stroke="#7272d0" stroke-width="0.35" opacity="0.8"/>
<path d="M310.9,513.7C311.1,513 311.6,512.6 312.2,512.5C312.7,512.3 313.4,512.5 314,512.8C314.5,513 315.1,513.4 315.4,514C315.6,514.5 315.5,515.4 315.3,516C315.2,516.6 314.9,517.3 314.4,517.5C313.9,517.8 313,517.7 312.4,517.6C311.8,517.4 311.2,517.3 311,516.6C310.7,516 310.7,514.4 310.9,513.7Z" fill="none" stroke="#7272d0" stroke-width="0.35" opacity="0.8"/>
<ellipse cx="325.8" cy="491.4" rx="10.6" ry="6.6" transform="rotate(-12 325.8 491.4)" fill="#b9d0ef" stroke="none" stroke-width="0.4" opacity="1" />
<ellipse cx="325.8" cy="491.4" rx="6.78" ry="4.22" transform="rotate(-12 325.8 491.4)" fill="#8fd2e6" stroke="none" stroke-width="0.4" opacity="1" />
<ellipse cx="325.8" cy="491.4" rx="5.3" ry="3.3" transform="rotate(-12 325.8 491.4)" fill="#66c36a" stroke="none" stroke-width="0.4" opacity="1" />
<ellipse cx="325.8" cy="491.4" rx="3.92" ry="2.44" transform="rotate(-12 325.8 491.4)" fill="#e6e23c" stroke="none" stroke-width="0.4" opacity="1" />
<ellipse cx="325.8" cy="491.4" rx="2.65" ry="1.65" transform="rotate(-12 325.8 491.4)" fill="#f39b33" stroke="none" stroke-width="0.4" opacity="1" />
<ellipse cx="325.8" cy="491.4" rx="1.48" ry="0.92" transform="rotate(-12 325.8 491.4)" fill="#e2452d" stroke="none" stroke-width="0.4" opacity="1" />
<line x1="297.1" y1="480.4" x2="297.1" y2="539.5" stroke="#555" stroke-width="0.55" />
<line x1="297.1" y1="539.5" x2="350.6" y2="539.5" stroke="#555" stroke-width="0.55" />
<text x="296.1" y="483.4" font-size="2" fill="#555" text-anchor="end" stroke="#555" stroke-width="0.16">10³</text>
<line x1="296.4" y1="482.5" x2="297.1" y2="482.5" stroke="#777" stroke-width="0.3" />
<text x="296.1" y="495.4" font-size="2" fill="#555" text-anchor="end" stroke="#555" stroke-width="0.16">10²</text>
<line x1="296.4" y1="494.5" x2="297.1" y2="494.5" stroke="#777" stroke-width="0.3" />
<text x="296.1" y="511.9" font-size="2" fill="#555" text-anchor="end" stroke="#555" stroke-width="0.16">10¹</text>
<line x1="296.4" y1="511" x2="297.1" y2="511" stroke="#777" stroke-width="0.3" />
<text x="296.1" y="520.4" font-size="2" fill="#555" text-anchor="end" stroke="#555" stroke-width="0.16">−10¹</text>
<line x1="296.4" y1="519.5" x2="297.1" y2="519.5" stroke="#777" stroke-width="0.3" />
<text x="296.1" y="527.4" font-size="2" fill="#555" text-anchor="end" stroke="#555" stroke-width="0.16">−10²</text>
<line x1="296.4" y1="526.5" x2="297.1" y2="526.5" stroke="#777" stroke-width="0.3" />
<text x="303.6" y="542.9" font-size="2" fill="#555" text-anchor="middle" stroke="#555" stroke-width="0.16">−10¹ 0 10¹</text>
<text x="327.5" y="542.9" font-size="2" fill="#555" text-anchor="middle" stroke="#555" stroke-width="0.16">10²</text>
<text x="345.6" y="542.9" font-size="2" fill="#555" text-anchor="middle" stroke="#555" stroke-width="0.16">10³</text>
<polyline points="297.1,495.4 326.5,508 350.6,491.5" fill="none" stroke="#222" stroke-width="1" stroke-linejoin="round"/>
<line x1="326.5" y1="508" x2="326.5" y2="539.5" stroke="#222" stroke-width="1" />
<line x1="297.1" y1="510.4" x2="326.5" y2="515.4" stroke="#222" stroke-width="1" />
<path d="M372,495C373.2,492.8 376,488.8 379,487C382,485.2 386.2,484.8 390,484.5C393.8,484.2 398.8,484.6 402,485.5C405.2,486.4 408.3,487.6 409.5,490C410.7,492.4 410.6,497.2 409,500C407.4,502.8 403.5,505.5 400,507C396.5,508.5 392,509.2 388,509C384,508.8 378.8,507.5 376,506C373.2,504.5 372.2,501.8 371.5,500C370.8,498.2 370.8,497.2 372,495Z" fill="#f4f4fc" stroke="#6262ca" stroke-width="0.5" opacity="1"/>
<path transform="scale(.1)" d="M3985 5078h0M3739 4925h0M3752 5063h0M3860 5084h0M3720 4951h0M3769 5074h0M3706 4959h0M3730 5011h0M3891 5084h0M3851 4858h0M3723 4959h0M3886 4838h0M3945 4843h0M3975 4854h0M3769 5063h0M4008 4850h0M3704 4958h0M4050 5025h0M3869 4856h0M4086 4948h0M3947 4851h0M4029 4863h0M3998 4844h0M3766 4885h0M3745 5036h0M3757 5052h0M4002 4854h0M3796 4875h0M3832 5081h0M3720 4967h0M3763 5062h0M3868 5081h0M4094 5016h0M4087 4972h0M4079 4893h0M3767 5052h0M4039 5033h0M3850 4863h0M3940 4844h0M3789 5063h0M4080 5007h0M4089 4935h0M3844 4860h0M3844 4865h0M4103 4954h0M3821 4862h0M3716 4984h0M4073 4864h0M3714 5008h0M3793 4868h0M4040 4843h0M4060 4871h0M4066 5030h0M3748 4930h0M3713 5005h0M3761 5049h0M4009 4860h0M4022 5058h0M3740 5052h0M3746 5019h0M4025 4859h0M3960 5086h0M3780 4874h0M3899 4850h0M4033 4860h0M3753 4915h0M3777 5067h0M3876 4863h0M3699 4995h0M3985 4845h0M4079 4993h0M3738 4938h0M3977 4861h0M4009 5069h0M4082 4911h0M3723 5012h0M3965 4847h0M4041 5026h0M3795 4868h0M3756 4910h0M3729 4929h0M3938 5079h0M3758 5063h0M3887 4830h0M3711 4959h0M3725 4961h0M4040 5036h0M3709 4990h0M4028 5067h0M3724 5017h0M3820 4871h0M3849 4828h0M3757 5064h0M3766 5058h0M4089 4969h0M3734 5020h0M3963 4856h0M3893 5085h0M3719 4967h0M3859 5084h0M3971 5069h0M3858 4856h0M3714 4949h0M4121 4940h0M3998 4854h0M3845 4859h0M3902 4825h0M4079 4882h0M3938 5076h0M4046 5036h0M3686 4990h0M3850 4858h0M4034 5048h0M4100 4988h0M3720 4950h0M3971 4840h0M3872 5086h0M4039 5065h0M3786 4864h0M3893 4851h0M3718 4992h0M4091 4971h0M3715 5012h0M3762 5052h0M4092 4905h0M4031 4846h0M3809 4866h0M4020 4843h0M3862 4851h0M3961 5093h0M3799 4853h0M4030 5056h0M3888 5077h0M3805 5071h0M4092 4953h0M3724 4990h0M3782 4862h0M3842 5077h0M4021 5061h0M3995 4857h0M3718 4997h0M3847 5081h0M3750 4891h0M3755 5040h0M4092 4923h0M3751 5044h0M4083 4894h0M4009 4851h0M3733 5034h0M4015 4868h0M3764 5064h0M4027 5047h0M3730 5007h0M4030 4864h0M3742 4909h0M4087 4897h0M4087 4941h0M3737 5055h0M4054 4880h0M4020 5049h0M4099 4967h0M3716 4992h0M4048 5040h0M3850 4845h0M4077 5009h0M4095 4900h0M3717 4979h0M3719 4986h0M4078 5007h0M4017 5048h0" stroke="#6a6ad0" stroke-width="5.5" stroke-linecap="round" opacity="0.45" fill="none"/>
<path transform="scale(.1)" d="M3835 5034h0M3863 5064h0M3847 4990h0M3981 4980h0M3989 4953h0M3901 4894h0M3779 4955h0M3940 5026h0M3959 5045h0M4052 4967h0M3881 4866h0M3750 5038h0M3857 5036h0M4089 4998h0M3793 4884h0M4082 4966h0M3843 5079h0M3779 5060h0M3888 4984h0M4022 4999h0M4031 5045h0M3870 4941h0M4026 4880h0M3962 4909h0M4012 5018h0M4043 4919h0M4015 4895h0M3887 4879h0M3852 4953h0M3970 5065h0M3791 4936h0M3998 5020h0M3982 4923h0M4021 4999h0M3940 4967h0M3973 5035h0M3775 4889h0M3849 4878h0M3982 4881h0M3951 4997h0M4000 5039h0M3915 4890h0M4057 4998h0M3906 5058h0M4025 4990h0M3864 4896h0M3724 5011h0M3765 5015h0M3820 4893h0M4079 4935h0M3753 5004h0M4016 4940h0M3938 4888h0M3843 4960h0M3805 5049h0M4014 4939h0M4024 4946h0M3785 4907h0M3760 5019h0M3740 4960h0M4047 4903h0M4025 5040h0M3957 4850h0M3809 5021h0M3769 4896h0M3744 4971h0M3791 5044h0M3746 5016h0M4070 4906h0M3862 5036h0M3793 4970h0M3776 4939h0M3907 4855h0M4053 4951h0M3983 4896h0M3909 4967h0M3811 5001h0M3853 5015h0M3925 5004h0M4024 5043h0M4010 4951h0M3834 4954h0M3828 4863h0M3924 4915h0M3826 4966h0M4061 5016h0M3845 4936h0M4020 4949h0M4026 4910h0M3968 5073h0M3889 4850h0M3832 4895h0M3978 4933h0M3869 4935h0M4017 4968h0M3783 5004h0M3803 4934h0M4052 4996h0M4027 4955h0M3900 4869h0M3767 4969h0M3780 4996h0M3808 4926h0M3947 5015h0M3890 4898h0M3769 4925h0M3898 5003h0M4025 4929h0M3792 5043h0M4013 4986h0M3955 4931h0M3853 5020h0M3919 4979h0M3918 4867h0M4019 4880h0M3847 5058h0M3950 4956h0M4079 4955h0M3945 4937h0M3903 4861h0M3812 5001h0M3877 5067h0M3817 5025h0M3833 4938h0M3870 5073h0M3822 5073h0M3908 4999h0M4053 4886h0M3789 5028h0M3844 4887h0M3957 4965h0M3858 5074h0M4048 5005h0M3922 4991h0M4055 4952h0M4069 5007h0M3740 5001h0M3883 4920h0M3891 5048h0M3949 5051h0M3980 5007h0M3907 4868h0M3770 5026h0M3847 4886h0M3761 5019h0M3891 4972h0M3947 4944h0M4073 4902h0M3850 5024h0M4071 5012h0M3974 5067h0M3868 4995h0M3788 4966h0M3758 5044h0M3851 4977h0M3779 4890h0M3987 4990h0M4000 4905h0M3918 4912h0M3788 4962h0" stroke="#6a6ad0" stroke-width="5.5" stroke-linecap="round" opacity="0.45" fill="none"/>
<path d="M376.8,495.5C377.8,493.9 379.7,491 381.9,489.7C384.1,488.4 387.1,487.8 390,487.6C392.9,487.4 396.7,487.6 399.1,488.3C401.4,489 403.2,490.1 404.1,491.9C404.9,493.8 405.1,497.1 404,499.2C402.9,501.3 400,503.3 397.4,504.4C394.8,505.6 391.5,506.1 388.5,506C385.5,505.9 381.3,505 379.3,503.9C377.2,502.8 376.5,500.6 376.1,499.3C375.7,497.9 375.8,497.1 376.8,495.5Z" fill="none" stroke="#7272d0" stroke-width="0.35" opacity="0.6"/>
<path d="M381.3,496C381.8,495 383.3,493 384.8,492.3C386.2,491.5 388.2,491.4 390,491.3C391.8,491.2 394,491.3 395.5,491.7C396.9,492.2 398.1,492.8 398.7,493.9C399.2,495 399.6,497.1 398.9,498.4C398.2,499.7 396.1,500.8 394.5,501.5C392.9,502.2 390.9,502.6 389.1,502.5C387.3,502.4 384.9,501.7 383.7,501.1C382.5,500.4 382.2,499.2 381.8,498.3C381.4,497.5 380.8,497 381.3,496Z" fill="none" stroke="#7272d0" stroke-width="0.35" opacity="0.6"/>
<path d="M386.3,496.6C386.5,496.2 387.2,495.4 387.8,495C388.5,494.7 389.2,494.5 390,494.5C390.8,494.4 391.9,494.4 392.5,494.6C393.1,494.8 393.6,495.1 393.8,495.6C394,496.1 394.1,497.1 393.8,497.6C393.5,498.2 392.6,498.6 391.9,498.9C391.2,499.2 390.4,499.3 389.6,499.3C388.8,499.3 387.7,499.1 387.1,498.8C386.6,498.5 386.6,497.9 386.5,497.6C386.3,497.2 386.1,497 386.3,496.6Z" fill="none" stroke="#7272d0" stroke-width="0.35" opacity="0.6"/>
<path d="M367,516C367.8,514.4 369.8,513 372,512.5C374.2,512 377.8,512.1 380,513C382.2,513.9 384.2,516.2 385,518C385.8,519.8 385.5,522.5 384.5,524C383.5,525.5 381.2,526.6 379,527C376.8,527.4 373,527.3 371,526.5C369,525.7 367.7,523.8 367,522C366.3,520.2 366.2,517.6 367,516Z" fill="#f3f3fc" stroke="#6262ca" stroke-width="0.5" opacity="1"/>
<path transform="scale(.1)" d="M3673 5199h0M3714 5275h0M3701 5127h0M3790 5265h0M3847 5181h0M3798 5266h0M3720 5136h0M3823 5136h0M3838 5157h0M3770 5268h0M3801 5123h0M3666 5166h0M3810 5146h0M3828 5256h0M3719 5131h0M3820 5153h0M3838 5214h0M3661 5163h0M3717 5136h0M3800 5135h0M3798 5134h0M3842 5192h0M3771 5272h0M3825 5249h0M3757 5125h0M3711 5258h0M3808 5126h0M3701 5133h0M3835 5168h0M3697 5244h0M3807 5262h0M3777 5123h0M3784 5133h0M3789 5276h0M3823 5258h0M3706 5270h0M3815 5145h0M3844 5214h0M3779 5264h0M3662 5195h0M3714 5267h0M3752 5269h0M3850 5216h0M3681 5223h0M3677 5158h0M3769 5275h0M3843 5236h0M3745 5267h0M3697 5249h0M3811 5140h0M3727 5273h0M3841 5169h0M3806 5258h0M3747 5275h0M3693 5263h0M3832 5247h0M3744 5134h0M3704 5271h0M3793 5263h0M3667 5180h0M3657 5201h0M3760 5116h0M3791 5279h0M3697 5243h0M3849 5197h0M3667 5220h0M3848 5203h0M3817 5253h0M3800 5136h0M3690 5148h0M3695 5258h0M3732 5260h0M3847 5196h0M3675 5210h0M3812 5261h0M3699 5251h0M3762 5139h0M3772 5120h0M3694 5135h0M3707 5131h0M3847 5208h0M3655 5221h0M3696 5243h0M3664 5180h0M3760 5126h0M3688 5242h0M3840 5158h0M3776 5132h0M3844 5213h0M3717 5128h0" stroke="#6a6ad0" stroke-width="5.5" stroke-linecap="round" opacity="0.5" fill="none"/>
<path transform="scale(.1)" d="M3744 5184h0M3725 5248h0M3717 5241h0M3701 5209h0M3742 5225h0M3808 5247h0M3820 5252h0M3782 5202h0M3811 5215h0M3813 5180h0M3705 5240h0M3769 5213h0M3814 5223h0M3790 5253h0M3722 5177h0M3757 5250h0M3810 5191h0M3827 5210h0M3774 5134h0M3727 5180h0M3685 5178h0M3778 5137h0M3719 5237h0M3742 5220h0M3698 5155h0M3812 5235h0M3690 5215h0M3809 5235h0M3805 5241h0M3739 5214h0M3717 5204h0M3805 5249h0M3803 5224h0M3739 5251h0M3683 5211h0M3759 5265h0M3807 5199h0M3802 5192h0M3722 5230h0M3819 5227h0M3836 5203h0M3755 5265h0M3761 5216h0M3716 5220h0M3727 5243h0M3764 5259h0M3757 5156h0M3790 5140h0M3799 5178h0M3724 5148h0M3756 5228h0M3801 5248h0M3752 5226h0M3750 5223h0M3843 5229h0M3726 5161h0M3833 5218h0M3753 5222h0M3699 5142h0M3739 5246h0M3778 5247h0M3837 5243h0M3796 5236h0M3763 5259h0M3698 5191h0M3812 5204h0M3764 5263h0M3742 5214h0M3719 5177h0M3785 5178h0M3673 5158h0M3771 5200h0M3696 5246h0M3814 5245h0M3687 5210h0M3771 5228h0M3840 5210h0M3707 5226h0M3754 5257h0M3788 5261h0M3716 5262h0M3738 5181h0M3815 5152h0M3811 5188h0M3690 5169h0M3833 5186h0M3760 5133h0M3800 5140h0M3682 5199h0M3756 5173h0" stroke="#6a6ad0" stroke-width="5.5" stroke-linecap="round" opacity="0.5" fill="none"/>
<path d="M369.4,517.1C370.1,515.9 371.5,515.1 373.2,514.7C374.8,514.3 377.5,514 379.1,514.6C380.7,515.3 382.3,517.1 382.9,518.5C383.4,519.9 383.2,521.9 382.4,523C381.6,524.1 379.9,525 378.3,525.3C376.6,525.6 374,525.2 372.5,524.5C371,523.9 369.7,522.8 369.2,521.5C368.7,520.3 368.8,518.2 369.4,517.1Z" fill="none" stroke="#7272d0" stroke-width="0.35" opacity="0.8"/>
<path d="M372,518.2C372.3,517.5 373.2,516.8 374.2,516.5C375.1,516.3 376.9,516.3 377.9,516.7C378.9,517.2 379.7,518.2 380.1,519.1C380.4,519.9 380.4,521.2 380,521.9C379.5,522.6 378.4,523.1 377.4,523.3C376.4,523.4 374.7,523.3 373.8,522.9C372.9,522.5 372.2,521.7 371.9,520.9C371.6,520.1 371.6,518.9 372,518.2Z" fill="none" stroke="#7272d0" stroke-width="0.35" opacity="0.8"/>
<path d="M374.2,519.2C374.4,518.9 374.7,518.6 375.2,518.5C375.6,518.4 376.4,518.4 376.8,518.6C377.2,518.8 377.6,519.2 377.8,519.6C377.9,520 378,520.5 377.8,520.8C377.6,521.1 377.1,521.4 376.6,521.4C376.2,521.5 375.4,521.5 375,521.3C374.6,521.2 374.4,520.7 374.2,520.4C374.1,520 374,519.5 374.2,519.2Z" fill="none" stroke="#7272d0" stroke-width="0.35" opacity="0.8"/>
<path transform="scale(.1)" d="M4021 5228h0M4104 5245h0M3909 5259h0M4105 5234h0M3931 5263h0M4097 5241h0M3926 5256h0M3954 5275h0M3985 5276h0M4043 5265h0M3925 5268h0M3888 5224h0M3954 5265h0M4058 5263h0M3927 5260h0M3970 5268h0M3984 5265h0M3880 5226h0M3922 5254h0M3934 5263h0M3932 5263h0M3949 5263h0M4042 5267h0M4049 5260h0M3892 5242h0M4090 5231h0M3934 5271h0M3906 5253h0M3997 5271h0M4008 5226h0M4083 5248h0M3907 5255h0M3919 5255h0M4025 5278h0M4063 5260h0M4113 5238h0M3957 5268h0M3982 5269h0M4030 5267h0M4009 5234h0M4105 5239h0M4063 5257h0M3983 5273h0M3890 5219h0M3867 5223h0M4046 5268h0M4015 5273h0M4070 5252h0M4025 5229h0M3948 5267h0M4090 5249h0M4002 5274h0M4080 5247h0M4069 5259h0M4057 5239h0M4041 5266h0M3883 5229h0M4109 5239h0M4100 5236h0M3946 5227h0" stroke="#d0509a" stroke-width="6" stroke-linecap="round" opacity="0.7" fill="none"/>
<path d="M400,499.5C401.5,499.7 403.4,501.1 405,503C406.6,504.9 408.7,508.2 409.5,511C410.3,513.8 410.4,517.5 410,520C409.6,522.5 408.7,524.7 407,526C405.3,527.3 402.3,528 400,528C397.7,528 394.5,527.5 393,526C391.5,524.5 391,521.8 391,519C391,516.2 392.2,511.8 393,509C393.8,506.2 394.8,503.6 396,502C397.2,500.4 398.5,499.3 400,499.5Z" fill="#bcd0f0" stroke="none" stroke-width="0.4" opacity="1"/>
<path d="M400.2,503.1C401.4,503.3 402.9,504.4 404.1,505.9C405.4,507.4 407,509.9 407.6,512.1C408.3,514.3 408.3,517.2 408,519.1C407.7,521.1 407,522.8 405.7,523.8C404.4,524.8 402,525.4 400.2,525.4C398.4,525.4 395.9,525 394.8,523.8C393.6,522.6 393.2,520.6 393.2,518.3C393.2,516.1 394.1,512.8 394.8,510.5C395.4,508.3 396.2,506.3 397.1,505.1C398,503.8 399.1,503 400.2,503.1Z" fill="#8fd2e6" stroke="none" stroke-width="0.4" opacity="1"/>
<path d="M400.4,506.4C401.3,506.5 402.4,507.3 403.3,508.5C404.2,509.6 405.4,511.5 405.9,513.1C406.4,514.7 406.5,516.9 406.2,518.3C406,519.8 405.4,521 404.5,521.8C403.5,522.6 401.8,523 400.4,523C399.1,523 397.2,522.7 396.4,521.8C395.5,520.9 395.2,519.4 395.2,517.7C395.2,516.1 395.9,513.6 396.4,511.9C396.8,510.3 397.4,508.8 398.1,507.9C398.8,507 399.6,506.3 400.4,506.4Z" fill="#66c36a" stroke="none" stroke-width="0.4" opacity="1"/>
<path d="M400.6,509.4C401.2,509.5 402,510 402.6,510.8C403.2,511.6 404.1,512.9 404.4,514C404.7,515.1 404.8,516.6 404.6,517.6C404.4,518.6 404.1,519.5 403.4,520C402.7,520.5 401.5,520.8 400.6,520.8C399.7,520.8 398.4,520.6 397.8,520C397.2,519.4 397,518.3 397,517.2C397,516.1 397.5,514.3 397.8,513.2C398.1,512.1 398.5,511 399,510.4C399.5,509.8 400,509.3 400.6,509.4Z" fill="#e6e23c" stroke="none" stroke-width="0.4" opacity="1"/>
<path d="M400.7,511.7C401.1,511.8 401.6,512.1 402,512.6C402.5,513.1 403,514 403.2,514.7C403.4,515.4 403.4,516.4 403.3,517C403.2,517.7 403,518.3 402.6,518.6C402.1,518.9 401.3,519.1 400.7,519.1C400.1,519.1 399.3,519 398.9,518.6C398.5,518.2 398.4,517.5 398.4,516.8C398.4,516 398.7,514.9 398.9,514.2C399.1,513.4 399.4,512.8 399.7,512.4C400,511.9 400.4,511.7 400.7,511.7Z" fill="#f39b33" stroke="none" stroke-width="0.4" opacity="1"/>
<path d="M400.9,513.7C401.1,513.7 401.3,513.9 401.6,514.2C401.8,514.4 402.1,514.9 402.2,515.3C402.3,515.7 402.3,516.2 402.3,516.6C402.2,516.9 402.1,517.2 401.8,517.4C401.6,517.6 401.2,517.7 400.9,517.7C400.5,517.7 400.1,517.6 399.9,517.4C399.7,517.2 399.6,516.8 399.6,516.4C399.6,516 399.8,515.4 399.9,515C400,514.6 400.1,514.3 400.3,514C400.5,513.8 400.7,513.7 400.9,513.7Z" fill="#e2452d" stroke="none" stroke-width="0.4" opacity="1"/>
<line x1="360.5" y1="480.4" x2="360.5" y2="539.5" stroke="#555" stroke-width="0.55" />
<line x1="360.5" y1="539.5" x2="414" y2="539.5" stroke="#555" stroke-width="0.55" />
<text x="359.5" y="483.4" font-size="2" fill="#555" text-anchor="end" stroke="#555" stroke-width="0.16">10³</text>
<line x1="359.8" y1="482.5" x2="360.5" y2="482.5" stroke="#777" stroke-width="0.3" />
<text x="359.5" y="495.4" font-size="2" fill="#555" text-anchor="end" stroke="#555" stroke-width="0.16">10²</text>
<line x1="359.8" y1="494.5" x2="360.5" y2="494.5" stroke="#777" stroke-width="0.3" />
<text x="359.5" y="511.9" font-size="2" fill="#555" text-anchor="end" stroke="#555" stroke-width="0.16">10¹</text>
<line x1="359.8" y1="511" x2="360.5" y2="511" stroke="#777" stroke-width="0.3" />
<text x="359.5" y="520.4" font-size="2" fill="#555" text-anchor="end" stroke="#555" stroke-width="0.16">−10¹</text>
<line x1="359.8" y1="519.5" x2="360.5" y2="519.5" stroke="#777" stroke-width="0.3" />
<text x="359.5" y="527.4" font-size="2" fill="#555" text-anchor="end" stroke="#555" stroke-width="0.16">−10²</text>
<line x1="359.8" y1="526.5" x2="360.5" y2="526.5" stroke="#777" stroke-width="0.3" />
<text x="367" y="542.9" font-size="2" fill="#555" text-anchor="middle" stroke="#555" stroke-width="0.16">−10¹ 0 10¹</text>
<text x="390.3" y="542.9" font-size="2" fill="#555" text-anchor="middle" stroke="#555" stroke-width="0.16">10²</text>
<text x="409" y="542.9" font-size="2" fill="#555" text-anchor="middle" stroke="#555" stroke-width="0.16">10³</text>
<polyline points="360.5,495.4 389.3,508 414,491.5" fill="none" stroke="#222" stroke-width="1" stroke-linejoin="round"/>
<line x1="389.3" y1="508" x2="389.3" y2="539.5" stroke="#222" stroke-width="1" />
<line x1="360.5" y1="510.4" x2="389.3" y2="515.4" stroke="#222" stroke-width="1" />
<line x1="159.3" y1="656.9" x2="159.3" y2="589.9" stroke="#222" stroke-width="1" />
<polygon points="159.3,586.4 161.1,590.4 157.5,590.4" fill="#222"/>
<line x1="158.9" y1="656.9" x2="414.8" y2="656.9" stroke="#222" stroke-width="1" />
<polygon points="418.3,656.9 414.3,658.7 414.3,655.1" fill="#222"/>
<text x="154.7" y="620.7" font-size="6.2" fill="#333" text-anchor="middle" textLength="15.0" lengthAdjust="spacingAndGlyphs" transform="rotate(-90 154.7 620.7)" stroke="#333" stroke-width="0.16">CD207</text>
<text x="288.9" y="665.6" font-size="6.2" fill="#333" text-anchor="middle" textLength="11.2" lengthAdjust="spacingAndGlyphs" stroke="#333" stroke-width="0.16">CD1a</text>
<path transform="scale(.1)" d="M1899 6296h0M1990 6372h0M2108 6220h0M2074 6294h0M2079 6218h0M1909 6342h0M2075 6290h0M2097 6205h0M1969 6371h0M2080 6157h0M1915 6216h0M1989 6373h0M1902 6252h0M1910 6371h0M2032 6347h0M1908 6341h0M1960 6134h0M1913 6197h0M1903 6249h0M1879 6278h0M1946 6164h0M1996 6128h0M1991 6116h0M2061 6369h0M1994 6137h0M2100 6278h0M2017 6136h0M1973 6113h0M2092 6221h0M1973 6129h0M2070 6126h0M1911 6211h0M2040 6346h0M2084 6171h0M2040 6347h0M1900 6240h0M2029 6369h0M2057 6147h0M2006 6121h0M1899 6231h0M2078 6237h0M2077 6258h0M1888 6322h0M1890 6340h0M2043 6353h0M1978 6126h0M1893 6329h0M2020 6118h0M2060 6336h0M2068 6164h0M2027 6125h0M2087 6215h0M1971 6138h0M2005 6371h0M1941 6163h0M1897 6257h0M1931 6162h0M2090 6240h0M2013 6367h0M2040 6362h0M1985 6369h0M1984 6371h0M2084 6164h0M1909 6338h0M2085 6271h0M1895 6214h0M2058 6144h0M1894 6237h0M2078 6168h0M2021 6353h0M2070 6274h0M2076 6348h0M2089 6238h0M1879 6276h0M1966 6141h0M2064 6152h0M2055 6365h0M1906 6246h0M1909 6346h0M1906 6342h0M2047 6341h0M2063 6304h0M1923 6144h0M1944 6355h0M1927 6365h0M1904 6329h0M2082 6220h0M1916 6359h0M1895 6251h0M2050 6361h0M1904 6240h0M2013 6378h0M2056 6120h0M1938 6361h0M2032 6127h0M2003 6368h0M2038 6351h0M2086 6200h0M2059 6338h0M2074 6146h0M1882 6284h0M2044 6140h0M1900 6252h0M1906 6345h0M1908 6325h0M1982 6371h0M1905 6193h0M2074 6274h0M2046 6142h0M1933 6185h0M1921 6190h0M2049 6128h0M2038 6120h0M2010 6364h0M2082 6299h0M2013 6136h0M2044 6116h0M2043 6126h0M1920 6364h0M1912 6342h0M2069 6324h0M1901 6225h0M2038 6129h0M1933 6360h0M1935 6360h0M1888 6312h0M2083 6170h0M2061 6326h0M1905 6293h0M2064 6156h0M1977 6133h0M1947 6159h0M1910 6361h0M1904 6339h0M2015 6359h0M2075 6343h0M2064 6318h0M1902 6356h0M2090 6162h0M1905 6236h0M2066 6311h0M2081 6202h0M1998 6361h0M1905 6359h0M1951 6367h0M2092 6269h0M1929 6350h0M2006 6382h0M1943 6364h0M1891 6297h0M2081 6182h0M2038 6117h0M2082 6200h0M1974 6140h0M2084 6180h0M2001 6368h0M1952 6144h0M2062 6318h0M2043 6358h0M2091 6312h0" stroke="#4a4ab8" stroke-width="5.5" stroke-linecap="round" opacity="0.62" fill="none"/>
<path transform="scale(.1)" d="M2040 6153h0M1942 6260h0M1900 6307h0M2028 6335h0M2064 6186h0M1927 6336h0M2025 6356h0M1901 6266h0M1967 6250h0M2028 6291h0M1918 6343h0M2019 6314h0M2006 6292h0M1983 6183h0M1937 6165h0M1990 6149h0M1987 6165h0M2053 6222h0M2052 6343h0M1982 6297h0M2008 6357h0M1965 6288h0M2040 6295h0M2072 6214h0M1942 6179h0M1962 6275h0M1963 6333h0M1924 6345h0M2048 6227h0M1952 6248h0M1999 6291h0M2023 6188h0M1960 6211h0M1996 6218h0M1943 6229h0M2038 6313h0M1975 6162h0M1997 6204h0M1941 6272h0M2022 6298h0M1909 6229h0M1964 6256h0M1976 6297h0M2008 6187h0M1965 6343h0M1979 6312h0M1969 6363h0M1915 6325h0M1963 6214h0M1990 6359h0M1994 6316h0M1939 6345h0M1921 6224h0M2064 6177h0M2052 6340h0M2019 6136h0M1966 6324h0M2032 6294h0M2057 6262h0M2020 6284h0M1963 6288h0M1993 6336h0M1965 6283h0M1979 6261h0M1981 6314h0M1968 6169h0M2018 6148h0M2042 6347h0M1957 6256h0M2043 6274h0M2060 6279h0M1941 6199h0M1948 6244h0M2023 6176h0M2027 6312h0M1960 6243h0M1964 6342h0M2056 6327h0M2014 6166h0M1974 6262h0M1963 6305h0M1993 6321h0M1937 6343h0M1898 6292h0M1952 6260h0M1949 6267h0M1963 6238h0M2027 6273h0M1976 6298h0M2016 6350h0M1996 6295h0M1908 6248h0M1990 6141h0M1912 6358h0M1940 6179h0M2021 6308h0M1989 6344h0M2034 6299h0M1937 6278h0M2037 6179h0M1932 6244h0M1995 6156h0M1967 6198h0M1961 6147h0M2063 6265h0M1991 6343h0M1995 6179h0M1994 6246h0M2020 6219h0M2080 6172h0M1911 6227h0M2007 6335h0M2025 6142h0M1951 6153h0M1974 6139h0M1929 6336h0M2048 6170h0M1998 6271h0M2042 6214h0M2008 6152h0M1906 6278h0M1947 6241h0M2045 6272h0M1998 6190h0M1902 6259h0M2019 6217h0M1898 6263h0M1931 6190h0M1991 6150h0M1959 6276h0M1953 6153h0M1957 6235h0M1944 6345h0M1945 6281h0M1940 6362h0M2018 6243h0M1950 6167h0M1948 6214h0M1933 6207h0M1947 6324h0M2072 6292h0M2072 6283h0M2041 6278h0M1920 6228h0M1977 6253h0M2011 6257h0M1944 6248h0M2037 6197h0M1964 6168h0M1966 6286h0M2074 6223h0M1946 6316h0M1932 6299h0M1998 6276h0M1991 6247h0M1999 6364h0M1958 6323h0M2037 6294h0M1904 6303h0M2058 6233h0M1977 6218h0M2029 6134h0M2066 6251h0M1964 6221h0M1988 6282h0M1963 6258h0M1914 6203h0M2001 6196h0M2029 6295h0M1993 6177h0M2041 6174h0M2000 6284h0M1984 6297h0M1938 6209h0M2075 6200h0M1909 6326h0M2018 6272h0M1966 6324h0M2035 6340h0M1961 6224h0M2045 6315h0M2017 6140h0M2017 6306h0M1927 6262h0M2027 6336h0M1954 6284h0M2052 6178h0M1957 6165h0M2052 6297h0M1958 6147h0M2042 6258h0M2031 6253h0M2044 6207h0M2035 6174h0M2012 6252h0M1949 6312h0M2037 6176h0M2049 6241h0M1985 6287h0M2013 6303h0M2006 6256h0M1905 6271h0M1991 6200h0M1992 6352h0M1988 6198h0M2003 6357h0M1961 6145h0M1976 6251h0M2020 6217h0M2072 6175h0M2038 6319h0M2021 6164h0M2070 6158h0M1915 6221h0M2039 6305h0M1924 6290h0M2037 6145h0M1941 6302h0M1933 6199h0M1996 6369h0M1925 6331h0M2057 6186h0M2012 6277h0M2042 6185h0M1974 6339h0M1982 6160h0M2030 6335h0M2025 6278h0M2034 6286h0M1950 6202h0M2033 6308h0M1983 6242h0M2009 6196h0M1967 6153h0M1911 6296h0M2083 6172h0M1991 6298h0M2065 6179h0M1926 6341h0M1981 6315h0M2068 6262h0M2010 6135h0M2006 6193h0M2017 6166h0M2057 6340h0M1950 6366h0M2043 6192h0M1984 6202h0M1994 6265h0M1975 6194h0M2073 6277h0M1968 6283h0M2031 6302h0M1953 6276h0M2005 6297h0M1928 6350h0M1977 6351h0M1975 6284h0M1977 6338h0M2051 6277h0" stroke="#4a4ab8" stroke-width="5.5" stroke-linecap="round" opacity="0.62" fill="none"/>
<ellipse cx="181" cy="633" rx="9.2" ry="5" transform="rotate(-18 181 633)" fill="#3a48aa" stroke="none" stroke-width="0.4" opacity="0.95" />
<path d="M187,627C187.9,625.6 190.3,624.1 192,623.6C193.7,623.1 195.8,623.6 197,624.3C198.2,625 197.8,627.3 199,628C200.2,628.7 202.9,627.8 204,628.5C205.1,629.2 205.7,630.7 205.5,632C205.3,633.3 204.6,635.6 203,636.5C201.4,637.4 198.3,637.5 196,637.5C193.7,637.5 190.6,637.7 189,636.8C187.4,635.9 186.8,633.6 186.5,632C186.2,630.4 186.1,628.4 187,627Z" fill="#fff" stroke="#55559a" stroke-width="0.55" opacity="1" stroke-linejoin="round"/>
<path d="M188.5,628.5C189.2,627.5 191.3,626.2 192.5,626C193.7,625.8 194.8,626.2 195.5,627C196.2,627.8 196.6,629.6 196.5,631C196.4,632.4 196.1,634.8 195,635.5C193.9,636.2 191.2,636.1 190,635.5C188.8,634.9 188.2,633.2 188,632C187.8,630.8 187.8,629.5 188.5,628.5Z" fill="#fff" stroke="#7777aa" stroke-width="0.4" opacity="1" stroke-linejoin="round"/>
<ellipse cx="181" cy="633.2" rx="8" ry="4.3" transform="rotate(-18 181 633.2)" fill="#3e4fb4" stroke="none" stroke-width="0.4" opacity="1" />
<ellipse cx="181" cy="633.2" rx="6.4" ry="3.44" transform="rotate(-18 181 633.2)" fill="#6fbfe6" stroke="none" stroke-width="0.4" opacity="1" />
<ellipse cx="181" cy="633.2" rx="4.8" ry="2.58" transform="rotate(-18 181 633.2)" fill="#66c36a" stroke="none" stroke-width="0.4" opacity="1" />
<ellipse cx="181" cy="633.2" rx="3.52" ry="1.89" transform="rotate(-18 181 633.2)" fill="#e6e23c" stroke="none" stroke-width="0.4" opacity="1" />
<ellipse cx="181" cy="633.2" rx="2.4" ry="1.29" transform="rotate(-18 181 633.2)" fill="#f39b33" stroke="none" stroke-width="0.4" opacity="1" />
<ellipse cx="181" cy="633.2" rx="1.28" ry="0.69" transform="rotate(-18 181 633.2)" fill="#e2452d" stroke="none" stroke-width="0.4" opacity="1" />
<line x1="169.3" y1="588.3" x2="169.3" y2="649" stroke="#555" stroke-width="0.55" />
<line x1="169.3" y1="649" x2="225.2" y2="649" stroke="#555" stroke-width="0.55" />
<text x="168.3" y="593.4" font-size="2" fill="#555" text-anchor="end" stroke="#555" stroke-width="0.16">10³</text>
<line x1="168.6" y1="592.5" x2="169.3" y2="592.5" stroke="#777" stroke-width="0.3" />
<text x="168.3" y="606.9" font-size="2" fill="#555" text-anchor="end" stroke="#555" stroke-width="0.16">10²</text>
<line x1="168.6" y1="606" x2="169.3" y2="606" stroke="#777" stroke-width="0.3" />
<text x="168.3" y="624.9" font-size="2" fill="#555" text-anchor="end" stroke="#555" stroke-width="0.16">10¹</text>
<line x1="168.6" y1="624" x2="169.3" y2="624" stroke="#777" stroke-width="0.3" />
<text x="168.3" y="633.4" font-size="2" fill="#555" text-anchor="end" stroke="#555" stroke-width="0.16">−10¹</text>
<line x1="168.6" y1="632.5" x2="169.3" y2="632.5" stroke="#777" stroke-width="0.3" />
<text x="168.3" y="642.9" font-size="2" fill="#555" text-anchor="end" stroke="#555" stroke-width="0.16">−10²</text>
<line x1="168.6" y1="642" x2="169.3" y2="642" stroke="#777" stroke-width="0.3" />
<text x="173.3" y="652.4" font-size="2" fill="#555" text-anchor="middle" stroke="#555" stroke-width="0.16">−10¹</text>
<text x="178.8" y="652.4" font-size="2" fill="#555" text-anchor="middle" stroke="#555" stroke-width="0.16">10¹</text>
<text x="194.6" y="652.4" font-size="2" fill="#555" text-anchor="middle" stroke="#555" stroke-width="0.16">10²</text>
<text x="205.6" y="652.4" font-size="2" fill="#555" text-anchor="middle" stroke="#555" stroke-width="0.16">10³</text>
<text x="220.2" y="652.4" font-size="2" fill="#555" text-anchor="middle" stroke="#555" stroke-width="0.16">10⁴</text>
<line x1="197.6" y1="588.3" x2="197.6" y2="649" stroke="#8a8a8a" stroke-width="0.45" />
<line x1="169.3" y1="624.9" x2="225.2" y2="624.9" stroke="#8a8a8a" stroke-width="0.45" />
<text x="169.9" y="592.3" font-size="5.3" fill="#222" stroke="#222" stroke-width="0.16">0,67%</text>
<text x="224" y="592.3" font-size="5.3" fill="#222" text-anchor="end" stroke="#222" stroke-width="0.16">0,76%</text>
<text x="169.9" y="647.6" font-size="5.3" fill="#222" stroke="#222" stroke-width="0.16">96,25%</text>
<text x="224" y="647.6" font-size="5.3" fill="#222" text-anchor="end" stroke="#222" stroke-width="0.16">2,32%</text>
<path transform="scale(.1)" d="M2646 6360h0M2664 6247h0M2545 6300h0M2655 6357h0M2547 6321h0M2580 6255h0M2674 6350h0M2556 6316h0M2548 6378h0M2573 6235h0M2688 6319h0M2702 6324h0M2678 6262h0M2586 6259h0M2674 6338h0M2561 6275h0M2661 6225h0M2638 6230h0M2632 6219h0M2546 6287h0M2603 6233h0M2570 6261h0M2612 6244h0M2580 6251h0M2640 6378h0M2559 6322h0M2571 6393h0M2554 6298h0M2582 6261h0M2563 6372h0M2583 6387h0M2698 6303h0M2644 6367h0M2556 6300h0M2690 6300h0M2660 6241h0M2560 6358h0M2668 6265h0M2630 6237h0M2683 6326h0M2704 6316h0M2633 6231h0M2600 6374h0M2599 6240h0M2653 6224h0M2686 6323h0M2692 6292h0M2586 6375h0M2703 6284h0M2560 6387h0M2661 6351h0M2555 6303h0M2689 6272h0M2664 6348h0M2683 6330h0M2567 6376h0M2559 6343h0M2687 6308h0M2613 6242h0M2654 6354h0M2597 6234h0M2570 6262h0M2690 6308h0M2616 6220h0M2640 6225h0M2644 6369h0M2604 6379h0M2614 6371h0M2649 6364h0M2624 6371h0M2585 6394h0M2573 6244h0M2683 6323h0M2568 6388h0M2546 6312h0M2639 6366h0M2701 6279h0M2633 6232h0M2566 6261h0M2664 6248h0M2650 6235h0M2552 6267h0M2554 6359h0M2561 6260h0M2651 6362h0M2635 6373h0M2617 6237h0M2586 6379h0M2675 6239h0M2581 6237h0" stroke="#6a6ad0" stroke-width="5.5" stroke-linecap="round" opacity="0.5" fill="none"/>
<path transform="scale(.1)" d="M2625 6235h0M2664 6257h0M2589 6314h0M2610 6270h0M2600 6341h0M2668 6258h0M2656 6284h0M2583 6342h0M2587 6311h0M2588 6270h0M2574 6357h0M2666 6343h0M2647 6313h0M2628 6325h0M2613 6245h0M2591 6279h0M2641 6356h0M2618 6290h0M2602 6316h0M2650 6309h0M2589 6355h0M2556 6277h0M2639 6328h0M2596 6279h0M2638 6334h0M2556 6336h0M2618 6295h0M2626 6257h0M2631 6251h0M2641 6287h0M2669 6325h0M2600 6275h0M2689 6286h0M2589 6334h0M2595 6371h0M2637 6254h0M2650 6321h0M2561 6313h0M2554 6322h0M2587 6310h0M2587 6275h0M2568 6270h0M2615 6259h0M2622 6375h0M2628 6330h0M2608 6256h0M2573 6301h0M2669 6275h0M2594 6243h0M2653 6315h0M2570 6361h0M2629 6326h0M2590 6256h0M2599 6254h0M2640 6298h0M2572 6343h0M2672 6331h0M2600 6357h0M2672 6261h0M2654 6258h0M2613 6356h0M2680 6308h0M2572 6303h0M2568 6367h0M2609 6315h0M2648 6301h0M2628 6271h0M2551 6287h0M2662 6283h0M2658 6240h0M2634 6299h0M2616 6262h0M2635 6367h0M2666 6305h0M2624 6361h0M2576 6337h0M2683 6320h0M2584 6296h0M2680 6315h0M2609 6259h0" stroke="#6a6ad0" stroke-width="5.5" stroke-linecap="round" opacity="0.5" fill="none"/>
<path d="M256.7,628.7C257,627 258.5,626.2 259.7,625.7C261,625.1 262.8,624.9 264.1,625.4C265.4,625.9 266.9,627.3 267.3,628.5C267.8,629.7 267.4,631.2 266.6,632.4C265.9,633.7 264.3,635.3 262.8,635.9C261.2,636.5 258.6,637.3 257.6,636.1C256.6,634.9 256.3,630.5 256.7,628.7Z" fill="none" stroke="#7272d0" stroke-width="0.35" opacity="0.8"/>
<path d="M258.7,629.6C259,628.5 259.8,628 260.6,627.6C261.3,627.3 262.6,627 263.4,627.2C264.3,627.5 265.4,628.5 265.6,629.3C265.9,630.1 265.4,631.1 264.9,631.9C264.4,632.7 263.4,633.6 262.5,634.1C261.5,634.5 259.7,635.2 259.1,634.4C258.4,633.7 258.5,630.7 258.7,629.6Z" fill="none" stroke="#7272d0" stroke-width="0.35" opacity="0.8"/>
<path d="M260.6,630.4C260.7,629.9 261.1,629.8 261.4,629.7C261.8,629.5 262.3,629.2 262.6,629.3C263,629.4 263.5,629.9 263.6,630.3C263.7,630.6 263.5,631.1 263.3,631.4C263,631.7 262.6,632.1 262.2,632.3C261.8,632.5 261.1,632.7 260.8,632.4C260.5,632.1 260.5,630.8 260.6,630.4Z" fill="none" stroke="#7272d0" stroke-width="0.35" opacity="0.8"/>
<path transform="scale(.1)" d="M2574 6233h0M2564 6216h0M2548 6246h0M2539 6183h0M2529 6222h0M2606 6221h0M2514 6196h0M2521 6202h0M2546 6252h0M2563 6245h0M2599 6185h0M2525 6255h0M2511 6212h0M2598 6196h0M2594 6250h0M2603 6200h0M2540 6205h0M2513 6177h0M2536 6191h0M2591 6203h0M2516 6201h0M2524 6177h0M2576 6195h0M2539 6191h0M2577 6242h0M2613 6253h0M2536 6228h0M2541 6186h0M2564 6254h0M2548 6218h0M2595 6182h0M2511 6249h0M2607 6228h0M2598 6251h0M2589 6257h0M2601 6259h0M2601 6178h0M2562 6181h0M2590 6179h0M2591 6240h0" stroke="#8a8ae0" stroke-width="5" stroke-linecap="round" opacity="0.4" fill="none"/>
<path d="M241.5,636C241.7,634.5 241.9,631.5 243,630C244.1,628.5 246.2,627.8 248,627C249.8,626.2 252.5,625.4 254,625.5C255.5,625.6 256.5,626.2 257,627.5C257.5,628.8 257.7,631.2 257,633C256.3,634.8 254.8,637.3 253,638.5C251.2,639.7 247.8,639.9 246,640C244.2,640.1 242.8,639.7 242,639C241.2,638.3 241.3,637.5 241.5,636Z" fill="#3a48aa" stroke="none" stroke-width="0.4" opacity="1"/>
<path d="M242.6,635.6C242.7,634.3 242.9,631.7 243.8,630.4C244.8,629.1 246.6,628.5 248.1,627.8C249.7,627.2 252,626.5 253.3,626.5C254.6,626.6 255.4,627.2 255.9,628.3C256.3,629.3 256.5,631.4 255.9,633C255.3,634.6 254,636.7 252.4,637.7C250.9,638.7 248,638.9 246.4,639C244.8,639.1 243.6,638.7 243,638.2C242.3,637.6 242.4,636.9 242.6,635.6Z" fill="#6fbfe6" stroke="none" stroke-width="0.4" opacity="1"/>
<path d="M243.8,635.1C243.9,634 244,632 244.8,630.9C245.6,629.8 247,629.3 248.3,628.8C249.6,628.3 251.4,627.7 252.5,627.8C253.6,627.8 254.2,628.3 254.6,629.1C254.9,630 255.1,631.7 254.6,633C254.1,634.3 253.1,636 251.8,636.9C250.5,637.7 248.2,637.8 246.9,637.9C245.6,638 244.6,637.7 244.1,637.2C243.6,636.7 243.6,636.2 243.8,635.1Z" fill="#66c36a" stroke="none" stroke-width="0.4" opacity="1"/>
<path d="M245.1,634.6C245.2,633.8 245.3,632.2 245.9,631.4C246.4,630.7 247.5,630.3 248.5,629.9C249.4,629.5 250.8,629.1 251.6,629.1C252.4,629.1 252.9,629.5 253.2,630.1C253.4,630.8 253.5,632 253.2,633C252.8,634 252,635.3 251.1,635.9C250.1,636.5 248.4,636.6 247.4,636.6C246.5,636.7 245.8,636.5 245.4,636.1C245,635.8 245,635.3 245.1,634.6Z" fill="#e6e23c" stroke="none" stroke-width="0.4" opacity="1"/>
<path d="M246.3,634.1C246.4,633.5 246.5,632.5 246.8,631.9C247.2,631.4 248,631.1 248.6,630.8C249.3,630.6 250.3,630.3 250.8,630.3C251.3,630.3 251.7,630.6 251.9,631C252.1,631.5 252.1,632.3 251.9,633C251.6,633.7 251.1,634.6 250.4,635C249.8,635.4 248.6,635.5 247.9,635.5C247.3,635.5 246.8,635.4 246.5,635.2C246.2,634.9 246.2,634.6 246.3,634.1Z" fill="#f39b33" stroke="none" stroke-width="0.4" opacity="1"/>
<path d="M247.5,633.6C247.5,633.3 247.6,632.7 247.8,632.4C248,632.1 248.4,631.9 248.8,631.8C249.2,631.6 249.7,631.5 250,631.5C250.3,631.5 250.5,631.6 250.6,631.9C250.7,632.1 250.7,632.6 250.6,633C250.5,633.4 250.2,633.9 249.8,634.1C249.4,634.3 248.8,634.4 248.4,634.4C248,634.4 247.8,634.3 247.6,634.2C247.4,634.1 247.5,633.9 247.5,633.6Z" fill="#e2452d" stroke="none" stroke-width="0.4" opacity="1"/>
<line x1="233.5" y1="588.3" x2="233.5" y2="649" stroke="#555" stroke-width="0.55" />
<line x1="233.5" y1="649" x2="289" y2="649" stroke="#555" stroke-width="0.55" />
<text x="232.5" y="593.4" font-size="2" fill="#555" text-anchor="end" stroke="#555" stroke-width="0.16">10³</text>
<line x1="232.8" y1="592.5" x2="233.5" y2="592.5" stroke="#777" stroke-width="0.3" />
<text x="232.5" y="606.9" font-size="2" fill="#555" text-anchor="end" stroke="#555" stroke-width="0.16">10²</text>
<line x1="232.8" y1="606" x2="233.5" y2="606" stroke="#777" stroke-width="0.3" />
<text x="232.5" y="624.9" font-size="2" fill="#555" text-anchor="end" stroke="#555" stroke-width="0.16">10¹</text>
<line x1="232.8" y1="624" x2="233.5" y2="624" stroke="#777" stroke-width="0.3" />
<text x="232.5" y="633.4" font-size="2" fill="#555" text-anchor="end" stroke="#555" stroke-width="0.16">−10¹</text>
<line x1="232.8" y1="632.5" x2="233.5" y2="632.5" stroke="#777" stroke-width="0.3" />
<text x="232.5" y="642.9" font-size="2" fill="#555" text-anchor="end" stroke="#555" stroke-width="0.16">−10²</text>
<line x1="232.8" y1="642" x2="233.5" y2="642" stroke="#777" stroke-width="0.3" />
<text x="237.5" y="652.4" font-size="2" fill="#555" text-anchor="middle" stroke="#555" stroke-width="0.16">−10¹</text>
<text x="243" y="652.4" font-size="2" fill="#555" text-anchor="middle" stroke="#555" stroke-width="0.16">10¹</text>
<text x="258.7" y="652.4" font-size="2" fill="#555" text-anchor="middle" stroke="#555" stroke-width="0.16">10²</text>
<text x="269.7" y="652.4" font-size="2" fill="#555" text-anchor="middle" stroke="#555" stroke-width="0.16">10³</text>
<text x="284" y="652.4" font-size="2" fill="#555" text-anchor="middle" stroke="#555" stroke-width="0.16">10⁴</text>
<line x1="261.7" y1="588.3" x2="261.7" y2="649" stroke="#8a8a8a" stroke-width="0.45" />
<line x1="233.5" y1="625.1" x2="289" y2="625.1" stroke="#8a8a8a" stroke-width="0.45" />
<text x="234.1" y="592.3" font-size="5.3" fill="#222" stroke="#222" stroke-width="0.16">0,41%</text>
<text x="287.8" y="592.3" font-size="5.3" fill="#222" text-anchor="end" stroke="#222" stroke-width="0.16">0,13%</text>
<text x="234.1" y="647.6" font-size="5.3" fill="#222" stroke="#222" stroke-width="0.16">96,09%</text>
<text x="287.8" y="647.6" font-size="5.3" fill="#222" text-anchor="end" stroke="#222" stroke-width="0.16">3,37%</text>
<path transform="scale(.1)" d="M3374 6313h0M3325 6249h0M3268 6250h0M3275 6390h0M3364 6312h0M3327 6381h0M3231 6370h0M3321 6382h0M3324 6373h0M3259 6254h0M3256 6374h0M3348 6302h0M3329 6270h0M3342 6271h0M3319 6379h0M3354 6310h0M3317 6384h0M3354 6365h0M3288 6245h0M3320 6255h0M3306 6379h0M3241 6359h0M3241 6364h0M3349 6339h0M3230 6272h0M3354 6294h0M3245 6336h0M3328 6373h0M3344 6281h0M3348 6291h0M3313 6383h0M3317 6383h0M3334 6266h0M3283 6239h0M3286 6396h0M3277 6247h0M3244 6259h0M3236 6281h0M3360 6320h0M3291 6248h0M3355 6331h0M3310 6258h0M3249 6368h0M3242 6370h0M3257 6256h0M3365 6300h0M3342 6375h0M3279 6234h0M3243 6297h0M3346 6289h0M3283 6235h0M3332 6242h0M3345 6361h0M3232 6281h0M3306 6244h0M3353 6308h0M3242 6295h0M3248 6261h0M3278 6399h0M3318 6261h0M3272 6380h0M3352 6302h0M3282 6393h0M3301 6383h0M3241 6283h0M3253 6250h0M3347 6296h0M3359 6368h0M3272 6386h0M3273 6388h0M3352 6294h0M3354 6311h0M3321 6262h0M3238 6240h0M3254 6228h0M3344 6344h0M3291 6246h0M3243 6255h0M3259 6249h0M3358 6356h0" stroke="#6a6ad0" stroke-width="5.5" stroke-linecap="round" opacity="0.5" fill="none"/>
<path transform="scale(.1)" d="M3245 6275h0M3269 6354h0M3299 6329h0M3331 6331h0M3316 6258h0M3275 6312h0M3291 6254h0M3313 6290h0M3263 6339h0M3342 6333h0M3333 6347h0M3333 6329h0M3283 6281h0M3281 6260h0M3300 6252h0M3253 6308h0M3243 6316h0M3302 6325h0M3334 6273h0M3293 6363h0M3350 6324h0M3240 6353h0M3337 6275h0M3243 6291h0M3303 6258h0M3315 6271h0M3324 6287h0M3326 6277h0M3327 6374h0M3282 6255h0M3328 6286h0M3327 6334h0M3279 6288h0M3291 6317h0M3278 6272h0M3280 6310h0M3334 6269h0M3353 6320h0M3263 6368h0M3318 6315h0M3283 6286h0M3245 6268h0M3269 6298h0M3256 6339h0M3285 6330h0M3293 6275h0M3340 6343h0M3253 6303h0M3253 6268h0M3294 6342h0M3305 6361h0M3256 6315h0M3244 6336h0M3321 6270h0M3308 6332h0M3303 6252h0M3291 6359h0M3329 6356h0M3326 6335h0M3269 6264h0M3336 6297h0M3321 6272h0M3314 6354h0M3279 6251h0M3322 6270h0M3269 6314h0M3291 6301h0M3264 6261h0M3319 6291h0M3349 6337h0M3283 6359h0M3279 6345h0M3288 6286h0M3278 6286h0M3325 6361h0M3290 6327h0M3303 6370h0M3325 6367h0M3297 6300h0M3269 6248h0M3293 6323h0M3334 6345h0M3288 6322h0M3288 6319h0M3322 6267h0M3323 6283h0M3284 6369h0M3316 6298h0M3357 6306h0M3346 6291h0" stroke="#6a6ad0" stroke-width="5.5" stroke-linecap="round" opacity="0.5" fill="none"/>
<path d="M325.9,627.9C326.3,626.7 327.4,626.7 328.4,626.7C329.3,626.7 330.7,627.2 331.5,627.9C332.3,628.6 332.9,629.9 333,631C333.1,632.1 332.6,633.6 331.9,634.4C331.1,635.3 329.4,636.1 328.4,636C327.4,636 326.3,635.4 325.9,634.1C325.5,632.7 325.5,629.1 325.9,627.9Z" fill="none" stroke="#7272d0" stroke-width="0.35" opacity="0.8"/>
<path d="M328,630C328.1,629.6 328.5,629.5 328.8,629.5C329.1,629.5 329.6,629.7 329.8,630C330.1,630.2 330.4,630.6 330.4,631C330.4,631.4 330.3,631.9 330,632.2C329.7,632.5 329.1,632.7 328.8,632.6C328.5,632.6 328.1,632.5 328,632C327.8,631.6 327.8,630.4 328,630Z" fill="none" stroke="#7272d0" stroke-width="0.35" opacity="0.8"/>
<path d="M305.5,640C305.3,637.8 305.2,634.1 306,632C306.8,629.9 308.2,628.8 310,627.5C311.8,626.2 314.8,625.3 317,624.5C319.2,623.7 322.1,621.9 323.5,622.5C324.9,623.1 325.3,625.6 325.5,628C325.7,630.4 325.4,634.4 324.5,637C323.6,639.6 322.1,642 320,643.5C317.9,645 314.2,645.8 312,646C309.8,646.2 308.1,646 307,645C305.9,644 305.7,642.2 305.5,640Z" fill="#3a48aa" stroke="none" stroke-width="0.4" opacity="1"/>
<path d="M306.3,639.5C306.2,637.5 306.1,634.1 306.8,632.2C307.4,630.4 308.7,629.3 310.4,628.2C312,627.1 314.6,626.2 316.6,625.5C318.7,624.8 321.2,623.2 322.5,623.7C323.8,624.2 324.2,626.5 324.3,628.6C324.4,630.8 324.2,634.4 323.4,636.8C322.6,639.1 321.2,641.2 319.4,642.6C317.5,644 314.1,644.6 312.1,644.9C310.2,645.1 308.6,644.9 307.6,644C306.7,643.1 306.4,641.4 306.3,639.5Z" fill="#b5d9f0" stroke="none" stroke-width="0.4" opacity="1"/>
<ellipse cx="313.3" cy="634" rx="6.4" ry="6" fill="#7fc9e6" stroke="none" stroke-width="0.4" opacity="1" />
<ellipse cx="313.3" cy="634" rx="5.12" ry="4.8" fill="#66c36a" stroke="none" stroke-width="0.4" opacity="1" />
<ellipse cx="313.3" cy="634" rx="3.58" ry="3.36" fill="#e6e23c" stroke="none" stroke-width="0.4" opacity="1" />
<ellipse cx="313.3" cy="634" rx="2.43" ry="2.28" fill="#f39b33" stroke="none" stroke-width="0.4" opacity="1" />
<ellipse cx="313.3" cy="634" rx="1.41" ry="1.32" fill="#e2452d" stroke="none" stroke-width="0.4" opacity="1" />
<line x1="297.4" y1="588.3" x2="297.4" y2="649" stroke="#555" stroke-width="0.55" />
<line x1="297.4" y1="649" x2="352.8" y2="649" stroke="#555" stroke-width="0.55" />
<text x="296.4" y="593.4" font-size="2" fill="#555" text-anchor="end" stroke="#555" stroke-width="0.16">10³</text>
<line x1="296.7" y1="592.5" x2="297.4" y2="592.5" stroke="#777" stroke-width="0.3" />
<text x="296.4" y="606.9" font-size="2" fill="#555" text-anchor="end" stroke="#555" stroke-width="0.16">10²</text>
<line x1="296.7" y1="606" x2="297.4" y2="606" stroke="#777" stroke-width="0.3" />
<text x="296.4" y="624.9" font-size="2" fill="#555" text-anchor="end" stroke="#555" stroke-width="0.16">10¹</text>
<line x1="296.7" y1="624" x2="297.4" y2="624" stroke="#777" stroke-width="0.3" />
<text x="296.4" y="633.4" font-size="2" fill="#555" text-anchor="end" stroke="#555" stroke-width="0.16">−10¹</text>
<line x1="296.7" y1="632.5" x2="297.4" y2="632.5" stroke="#777" stroke-width="0.3" />
<text x="296.4" y="642.9" font-size="2" fill="#555" text-anchor="end" stroke="#555" stroke-width="0.16">−10²</text>
<line x1="296.7" y1="642" x2="297.4" y2="642" stroke="#777" stroke-width="0.3" />
<text x="301.4" y="652.4" font-size="2" fill="#555" text-anchor="middle" stroke="#555" stroke-width="0.16">−10¹</text>
<text x="306.9" y="652.4" font-size="2" fill="#555" text-anchor="middle" stroke="#555" stroke-width="0.16">10¹</text>
<text x="321.8" y="652.4" font-size="2" fill="#555" text-anchor="middle" stroke="#555" stroke-width="0.16">10²</text>
<text x="332.8" y="652.4" font-size="2" fill="#555" text-anchor="middle" stroke="#555" stroke-width="0.16">10³</text>
<text x="347.8" y="652.4" font-size="2" fill="#555" text-anchor="middle" stroke="#555" stroke-width="0.16">10⁴</text>
<line x1="324.8" y1="588.3" x2="324.8" y2="649" stroke="#8a8a8a" stroke-width="0.45" />
<line x1="297.4" y1="625.1" x2="352.8" y2="625.1" stroke="#8a8a8a" stroke-width="0.45" />
<text x="298" y="592.3" font-size="5.3" fill="#222" stroke="#222" stroke-width="0.16">0,55%</text>
<text x="351.6" y="592.3" font-size="5.3" fill="#222" text-anchor="end" stroke="#222" stroke-width="0.16">0,05%</text>
<text x="298" y="647.6" font-size="5.3" fill="#222" stroke="#222" stroke-width="0.16">98,20%</text>
<text x="351.6" y="647.6" font-size="5.3" fill="#222" text-anchor="end" stroke="#222" stroke-width="0.16">1,20%</text>
<path transform="scale(.1)" d="M3817 6215h0M3892 6242h0M3871 6179h0M3811 6229h0M3820 6183h0M3813 6217h0M3889 6259h0M3788 6244h0M3789 6210h0M3763 6205h0M3843 6241h0M3840 6247h0M3816 6243h0M3779 6187h0M3809 6251h0M3789 6244h0M3809 6176h0M3791 6224h0M3785 6191h0M3883 6220h0M3797 6210h0M3780 6235h0M3807 6213h0M3773 6214h0M3762 6185h0M3843 6225h0M3831 6221h0M3845 6182h0M3892 6258h0M3759 6218h0M3869 6251h0M3756 6233h0M3788 6185h0M3782 6225h0M3848 6224h0M3757 6213h0M3887 6171h0M3804 6204h0M3820 6188h0M3764 6224h0" stroke="#8a8ae0" stroke-width="5" stroke-linecap="round" opacity="0.4" fill="none"/>
<path d="M369,635C368.6,633.4 370,631.7 371.5,630.5C373,629.3 375.6,628.7 378,628C380.4,627.3 384.2,627.7 386,626.5C387.8,625.3 388.2,622.9 389,621C389.8,619.1 390,616.2 391,615C392,613.8 393.6,613.7 395,613.8C396.4,613.9 398.6,614.1 399.3,615.5C400.1,616.9 399.5,619.2 399.5,622C399.5,624.8 399.9,629.2 399.5,632C399.1,634.8 398.6,637.6 397,639C395.4,640.4 392.5,640.2 390,640.5C387.5,640.8 384.7,641.1 382,641C379.3,640.9 376.2,641 374,640C371.8,639 369.4,636.6 369,635Z" fill="#3a46aa" stroke="none" stroke-width="0.4" opacity="1"/>
<path d="M370.9,634.7C370.5,633.3 371.8,631.7 373.1,630.6C374.5,629.6 376.8,629 379,628.4C381.2,627.8 384.6,628.1 386.2,627C387.8,626 388.1,623.8 388.9,622.1C389.6,620.4 389.8,617.8 390.7,616.7C391.6,615.6 393.1,615.5 394.3,615.6C395.5,615.7 397.5,615.9 398.2,617.1C398.8,618.4 398.3,620.5 398.4,623C398.4,625.5 398.7,629.5 398.4,632C398,634.5 397.5,637 396.1,638.3C394.7,639.6 392.1,639.3 389.8,639.6C387.6,640 385,640.2 382.6,640.1C380.2,640 377.3,640.1 375.4,639.2C373.4,638.3 371.3,636.1 370.9,634.7Z" fill="#a9cff0" stroke="none" stroke-width="0.4" opacity="1"/>
<path d="M373,635.5C373,634.7 374.5,633.2 376,632.5C377.5,631.8 380.2,631.7 382,631.5C383.8,631.3 386.1,630.9 387,631.5C387.9,632.1 388.2,634 387.5,635C386.8,636 384.9,637.1 383,637.5C381.1,637.9 377.7,637.8 376,637.5C374.3,637.2 373,636.3 373,635.5Z" fill="#8fdcc0" stroke="none" stroke-width="0.4" opacity="1" stroke-linejoin="round"/>
<path d="M376,634.8C375.8,634.3 378.5,633.7 380,633.5C381.5,633.3 384.1,633.3 385,633.6C385.9,633.9 386.2,634.8 385.5,635.2C384.8,635.6 382.6,636.3 381,636.2C379.4,636.1 376.2,635.2 376,634.8Z" fill="#b6e39a" stroke="none" stroke-width="0.4" opacity="1" stroke-linejoin="round"/>
<path d="M393.5,622.5C394.4,622.3 395.8,622.9 396.5,624C397.2,625.1 397.8,627.2 398,629C398.2,630.8 398.2,633.6 397.5,635C396.8,636.4 395.2,637.3 394,637.5C392.8,637.7 391.2,637.2 390.5,636C389.8,634.8 389.4,631.8 389.5,630C389.6,628.2 390.3,626.2 391,625C391.7,623.8 392.6,622.7 393.5,622.5Z" fill="#7fd0cf" stroke="none" stroke-width="0.4" opacity="1"/>
<path d="M393.6,624.3C394.3,624.1 395.4,624.6 395.9,625.4C396.5,626.3 397,627.9 397.1,629.3C397.2,630.8 397.2,632.9 396.7,634C396.2,635.1 394.9,635.8 394,636C393.1,636.1 391.9,635.8 391.3,634.8C390.7,633.8 390.4,631.5 390.5,630.1C390.6,628.7 391.1,627.2 391.7,626.2C392.2,625.2 392.9,624.4 393.6,624.3Z" fill="#66c36a" stroke="none" stroke-width="0.4" opacity="1"/>
<path d="M393.7,626C394.2,625.9 395,626.3 395.4,626.9C395.8,627.5 396.1,628.6 396.2,629.7C396.3,630.7 396.3,632.2 396,633C395.6,633.8 394.7,634.3 394,634.4C393.3,634.5 392.5,634.3 392,633.6C391.6,632.9 391.4,631.2 391.5,630.2C391.5,629.2 391.9,628.1 392.3,627.4C392.7,626.7 393.2,626.1 393.7,626Z" fill="#e6e23c" stroke="none" stroke-width="0.4" opacity="1"/>
<path d="M393.8,627.6C394.1,627.6 394.6,627.8 394.9,628.2C395.2,628.5 395.4,629.3 395.4,630C395.5,630.6 395.5,631.6 395.3,632.1C395,632.6 394.4,633 394,633C393.6,633.1 393,632.9 392.7,632.5C392.5,632 392.4,631 392.4,630.3C392.4,629.7 392.7,629 392.9,628.5C393.2,628.1 393.5,627.7 393.8,627.6Z" fill="#f39b33" stroke="none" stroke-width="0.4" opacity="1"/>
<path d="M393.9,628.9C394.1,628.9 394.4,629 394.5,629.2C394.6,629.4 394.8,629.8 394.8,630.2C394.8,630.6 394.8,631.1 394.7,631.4C394.6,631.7 394.2,631.9 394,631.9C393.8,631.9 393.4,631.9 393.3,631.6C393.2,631.4 393.1,630.8 393.1,630.4C393.1,630 393.3,629.6 393.4,629.4C393.5,629.1 393.7,628.9 393.9,628.9Z" fill="#e2452d" stroke="none" stroke-width="0.4" opacity="1"/>
<line x1="360.4" y1="588.3" x2="360.4" y2="649" stroke="#555" stroke-width="0.55" />
<line x1="360.4" y1="649" x2="415.8" y2="649" stroke="#555" stroke-width="0.55" />
<text x="359.4" y="593.4" font-size="2" fill="#555" text-anchor="end" stroke="#555" stroke-width="0.16">10³</text>
<line x1="359.7" y1="592.5" x2="360.4" y2="592.5" stroke="#777" stroke-width="0.3" />
<text x="359.4" y="606.9" font-size="2" fill="#555" text-anchor="end" stroke="#555" stroke-width="0.16">10²</text>
<line x1="359.7" y1="606" x2="360.4" y2="606" stroke="#777" stroke-width="0.3" />
<text x="359.4" y="624.9" font-size="2" fill="#555" text-anchor="end" stroke="#555" stroke-width="0.16">10¹</text>
<line x1="359.7" y1="624" x2="360.4" y2="624" stroke="#777" stroke-width="0.3" />
<text x="359.4" y="633.4" font-size="2" fill="#555" text-anchor="end" stroke="#555" stroke-width="0.16">−10¹</text>
<line x1="359.7" y1="632.5" x2="360.4" y2="632.5" stroke="#777" stroke-width="0.3" />
<text x="359.4" y="642.9" font-size="2" fill="#555" text-anchor="end" stroke="#555" stroke-width="0.16">−10²</text>
<line x1="359.7" y1="642" x2="360.4" y2="642" stroke="#777" stroke-width="0.3" />
<text x="364.4" y="652.4" font-size="2" fill="#555" text-anchor="middle" stroke="#555" stroke-width="0.16">−10¹</text>
<text x="369.9" y="652.4" font-size="2" fill="#555" text-anchor="middle" stroke="#555" stroke-width="0.16">10¹</text>
<text x="385.5" y="652.4" font-size="2" fill="#555" text-anchor="middle" stroke="#555" stroke-width="0.16">10²</text>
<text x="396.5" y="652.4" font-size="2" fill="#555" text-anchor="middle" stroke="#555" stroke-width="0.16">10³</text>
<text x="410.8" y="652.4" font-size="2" fill="#555" text-anchor="middle" stroke="#555" stroke-width="0.16">10⁴</text>
<line x1="388.5" y1="588.3" x2="388.5" y2="649" stroke="#8a8a8a" stroke-width="0.45" />
<line x1="360.4" y1="625.4" x2="415.8" y2="625.4" stroke="#8a8a8a" stroke-width="0.45" />
<text x="361" y="592.3" font-size="5.3" fill="#222" stroke="#222" stroke-width="0.16">0,63%</text>
<text x="414.6" y="592.3" font-size="5.3" fill="#222" text-anchor="end" stroke="#222" stroke-width="0.16">14,50%</text>
<text x="361" y="647.6" font-size="5.3" fill="#222" stroke="#222" stroke-width="0.16">42,44%</text>
<text x="414.6" y="647.6" font-size="5.3" fill="#222" text-anchor="end" stroke="#222" stroke-width="0.16">42,43%</text>
<line x1="434" y1="546.2" x2="434" y2="479.3" stroke="#222" stroke-width="1" />
<polygon points="434,475.8 435.8,479.8 432.2,479.8" fill="#222"/>
<line x1="433.6" y1="546.2" x2="500.9" y2="546.2" stroke="#222" stroke-width="1" />
<polygon points="504.4,546.2 500.4,548 500.4,544.4" fill="#222"/>
<text x="429.6" y="510.3" font-size="6.2" fill="#333" text-anchor="middle" textLength="14.2" lengthAdjust="spacingAndGlyphs" transform="rotate(-90 429.6 510.3)" stroke="#333" stroke-width="0.16">CD207</text>
<text x="469.1" y="554.9" font-size="6.2" fill="#333" text-anchor="middle" textLength="11.2" lengthAdjust="spacingAndGlyphs" stroke="#333" stroke-width="0.16">CD1a</text>
<path transform="scale(.1)" d="M4746 4951h0M4799 4978h0M4645 5100h0M4746 5085h0M4669 5059h0M4683 4924h0M4673 5080h0M4739 5161h0M4778 4962h0M4742 4930h0M4724 4937h0M4650 4975h0M4792 4912h0M4749 5054h0M4666 5040h0M4729 5185h0M4735 5012h0M4814 5039h0M4827 4968h0M4684 4883h0M4637 5033h0M4744 4976h0M4678 4889h0M4779 5144h0M4778 5166h0M4727 4906h0M4618 4936h0M4684 5077h0M4678 4870h0M4778 5143h0M4644 5111h0M4604 5044h0M4615 4943h0M4762 5006h0M4817 4964h0M4777 5121h0M4716 5057h0M4788 5056h0M4743 4987h0M4624 4939h0M4654 5129h0M4633 4938h0M4602 5039h0M4675 5066h0M4764 5080h0M4806 5131h0M4794 5136h0M4730 4904h0M4771 5044h0M4791 4977h0M4728 4961h0M4789 5050h0M4688 5082h0M4662 4920h0M4657 4985h0M4667 5067h0M4649 4986h0M4651 4885h0M4679 5137h0M4810 5107h0M4629 4994h0M4682 4998h0M4729 5007h0M4749 5131h0M4809 4954h0M4777 4963h0M4632 4979h0M4724 5072h0M4701 5062h0M4770 5023h0M4780 4918h0M4720 4891h0M4608 5038h0M4686 5092h0M4712 5065h0M4782 5030h0M4685 4964h0M4656 5033h0M4721 4937h0M4621 5065h0M4698 4862h0M4802 5031h0M4761 5170h0M4721 5172h0M4615 5004h0M4752 4869h0M4778 4950h0M4667 4875h0M4744 4912h0M4770 4888h0M4645 5060h0M4613 5083h0M4735 5185h0M4760 5085h0M4712 4877h0M4697 5107h0M4624 4960h0M4658 5097h0M4621 5086h0M4798 4943h0M4719 5131h0M4638 5087h0M4683 5142h0M4633 5001h0M4796 4998h0M4720 5034h0M4819 5028h0M4796 4933h0M4726 5049h0M4690 5034h0M4805 5081h0M4767 5117h0M4768 4922h0M4656 5101h0M4764 4984h0M4706 4940h0M4703 4999h0M4772 5043h0M4706 4940h0M4710 4927h0" stroke="#8a8ae0" stroke-width="5.5" stroke-linecap="round" opacity="0.45" fill="none"/>
<path d="M466.83,517 L467.4,512.4 L467.39,509.8 L469.45,507.2 L469.78,504.6 L470.21,502 L469.2,499.4 L469.08,496.8 L469.23,494.2 L470.43,517" fill="none" stroke="#5858c4" stroke-width="0.4" opacity="0.75" stroke-linejoin="round"/>
<path d="M468.27,517 L468.93,512.4 L468.61,509.8 L471.25,507.2 L471.04,504.6 L471.56,502 L470.84,499.4 L470.35,496.8 L469,494.2 L471.87,517" fill="none" stroke="#5858c4" stroke-width="0.4" opacity="0.75" stroke-linejoin="round"/>
<path d="M470.99,517 L473.97,512.4 L473.69,509.8 L473.71,507.2 L473.21,504.6 L473.75,502 L472.56,499.4 L473.47,496.8 L472.87,494.2 L473.14,491.6 L474.59,517" fill="none" stroke="#5858c4" stroke-width="0.4" opacity="0.75" stroke-linejoin="round"/>
<path d="M473.26,517 L475.75,512.4 L475.38,509.8 L474.2,507.2 L476.15,504.6 L474.77,502 L474.64,499.4 L476.22,496.8 L474.99,494.2 L475.69,491.6 L476.86,517" fill="none" stroke="#5858c4" stroke-width="0.4" opacity="0.75" stroke-linejoin="round"/>
<path d="M474.1,517 L477.35,512.4 L476.26,509.8 L477,507.2 L476.13,504.6 L476.6,502 L475.72,499.4 L475.29,496.8 L477.28,494.2 L476.38,491.6 L477.26,489 L477.7,517" fill="none" stroke="#5858c4" stroke-width="0.4" opacity="0.75" stroke-linejoin="round"/>
<path d="M476.43,517 L478.36,512.4 L478.53,509.8 L476.82,507.2 L476.89,504.6 L478.56,502 L476.71,499.4 L477.07,496.8 L479.67,494.2 L479.69,491.6 L479.51,489 L477.56,486.4 L480.03,517" fill="none" stroke="#5858c4" stroke-width="0.4" opacity="0.75" stroke-linejoin="round"/>
<path d="M479.56,517 L482.34,512.4 L480.7,509.8 L482.78,507.2 L480.3,504.6 L479.96,502 L480.38,499.4 L481.69,496.8 L479.98,494.2 L481.89,491.6 L482.38,489 L482.34,486.4 L483.16,517" fill="none" stroke="#5858c4" stroke-width="0.4" opacity="0.75" stroke-linejoin="round"/>
<path d="M481.44,517 L483.26,512.4 L483.33,509.8 L482.49,507.2 L483.37,504.6 L483.54,502 L483.23,499.4 L484.5,496.8 L484.15,494.2 L482.62,491.6 L484.5,489 L485.04,517" fill="none" stroke="#5858c4" stroke-width="0.4" opacity="0.75" stroke-linejoin="round"/>
<path d="M482.73,517 L483.27,512.4 L485.11,509.8 L483.12,507.2 L483.43,504.6 L485.73,502 L485.88,499.4 L484.61,496.8 L485.49,494.2 L484.51,491.6 L483.04,489 L486.33,517" fill="none" stroke="#5858c4" stroke-width="0.4" opacity="0.75" stroke-linejoin="round"/>
<path d="M461,516 L462.5,494 L464,516" fill="none" stroke="#7a7ad0" stroke-width="0.35" opacity="0.6" stroke-linejoin="round"/>
<path d="M463.6,516 L465.1,495.5 L466.6,516" fill="none" stroke="#7a7ad0" stroke-width="0.35" opacity="0.6" stroke-linejoin="round"/>
<path d="M466.2,516 L467.7,497 L469.2,516" fill="none" stroke="#7a7ad0" stroke-width="0.35" opacity="0.6" stroke-linejoin="round"/>
<path d="M468.8,516 L470.3,498.5 L471.8,516" fill="none" stroke="#7a7ad0" stroke-width="0.35" opacity="0.6" stroke-linejoin="round"/>
<path d="M452.5,522.5C453,521.8 455.9,520.3 458,519.5C460.1,518.7 462.7,518 465,517.5C467.3,517 470.7,515.9 472,516.5C473.3,517.1 473.3,519.7 473,521C472.7,522.3 471.8,523.9 470,524.5C468.2,525.1 464.5,524.9 462,524.8C459.5,524.7 456.6,524.4 455,524C453.4,523.6 452,523.2 452.5,522.5Z" fill="#fff" stroke="#7070cc" stroke-width="0.5" opacity="1"/>
<path transform="scale(.1)" d="M4725 5172h0M4559 5248h0M4673 5247h0M4665 5246h0M4679 5172h0M4697 5170h0M4688 5172h0M4537 5228h0M4523 5226h0M4622 5184h0M4621 5178h0M4671 5247h0M4718 5221h0M4731 5196h0M4698 5244h0M4528 5239h0M4732 5228h0M4565 5244h0M4545 5212h0M4697 5242h0M4616 5251h0M4601 5245h0M4529 5226h0M4543 5205h0M4712 5230h0M4551 5238h0M4674 5254h0M4684 5247h0M4620 5248h0M4561 5203h0M4578 5190h0M4580 5242h0M4537 5214h0M4662 5243h0M4586 5194h0M4709 5166h0M4533 5219h0M4572 5246h0M4536 5219h0M4724 5190h0M4644 5180h0M4721 5218h0M4540 5237h0M4539 5242h0M4527 5225h0M4729 5212h0M4538 5231h0M4565 5194h0M4617 5255h0M4533 5229h0M4546 5209h0M4725 5185h0M4617 5179h0M4637 5250h0M4537 5217h0M4693 5245h0M4713 5230h0M4731 5186h0M4627 5181h0M4699 5240h0M4727 5166h0M4724 5226h0M4535 5219h0M4544 5235h0M4629 5252h0M4731 5199h0M4738 5214h0M4727 5214h0M4659 5244h0M4717 5222h0" stroke="#6a6ad0" stroke-width="5.5" stroke-linecap="round" opacity="0.5" fill="none"/>
<path transform="scale(.1)" d="M4693 5215h0M4657 5226h0M4624 5205h0M4575 5199h0M4645 5237h0M4642 5203h0M4590 5228h0M4639 5208h0M4695 5201h0M4665 5195h0M4608 5187h0M4670 5196h0M4608 5200h0M4654 5198h0M4681 5223h0M4594 5212h0M4609 5189h0M4599 5199h0M4677 5197h0M4576 5206h0M4648 5236h0M4622 5211h0M4716 5200h0M4640 5238h0M4662 5208h0M4594 5216h0M4682 5226h0M4683 5187h0M4570 5234h0M4689 5230h0" stroke="#6a6ad0" stroke-width="5.5" stroke-linecap="round" opacity="0.5" fill="none"/>
<path d="M457,521.9C457.3,521.5 459.2,520.6 460.5,520.1C461.8,519.6 463.2,519.3 464.6,519C465.9,518.7 467.9,518 468.7,518.3C469.6,518.7 469.7,520.2 469.5,521C469.3,521.8 468.7,522.7 467.5,523.1C466.4,523.5 464.3,523.4 462.8,523.4C461.3,523.3 459.5,523.1 458.5,522.8C457.6,522.6 456.6,522.4 457,521.9Z" fill="none" stroke="#7272d0" stroke-width="0.35" opacity="0.8"/>
<path d="M461.7,521.3C461.8,521.2 462.4,520.9 462.8,520.7C463.2,520.5 463.7,520.4 464.2,520.3C464.7,520.2 465.3,520 465.6,520.1C465.9,520.2 465.9,520.7 465.9,521C465.8,521.3 465.6,521.6 465.2,521.7C464.8,521.8 464.1,521.8 463.6,521.8C463.1,521.7 462.6,521.6 462.3,521.6C462,521.5 461.6,521.4 461.7,521.3Z" fill="none" stroke="#7272d0" stroke-width="0.35" opacity="0.8"/>
<path d="M472.3,520C472.4,518.5 473.4,517.2 474.5,516.5C475.6,515.8 477.5,515.5 479,515.6C480.5,515.7 482.5,516.1 483.5,517C484.5,517.9 485,519.7 485,521C485,522.3 484.6,524.1 483.5,525C482.4,525.9 480.1,526.3 478.5,526.4C476.9,526.5 475,526.6 474,525.5C473,524.4 472.2,521.5 472.3,520Z" fill="#3e4fb4" stroke="none" stroke-width="0.4" opacity="1"/>
<path d="M473.2,520.2C473.3,518.9 474.1,517.8 475.1,517.2C476,516.6 477.6,516.4 478.9,516.4C480.2,516.5 481.9,516.9 482.7,517.6C483.6,518.4 484,519.9 484,521C484,522.2 483.7,523.7 482.7,524.4C481.8,525.2 479.8,525.5 478.5,525.6C477.1,525.7 475.5,525.8 474.7,524.9C473.8,523.9 473.1,521.5 473.2,520.2Z" fill="#7fc9e3" stroke="none" stroke-width="0.4" opacity="1"/>
<path d="M474.4,520.4C474.4,519.4 475.1,518.6 475.8,518.1C476.6,517.6 477.8,517.4 478.8,517.5C479.8,517.6 481.1,517.8 481.8,518.4C482.4,519 482.8,520.2 482.8,521.1C482.8,521.9 482.5,523.1 481.8,523.7C481.1,524.3 479.5,524.6 478.5,524.6C477.4,524.7 476.2,524.7 475.5,524C474.8,523.3 474.3,521.4 474.4,520.4Z" fill="#66c36a" stroke="none" stroke-width="0.4" opacity="1"/>
<path d="M475.5,520.6C475.5,519.9 476,519.3 476.5,518.9C477.1,518.6 478,518.5 478.7,518.5C479.4,518.6 480.4,518.8 480.8,519.2C481.3,519.6 481.6,520.5 481.6,521.1C481.6,521.7 481.4,522.6 480.8,523C480.3,523.5 479.2,523.7 478.4,523.7C477.7,523.7 476.8,523.8 476.3,523.3C475.8,522.8 475.4,521.3 475.5,520.6Z" fill="#e6e23c" stroke="none" stroke-width="0.4" opacity="1"/>
<path d="M476.4,520.8C476.5,520.3 476.8,519.9 477.2,519.7C477.5,519.5 478.1,519.4 478.6,519.4C479.1,519.4 479.7,519.6 480,519.9C480.4,520.1 480.5,520.7 480.5,521.1C480.5,521.6 480.4,522.1 480,522.4C479.7,522.7 478.9,522.8 478.4,522.9C477.9,522.9 477.3,522.9 477,522.6C476.7,522.2 476.4,521.3 476.4,520.8Z" fill="#f39b33" stroke="none" stroke-width="0.4" opacity="1"/>
<path d="M477.3,521C477.3,520.7 477.5,520.5 477.7,520.4C477.9,520.2 478.2,520.2 478.5,520.2C478.8,520.2 479.1,520.3 479.3,520.4C479.5,520.6 479.6,520.9 479.6,521.2C479.6,521.4 479.5,521.7 479.3,521.9C479.1,522 478.7,522.1 478.4,522.1C478.1,522.2 477.8,522.2 477.6,522C477.4,521.8 477.3,521.3 477.3,521Z" fill="#e2452d" stroke="none" stroke-width="0.4" opacity="1"/>
<line x1="443.6" y1="482" x2="443.6" y2="539.2" stroke="#555" stroke-width="0.55" />
<line x1="443.6" y1="539.2" x2="498" y2="539.2" stroke="#555" stroke-width="0.55" />
<text x="442.6" y="487.4" font-size="2" fill="#555" text-anchor="end" stroke="#555" stroke-width="0.16">10³</text>
<line x1="442.9" y1="486.5" x2="443.6" y2="486.5" stroke="#777" stroke-width="0.3" />
<text x="442.6" y="500.9" font-size="2" fill="#555" text-anchor="end" stroke="#555" stroke-width="0.16">10²</text>
<line x1="442.9" y1="500" x2="443.6" y2="500" stroke="#777" stroke-width="0.3" />
<text x="442.6" y="515.9" font-size="2" fill="#555" text-anchor="end" stroke="#555" stroke-width="0.16">10¹</text>
<line x1="442.9" y1="515" x2="443.6" y2="515" stroke="#777" stroke-width="0.3" />
<text x="442.6" y="523.4" font-size="2" fill="#555" text-anchor="end" stroke="#555" stroke-width="0.16">−10¹</text>
<line x1="442.9" y1="522.5" x2="443.6" y2="522.5" stroke="#777" stroke-width="0.3" />
<text x="442.6" y="531.9" font-size="2" fill="#555" text-anchor="end" stroke="#555" stroke-width="0.16">−10²</text>
<line x1="442.9" y1="531" x2="443.6" y2="531" stroke="#777" stroke-width="0.3" />
<text x="447" y="542.6" font-size="2" fill="#555" text-anchor="middle" stroke="#555" stroke-width="0.16">−10²</text>
<text x="453.5" y="542.6" font-size="2" fill="#555" text-anchor="middle" stroke="#555" stroke-width="0.16">10¹</text>
<text x="467.5" y="542.6" font-size="2" fill="#555" text-anchor="middle" stroke="#555" stroke-width="0.16">10²</text>
<text x="480.5" y="542.6" font-size="2" fill="#555" text-anchor="middle" stroke="#555" stroke-width="0.16">10³</text>
<text x="492" y="542.6" font-size="2" fill="#555" text-anchor="middle" stroke="#555" stroke-width="0.16">10⁴</text>
<line x1="471.1" y1="478" x2="471.1" y2="539.2" stroke="#8a8a8a" stroke-width="0.45" />
<line x1="443.6" y1="514.1" x2="499" y2="514.1" stroke="#8a8a8a" stroke-width="0.45" />
<text x="444.6" y="482.8" font-size="5.3" fill="#222" stroke="#222" stroke-width="0.16">2,33%</text>
<text x="505.6" y="482.8" font-size="5.3" fill="#222" text-anchor="end" stroke="#222" stroke-width="0.16">21,02%</text>
<text x="444.6" y="537.8" font-size="5.3" fill="#222" stroke="#222" stroke-width="0.16">7,15%</text>
<text x="505.6" y="537.8" font-size="5.3" fill="#222" text-anchor="end" stroke="#222" stroke-width="0.16">69,50%</text>
<rect x="458.8" y="648.57" width="9.3" height="2.93" fill="#2a2a2a" stroke="none" stroke-width="0.8" />
<rect x="472.5" y="649.16" width="9.3" height="2.34" fill="#f6c48a" stroke="none" stroke-width="0.8" />
<rect x="486.2" y="649.74" width="9.4" height="1.76" fill="#b59ccf" stroke="none" stroke-width="0.8" />
<rect x="499.9" y="611.07" width="8.6" height="40.43" fill="#a9d18e" stroke="none" stroke-width="0.8" />
<line x1="454.4" y1="590.3" x2="454.4" y2="651.5" stroke="#2a2a2a" stroke-width="1" />
<line x1="453.9" y1="651.5" x2="513.6" y2="651.5" stroke="#2a2a2a" stroke-width="1" />
<line x1="452.2" y1="651.5" x2="454.4" y2="651.5" stroke="#333" stroke-width="0.7" />
<text x="451.4" y="653.7" font-size="6.2" fill="#333" text-anchor="end" stroke="#333" stroke-width="0.16">0</text>
<line x1="452.2" y1="631.97" x2="454.4" y2="631.97" stroke="#333" stroke-width="0.7" />
<text x="451.4" y="634.17" font-size="6.2" fill="#333" text-anchor="end" stroke="#333" stroke-width="0.16">10</text>
<line x1="452.2" y1="612.43" x2="454.4" y2="612.43" stroke="#333" stroke-width="0.7" />
<text x="451.4" y="614.63" font-size="6.2" fill="#333" text-anchor="end" stroke="#333" stroke-width="0.16">20</text>
<line x1="452.2" y1="592.9" x2="454.4" y2="592.9" stroke="#333" stroke-width="0.7" />
<text x="451.4" y="595.1" font-size="6.2" fill="#333" text-anchor="end" stroke="#333" stroke-width="0.16">30</text>
<line x1="463.45" y1="651.5" x2="463.45" y2="653.1" stroke="#333" stroke-width="0.7" />
<line x1="463.45" y1="651.11" x2="463.45" y2="642.51" stroke="#111" stroke-width="0.6" />
<line x1="461.25" y1="651.11" x2="465.65" y2="651.11" stroke="#111" stroke-width="0.6" />
<line x1="461.25" y1="642.51" x2="465.65" y2="642.51" stroke="#111" stroke-width="0.6" />
<circle cx="463.45" cy="642.51" r="1.65" fill="#111"/>
<circle cx="460.45" cy="648.37" r="1.65" fill="#111"/>
<circle cx="466.45" cy="648.37" r="1.65" fill="#111"/>
<circle cx="463.45" cy="650.33" r="1.65" fill="#111"/>
<line x1="477.15" y1="651.5" x2="477.15" y2="653.1" stroke="#333" stroke-width="0.7" />
<line x1="477.15" y1="651.3" x2="477.15" y2="642.91" stroke="#c98a3a" stroke-width="0.6" />
<line x1="474.95" y1="651.3" x2="479.35" y2="651.3" stroke="#c98a3a" stroke-width="0.6" />
<line x1="474.95" y1="642.91" x2="479.35" y2="642.91" stroke="#c98a3a" stroke-width="0.6" />
<circle cx="477.15" cy="642.91" r="1.65" fill="#f0a24a"/>
<circle cx="474.15" cy="648.77" r="1.65" fill="#f0a24a"/>
<circle cx="480.15" cy="648.96" r="1.65" fill="#f0a24a"/>
<circle cx="477.15" cy="650.72" r="1.65" fill="#f0a24a"/>
<line x1="490.9" y1="651.5" x2="490.9" y2="653.1" stroke="#333" stroke-width="0.7" />
<line x1="490.9" y1="651.11" x2="490.9" y2="647.4" stroke="#7c5a9c" stroke-width="0.6" />
<line x1="488.7" y1="651.11" x2="493.1" y2="651.11" stroke="#7c5a9c" stroke-width="0.6" />
<line x1="488.7" y1="647.4" x2="493.1" y2="647.4" stroke="#7c5a9c" stroke-width="0.6" />
<circle cx="487.9" cy="649.55" r="1.65" fill="#7c5a9c"/>
<circle cx="490.9" cy="648.18" r="1.65" fill="#7c5a9c"/>
<circle cx="493.9" cy="649.94" r="1.65" fill="#7c5a9c"/>
<circle cx="490.9" cy="650.91" r="1.65" fill="#7c5a9c"/>
<line x1="504.2" y1="651.5" x2="504.2" y2="653.1" stroke="#333" stroke-width="0.7" />
<line x1="504.2" y1="616.34" x2="504.2" y2="603.84" stroke="#3f7a3f" stroke-width="0.6" />
<line x1="502" y1="616.34" x2="506.4" y2="616.34" stroke="#3f7a3f" stroke-width="0.6" />
<line x1="502" y1="603.84" x2="506.4" y2="603.84" stroke="#3f7a3f" stroke-width="0.6" />
<circle cx="501" cy="609.5" r="1.65" fill="#3f8a3f"/>
<circle cx="507.4" cy="609.5" r="1.65" fill="#3f8a3f"/>
<circle cx="504.2" cy="618.49" r="1.65" fill="#3f8a3f"/>
<circle cx="504.2" cy="604.62" r="1.65" fill="#3f8a3f"/>
<text x="437" y="618.5" font-size="7.4" fill="#333" text-anchor="middle" textLength="65.4" lengthAdjust="spacingAndGlyphs" transform="rotate(-90 437 618.5)" stroke="#333" stroke-width="0.16">%CD1a<tspan dy="-2.4" font-size="4.6">+</tspan><tspan dy="2.4">/CD207</tspan><tspan dy="-2.4" font-size="4.6">+</tspan><tspan dy="2.4"> cells</tspan></text>
<text x="464.8" y="658.3" font-size="6.7" fill="#333" text-anchor="end" transform="rotate(-45 464.8 658.3)" stroke="#333" stroke-width="0.16">CD14<tspan dy="-1.9" font-size="3.6">−</tspan><tspan dy="1.9">/CD1c</tspan><tspan dy="-1.9" font-size="3.6">−</tspan><tspan dy="1.9"></tspan></text>
<text x="479.4" y="658.3" font-size="6.7" fill="#333" text-anchor="end" transform="rotate(-45 479.4 658.3)" stroke="#333" stroke-width="0.16">CD14<tspan dy="-1.9" font-size="3.6">low</tspan><tspan dy="1.9">/CD1c</tspan><tspan dy="-1.9" font-size="3.6">−</tspan><tspan dy="1.9"></tspan></text>
<text x="494" y="658.3" font-size="6.7" fill="#333" text-anchor="end" transform="rotate(-45 494 658.3)" stroke="#333" stroke-width="0.16">CD14<tspan dy="-1.9" font-size="3.6">high</tspan><tspan dy="1.9">/CD1c</tspan><tspan dy="-1.9" font-size="3.6">int</tspan><tspan dy="1.9"></tspan></text>
<text x="508" y="658.3" font-size="6.7" fill="#333" text-anchor="end" transform="rotate(-45 508 658.3)" stroke="#333" stroke-width="0.16">CD14<tspan dy="-1.9" font-size="3.6">low</tspan><tspan dy="1.9">/CD1c</tspan><tspan dy="-1.9" font-size="3.6">+</tspan><tspan dy="1.9"></tspan></text>
</g>
</svg>
</body></html>
